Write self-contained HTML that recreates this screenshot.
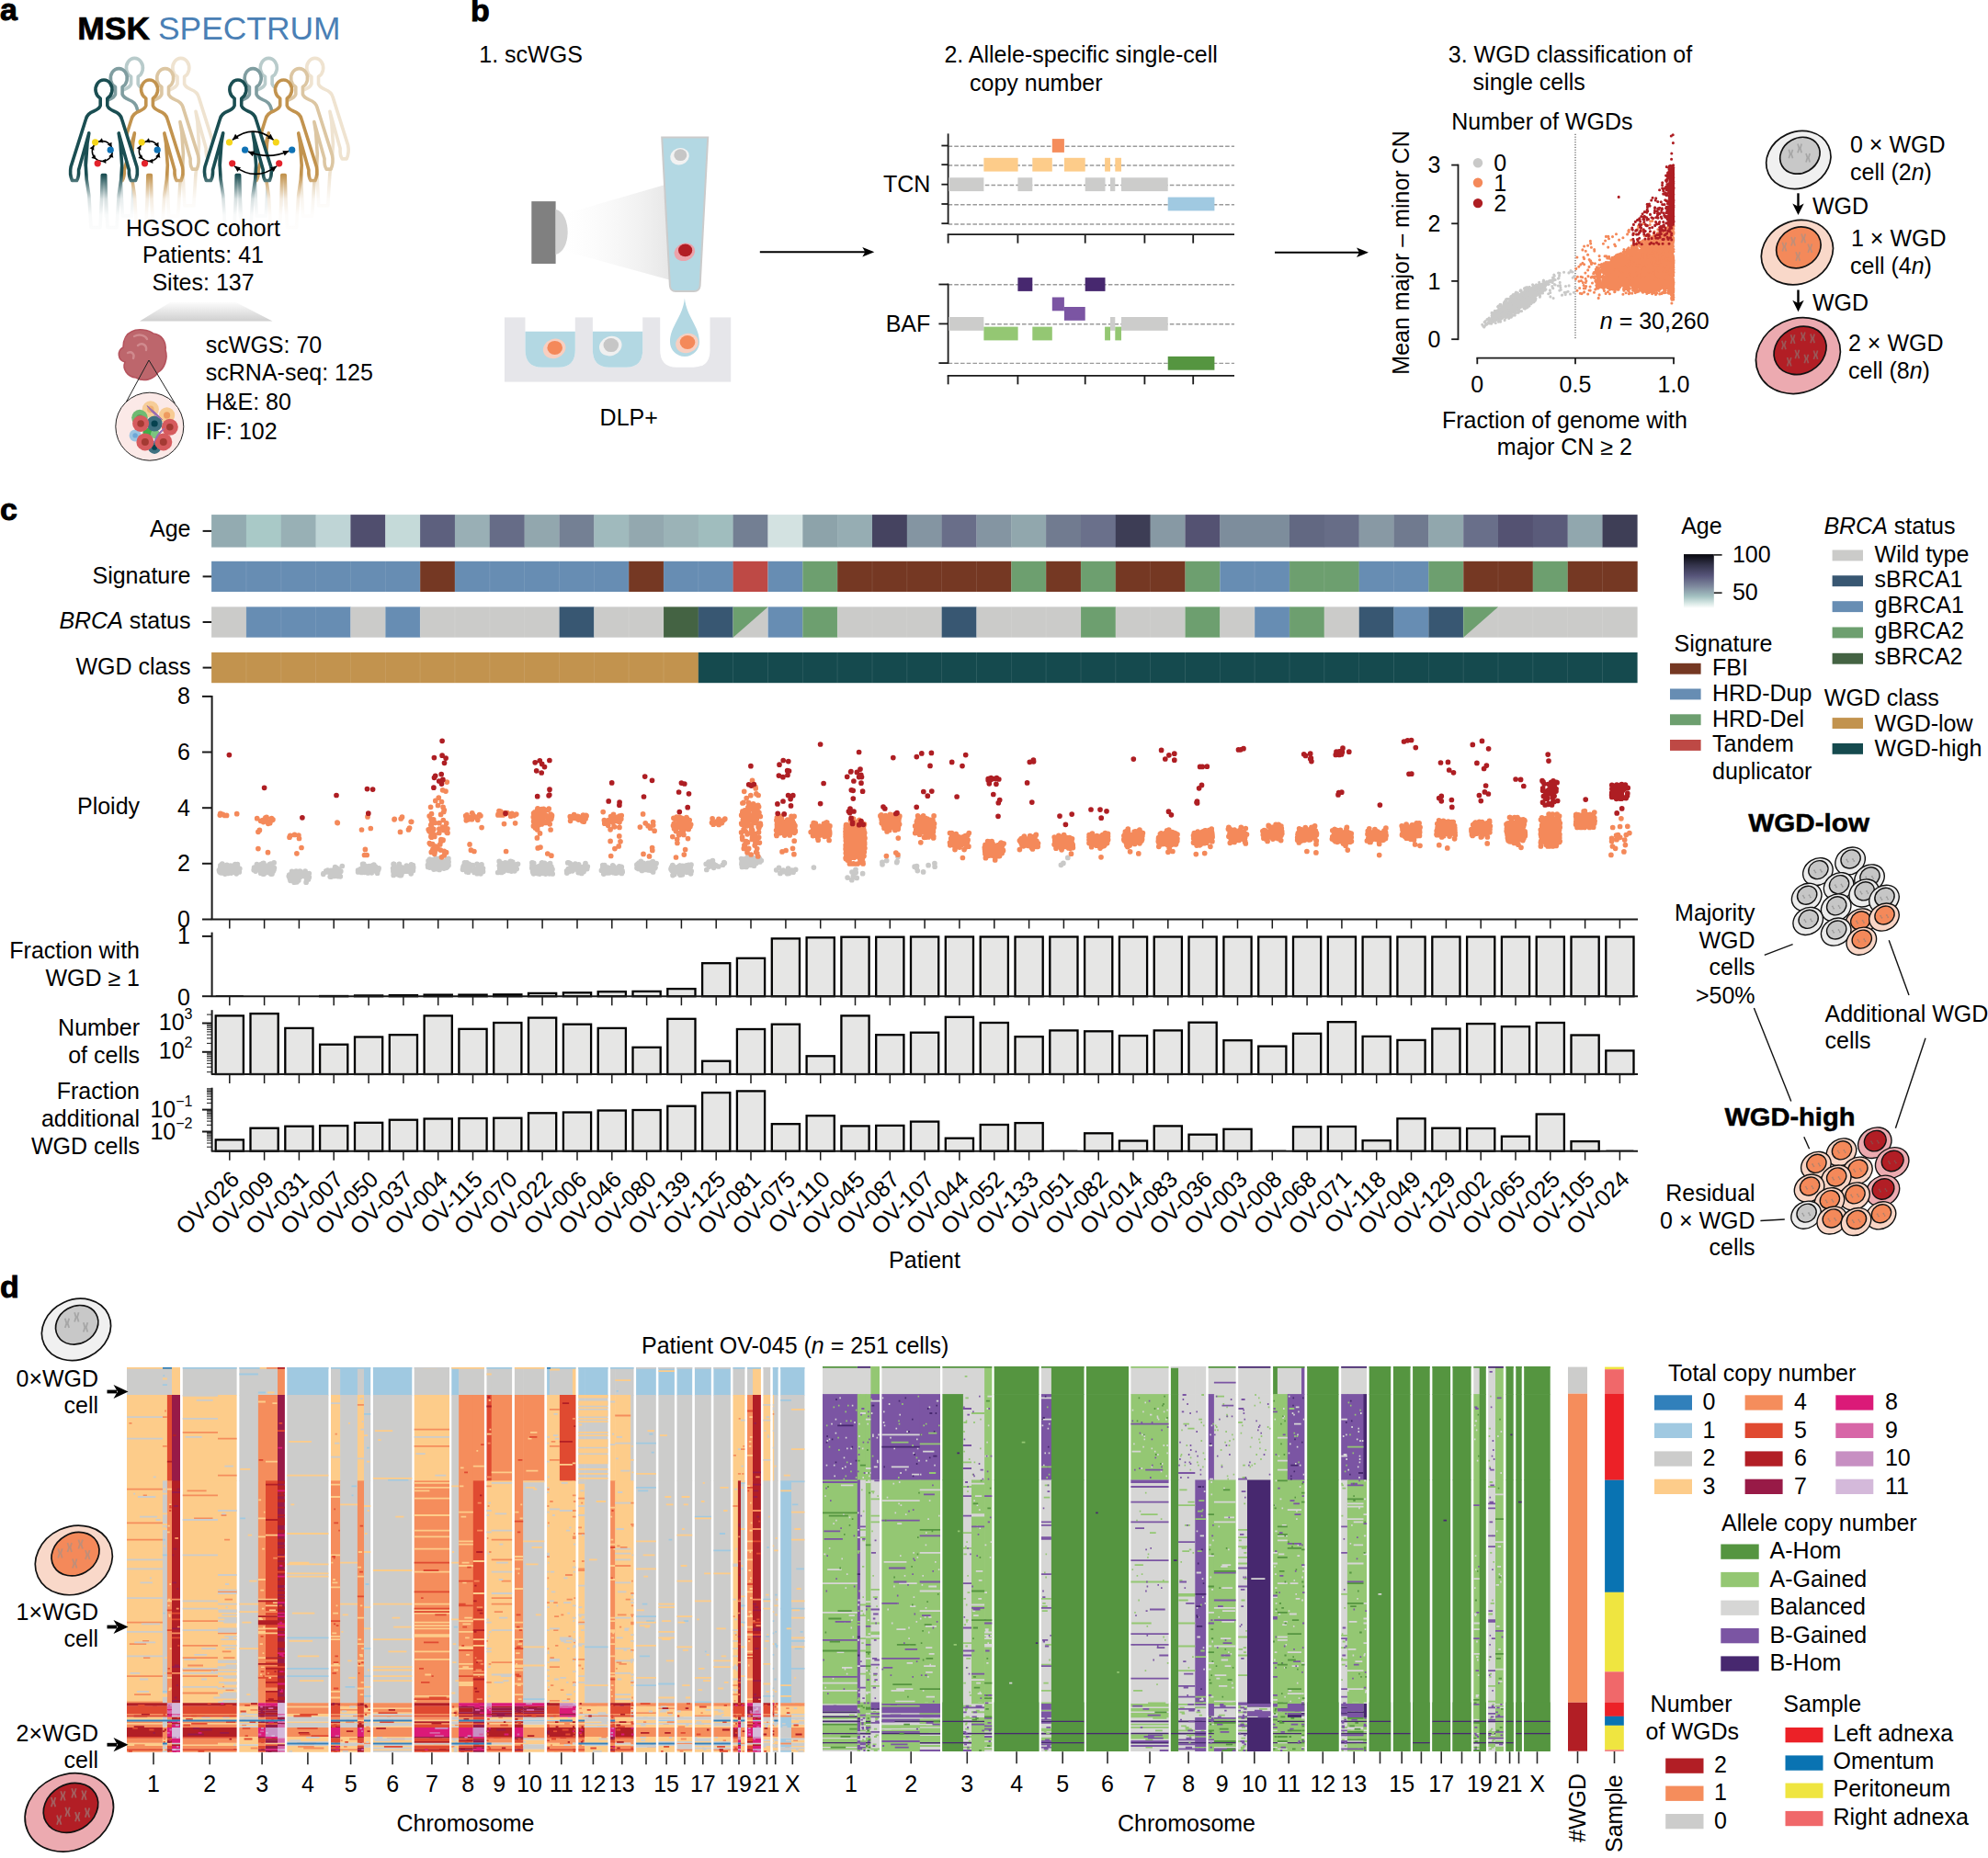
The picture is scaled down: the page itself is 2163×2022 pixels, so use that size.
<!DOCTYPE html>
<html><head><meta charset="utf-8"><title>Figure</title>
<style>html,body{margin:0;padding:0;background:#fff}svg{display:block}text{font-family:"Liberation Sans",sans-serif;fill:#000}</style>
</head><body>
<svg width="2163" height="2022" viewBox="0 0 2163 2022">
<g id="pa">
<text x="0" y="22" font-size="34" font-weight="bold" stroke="#000" stroke-width="0.9">a</text>
<text x="84.3" y="43" font-size="35" font-weight="bold" textLength="78.8" lengthAdjust="spacingAndGlyphs" stroke="#000" stroke-width="0.7">MSK</text>
<text x="172" y="43" font-size="35" style="fill:#4a80b5" textLength="198.6" lengthAdjust="spacingAndGlyphs">SPECTRUM</text>
<path d="M-3.8 17.5L-3.8 9.5A9 10.5 0 1 1 3.8 9.5L3.8 17.5Q5 21 11 23.5Q18 26 19.5 32L35.9 84Q37.5 92 34.5 99L29.5 99Q27 95 27.4 87.6L16.2 47.4L18 58.5L19.7 82.4L18.8 97.8L16.2 115L14 150L4 150L2.4 118L1.7 93L-1.7 93L-2.4 118L-4 150L-14 150L-16.2 115L-18.8 97.8L-19.7 82.4L-18 58.5L-16.2 47.4L-27.4 87.6Q-27 95 -29.5 99L-34.5 99Q-37.5 92 -35.9 84L-19.5 32Q-18 26 -11 23.5Q-5 21 -3.8 17.5Z" transform="translate(146.4,73.9) scale(1.0)" fill="#fff" stroke="#b8cbcb" stroke-width="3.6" stroke-linejoin="round"/>
<path d="M-3.8 17.5L-3.8 9.5A9 10.5 0 1 1 3.8 9.5L3.8 17.5Q5 21 11 23.5Q18 26 19.5 32L35.9 84Q37.5 92 34.5 99L29.5 99Q27 95 27.4 87.6L16.2 47.4L18 58.5L19.7 82.4L18.8 97.8L16.2 115L14 150L4 150L2.4 118L1.7 93L-1.7 93L-2.4 118L-4 150L-14 150L-16.2 115L-18.8 97.8L-19.7 82.4L-18 58.5L-16.2 47.4L-27.4 87.6Q-27 95 -29.5 99L-34.5 99Q-37.5 92 -35.9 84L-19.5 32Q-18 26 -11 23.5Q-5 21 -3.8 17.5Z" transform="translate(196.8,73.9) scale(1.0)" fill="#fff" stroke="#efe3d0" stroke-width="3.6" stroke-linejoin="round"/>
<path d="M-3.8 17.5L-3.8 9.5A9 10.5 0 1 1 3.8 9.5L3.8 17.5Q5 21 11 23.5Q18 26 19.5 32L35.9 84Q37.5 92 34.5 99L29.5 99Q27 95 27.4 87.6L16.2 47.4L18 58.5L19.7 82.4L18.8 97.8L16.2 115L14 150L4 150L2.4 118L1.7 93L-1.7 93L-2.4 118L-4 150L-14 150L-16.2 115L-18.8 97.8L-19.7 82.4L-18 58.5L-16.2 47.4L-27.4 87.6Q-27 95 -29.5 99L-34.5 99Q-37.5 92 -35.9 84L-19.5 32Q-18 26 -11 23.5Q-5 21 -3.8 17.5Z" transform="translate(129.3,85.1) scale(1.0)" fill="#fff" stroke="#7f9da0" stroke-width="3.6" stroke-linejoin="round"/>
<path d="M-3.8 17.5L-3.8 9.5A9 10.5 0 1 1 3.8 9.5L3.8 17.5Q5 21 11 23.5Q18 26 19.5 32L35.9 84Q37.5 92 34.5 99L29.5 99Q27 95 27.4 87.6L16.2 47.4L18 58.5L19.7 82.4L18.8 97.8L16.2 115L14 150L4 150L2.4 118L1.7 93L-1.7 93L-2.4 118L-4 150L-14 150L-16.2 115L-18.8 97.8L-19.7 82.4L-18 58.5L-16.2 47.4L-27.4 87.6Q-27 95 -29.5 99L-34.5 99Q-37.5 92 -35.9 84L-19.5 32Q-18 26 -11 23.5Q-5 21 -3.8 17.5Z" transform="translate(179.7,85.1) scale(1.0)" fill="#fff" stroke="#dcc6a2" stroke-width="3.6" stroke-linejoin="round"/>
<path d="M-3.8 17.5L-3.8 9.5A9 10.5 0 1 1 3.8 9.5L3.8 17.5Q5 21 11 23.5Q18 26 19.5 32L35.9 84Q37.5 92 34.5 99L29.5 99Q27 95 27.4 87.6L16.2 47.4L18 58.5L19.7 82.4L18.8 97.8L16.2 115L14 150L4 150L2.4 118L1.7 93L-1.7 93L-2.4 118L-4 150L-14 150L-16.2 115L-18.8 97.8L-19.7 82.4L-18 58.5L-16.2 47.4L-27.4 87.6Q-27 95 -29.5 99L-34.5 99Q-37.5 92 -35.9 84L-19.5 32Q-18 26 -11 23.5Q-5 21 -3.8 17.5Z" transform="translate(162.6,97.5) scale(1.0)" fill="#fff" stroke="#c2934e" stroke-width="3.6" stroke-linejoin="round"/>
<path d="M-3.8 17.5L-3.8 9.5A9 10.5 0 1 1 3.8 9.5L3.8 17.5Q5 21 11 23.5Q18 26 19.5 32L35.9 84Q37.5 92 34.5 99L29.5 99Q27 95 27.4 87.6L16.2 47.4L18 58.5L19.7 82.4L18.8 97.8L16.2 115L14 150L4 150L2.4 118L1.7 93L-1.7 93L-2.4 118L-4 150L-14 150L-16.2 115L-18.8 97.8L-19.7 82.4L-18 58.5L-16.2 47.4L-27.4 87.6Q-27 95 -29.5 99L-34.5 99Q-37.5 92 -35.9 84L-19.5 32Q-18 26 -11 23.5Q-5 21 -3.8 17.5Z" transform="translate(113,97.5) scale(1.0)" fill="#fff" stroke="#1a4e52" stroke-width="3.6" stroke-linejoin="round"/>
<path d="M-3.8 17.5L-3.8 9.5A9 10.5 0 1 1 3.8 9.5L3.8 17.5Q5 21 11 23.5Q18 26 19.5 32L35.9 84Q37.5 92 34.5 99L29.5 99Q27 95 27.4 87.6L16.2 47.4L18 58.5L19.7 82.4L18.8 97.8L16.2 115L14 150L4 150L2.4 118L1.7 93L-1.7 93L-2.4 118L-4 150L-14 150L-16.2 115L-18.8 97.8L-19.7 82.4L-18 58.5L-16.2 47.4L-27.4 87.6Q-27 95 -29.5 99L-34.5 99Q-37.5 92 -35.9 84L-19.5 32Q-18 26 -11 23.5Q-5 21 -3.8 17.5Z" transform="translate(292.3,73.9) scale(1.0)" fill="#fff" stroke="#b8cbcb" stroke-width="3.6" stroke-linejoin="round"/>
<path d="M-3.8 17.5L-3.8 9.5A9 10.5 0 1 1 3.8 9.5L3.8 17.5Q5 21 11 23.5Q18 26 19.5 32L35.9 84Q37.5 92 34.5 99L29.5 99Q27 95 27.4 87.6L16.2 47.4L18 58.5L19.7 82.4L18.8 97.8L16.2 115L14 150L4 150L2.4 118L1.7 93L-1.7 93L-2.4 118L-4 150L-14 150L-16.2 115L-18.8 97.8L-19.7 82.4L-18 58.5L-16.2 47.4L-27.4 87.6Q-27 95 -29.5 99L-34.5 99Q-37.5 92 -35.9 84L-19.5 32Q-18 26 -11 23.5Q-5 21 -3.8 17.5Z" transform="translate(342.7,73.9) scale(1.0)" fill="#fff" stroke="#efe3d0" stroke-width="3.6" stroke-linejoin="round"/>
<path d="M-3.8 17.5L-3.8 9.5A9 10.5 0 1 1 3.8 9.5L3.8 17.5Q5 21 11 23.5Q18 26 19.5 32L35.9 84Q37.5 92 34.5 99L29.5 99Q27 95 27.4 87.6L16.2 47.4L18 58.5L19.7 82.4L18.8 97.8L16.2 115L14 150L4 150L2.4 118L1.7 93L-1.7 93L-2.4 118L-4 150L-14 150L-16.2 115L-18.8 97.8L-19.7 82.4L-18 58.5L-16.2 47.4L-27.4 87.6Q-27 95 -29.5 99L-34.5 99Q-37.5 92 -35.9 84L-19.5 32Q-18 26 -11 23.5Q-5 21 -3.8 17.5Z" transform="translate(275.2,85.1) scale(1.0)" fill="#fff" stroke="#7f9da0" stroke-width="3.6" stroke-linejoin="round"/>
<path d="M-3.8 17.5L-3.8 9.5A9 10.5 0 1 1 3.8 9.5L3.8 17.5Q5 21 11 23.5Q18 26 19.5 32L35.9 84Q37.5 92 34.5 99L29.5 99Q27 95 27.4 87.6L16.2 47.4L18 58.5L19.7 82.4L18.8 97.8L16.2 115L14 150L4 150L2.4 118L1.7 93L-1.7 93L-2.4 118L-4 150L-14 150L-16.2 115L-18.8 97.8L-19.7 82.4L-18 58.5L-16.2 47.4L-27.4 87.6Q-27 95 -29.5 99L-34.5 99Q-37.5 92 -35.9 84L-19.5 32Q-18 26 -11 23.5Q-5 21 -3.8 17.5Z" transform="translate(325.6,85.1) scale(1.0)" fill="#fff" stroke="#dcc6a2" stroke-width="3.6" stroke-linejoin="round"/>
<path d="M-3.8 17.5L-3.8 9.5A9 10.5 0 1 1 3.8 9.5L3.8 17.5Q5 21 11 23.5Q18 26 19.5 32L35.9 84Q37.5 92 34.5 99L29.5 99Q27 95 27.4 87.6L16.2 47.4L18 58.5L19.7 82.4L18.8 97.8L16.2 115L14 150L4 150L2.4 118L1.7 93L-1.7 93L-2.4 118L-4 150L-14 150L-16.2 115L-18.8 97.8L-19.7 82.4L-18 58.5L-16.2 47.4L-27.4 87.6Q-27 95 -29.5 99L-34.5 99Q-37.5 92 -35.9 84L-19.5 32Q-18 26 -11 23.5Q-5 21 -3.8 17.5Z" transform="translate(308.5,97.5) scale(1.0)" fill="#fff" stroke="#c2934e" stroke-width="3.6" stroke-linejoin="round"/>
<path d="M-3.8 17.5L-3.8 9.5A9 10.5 0 1 1 3.8 9.5L3.8 17.5Q5 21 11 23.5Q18 26 19.5 32L35.9 84Q37.5 92 34.5 99L29.5 99Q27 95 27.4 87.6L16.2 47.4L18 58.5L19.7 82.4L18.8 97.8L16.2 115L14 150L4 150L2.4 118L1.7 93L-1.7 93L-2.4 118L-4 150L-14 150L-16.2 115L-18.8 97.8L-19.7 82.4L-18 58.5L-16.2 47.4L-27.4 87.6Q-27 95 -29.5 99L-34.5 99Q-37.5 92 -35.9 84L-19.5 32Q-18 26 -11 23.5Q-5 21 -3.8 17.5Z" transform="translate(258.9,97.5) scale(1.0)" fill="#fff" stroke="#1a4e52" stroke-width="3.6" stroke-linejoin="round"/>
<defs><linearGradient id="fade" x1="0" y1="0" x2="0" y2="1"><stop offset="0" stop-color="#fff" stop-opacity="0"/><stop offset="0.33" stop-color="#fff" stop-opacity="0.82"/><stop offset="0.55" stop-color="#fff" stop-opacity="0.97"/><stop offset="1" stop-color="#fff"/></linearGradient><linearGradient id="tri" x1="0" y1="0" x2="0" y2="1"><stop offset="0" stop-color="#d0d0d0" stop-opacity="0.05"/><stop offset="1" stop-color="#cfcfcf"/></linearGradient></defs>
<rect x="60" y="190" width="340" height="80" fill="url(#fade)"/>
<circle cx="111.3" cy="164.5" r="11" fill="none" stroke="#000" stroke-width="1.5"/>
<path d="M-2.2 -2.7L2.6 0L-2.2 2.7Z" fill="#000" transform="translate(101,160.6) rotate(299)"/>
<path d="M-2.2 -2.7L2.6 0L-2.2 2.7Z" fill="#000" transform="translate(109.6,153.6) rotate(163)"/>
<path d="M-2.2 -2.7L2.6 0L-2.2 2.7Z" fill="#000" transform="translate(120.2,158) rotate(61.6)"/>
<path d="M-2.2 -2.7L2.6 0L-2.2 2.7Z" fill="#000" transform="translate(121.4,168.9) rotate(-74.4)"/>
<path d="M-2.2 -2.7L2.6 0L-2.2 2.7Z" fill="#000" transform="translate(113.1,175.4) rotate(178.6)"/>
<path d="M-2.2 -2.7L2.6 0L-2.2 2.7Z" fill="#000" transform="translate(102.8,171.5) rotate(42.6)"/>
<circle cx="103.6" cy="154.8" r="3.6" fill="#f5d51a"/>
<circle cx="120.2" cy="163.2" r="3.6" fill="#0f72b5"/>
<circle cx="106.2" cy="177.8" r="3.6" fill="#e3222b"/>
<circle cx="162.3" cy="164.5" r="11" fill="none" stroke="#000" stroke-width="1.5"/>
<path d="M-2.2 -2.7L2.6 0L-2.2 2.7Z" fill="#000" transform="translate(152,160.6) rotate(299)"/>
<path d="M-2.2 -2.7L2.6 0L-2.2 2.7Z" fill="#000" transform="translate(160.6,153.6) rotate(163)"/>
<path d="M-2.2 -2.7L2.6 0L-2.2 2.7Z" fill="#000" transform="translate(171.2,158) rotate(61.6)"/>
<path d="M-2.2 -2.7L2.6 0L-2.2 2.7Z" fill="#000" transform="translate(172.4,168.9) rotate(-74.4)"/>
<path d="M-2.2 -2.7L2.6 0L-2.2 2.7Z" fill="#000" transform="translate(164.1,175.4) rotate(178.6)"/>
<path d="M-2.2 -2.7L2.6 0L-2.2 2.7Z" fill="#000" transform="translate(153.8,171.5) rotate(42.6)"/>
<circle cx="154.1" cy="154.8" r="3.6" fill="#f5d51a"/>
<circle cx="171.2" cy="163.2" r="3.6" fill="#0f72b5"/>
<circle cx="157.5" cy="177.8" r="3.6" fill="#e3222b"/>
<path d="M252.9 152.3Q275.3 134.1 297.7 152.3" fill="none" stroke="#000" stroke-width="1.6"/>
<path d="M0 0L-6.5 -3L-6.5 3Z" fill="#000" transform="translate(252.9,152.3) rotate(140.9)"/>
<path d="M0 0L-6.5 -3L-6.5 3Z" fill="#000" transform="translate(297.7,152.3) rotate(39.1)"/>
<path d="M270 164.9Q292.2 174.1 314.5 164.2" fill="none" stroke="#000" stroke-width="1.6"/>
<path d="M0 0L-6.5 -3L-6.5 3Z" fill="#000" transform="translate(270,164.9) rotate(-157.6)"/>
<path d="M0 0L-6.5 -3L-6.5 3Z" fill="#000" transform="translate(314.5,164.2) rotate(-23.9)"/>
<path d="M255 180.8Q278.1 198 301.1 180.8" fill="none" stroke="#000" stroke-width="1.6"/>
<path d="M0 0L-6.5 -3L-6.5 3Z" fill="#000" transform="translate(255,180.8) rotate(-143.3)"/>
<path d="M0 0L-6.5 -3L-6.5 3Z" fill="#000" transform="translate(301.1,180.8) rotate(-36.7)"/>
<circle cx="249.5" cy="154.8" r="3.6" fill="#f5d51a"/>
<circle cx="266.6" cy="163.2" r="3.6" fill="#0f72b5"/>
<circle cx="252.7" cy="177.8" r="3.6" fill="#e3222b"/>
<circle cx="300.3" cy="154.8" r="3.6" fill="#f5d51a"/>
<circle cx="317.7" cy="163.2" r="3.6" fill="#0f72b5"/>
<circle cx="303.7" cy="177.8" r="3.6" fill="#e3222b"/>
<text x="221" y="256.7" font-size="25" text-anchor="middle">HGSOC cohort</text>
<text x="221" y="286.3" font-size="25" text-anchor="middle">Patients: 41</text>
<text x="221" y="316" font-size="25" text-anchor="middle">Sites: 137</text>
<polygon points="186,328.5 255.8,328.5 296.5,349.4 152,349.4" fill="url(#tri)"/>
<path d="M143 361C150 357 162 359 167 363C176 364 181 372 180 381C183 390 179 401 172 405C168 413 156 416 148 411C138 410 133 401 136 394C128 392 127 382 134 378C134 369 138 363 143 361Z" fill="#bd666c" stroke="#b5535d" stroke-width="1.6"/>
<path d="M146 366C152 363 158 365 160 369M150 376C155 372 160 376 159 381M139 384C143 382 147 385 145 390" stroke="#d08a8e" stroke-width="2.4" fill="none" stroke-linecap="round"/>
<line x1="162" y1="392" x2="137.3" y2="437.5" stroke="#222" stroke-width="1"/>
<line x1="162" y1="392" x2="190.3" y2="439" stroke="#222" stroke-width="1"/>
<circle cx="162.8" cy="464.2" r="37" fill="#fbe9e7" stroke="#222" stroke-width="1"/>
<circle cx="163.8" cy="445.4" r="9.1" fill="#f6cd98"/><circle cx="163.8" cy="445.4" r="3.8" fill="#f0b073"/>
<circle cx="181.6" cy="451.9" r="8.6" fill="#f7cb93"/><circle cx="181.6" cy="451.9" r="3.6" fill="#ee9b5f"/>
<circle cx="152" cy="454.6" r="8.8" fill="#6fba72"/><circle cx="152" cy="454.6" r="3.7" fill="#56a35b"/>
<circle cx="147.1" cy="473.9" r="6.5" fill="#9bc4e2"/><circle cx="147.1" cy="473.9" r="2.7" fill="#6ea6d6"/>
<circle cx="160.6" cy="470.7" r="5.2" fill="#3fae49"/><circle cx="160.6" cy="470.7" r="2.2" fill="#3fae49"/>
<circle cx="169" cy="472.5" r="5" fill="#7cc47f"/><circle cx="169" cy="472.5" r="2.1" fill="#7cc47f"/>
<circle cx="168.1" cy="486.9" r="7" fill="#3f7080"/><circle cx="168.1" cy="486.9" r="2.9" fill="#06424f"/>
<circle cx="168.1" cy="461" r="8.6" fill="#3f7080"/><circle cx="168.1" cy="461" r="3.6" fill="#06424f"/>
<circle cx="153.1" cy="461" r="9" fill="#d65b5e"/><circle cx="153.1" cy="461" r="3.8" fill="#a43a33"/>
<circle cx="184.8" cy="464.8" r="9" fill="#d65b5e"/><circle cx="184.8" cy="464.8" r="3.8" fill="#a43a33"/>
<circle cx="157.9" cy="480.9" r="9.5" fill="#d65b5e"/><circle cx="157.9" cy="480.9" r="4" fill="#a43a33"/>
<circle cx="177.8" cy="480.9" r="9.5" fill="#d65b5e"/><circle cx="177.8" cy="480.9" r="4" fill="#a43a33"/>
<path d="M160 441.6Q170 449 176.7 456.7Q167 452 160 441.6ZM178.9 466.4Q172 473 167.6 481.5Q171 470 178.9 466.4Z" fill="#9a6db0" stroke="#9a6db0" stroke-width="1"/>
<text x="223.8" y="384.4" font-size="25">scWGS: 70</text>
<text x="223.8" y="414.2" font-size="25">scRNA-seq: 125</text>
<text x="223.8" y="445.6" font-size="25">H&amp;E: 80</text>
<text x="223.8" y="477.6" font-size="25">IF: 102</text>
</g>
<g id="pb">
<text x="512" y="23" font-size="34" font-weight="bold" stroke="#000" stroke-width="0.9">b</text>
<text x="521.3" y="68" font-size="25">1. scWGS</text>
<text x="1027.4" y="68" font-size="25">2. Allele-specific single-cell</text>
<text x="1055" y="98.7" font-size="25">copy number</text>
<text x="1575.8" y="68.3" font-size="25">3. WGD classification of</text>
<text x="1602.6" y="98" font-size="25">single cells</text>
<text x="684.2" y="462.7" font-size="25" text-anchor="middle">DLP+</text>
<line x1="826.8" y1="274.3" x2="945.3" y2="274.3" stroke="#000" stroke-width="2"/>
<path d="M951.3 274.3l-13 -5.2l3 5.2l-3 5.2z" fill="#000"/>
<line x1="1387" y1="274.8" x2="1483" y2="274.8" stroke="#000" stroke-width="2"/>
<path d="M1489 274.8l-13 -5.2l3 5.2l-3 5.2z" fill="#000"/>
<defs><linearGradient id="cone" x1="0" x2="1"><stop offset="0" stop-color="#fff" stop-opacity="0.2"/><stop offset="1" stop-color="#e6e6e6"/></linearGradient></defs>
<polygon points="610,234 722,201.5 730,305 610,272" fill="url(#cone)"/>
<rect x="578.3" y="219.1" width="26.3" height="67.9" fill="#808080"/>
<path d="M604.6 227.7 C622 232 622 273 604.6 277Z" fill="#d2d2d2"/>
<path d="M720.2 149.5L770.2 149.5L761.6 311Q761 317 755 317L735 317Q729.5 317 728.9 311Z" fill="#b3d8e3" stroke="#cbcbcb" stroke-width="2"/>
<ellipse cx="739.5" cy="170.2" rx="10.5" ry="9" fill="#f2f2f2" transform="rotate(-20 739.5 170.2)"/><ellipse cx="740.3" cy="168.7" rx="7" ry="6.4" fill="#c6c6c6"/>
<ellipse cx="744.9" cy="274.3" rx="11.5" ry="9.5" fill="#eba3ab" transform="rotate(-20 744.9 274.3)"/><ellipse cx="745.6" cy="272.4" rx="7.6" ry="6.8" fill="#b21e25"/>
<rect x="548.9" y="345.4" width="246.3" height="70.2" fill="#e6e6ea"/>
<path d="M571.5 345L625.8 345L625.8 381Q625.8 399.7 607.8 399.7L589.5 399.7Q571.5 399.7 571.5 381Z" fill="#fff"/>
<path d="M571.5 360.8L625.8 360.8L625.8 381Q625.8 399.7 607.8 399.7L589.5 399.7Q571.5 399.7 571.5 381Z" fill="#b3d8e3"/>
<path d="M644.9 345L699.2 345L699.2 381Q699.2 399.7 681.2 399.7L662.9 399.7Q644.9 399.7 644.9 381Z" fill="#fff"/>
<path d="M644.9 360.8L699.2 360.8L699.2 381Q699.2 399.7 681.2 399.7L662.9 399.7Q644.9 399.7 644.9 381Z" fill="#b3d8e3"/>
<path d="M718.2 345L772.5 345L772.5 381Q772.5 399.7 754.5 399.7L736.2 399.7Q718.2 399.7 718.2 381Z" fill="#fff"/>
<path d="M744.9 324.5C747 345 761 355 761 372A16 16 0 0 1 729 372C729 355 743 345 744.9 324.5Z" fill="#b3d8e3"/>
<ellipse cx="603.2" cy="379.4" rx="12.5" ry="10.5" fill="#f8cfc0" transform="rotate(-20 603.2 379.4)"/><ellipse cx="603.7" cy="378.4" rx="8.3" ry="7.5" fill="#f4895a"/>
<ellipse cx="664.3" cy="376.6" rx="12.5" ry="10.5" fill="#f0f0f0" transform="rotate(-20 664.3 376.6)"/><ellipse cx="664.8" cy="375.6" rx="8.3" ry="7.5" fill="#c6c6c6"/>
<ellipse cx="747.5" cy="373.5" rx="12.5" ry="10.5" fill="#f8cfc0" transform="rotate(-20 747.5 373.5)"/><ellipse cx="748" cy="372.5" rx="8.3" ry="7.5" fill="#f4895a"/>
<text x="1012.3" y="208.7" font-size="25" text-anchor="end">TCN</text>
<text x="1012.3" y="360.9" font-size="25" text-anchor="end">BAF</text>
<line x1="1031.6" y1="159.3" x2="1343" y2="159.3" stroke="#9a9a9a" stroke-width="1.4" stroke-dasharray="4.6 2.1"/>
<line x1="1024.4" y1="158.5" x2="1031.6" y2="158.5" stroke="#1a1a1a" stroke-width="1.8"/>
<line x1="1031.6" y1="180" x2="1343" y2="180" stroke="#9a9a9a" stroke-width="1.4" stroke-dasharray="4.6 2.1"/>
<line x1="1024.4" y1="179.2" x2="1031.6" y2="179.2" stroke="#1a1a1a" stroke-width="1.8"/>
<line x1="1031.6" y1="201.5" x2="1343" y2="201.5" stroke="#9a9a9a" stroke-width="1.4" stroke-dasharray="4.6 2.1"/>
<line x1="1024.4" y1="200.7" x2="1031.6" y2="200.7" stroke="#1a1a1a" stroke-width="1.8"/>
<line x1="1031.6" y1="222.8" x2="1343" y2="222.8" stroke="#9a9a9a" stroke-width="1.4" stroke-dasharray="4.6 2.1"/>
<line x1="1024.4" y1="222" x2="1031.6" y2="222" stroke="#1a1a1a" stroke-width="1.8"/>
<line x1="1031.6" y1="244" x2="1343" y2="244" stroke="#9a9a9a" stroke-width="1.4" stroke-dasharray="4.6 2.1"/>
<line x1="1024.4" y1="243.2" x2="1031.6" y2="243.2" stroke="#1a1a1a" stroke-width="1.8"/>
<line x1="1031.6" y1="145.4" x2="1031.6" y2="244" stroke="#1a1a1a" stroke-width="1.8"/>
<line x1="1031.6" y1="309.8" x2="1343" y2="309.8" stroke="#9a9a9a" stroke-width="1.4" stroke-dasharray="4.6 2.1"/>
<line x1="1021.4" y1="309.5" x2="1031.6" y2="309.5" stroke="#1a1a1a" stroke-width="1.8"/>
<line x1="1031.6" y1="352.7" x2="1343" y2="352.7" stroke="#9a9a9a" stroke-width="1.4" stroke-dasharray="4.6 2.1"/>
<line x1="1021.4" y1="352.4" x2="1031.6" y2="352.4" stroke="#1a1a1a" stroke-width="1.8"/>
<line x1="1031.6" y1="395.4" x2="1343" y2="395.4" stroke="#9a9a9a" stroke-width="1.4" stroke-dasharray="4.6 2.1"/>
<line x1="1021.4" y1="395.1" x2="1031.6" y2="395.1" stroke="#1a1a1a" stroke-width="1.8"/>
<line x1="1031.6" y1="308.6" x2="1031.6" y2="396" stroke="#1a1a1a" stroke-width="1.8"/>
<line x1="1030.7" y1="255.2" x2="1343" y2="255.2" stroke="#1a1a1a" stroke-width="1.8"/>
<line x1="1031.6" y1="255.2" x2="1031.6" y2="264.7" stroke="#1a1a1a" stroke-width="1.8"/>
<line x1="1107.4" y1="255.2" x2="1107.4" y2="264.7" stroke="#1a1a1a" stroke-width="1.8"/>
<line x1="1180.7" y1="255.2" x2="1180.7" y2="264.7" stroke="#1a1a1a" stroke-width="1.8"/>
<line x1="1245.4" y1="255.2" x2="1245.4" y2="264.7" stroke="#1a1a1a" stroke-width="1.8"/>
<line x1="1298.2" y1="255.2" x2="1298.2" y2="264.7" stroke="#1a1a1a" stroke-width="1.8"/>
<line x1="1030.7" y1="408.8" x2="1343" y2="408.8" stroke="#1a1a1a" stroke-width="1.8"/>
<line x1="1031.6" y1="408.8" x2="1031.6" y2="418.3" stroke="#1a1a1a" stroke-width="1.8"/>
<line x1="1107.4" y1="408.8" x2="1107.4" y2="418.3" stroke="#1a1a1a" stroke-width="1.8"/>
<line x1="1180.7" y1="408.8" x2="1180.7" y2="418.3" stroke="#1a1a1a" stroke-width="1.8"/>
<line x1="1245.4" y1="408.8" x2="1245.4" y2="418.3" stroke="#1a1a1a" stroke-width="1.8"/>
<line x1="1298.2" y1="408.8" x2="1298.2" y2="418.3" stroke="#1a1a1a" stroke-width="1.8"/>
<rect x="1144.8" y="151.1" width="13.1" height="14.8" fill="#f58d5c"/>
<rect x="1070.4" y="171.8" width="37.2" height="14.8" fill="#fdcc8a"/>
<rect x="1123.3" y="171.8" width="21.5" height="14.8" fill="#fdcc8a"/>
<rect x="1157.9" y="171.8" width="22.8" height="14.8" fill="#fdcc8a"/>
<rect x="1202.1" y="171.8" width="5.9" height="14.8" fill="#fdcc8a"/>
<rect x="1213.3" y="171.8" width="6.7" height="14.8" fill="#fdcc8a"/>
<rect x="1032" y="193.3" width="38.4" height="14.8" fill="#cccccb"/>
<rect x="1107.4" y="193.3" width="15.9" height="14.8" fill="#cccccb"/>
<rect x="1180.7" y="193.3" width="21.8" height="14.8" fill="#cccccb"/>
<rect x="1208" y="193.3" width="5.3" height="14.8" fill="#cccccb"/>
<rect x="1220" y="193.3" width="50.7" height="14.8" fill="#cccccb"/>
<rect x="1270.7" y="214.6" width="50.7" height="14.8" fill="#a0c9e1"/>
<rect x="1107.4" y="302.1" width="15.9" height="14.8" fill="#47286f"/>
<rect x="1180.7" y="302.1" width="21.8" height="14.8" fill="#47286f"/>
<rect x="1144.8" y="323.5" width="13.1" height="14.8" fill="#7b55a3"/>
<rect x="1157.9" y="334" width="22.8" height="14.8" fill="#7b55a3"/>
<rect x="1032" y="345" width="38.4" height="14.8" fill="#cccccb"/>
<rect x="1208" y="345" width="5.3" height="14.8" fill="#cccccb"/>
<rect x="1220" y="345" width="50.7" height="14.8" fill="#cccccb"/>
<rect x="1070.4" y="355.6" width="37.2" height="14.8" fill="#94c773"/>
<rect x="1123.3" y="355.6" width="21.5" height="14.8" fill="#94c773"/>
<rect x="1202.1" y="355.6" width="5.9" height="14.8" fill="#94c773"/>
<rect x="1213.3" y="355.6" width="6.7" height="14.8" fill="#94c773"/>
<rect x="1270.7" y="387.9" width="50.7" height="14.8" fill="#559540"/>
<text x="1579.2" y="141.2" font-size="25">Number of WGDs</text>
<line x1="1586.5" y1="178.7" x2="1586.5" y2="370.1" stroke="#1a1a1a" stroke-width="1.8"/>
<line x1="1579.2" y1="179.6" x2="1586.5" y2="179.6" stroke="#1a1a1a" stroke-width="1.8"/>
<text x="1567.5" y="188.3" font-size="25" text-anchor="end">3</text>
<line x1="1579.2" y1="243.3" x2="1586.5" y2="243.3" stroke="#1a1a1a" stroke-width="1.8"/>
<text x="1567.5" y="252" font-size="25" text-anchor="end">2</text>
<line x1="1579.2" y1="305.9" x2="1586.5" y2="305.9" stroke="#1a1a1a" stroke-width="1.8"/>
<text x="1567.5" y="314.6" font-size="25" text-anchor="end">1</text>
<line x1="1579.2" y1="369.2" x2="1586.5" y2="369.2" stroke="#1a1a1a" stroke-width="1.8"/>
<text x="1567.5" y="377.9" font-size="25" text-anchor="end">0</text>
<line x1="1606.4" y1="389.6" x2="1821.9" y2="389.6" stroke="#1a1a1a" stroke-width="1.8"/>
<line x1="1607.3" y1="389.6" x2="1607.3" y2="396.2" stroke="#1a1a1a" stroke-width="1.8"/>
<text x="1607.3" y="426.5" font-size="25" text-anchor="middle">0</text>
<line x1="1714" y1="389.6" x2="1714" y2="396.2" stroke="#1a1a1a" stroke-width="1.8"/>
<text x="1714" y="426.5" font-size="25" text-anchor="middle">0.5</text>
<line x1="1821" y1="389.6" x2="1821" y2="396.2" stroke="#1a1a1a" stroke-width="1.8"/>
<text x="1821" y="426.5" font-size="25" text-anchor="middle">1.0</text>
<text transform="translate(1532.5,275) rotate(-90)" text-anchor="middle" font-size="25">Mean major – minor CN</text>
<text x="1702.4" y="465.6" font-size="25" text-anchor="middle">Fraction of genome with</text>
<text x="1702.4" y="495.4" font-size="25" text-anchor="middle">major CN ≥ 2</text>
<line x1="1714" y1="145.8" x2="1714" y2="369.2" stroke="#333" stroke-width="1" stroke-dasharray="1.2 1.6"/>
<ellipse cx="1652" cy="329" rx="38" ry="7.5" fill="#c9c9c8" transform="rotate(-33.7 1652 329)"/>
<polygon points="1748.3,309.1 1778.3,311.3 1821,314.3 1821,251.1 1778.3,276 1748.3,293.4" fill="#f4895a"/>
<rect x="1815.7" y="182.8" width="6.3" height="60" fill="#ae1e23"/>
<path d="M1630.6 348.4h0M1632.5 349.8h0M1643.7 322.7h0M1613.5 354.5h0M1682 314.9h0M1637.6 329.4h0M1637.6 339.6h0M1655.8 328.3h0M1663.7 316.2h0M1658 335.5h0M1656.6 333.4h0M1636.3 331.1h0M1638.6 325.8h0M1649.2 340h0M1661.1 335h0M1669.5 325.8h0M1639.9 338h0M1690.8 303.9h0M1667.4 323h0M1691.4 304.8h0M1663.9 317.9h0M1637.8 330.5h0M1654.2 322.6h0M1659 326.9h0M1681.4 307.4h0M1650.4 325.3h0M1659.6 319.5h0M1630.9 342.7h0M1655.6 338.6h0M1640 325.3h0M1646.3 320.6h0M1614.1 355.5h0M1629.6 333.7h0M1667.6 309.7h0M1670.4 310.9h0M1691 304.1h0M1690.1 302.9h0M1630.2 340.8h0M1616.1 349.6h0M1649.5 336.9h0M1658.7 313.7h0M1614.8 355.9h0M1668.6 320.4h0M1666.6 329.3h0M1627.9 345.9h0M1690.1 302.8h0M1642 325.2h0M1659.7 315.7h0M1624.1 342.2h0M1612.7 353.3h0M1676.1 311.4h0M1646.9 325.8h0M1620.5 349.5h0M1630.3 342h0M1689.5 302h0M1667.3 318.7h0M1660.3 329.2h0M1648 342.5h0M1624.7 340.5h0M1625.6 345.6h0M1673.3 311.1h0M1683.1 307.7h0M1691.4 304.8h0M1651.3 328.3h0M1619.4 350.5h0M1652 323.7h0M1641.3 333.2h0M1664 333h0M1679.4 310.7h0M1643.1 331h0M1668.5 324.3h0M1664.6 329.5h0M1631.5 347.6h0M1680.4 313h0M1633.2 338.7h0M1624.1 350.3h0M1650.6 336.6h0M1676.4 316.2h0M1640.4 340.2h0M1690.6 303.6h0M1675.4 309.3h0M1655.8 330.8h0M1616.4 353.8h0M1663.9 328.3h0M1637.6 343.6h0M1678.3 317.2h0M1632.3 348.8h0M1684.3 309.6h0M1690.5 303.4h0M1644.8 334.5h0M1675.3 322.2h0M1685 306.8h0M1642.9 340.4h0M1620.1 346.1h0M1658.9 328.5h0M1625.4 345.5h0M1628.3 347.1h0M1629.3 347.8h0M1663.1 320.2h0M1655.8 330.2h0M1659.4 327.3h0M1679.4 305h0M1633.2 331.6h0M1650.3 320.9h0M1643.2 327.2h0M1658.6 313.8h0M1633.8 343.4h0M1657.3 327.7h0M1649.5 318.1h0M1690.2 303.1h0M1643.9 324.8h0M1675.3 319.9h0M1649.5 333.5h0M1651.2 319.4h0M1635.2 341.9h0M1652.1 340.3h0M1664.2 328.4h0M1634.3 343.7h0M1645.5 335.7h0M1660.9 324.6h0M1690.7 303.7h0M1636.4 336h0M1648.1 321.7h0M1652.2 330.5h0M1645.1 336.7h0M1649.1 340.5h0M1634 335h0M1664.9 315.8h0M1675.6 322.4h0M1653.4 338.4h0M1644.2 345.2h0M1643.1 334.8h0M1641.7 346.5h0M1660.8 322.9h0M1642.5 326h0M1675.3 315.6h0M1639.1 343.7h0M1661.6 330.7h0M1675 309.9h0M1659.1 335.2h0M1652.3 323h0M1633.7 333.6h0M1669.8 319.4h0M1650.5 329.3h0M1637.6 343.8h0M1627.1 338.5h0M1653.5 328.8h0M1633.4 337.9h0M1644.4 333.2h0M1674.6 311.5h0M1645.8 321.5h0M1623.4 344.4h0M1614.3 355.8h0M1664.8 321.5h0M1686.5 305.4h0M1656.1 328.2h0M1644.4 333.6h0M1627.3 351.5h0M1640.5 344.4h0M1662 315.4h0M1636.4 329.2h0M1689.3 306.3h0M1642.3 330.3h0M1634.4 346.2h0M1661.2 322.3h0M1646.6 333.8h0M1630.7 336.1h0M1653.3 330.3h0M1651.7 322.4h0M1648.6 339.1h0M1654.4 315.8h0M1624.7 350.2h0M1690.8 304h0M1637.4 327.9h0M1661.4 326.3h0M1645 344.2h0M1647.1 327.1h0M1646 342.9h0M1667.4 316.9h0M1671.5 309.8h0M1643.2 325.1h0M1646.4 329.7h0M1659.1 326.1h0M1657.8 331.2h0M1659 322.6h0M1642.4 330.8h0M1637.2 347.7h0M1636.9 336.2h0M1679.1 306.3h0M1664.1 324h0M1613.7 354.8h0M1651.8 332.2h0M1647 326.1h0M1679.3 314.8h0M1638.4 331.8h0M1649.4 327.5h0M1653.4 333.4h0M1641 339.9h0M1674.7 307.4h0M1663.5 313.1h0M1643.7 343.3h0M1643.5 334.2h0M1631.3 332.6h0M1685.3 309.2h0M1667.8 329.1h0M1657.9 329.6h0M1659.2 336.1h0M1663.7 325.2h0M1658.2 328h0M1640.4 333.3h0M1655 329.8h0M1668.6 314.8h0M1647.5 340h0M1660.8 326.7h0M1663.2 330.2h0M1631.9 342.7h0M1632.1 346.7h0M1636.5 337h0M1652.9 321h0M1649.7 319h0M1672.2 320.9h0M1632.1 331.2h0M1613.8 355h0M1659.1 322.5h0M1639.1 329.3h0M1650 321.7h0M1641.9 344.3h0M1662.5 314.2h0M1647.6 323.4h0M1666.1 315h0M1648.7 319.4h0M1678.5 318.9h0M1620.6 351.9h0M1687.5 306.8h0M1612.8 353.5h0M1662.5 326.1h0M1646.9 338h0M1679.1 306.5h0M1650.2 323.4h0M1651.4 318.8h0M1613.3 354.2h0M1682.6 306.5h0M1638.2 343.2h0M1657.8 330.6h0M1661.7 326.7h0M1669.4 327.5h0M1644 345.2h0M1630.2 333.1h0M1684 306.7h0M1660.3 313.1h0M1613.6 354.7h0M1632.4 339h0M1663 331.5h0M1656.2 326h0M1655.2 320.5h0M1644.2 322.9h0M1643.5 328.6h0M1655.2 324.6h0M1644.4 322.4h0M1663.5 333h0M1661.2 320.5h0M1673.9 314.9h0M1663.1 313h0M1661.3 323.8h0M1678.8 317.3h0M1636.1 333.1h0M1676.8 312.2h0M1655.6 328.4h0M1633.9 345.5h0M1675.5 321.5h0M1647.9 339.7h0M1670.1 311.6h0M1660.7 313.8h0M1666.5 325.7h0M1655.2 317.8h0M1632 333.3h0M1651.4 327.6h0M1661.3 324.7h0M1654.5 332.4h0M1654.1 316.6h0M1655.7 323.4h0M1663.7 312.5h0M1639.2 343.1h0M1661 324.4h0M1677.4 316.6h0M1634.9 342h0M1617.9 353h0M1670 327.4h0M1645 327.9h0M1622.7 352.2h0M1639.3 326.9h0M1655.4 318.6h0M1647.1 326.9h0M1679.6 305.2h0M1648.7 319.3h0M1623.1 341.1h0M1668.7 326.1h0M1670.5 326.8h0M1640.1 335.3h0M1641 333h0M1651.4 331.5h0M1658.6 332.8h0M1651 330.4h0M1639.4 329.5h0M1651.5 340.2h0M1633.4 347h0M1669.3 326.9h0M1663.5 320.4h0M1634.5 345.9h0M1665.6 330.5h0M1613.8 354.9h0M1636.9 329.7h0M1655.2 316h0M1637.1 348.5h0M1677.7 311.6h0M1661.8 331.9h0M1638.6 332.7h0M1657.4 318.2h0M1636.9 344.3h0M1641.8 329.4h0M1648.3 343.1h0M1667.8 326.3h0M1667.4 316.6h0M1626.4 339.6h0M1658.5 313.9h0M1628.7 338.1h0M1680.9 316h0M1667.8 312.4h0M1659.3 328.7h0M1638.5 345.7h0M1625.2 344.9h0M1623.1 340.3h0M1623.1 343.5h0M1648.7 328.4h0M1647.9 327h0M1654.9 324.1h0M1620.4 348.9h0M1662.2 334.2h0M1672.1 319.5h0M1613.9 355.1h0M1616.4 351.7h0M1644.8 336.1h0M1639.1 332.5h0M1626.3 338.4h0M1668.9 319.5h0M1664.7 326.7h0M1653.1 339h0M1633 336.9h0M1653.3 334.5h0M1646.3 336.9h0M1690.8 303.9h0M1644.2 342.1h0M1646.6 325.2h0M1624.5 347.6h0M1668.9 328.8h0M1643.5 335.8h0M1649.5 327.9h0M1649.2 322.7h0M1630.5 350.2h0M1617 353.2h0M1646.8 337.1h0M1658.9 325.7h0M1652.2 338.5h0M1630.3 337.7h0M1648 334.7h0M1671 325.1h0M1668.9 323.7h0M1674.6 309.3h0M1678.6 316.9h0M1666.1 328.6h0M1648.3 329.6h0M1631.5 343.2h0M1663.8 316.2h0M1643.5 337.2h0M1659.7 313.1h0M1644.8 324.1h0M1624.3 342.3h0M1638.1 330.9h0M1629.4 347.3h0M1638 343.2h0M1676.4 319h0M1665.8 330.8h0M1637.1 342.1h0M1689.1 307.4h0M1660 332.2h0M1682.7 308.2h0M1658.9 316.3h0M1655.2 316.9h0M1664.2 312.4h0M1676.9 317h0M1652.3 336.4h0M1615.7 354.5h0M1690.7 303.7h0M1632.6 350.1h0M1654.6 316.6h0M1654.3 320.2h0M1638.1 342.2h0M1670.3 322.1h0M1670.1 317.8h0M1660.9 320.1h0M1670.9 313.9h0M1672 319.4h0M1614.5 356h0M1648.5 320.6h0M1651.6 324.1h0M1618 347.6h0M1635.6 344.8h0M1659.3 334.6h0M1639.7 337.2h0M1665.4 324.7h0M1656.1 321.3h0M1625.2 344.3h0M1661.4 312.6h0M1631.4 341.2h0M1649.3 320h0M1680.4 307.1h0M1675.4 323.2h0M1665.5 321h0M1615.1 350.5h0M1682 307.3h0M1708.5 320h0M1707.1 310.9h0M1684.7 319.8h0M1697.9 312.8h0M1699.7 321.1h0M1690.8 299h0M1697.5 310.6h0M1686.8 318.5h0M1712.8 300.8h0M1699.4 321.2h0M1696 302.8h0M1697.2 307.4h0M1711.2 302.3h0M1703.3 320.6h0M1684.9 306h0M1696.6 300.1h0M1708.9 295.7h0M1695.6 297.1h0M1706.9 296.9h0M1688.7 304.7h0M1696.9 297.4h0M1714 312.9h0M1696.8 316.1h0M1698.3 315.3h0M1704.2 318h0M1689.3 313.1h0M1686.4 315.9h0M1711.1 296h0M1690.1 324.5h0M1709 294.5h0M1702.2 318.2h0M1691.3 300.3h0M1712.3 318.3h0M1689.8 313.7h0M1692.2 304.5h0M1695.4 303.1h0M1688.8 311.6h0M1713.4 300.2h0M1686.9 322.9h0M1703.5 311.5h0M1695.3 311h0M1701.6 296.3h0M1691.4 309.6h0M1692.1 310h0M1706.1 317.2h0" stroke="#c9c9c8" stroke-width="3.1" stroke-linecap="round" fill="none"/>
<path d="M1820.4 264.2h0M1750.5 311.6h0M1769.2 293.6h0M1813.2 264h0M1780.3 306.5h0M1802.2 315.4h0M1782.7 297.1h0M1753.8 309.9h0M1787.4 261.8h0M1794.7 263.3h0M1740 294.7h0M1752.1 308.1h0M1816.6 268.6h0M1784.9 263h0M1807.5 267.5h0M1797.6 306.6h0M1768.4 281h0M1811.3 263.7h0M1762.7 307.6h0M1742.7 295.1h0M1748.1 292.5h0M1779 286.8h0M1819.9 258.1h0M1801 260h0M1776.6 316.1h0M1774.7 296h0M1736.5 293.3h0M1810.5 300.6h0M1793.6 271.7h0M1797.4 265h0M1817.1 290.3h0M1768.4 295.3h0M1784.1 295.9h0M1762.8 307.4h0M1740.7 298.3h0M1771.9 280.4h0M1744.8 301.8h0M1796.1 307.7h0M1753.5 292.8h0M1754 298h0M1763.8 279.7h0M1813.8 260.3h0M1766.6 281.8h0M1742.2 309.2h0M1775.3 275.9h0M1801.3 274.5h0M1790.2 296.3h0M1811.2 298h0M1819.8 316.3h0M1801.1 291.4h0M1817.5 306.6h0M1802.9 257.7h0M1756.8 312.7h0M1752.6 291h0M1750.5 305.8h0M1813.1 312.8h0M1781.6 307.3h0M1778.2 291.9h0M1780.3 284.9h0M1808.6 285.4h0M1787.4 272h0M1817.1 306.2h0M1760.9 311.5h0M1820.4 282.4h0M1751 307.6h0M1786.6 267.6h0M1819 248.9h0M1812 303h0M1746.5 294.2h0M1758 310.2h0M1764.2 283.8h0M1820.4 250.6h0M1743 292.5h0M1809.1 301.7h0M1799.4 300.4h0M1819.9 305.4h0M1761.2 305h0M1816.2 262.7h0M1818.4 320.7h0M1809.5 258.4h0M1770.5 275.3h0M1803.1 314h0M1740.5 295.5h0M1746.1 287.1h0M1793 310.3h0M1737.7 296.4h0M1811.3 264.4h0M1805.3 274.8h0M1800 252h0M1766.6 314h0M1797.8 313.1h0M1758.5 295.4h0M1759.6 278.1h0M1742.5 312.6h0M1794.9 287h0M1749.9 306.5h0M1783.1 288.7h0M1777.8 274.2h0M1770.1 312.9h0M1749.4 313.5h0M1821 307.6h0M1779.6 282.1h0M1747.9 305.9h0M1786.5 314.6h0M1760.2 313.4h0M1816.2 314.5h0M1762.8 276.7h0M1756.1 306.9h0M1796.8 293.8h0M1817.7 314.5h0M1817.6 303.6h0M1782.2 307.3h0M1750.1 296h0M1791 309.4h0M1813.3 282h0M1788.2 299.1h0M1778.7 314.8h0M1748.7 288h0M1798.7 312.3h0M1810.7 314.1h0M1754.2 304.7h0M1806.6 310.3h0M1811.6 311h0M1794.9 266.2h0M1771.4 295.6h0M1817.9 252.4h0M1806.4 278h0M1796.4 282.1h0M1761.2 283.5h0M1744.6 308.1h0M1780.7 307.7h0M1777.9 266.8h0M1773 318.6h0M1760.3 285.6h0M1812.4 262.3h0M1802.3 310.3h0M1764.7 282.3h0M1786.1 266.7h0M1782.7 317.2h0M1744.9 286.7h0M1744.8 288.8h0M1739.6 305.1h0M1803.8 260.9h0M1796.4 315.3h0M1818.9 305.4h0M1766.1 289.1h0M1806.6 314.5h0M1802.9 309.5h0M1817.7 263.7h0M1803.6 255.1h0M1750.4 307.5h0M1808.1 297.7h0M1813.9 306.1h0M1807.1 250.9h0M1741 304.8h0M1776.5 311.1h0M1770.2 287.6h0M1794.8 269.9h0M1742.5 289.3h0M1777 313.2h0M1781 304.3h0M1806.6 305.5h0M1798.4 264.5h0M1758 297.9h0M1760.2 315.3h0M1789.2 256.8h0M1784.9 278.1h0M1792.5 262.7h0M1769.9 274.3h0M1797.4 310.9h0M1816.9 253.2h0M1816.6 312.9h0M1780.9 294h0M1813.7 301.2h0M1757.3 282.9h0M1738.9 294.4h0M1820.5 306.5h0M1772.4 274.1h0M1768.9 284.7h0M1794.1 307.4h0M1757.9 279.1h0M1781.7 308.4h0M1810.5 311.9h0M1796.4 313.1h0M1815 256.3h0M1769.5 303.6h0M1787.5 317h0M1761.6 312.1h0M1778.9 315.4h0M1756.2 312.4h0M1799.7 267.9h0M1779.4 298.8h0M1810.3 314.2h0M1744.3 310.1h0M1756.7 317.8h0M1794.4 304.9h0M1763.3 283.8h0M1756.6 279.6h0M1799.5 265.7h0M1792.7 305.9h0M1776.2 268.3h0M1804.2 305.4h0M1811.6 307.8h0M1780.8 282.7h0M1762.8 280.5h0M1820.5 320.2h0M1752.7 284.7h0M1769.7 309.6h0M1800.1 266h0M1818.4 290.2h0M1764.9 306.7h0M1782.3 309.3h0M1818 315.3h0M1809.8 308.2h0M1783.9 273.1h0M1797.5 305.9h0M1804.2 313.2h0M1763.2 306.1h0M1759.1 303.2h0M1800.2 308.4h0M1772.7 300.6h0M1801.6 258.9h0M1781.9 276h0M1802.7 299.9h0M1778.5 311.3h0M1795.4 302.7h0M1759.2 306.5h0M1781 268.1h0M1809.6 313.3h0M1771.5 291.3h0M1808.8 255.1h0M1819.8 280.7h0M1801.9 271.5h0M1802.2 293.1h0M1774.9 310.3h0M1758.9 287.6h0M1788.9 266.7h0M1762.8 298h0M1800.5 266.1h0M1738.9 293.3h0M1820.6 309.4h0M1819.5 300.8h0M1804.9 254.2h0M1754.1 280.2h0M1769.5 277.9h0M1762.6 279.1h0M1802.8 310.4h0M1758.6 308.9h0M1744.1 304.8h0M1799.2 258.3h0M1771.8 301.4h0M1783.7 291.7h0M1800.8 316.2h0M1806.2 306.8h0M1814.1 257h0M1761.3 308.6h0M1747.4 298h0M1819 247.4h0M1760.4 308.4h0M1786.5 270.5h0M1738.1 295.3h0M1782.5 311.5h0M1814.4 273.7h0M1784.3 306.4h0M1747.6 294.7h0M1785.9 289.4h0M1802.4 269.8h0M1776.2 303.2h0M1807.8 265.1h0M1757.5 294.1h0M1795.9 310.2h0M1808.8 284h0M1808.3 312.6h0M1819.7 266.8h0M1766 310.5h0M1779.2 318.6h0M1775.6 288.5h0M1766.7 293.3h0M1792.7 286.3h0M1785.4 308.7h0M1746.8 287.8h0M1804.6 254.7h0M1758 313.9h0M1770.4 298.1h0M1748.9 307.8h0M1806.7 263.5h0M1781.6 308.3h0M1765.4 307.5h0M1738.3 310.5h0M1810.8 313.1h0M1745.3 297.8h0M1779.6 273.8h0M1809.7 260.4h0M1793.6 264.1h0M1793.1 317.4h0M1767.8 307.9h0M1753.2 284.8h0M1780.2 268.5h0M1799.1 282.5h0M1790.3 285.6h0M1804.4 275.7h0M1794.4 313.4h0M1774.7 310.7h0M1798.7 313.1h0M1776.2 281.9h0M1751 310.5h0M1783.6 313h0M1763.3 290.8h0M1740.5 312.1h0M1776.1 273.9h0M1802.5 257.1h0M1754.4 312.4h0M1737.7 306.3h0M1737.3 311.5h0M1757.5 302.1h0M1789.7 287.1h0M1786.3 274.5h0M1738.5 312.3h0M1777.4 307.7h0M1745 306.8h0M1818.5 311.4h0M1772.4 279.1h0M1766.6 310.8h0M1805.7 280.6h0M1742.1 295.6h0M1754.4 309.7h0M1767.6 278.2h0M1740.5 307.4h0M1778.2 278.7h0M1793.6 306.4h0M1815.6 301.7h0M1765.2 279.6h0M1779.7 311.6h0M1753.3 303.7h0M1752.3 288.2h0M1794.2 302.2h0M1770.9 314.4h0M1815.3 305h0M1747.4 308.2h0M1756.8 297.4h0M1754.6 314.1h0M1746.3 290.1h0M1805.5 262h0M1778.5 270.6h0M1797.5 263.4h0M1781.7 266h0M1811.1 255.4h0M1739.3 308.7h0M1776.5 312.3h0M1803.9 278.5h0M1752.4 301.2h0M1807.8 259.5h0M1761.1 285.4h0M1792.5 303.3h0M1760.6 298.8h0M1777.4 271.6h0M1812.4 302.2h0M1767.3 307.8h0M1739.8 288.3h0M1778.2 278.7h0M1762.8 287.6h0M1765.6 292.2h0M1807.1 292.1h0M1758.4 308.9h0M1743.7 295.2h0M1777.4 272h0M1783.4 294.5h0M1771.5 307.9h0M1796.7 298.6h0M1799.5 256.4h0M1815.1 316.5h0M1746.8 309.4h0M1808.7 270.7h0M1805.2 316.5h0M1808.5 301.3h0M1817.9 272.6h0M1771.9 311.2h0M1801.8 278.9h0M1789.7 276.8h0M1750.7 309.5h0M1808.9 276.8h0M1794.2 259h0M1809.4 308.9h0M1809.6 307.4h0M1745.1 313.7h0M1761.9 296.3h0M1777.3 305h0M1794.9 307.3h0M1820.2 251h0M1807.9 250.6h0M1820.1 265.8h0M1814.1 309.8h0M1815.4 313.5h0M1745.9 311.9h0M1738 301.8h0M1747.4 290.3h0M1754.3 293.9h0M1808.4 287.7h0M1775.6 301.8h0M1780.9 275.4h0M1786.3 264.4h0M1751.9 304.9h0M1816.5 318.4h0M1765.4 306.4h0M1771.4 281.3h0M1760.8 309.5h0M1796.9 305.3h0M1808 318.8h0M1797.6 276.1h0M1790.7 308.6h0M1746.1 297.2h0M1812.6 275.2h0M1820.1 307h0M1774.2 277h0M1820.2 250.2h0M1808.3 313.1h0M1816.2 248.1h0M1792.9 283.5h0M1757.7 289.3h0M1744.5 308.7h0M1785.9 271.4h0M1805.7 314.7h0M1790.1 274.9h0M1752.5 299.7h0M1798.6 266.7h0M1797.3 292.3h0M1785.6 313.8h0M1754.1 310.7h0M1745.5 308.7h0M1815.8 311h0M1760.4 283.3h0M1794.1 282.2h0M1775.9 281.2h0M1796.9 307.6h0M1804.4 291h0M1777.9 299.9h0M1811.2 259.2h0M1802.3 295.7h0M1807.7 259.5h0M1809.8 305.3h0M1807.6 255.9h0M1739.5 311.7h0M1773.4 291.4h0M1784.1 265.9h0M1736.1 295.3h0M1773.8 308.9h0M1780.3 279.1h0M1808.7 258.8h0M1786.3 271h0M1770 313.1h0M1748.1 299.7h0M1766.1 298.9h0M1760.9 281.9h0M1818.6 258.8h0M1769.8 305.3h0M1781.1 306.6h0M1786.9 284.2h0M1792 290.1h0M1820.6 243.4h0M1799.3 262.7h0M1777.7 277.5h0M1785.1 265.9h0M1744 307.8h0M1808.5 304.8h0M1808.9 293.1h0M1814.3 313.6h0M1818.9 315.8h0M1801.5 271.1h0M1773.7 303.3h0M1739.8 312.9h0M1803.4 313.1h0M1748.8 286.6h0M1793.3 258.2h0M1813.5 255.5h0M1782.7 307.7h0M1767.7 283.2h0M1767.1 282h0M1776.6 281.1h0M1802.6 280.2h0M1766.9 271.6h0M1796.1 313h0M1815.8 309.6h0M1783.9 283.5h0M1746 292.5h0M1772.8 280.8h0M1807.4 284h0M1787.8 315.1h0M1770.7 313.6h0M1795.5 261.5h0M1820.9 254.4h0M1789.8 283.7h0M1780.4 311.3h0M1763.4 290.3h0M1814.2 299.5h0M1783.5 289h0M1796.3 288.6h0M1785.9 313.6h0M1794.1 259.7h0M1743.5 307.8h0M1739.4 292.5h0M1747.2 304.1h0M1773.2 284.5h0M1812.1 315.7h0M1793.9 290.7h0M1816.6 258.8h0M1798.1 300.1h0M1768.6 286.5h0M1812 266.2h0M1769.7 295.6h0M1812.2 307.2h0M1764.7 283.4h0M1820.8 314.9h0M1776.8 297.9h0M1804.2 258.5h0M1816.8 300.9h0M1756 309.5h0M1746.5 289.2h0M1807.5 272.3h0M1786.1 282.5h0M1741.6 291h0M1786 308.2h0M1810.2 277.1h0M1740.9 299.7h0M1798.5 269.2h0M1790.7 264.9h0M1805.3 309.1h0M1802.2 311.2h0M1760.1 296.8h0M1819.2 244.6h0M1759.3 309.1h0M1774.5 310.5h0M1798.2 312.5h0M1814.1 312.2h0M1772.4 319.8h0M1774.8 274.3h0M1799.1 318.1h0M1814.5 302.4h0M1746.1 293h0M1809.6 251.1h0M1791.7 293.9h0M1744.8 308.5h0M1755.2 288.4h0M1742 309.6h0M1786 286.7h0M1767.9 283.5h0M1820.7 290.7h0M1780.1 313.5h0M1737 304.6h0M1758.1 297.6h0M1811.8 256.7h0M1743.7 311.3h0M1802.7 319h0M1815.7 263.6h0M1764.5 283h0M1754.9 305.1h0M1788 306.8h0M1764.9 288h0M1757.4 284.4h0M1798.2 299.3h0M1803.5 262.6h0M1742.1 294.5h0M1805.1 305.6h0M1771.6 270.2h0M1806.5 265.3h0M1775.3 269.6h0M1791 271.9h0M1772.9 304.5h0M1804.1 267.6h0M1810.1 308.9h0M1766 280.6h0M1751.5 294.6h0M1817.2 311.3h0M1776.6 272h0M1762.6 277.3h0M1753.4 287h0M1776.3 299.4h0M1806.1 273.7h0M1753.7 306.7h0M1807.8 256.5h0M1751 293h0M1813.7 247.7h0M1815.1 317h0M1777.6 303.6h0M1754.9 285.5h0M1767.6 302.5h0M1808.1 263.6h0M1763.9 310.4h0M1761.3 288.3h0M1744.8 296.6h0M1810.2 254.4h0M1741.7 296.3h0M1810 273.5h0M1810 250.6h0M1777.4 274.5h0M1795.4 259.6h0M1810.6 308.9h0M1808.3 262.2h0M1760.2 281h0M1774.4 271.8h0M1798 314.2h0M1772 316.4h0M1802.6 313h0M1752.2 305.6h0M1799.4 257.6h0M1807.4 306.5h0M1807.2 272.6h0M1784.1 264.6h0M1807.7 304.7h0M1769.5 282.2h0M1792.3 290.9h0M1819.3 256.1h0M1815.2 249.9h0M1796.3 308h0M1754.2 307.7h0M1764.5 281.9h0M1818.2 313.5h0M1779.9 280.2h0M1803.1 309.9h0M1785.8 287.8h0M1748.9 288h0M1750.8 299.2h0M1814.6 302.2h0M1787 263.5h0M1794.1 316.4h0M1755.7 301.6h0M1807.4 306.1h0M1793.5 309.7h0M1801.9 298.1h0M1765.2 310.4h0M1736.8 297.7h0M1783.2 303.4h0M1755.7 291.5h0M1772.8 308h0M1805.8 305.9h0M1820.6 298.2h0M1745.4 288.4h0M1810.6 318.6h0M1791.3 298.3h0M1770 313h0M1787 298.7h0M1756.7 301.5h0M1794.7 304h0M1777.7 282.9h0M1799.8 254.4h0M1804.7 312.2h0M1780.5 272.8h0M1739.8 311.5h0M1820.6 282.6h0M1754.1 308.9h0M1779.2 267.7h0M1795.3 288h0M1808 319.6h0M1776.2 297.8h0M1818.2 249.7h0M1812.7 289.5h0M1765.6 277.7h0M1807.2 292.2h0M1819.2 251.8h0M1753.4 313.7h0M1756.4 287h0M1817.1 279.3h0M1758.3 286.3h0M1749.9 302.5h0M1767.7 300.9h0M1767.1 280.1h0M1757.4 296.2h0M1815.6 276.3h0M1815.8 314.9h0M1787.2 270.3h0M1776 296.3h0M1783.2 299.8h0M1814.3 299.1h0M1784.3 272.7h0M1817 257.8h0M1754.6 311.9h0M1789.6 314.7h0M1758.8 303.9h0M1778.7 302.1h0M1760.7 309h0M1784.2 284.4h0M1803.9 249.7h0M1763.9 309.7h0M1751 298.3h0M1775.2 298h0M1769.5 305.2h0M1814.9 251.5h0M1805.8 272.2h0M1801.4 309.8h0M1775.2 294.6h0M1802.5 305.5h0M1757.1 315h0M1766 310.8h0M1766.1 278.9h0M1741.6 294.6h0M1744.2 296.4h0M1811.2 284.3h0M1763.1 310.1h0M1817.9 304h0M1750.6 288.1h0M1779.5 293.3h0M1777.4 308.5h0M1791.5 305.7h0M1775.5 296.8h0M1773.3 308.6h0M1744.5 290.1h0M1783.7 286h0M1813.5 298.4h0M1740.9 301.9h0M1772.2 293.6h0M1778.4 308.6h0M1800.3 303h0M1811 286.8h0M1745 309.3h0M1762.8 309.7h0M1809.4 256.6h0M1810.8 268.4h0M1801.3 266.1h0M1749.1 306.6h0M1813.4 303.9h0M1775.3 291.7h0M1777.8 311h0M1773.1 295.3h0M1788 271.9h0M1770.4 299.2h0M1773.2 275.7h0M1782.7 278.9h0M1755 282.4h0M1818.1 293.8h0M1774.7 293.1h0M1763.5 285.4h0M1789.8 260.9h0M1758.3 279.3h0M1791.5 283.9h0M1812 282h0M1765.9 320.3h0M1745.7 301.3h0M1749.5 304.8h0M1754.7 310.1h0M1788.4 305.4h0M1751.9 313h0M1801.1 311.1h0M1742.6 309.9h0M1764 278h0M1810.9 287.9h0M1781.4 264h0M1804 297.9h0M1775.7 319.3h0M1797.2 264.6h0M1772.1 269.7h0M1756.7 286.1h0M1742.8 290.6h0M1815.2 248.4h0M1785.4 315.5h0M1768 314.6h0M1802.3 258.7h0M1798.3 312.1h0M1802.2 303.5h0M1815.2 248.3h0M1790 311h0M1819.7 315h0M1759.1 295.9h0M1818.2 257h0M1806.4 305.6h0M1816.5 267.1h0M1810.7 298.5h0M1810.1 267.2h0M1774.5 277.2h0M1805.8 265.5h0M1736.4 307.1h0M1751.5 313.9h0M1810.8 261.4h0M1803.8 266.2h0M1818.4 316.3h0M1753.5 282.7h0M1817.7 264.4h0M1778 291.9h0M1784 273.8h0M1787.1 267.5h0M1818.5 276.3h0M1786 274.2h0M1767.3 311.5h0M1820.2 307.8h0M1744.3 306.7h0M1769.1 318.8h0M1809.8 309.8h0M1819.3 260.2h0M1809.8 306.6h0M1745.8 290.2h0M1751.9 291.6h0M1750.5 309.7h0M1806.6 291.4h0M1752 291.7h0M1818.4 306.1h0M1770.7 279.6h0M1771.2 310.2h0M1769.3 309.7h0M1770.1 276h0M1791.7 272.9h0M1810.7 316.1h0M1756.6 280.9h0M1742.3 295.6h0M1814.8 275.8h0M1752.1 309.4h0M1765.8 301.3h0M1805 294.1h0M1776.2 272.2h0M1820.2 283.4h0M1820.5 244h0M1761.9 305.8h0M1808.8 270.1h0M1754.4 288.4h0M1810.4 254.8h0M1751.9 286.3h0M1794.2 259.8h0M1801.5 308.7h0M1812.6 307.6h0M1777.2 271.2h0M1758.1 282.1h0M1816.3 307.7h0M1766 282.2h0M1764.6 277.3h0M1759.6 298.7h0M1786.8 295.8h0M1777.8 277h0M1820.3 248.1h0M1769.5 278.5h0M1758.8 297.4h0M1802.8 258.7h0M1811.3 277.9h0M1804.2 306.2h0M1797 310.8h0M1807.2 302h0M1787.7 315.2h0M1776.4 296.6h0M1785.4 264.8h0M1759.1 313.5h0M1783 310.1h0M1779.4 307.3h0M1768.7 285.1h0M1755.4 287h0M1790.5 273h0M1781.4 310.6h0M1817.5 257.9h0M1757 308.1h0M1774 293.5h0M1815.3 251.2h0M1803.8 267.5h0M1781.5 303.8h0M1813.6 248.9h0M1791.1 317.8h0M1806.6 306.6h0M1780.5 273.3h0M1779.1 287.6h0M1749.8 298.9h0M1761 285.9h0M1764.4 282.7h0M1757.5 311.3h0M1769.8 310.6h0M1800.4 264.6h0M1808.7 289.4h0M1745.5 310.4h0M1748.5 293.5h0M1764.1 278.9h0M1809.7 275.9h0M1791.7 315.5h0M1759 277.8h0M1775 295.5h0M1755 309.5h0M1747.2 294.2h0M1776.7 315.9h0M1790.7 273.8h0M1764.6 294.2h0M1800.3 308.2h0M1757.1 299.5h0M1746.2 295.8h0M1785.4 310.9h0M1805 313.7h0M1807.6 308.4h0M1780.1 317.6h0M1758.2 288.9h0M1784.6 311.6h0M1753.2 283h0M1777 311.6h0M1779.7 301.6h0M1778.3 290.7h0M1782.7 308.4h0M1767.8 309.6h0M1803.7 286.2h0M1766.8 277.2h0M1755.3 285.2h0M1817.9 318.5h0M1801.5 308.6h0M1758.3 293.9h0M1815.9 319.2h0M1818.4 268.8h0M1799.1 269.7h0M1744.3 288.2h0M1768.3 312.5h0M1758.8 285.5h0M1779.9 269.5h0M1758.8 308.5h0M1769.7 314h0M1778.8 275.5h0M1753.8 310.7h0M1762.6 293.1h0M1820.4 313.4h0M1815.7 245.8h0M1819 297.9h0M1774.2 291.8h0M1780.9 307.6h0M1759.6 310h0M1765.2 309.4h0M1776.2 313.4h0M1777.1 281.1h0M1798.8 293.8h0M1781 315.1h0M1809.8 256.7h0M1794.2 269h0M1762.2 309h0M1737.8 298.5h0M1759.8 306h0M1808.8 284.6h0M1769.4 286.3h0M1760.5 307.7h0M1819.3 262.7h0M1815.4 255.5h0M1762.4 303.4h0M1794.8 260.7h0M1784.2 316h0M1741.7 308.5h0M1803.2 313.3h0M1787.7 272.7h0M1761.7 284.6h0M1758.8 296.2h0M1756.8 308.3h0M1809.3 312.4h0M1757 308.5h0M1761.4 293.2h0M1788.3 285.4h0M1751.2 286h0M1812 308.5h0M1813.8 279.3h0M1806.2 300h0M1779.5 266.6h0M1751.2 313h0M1807.3 254.7h0M1760.7 279.5h0M1814.6 252.3h0M1818.1 288h0M1782.5 274.7h0M1792.8 265h0M1817.2 250.5h0M1750.9 285.9h0M1810.3 258.2h0M1771.9 273.9h0M1754.8 311.8h0M1796.9 259.8h0M1770.2 284.6h0M1788.9 266.5h0M1777.5 277.3h0M1786.7 317.3h0M1820.2 259.5h0M1796.6 306.2h0M1805.6 258.2h0M1817.3 277.7h0M1806.4 279.1h0M1748.9 310.5h0M1810.5 273.3h0M1797.6 319.8h0M1768.9 278.8h0M1795.9 289.9h0M1801.5 320.4h0M1809.5 306.6h0M1787.5 318.2h0M1811.6 310h0M1765.2 278.2h0M1795.1 265.4h0M1791.1 268.1h0M1791.1 272.7h0M1804.2 308.5h0M1794.6 259.1h0M1789 311.2h0M1778.3 309.6h0M1812.9 273h0M1766.7 303.9h0M1766.5 315.1h0M1808.9 311.7h0M1787.2 309.9h0M1806.9 254h0M1805.4 258.6h0M1757.3 283.8h0M1789.5 263h0M1751.8 314.9h0M1806.2 269.2h0M1800.3 284.7h0M1793 305.4h0M1747.1 305.8h0M1768.3 297h0M1758.2 313h0M1749.1 287.4h0M1739.6 303.4h0M1783.2 285.3h0M1780.9 308.9h0M1771.4 302.9h0M1810.8 306.3h0M1803.1 264.5h0M1764.4 310.7h0M1761.9 309.4h0M1790.4 314.4h0M1798 281.2h0M1804.2 266.5h0M1764.8 278.5h0M1790.1 277.2h0M1807.8 306.4h0M1744.9 290.8h0M1736.4 293.2h0M1803.1 314.8h0M1779 317h0M1759.6 313.4h0M1749.5 312.8h0M1812.9 256.9h0M1773.3 314.2h0M1760.6 282.5h0M1776.5 306.8h0M1780.5 265.4h0M1787.4 272.9h0M1755.4 303.9h0M1813.6 252.9h0M1801.6 264.6h0M1742.5 310.7h0M1816.8 270.4h0M1785.4 271.6h0M1811.1 308.3h0M1770.7 299.7h0M1804.7 262.9h0M1761.3 312.3h0M1802.7 255.7h0M1807.5 294.8h0M1820.7 307h0M1795.6 315.8h0M1744.7 296.6h0M1755.8 287.1h0M1761.2 315.1h0M1742.4 301.3h0M1805.1 309.1h0M1798.6 316.3h0M1756.6 313.1h0M1818.2 302.2h0M1762.4 307h0M1761.9 296.4h0M1799.6 307.2h0M1794.2 284.4h0M1807.5 307.3h0M1816 300.3h0M1754.9 314.9h0M1750.3 305.1h0M1779.6 269.4h0M1741.4 295.1h0M1790.4 292.7h0M1792.1 255.2h0M1780.5 304.2h0M1744.4 313.4h0M1785.5 263.8h0M1804.7 262.6h0M1792.3 263.2h0M1774.4 308.8h0M1812.1 286.1h0M1787.9 273h0M1795.6 275h0M1765.3 307.3h0M1805.6 267.3h0M1739.9 296.9h0M1783.2 305h0M1782.1 271.6h0M1806.1 259.4h0M1769.4 307.8h0M1793.9 266.7h0M1771.9 310.1h0M1800.2 290.5h0M1761.4 280.6h0M1737.6 309.6h0M1788.3 295.4h0M1783.8 304.3h0M1800 263.2h0M1769.4 311.9h0M1810.7 284.3h0M1739.2 301.5h0M1796.3 308.1h0M1806.6 292.1h0M1760.3 307.6h0M1816.2 300.6h0M1781.6 307.1h0M1804.5 285.5h0M1748.5 286.4h0M1756.5 297.6h0M1799 261h0M1810.4 264h0M1815.8 316.5h0M1744.1 312.6h0M1765 304.1h0M1807.7 284.8h0M1762.4 296.5h0M1809.3 318.4h0M1792.2 309.9h0M1767.7 307.2h0M1791.3 308.6h0M1776.3 295.7h0M1793.5 312.8h0M1788.1 301.8h0M1743.6 302.3h0M1747.1 285.6h0M1774.1 302.6h0M1820.8 261h0M1787.8 314.1h0M1820.5 245.7h0M1806.9 299.6h0M1759.6 284.8h0M1786.8 311.4h0M1815.7 296.8h0M1752.5 290.6h0M1762.3 287.4h0M1816.3 287.1h0M1753.7 306.3h0M1815.6 245.4h0M1801.9 306.3h0M1816.9 302.5h0M1746 309.9h0M1787.7 293.8h0M1760 287.5h0M1776.5 271.8h0M1810.7 317.2h0M1782.3 284.6h0M1816.8 294.4h0M1792.7 308.6h0M1791.7 271.5h0M1791.2 309.3h0M1738.3 308.2h0M1782.8 310.5h0M1784.6 275.7h0M1764.7 279.5h0M1799.4 261.6h0M1789.7 271.8h0M1773.6 278.7h0M1768.7 278.8h0M1800.8 262.6h0M1751.6 307.4h0M1788 268.3h0M1809.6 309.6h0M1783.4 311.4h0M1787.4 269h0M1762.7 300.8h0M1781.7 315.7h0M1754.7 295.4h0M1805.3 309.5h0M1816.5 286.1h0M1817.5 302.9h0M1807.1 297h0M1790.1 281.9h0M1741.6 310.8h0M1776.8 293.7h0M1787.5 274.1h0M1767.7 306.4h0M1787.7 284h0M1748.4 297.1h0M1781.3 305.8h0M1810.6 313.8h0M1761.2 309.2h0M1764 282.4h0M1794.9 295.3h0M1755.9 300h0M1747.8 303.5h0M1802.4 260.9h0M1818.6 266.8h0M1792.1 310.8h0M1761.1 303.4h0M1796.2 268h0M1751 295.5h0M1811.2 297.2h0M1818.4 310h0M1799.5 271.8h0M1806.8 288.2h0M1795.9 268.8h0M1820.6 310.9h0M1780.9 317.7h0M1783 310.1h0M1804.8 299.5h0M1799.4 260.7h0M1789.1 272.7h0M1788.6 266.4h0M1793.8 270.7h0M1794.2 295h0M1771.9 271.6h0M1812.2 302.9h0M1778.5 299.2h0M1800.1 257.5h0M1744 305.9h0M1794 268.7h0M1796.6 308.3h0M1764.5 289.1h0M1820 295.9h0M1791.4 313.1h0M1805.5 259.6h0M1815.9 264.5h0M1781.6 306h0M1759 299.6h0M1790.7 269.5h0M1800.6 282.2h0M1793.9 311.9h0M1778.4 289.9h0M1809.4 260.8h0M1817 260.7h0M1815.5 285.4h0M1805.4 260.1h0M1798.2 305.8h0M1778.4 275.2h0M1783.8 310h0M1799.1 260.8h0M1766.4 285.4h0M1755.2 299h0M1817.1 261.4h0M1750.9 309.4h0M1786.7 281.9h0M1789.3 295.9h0M1817.9 315.2h0M1803.4 253.6h0M1795.4 278.3h0M1801.3 267.8h0M1769 287.4h0M1795.3 274.8h0M1795.9 259.9h0M1795.4 287.5h0M1769.8 308.8h0M1766.2 274.3h0M1771.4 292.3h0M1793.3 277h0M1801.3 312.5h0M1799.8 314.2h0M1794.4 299.1h0M1808.1 251.4h0M1796.9 308.9h0M1787.5 282.9h0M1800.9 262h0M1764.6 279h0M1812 273.2h0M1783.3 307.6h0M1794 314h0M1760.9 313.1h0M1793.6 275.1h0M1772.4 309.7h0M1820.8 293h0M1796.6 313.4h0M1757.1 303.6h0M1747.8 285.5h0M1747.7 278.9h0M1798.3 303.1h0M1803.2 259.5h0M1795 304.7h0M1741.1 306h0M1793.7 270.8h0M1815 305.1h0M1800.3 263.7h0M1763.1 276h0M1808.7 254.9h0M1742.6 310.9h0M1797.5 266.2h0M1759.4 309.1h0M1786.3 272.7h0M1766 311.1h0M1751.9 299.3h0M1799.9 285.7h0M1793 314.1h0M1820.2 303.4h0M1803.7 267.2h0M1805.4 264.8h0M1803.5 262.8h0M1738.5 314h0M1816.9 302.7h0M1792.2 306.2h0M1787.9 312.9h0M1802.3 314.7h0M1760.5 281.5h0M1788.6 269.1h0M1785.7 306.7h0M1763.9 298.9h0M1819.4 281.7h0M1784.1 295.6h0M1757 317.6h0M1798.8 287.2h0M1791.1 307.1h0M1779.7 298h0M1800.9 271.4h0M1797.1 298.3h0M1790.3 302.5h0M1789.1 310.8h0M1769.4 273.6h0M1752.6 306.6h0M1796.7 268.8h0M1793.3 284.4h0M1757.7 284.4h0M1800.2 311.4h0M1816.1 253.4h0M1803.3 309.7h0M1808 289.9h0M1742.8 310.2h0M1768.5 274.5h0M1809.9 257.1h0M1799.1 303.1h0M1786.2 302.7h0M1802.8 271.5h0M1801 311h0M1768.5 305.5h0M1797.8 311.2h0M1746.4 302h0M1799.5 309.5h0M1790.3 280.2h0M1752.6 304.9h0M1800.7 316.1h0M1788.3 273.9h0M1736.6 294.2h0M1784.1 308.2h0M1807.3 287.5h0M1768.6 281.8h0M1758.5 277.8h0M1746.6 288.5h0M1791 269.8h0M1814.6 309.1h0M1803.5 257.6h0M1788.9 271.6h0M1793.5 262.9h0M1777.5 270.2h0M1788.7 303.3h0M1753.5 287.7h0M1761.5 276.8h0M1742.3 291.4h0M1784.4 314.3h0M1764.7 302.5h0M1743.7 291.9h0M1771.9 309.6h0M1739.5 297.3h0M1805.6 309h0M1772.4 284h0M1818.7 307.8h0M1762.2 302.6h0M1808.8 268.3h0M1816.7 277.6h0M1796.6 313.1h0M1742.5 311.6h0M1782.3 313h0M1761.4 291.2h0M1807.6 302.6h0M1740.8 306.2h0M1809.2 250.7h0M1789.3 314.6h0M1813.2 255.2h0M1810.9 246.5h0M1794.7 273.7h0M1813.9 259.7h0M1797.2 307.8h0M1784.9 311.3h0M1820.8 309.1h0M1801.6 308.2h0M1817.1 305.6h0M1791.4 295.4h0M1787.6 305.2h0M1814.8 268.2h0M1816.2 286.6h0M1820.9 293.6h0M1806.6 259h0M1753.3 302.8h0M1780.6 286.2h0M1817.7 295.5h0M1752.4 302.3h0M1764 303.4h0M1789.2 308.6h0M1815.4 287.8h0M1810.9 313.1h0M1762.2 281.2h0M1773.1 277.4h0M1789.5 270.1h0M1783.8 285.4h0M1766.5 295h0M1761.5 288.8h0M1815.6 300h0M1781.1 269.7h0M1808.3 304.7h0M1746.7 290.2h0M1738.7 292.1h0M1787.1 270.3h0M1770.5 296.4h0M1756.5 304.1h0M1818.7 259.5h0M1772.9 275h0M1782 289.2h0M1777.7 316.2h0M1798.3 268.5h0M1763.9 276.8h0M1807.1 261.5h0M1747.4 295.2h0M1761.4 280.3h0M1750.4 297.6h0M1804.8 263.3h0M1787.8 287.9h0M1811.2 312.2h0M1753.7 284.1h0M1766.1 303.3h0M1778.1 308.7h0M1778.7 310.1h0M1749.3 291.2h0M1816.8 306h0M1805 298.4h0M1766 286.6h0M1816.3 289.9h0M1791.7 315.8h0M1774.4 277h0M1770.2 314.7h0M1764.7 292.5h0M1761.2 314.5h0M1746.4 294.2h0M1800 318.6h0M1781.3 311.8h0M1792.7 291.9h0M1775.6 272.6h0M1757.3 309h0M1812.4 257.2h0M1809.2 252.9h0M1810.2 309.9h0M1789.2 313.3h0M1793.4 285.7h0M1748.3 290h0M1746.4 288.4h0M1814.9 271.7h0M1800.8 265.6h0M1791.2 315.6h0M1788.1 308.5h0M1760.4 314h0M1781.2 292.9h0M1784.8 292.9h0M1747.4 304.8h0M1776.9 277.8h0M1815.6 306.8h0M1745.6 290h0M1814.8 253.8h0M1784.8 289.1h0M1779.2 272.3h0M1802.2 299h0M1749.4 297.7h0M1794.2 318.5h0M1760.6 277.2h0M1775.2 281.9h0M1758.5 304.4h0M1779.2 304.5h0M1806.6 300h0M1769.3 299.5h0M1792.5 309.9h0M1820.2 314.2h0M1785.7 274.5h0M1811.1 267.5h0M1759.4 312.4h0M1766.9 316.2h0M1744.8 289h0M1763.6 275.7h0M1749.8 293h0M1807.9 249.9h0M1771.3 315.9h0M1736.1 295.5h0M1805.3 301.2h0M1761.3 285h0M1748.5 302h0M1813.2 262.5h0M1754.3 314.4h0M1778.4 304.1h0M1766.3 307.5h0M1751.2 311.3h0M1779.5 302.6h0M1784.6 268.5h0M1757.7 305.1h0M1783.2 279.3h0M1764.8 310.1h0M1785.2 304.7h0M1760 284.7h0M1748.2 288.5h0M1777.8 313.3h0M1820.1 306.1h0M1793.5 299.4h0M1789.3 262.7h0M1771.4 308.9h0M1760.1 294.3h0M1779.1 291h0M1809.8 312.4h0M1789.5 266.5h0M1817 270.6h0M1792.5 310h0M1817.4 252.7h0M1747.4 286.5h0M1815.1 277.5h0M1759.2 310.5h0M1813.1 261.6h0M1759.2 279.1h0M1819.2 315.7h0M1819.6 291.4h0M1776.1 292.4h0M1756.7 290.3h0M1795 307.5h0M1809.5 312.2h0M1750.1 310.4h0M1780.4 284.6h0M1768.3 279.7h0M1814.8 318.7h0M1747.6 293.9h0M1791.9 297.2h0M1812.8 270.7h0M1767 298.5h0M1777.7 305.4h0M1790.1 283.8h0M1797.1 257.9h0M1741.5 312.1h0M1776.7 298.4h0M1758.6 300.2h0M1820.3 312.6h0M1810.6 315h0M1810.8 298.3h0M1775.6 267.6h0M1783.7 277.5h0M1788.8 292.1h0M1802.2 277.5h0M1805.8 319.9h0M1776.3 288.7h0M1752.9 296h0M1796.6 314.8h0M1793.4 289.3h0M1787.7 309.3h0M1806.8 312h0M1790.4 271.9h0M1792 300.8h0M1766.6 287.4h0M1792.8 261.3h0M1792 312.5h0M1762 284.8h0M1810.8 269.2h0M1735.8 305.7h0M1806.6 268.5h0M1763 280.3h0M1791.6 314.1h0M1809.1 257h0M1751 296.5h0M1799.6 254.2h0M1783.6 267.3h0M1768.4 307.4h0M1790.8 313.6h0M1803.6 283.1h0M1775.5 310.2h0M1800 258.7h0M1789.8 302.8h0M1790.2 307h0M1779.9 308.4h0M1782.3 309.3h0M1750.8 292.8h0M1810.2 259.4h0M1788.9 312.7h0M1781.4 304.1h0M1759.1 294.7h0M1743.2 301.5h0M1816 314.8h0M1800.4 313.7h0M1776.6 277.8h0M1739.1 299.1h0M1803.7 265.8h0M1796.1 282.5h0M1776 282.3h0M1803.3 258.2h0M1800.1 316h0M1738.6 306.8h0M1807.4 292.4h0M1818.5 254h0M1810.8 263.6h0M1753.5 292.5h0M1753.6 288h0M1813.4 265.3h0M1811 254.8h0M1754.7 283.4h0M1811 286h0M1736.9 300.9h0M1780.4 265h0M1820.7 306.1h0M1820.2 263.4h0M1806.9 303.1h0M1766 286.6h0M1770.7 290h0M1790.7 286.8h0M1774.1 295.3h0M1807.9 260.9h0M1813.4 260.8h0M1749 291.2h0M1791.8 319.5h0M1772.9 313.5h0M1796.7 302.6h0M1810 283.8h0M1743.2 311.6h0M1780.6 315.5h0M1796 261.7h0M1793.2 283h0M1811.5 317.5h0M1784.9 311.6h0M1744.9 287.4h0M1762.7 312.5h0M1758.9 282.7h0M1792.7 307.6h0M1791.4 271.6h0M1818.8 309.6h0M1779.5 309.2h0M1798.9 263.4h0M1799.7 308.2h0M1793.8 261h0M1771.8 308.1h0M1812.8 307.2h0M1791.5 263.3h0M1798.6 265.5h0M1795.6 292.9h0M1820.4 315.8h0M1778.1 312.3h0M1805.7 306.6h0M1767 309.9h0M1813.2 277.5h0M1795.2 271.8h0M1746.4 295.3h0M1811.6 266h0M1751.4 307h0M1750.8 308.7h0M1796.2 307h0M1788.6 298.1h0M1791.5 314.2h0M1767.5 277.4h0M1738.2 306.7h0M1806.6 307.1h0M1796.6 257.8h0M1788.8 297h0M1758.6 284h0M1817.6 261.7h0M1751.3 289.3h0M1762.1 291.2h0M1796.5 264.6h0M1765.7 305.2h0M1777.5 295h0M1780.5 301.8h0M1819.3 255.9h0M1816.2 286h0M1754.9 313.5h0M1809.3 265.4h0M1791.3 267.7h0M1789.9 283.8h0M1788.3 273.4h0M1755.2 307.9h0M1808.5 269.9h0M1783.1 300.7h0M1789.6 263.8h0M1759 280.5h0M1813.8 308.5h0M1794.1 268.2h0M1745.8 310.1h0M1819.3 309.3h0M1796.8 312.8h0M1749.2 309.2h0M1798 313.5h0M1788.6 303.7h0M1762.9 282.5h0M1778.3 307.2h0M1784.1 278.2h0M1816.8 267.7h0M1802.5 316.6h0M1791.3 317.9h0M1813.5 313.5h0M1745.9 305.2h0M1770.4 292.9h0M1761.5 285.4h0M1758.3 289h0M1810.5 260.1h0M1797.2 268.2h0M1752.4 309.6h0M1760.7 305.5h0M1737.9 310.2h0M1788.3 267h0M1819.6 316.9h0M1788.8 293h0M1814.9 289.4h0M1788.3 308h0M1753.3 290.4h0M1796.7 275.5h0M1775.5 298.6h0M1762.2 310h0M1790.4 270.9h0M1758.2 312.7h0M1751.8 309.2h0M1783.5 299h0M1780.3 313.3h0M1790.1 304.7h0M1790.7 270.6h0M1757.4 302.7h0M1753.2 289h0M1775.2 294.5h0M1763.6 298.8h0M1754.2 307.2h0M1784.6 308h0M1748.2 311.9h0M1747.2 298.8h0M1782.9 265.4h0M1761.7 303.5h0M1793.9 268.8h0M1790.2 310.5h0M1759.4 301.3h0M1764.7 283h0M1754.3 303.1h0M1789.7 265.9h0M1746.3 297.1h0M1763.2 276.2h0M1767.3 274h0M1803.5 256.7h0M1752.7 292.1h0M1803.2 312.1h0M1769.1 309.1h0M1779.2 313.8h0M1761.9 297.5h0M1814.3 256.8h0M1774 274.7h0M1761.6 279.2h0M1758.1 308.3h0M1810.6 255.1h0M1811.8 318.4h0M1808.3 269.1h0M1758.5 289.5h0M1774.5 276.5h0M1807.1 301.4h0M1784.9 306.1h0M1781.5 294.9h0M1798.3 305.4h0M1770.1 271.9h0M1812.7 311.8h0M1802.5 261.9h0M1796 280.3h0M1793.1 313h0M1741.7 310.4h0M1760.2 282h0M1755.5 291.6h0M1802.6 299.3h0M1793.5 277.8h0M1794.9 303.7h0M1788.1 310h0M1749.7 311.4h0M1762 277.9h0M1815.6 317.4h0M1787.1 295.4h0M1782.5 280h0M1814.8 261.3h0M1811.1 265.1h0M1820.8 249.2h0M1749.7 309.3h0M1784.9 311.6h0M1774.7 276.6h0M1774.9 290.1h0M1806.1 296.4h0M1744.3 301h0M1773.3 277.7h0M1789.4 311.3h0M1816.9 246.3h0M1746.8 290.9h0M1768.1 313.2h0M1774.2 310h0M1811 296.4h0M1760.5 289.4h0M1803.3 254.6h0M1780.8 273.5h0M1789.3 286.2h0M1778.6 268.7h0M1746.7 294.9h0M1809.3 249.9h0M1761.2 282.1h0M1752.5 288.7h0M1780 280.9h0M1748.3 292.3h0M1803.6 310h0M1788.6 262.3h0M1808.9 254.3h0M1745.7 303.1h0M1796.1 262.2h0M1811.1 253.4h0M1745.1 297.7h0M1789.4 317.2h0M1806.5 261.6h0M1797.7 264.4h0M1811.5 290.5h0M1748.5 309.5h0M1757.2 315.9h0M1773.3 277.3h0M1788.7 294.5h0M1810.8 296.2h0M1809.1 300.2h0M1774.3 272.3h0M1753.7 301.3h0M1759.6 314h0M1761.8 306.2h0M1814.6 263h0M1820.2 266.2h0M1802.1 256.2h0M1808.4 303.8h0M1777.5 309.6h0M1789.4 272.7h0M1790.2 275.9h0M1748 292.3h0M1788.3 272.2h0M1794.1 261.9h0M1759.4 286.5h0M1816.4 244h0M1811.6 294.4h0M1778.6 273.3h0M1790.5 310.8h0M1786.4 272.3h0M1764.4 307.8h0M1816.4 311.6h0M1765.9 285.2h0M1755.5 283.5h0M1745.7 294.2h0M1798.7 286.9h0M1764.5 301.8h0M1797.9 306.1h0M1762.9 280.8h0M1798 269.2h0M1760.8 280.7h0M1796.7 301.1h0M1788.4 270.4h0M1776.5 307.3h0M1791.9 300.2h0M1753 310.8h0M1802.1 276.7h0M1768.6 303h0M1816.9 252.6h0M1776.9 292.1h0M1759.2 280.9h0M1774.5 302.7h0M1760.1 277.1h0M1796.8 317.7h0M1779.4 280.9h0M1776.3 288.2h0M1769 304.4h0M1771.3 280.6h0M1780.1 305h0M1805.4 255.9h0M1811.8 265.2h0M1793.9 274.2h0M1760.1 281.7h0M1778.2 296.6h0M1821 246.1h0M1744.3 304.7h0M1813.4 258.6h0M1762.3 287.8h0M1779.7 304.3h0M1792.9 300.7h0M1820.8 296.6h0M1743.3 301.7h0M1774.1 306.1h0M1778.4 312.7h0M1740.3 301.7h0M1819.6 275.6h0M1756.2 308.9h0M1805.4 293.2h0M1801.9 307.2h0M1801.2 264.3h0M1770.8 276.4h0M1775.9 308.8h0M1737.6 312.9h0M1796.5 266.9h0M1736.8 310.6h0M1753.8 291.9h0M1805.2 297.5h0M1736.3 293.1h0M1747.3 290h0M1777.3 275.8h0M1796.9 309.1h0M1753.7 314.5h0M1774.7 306h0M1815.8 269.3h0M1821 245.9h0M1763.2 291.6h0M1781.3 308.7h0M1771.3 300.5h0M1737.8 308.3h0M1766.9 276.2h0M1813.3 286.4h0M1819.1 307h0M1770 310.4h0M1794.2 308.6h0M1780.4 314.2h0M1810.6 287.5h0M1796.6 301.3h0M1809 254.1h0M1780.8 309.4h0M1754.2 301.9h0M1744.6 292.9h0M1740.5 296.4h0M1788.1 273.1h0M1749.6 285.5h0M1762.8 298.5h0M1819.2 296.7h0M1819.7 278.3h0M1820.9 307.6h0M1819.8 269.7h0M1820.4 284.5h0M1820.6 280.2h0M1820.1 297.3h0M1819.4 310.4h0M1820 309.7h0M1819.8 320.4h0M1819.3 274.7h0M1820.7 325.9h0M1818.8 323.5h0M1819.2 251.7h0M1820.7 318h0M1819.9 302.8h0M1818.5 273.3h0M1819.8 295.8h0M1819.7 269.5h0M1819.3 245.8h0M1820.6 254.5h0M1820.7 281h0M1820.2 325.1h0M1819.2 305.7h0M1820.8 309.5h0M1818.9 321.3h0M1818.8 293.9h0M1819.5 299.7h0M1820.9 290.9h0M1819.7 263.6h0M1820.2 252h0M1819.4 301.7h0M1819.3 253.2h0M1819 326.2h0M1818.8 290.7h0M1820.1 260.9h0M1819.5 305.5h0M1820.9 252.6h0M1820.7 259.8h0M1819.1 297.3h0M1819 311.7h0M1820.9 273.8h0M1819.3 262.5h0M1820.2 279.4h0M1819.6 267.3h0M1820.4 260.3h0M1818.5 317.9h0M1819.5 321.7h0M1819.1 296.6h0M1820.1 315.4h0M1818.9 271.9h0M1820.4 260.4h0M1819.2 248.2h0M1819.1 281.4h0M1819.7 283.9h0M1819.1 258.1h0M1818.9 269h0M1819 252h0M1819.2 250.8h0M1820.4 320.8h0M1819.4 250.5h0M1819.7 266.5h0M1819.1 275.9h0M1818.6 269h0M1818.6 283.1h0M1819.2 245.8h0M1819 290.6h0M1820.2 317h0M1818.7 298.9h0M1819.6 295.1h0M1818.8 325h0M1819.7 314.7h0M1820 309.1h0M1818.8 257.5h0M1820.5 284.4h0M1819.5 265.6h0M1819.3 267.8h0M1819.7 256h0M1820.2 286.4h0M1820 270.1h0M1818.6 267.5h0M1819.5 277.9h0M1819.4 285.9h0M1819.1 313.4h0M1820.1 250.3h0M1820.1 286.1h0M1819.7 326.2h0M1820 266.1h0M1818.8 278.6h0M1820 282h0M1819.5 269h0M1818.8 258.7h0M1820.2 279h0M1818.4 259.8h0M1819.3 325.8h0M1821 286.1h0M1819.7 302.8h0M1820.3 313.6h0M1820.2 286.2h0M1819 287h0M1820 287.2h0M1819.4 309h0M1819.6 250.8h0M1820.1 313h0M1820.5 260.7h0M1819.5 243h0M1819.5 291.3h0M1819.9 313.5h0M1820 277.6h0M1820.2 267.6h0M1820.5 252h0M1819.9 243.9h0M1820.5 294h0M1820.5 268.2h0M1820.9 284.5h0M1821 307.6h0M1819.7 309.3h0M1819.9 256.3h0M1819 305.6h0M1820 311.2h0M1820.7 284.9h0M1819.4 298.9h0M1820.6 248.5h0M1820.6 279.3h0M1819.5 267.5h0M1819.9 273.6h0M1820.8 288.3h0M1819.1 296.6h0M1820 246.8h0M1820.4 294.6h0M1819.5 293.1h0M1821 283.2h0M1820.1 305.7h0M1819.6 295.1h0M1819.5 316.8h0M1819.8 260.9h0M1818.5 254.8h0M1820 316.8h0M1820.4 282.9h0M1819.1 326.1h0M1820.4 272h0M1819.3 278.2h0M1818.5 260.6h0M1819.6 310.4h0M1819.2 254.5h0M1820.7 305.7h0M1820.4 293.7h0M1818.7 248.9h0M1820 315.2h0M1820.7 252.6h0M1818.6 303.8h0M1820.1 311.5h0M1819.4 298.8h0M1819.4 287.4h0M1818.7 325.3h0M1819 308.5h0M1820.4 307.7h0M1820.6 261.2h0M1819.8 296.8h0M1820.7 289h0M1820.7 258.8h0M1820.1 278.6h0M1819 308.9h0M1819.3 294.1h0M1820.3 321.5h0M1819.1 245.8h0M1820.5 290.1h0M1820.1 251.3h0M1819.2 305.8h0M1819.3 252.6h0M1818.9 324.4h0M1820.5 243.8h0M1819 300.8h0M1821 296.4h0M1819.8 254.8h0M1818.5 246.7h0M1819 300.5h0M1820.8 295.7h0M1819.7 319.7h0M1818.7 289.1h0M1818.9 321.7h0M1820.8 314h0M1818.9 302h0M1820.7 315.1h0M1820.8 316.8h0M1820.4 286.7h0M1819 253.4h0M1819.5 284.8h0M1819.4 277.4h0M1820.3 284.9h0M1819.2 286.9h0M1818.8 260.9h0M1818.9 325h0M1820.3 294.8h0M1818.5 242.9h0M1819.4 251.5h0M1819.2 313h0M1818.5 300.1h0M1819.2 253.2h0M1818.8 258.2h0M1818.7 324.5h0M1819.7 279.2h0M1820.6 321.2h0M1819.7 278.5h0M1818.5 289.2h0M1820.3 252.1h0M1820.8 300.2h0M1820.8 282.8h0M1820.1 263.2h0M1820.3 277.8h0M1819.1 252.6h0M1819.2 300.7h0M1819.9 316.2h0M1818.8 294.5h0M1819.1 325h0M1819.7 267.8h0M1819.1 288.9h0M1819.6 300.9h0M1819.3 296.3h0M1820.1 318.6h0M1819.9 274.3h0M1819.2 270.5h0M1818.4 312.5h0M1819.6 279.6h0M1820.7 262.6h0M1818.7 257.9h0M1820.4 250.5h0M1819.9 296.7h0M1820.2 280.7h0M1820.9 271.3h0M1818.5 248.3h0M1819.5 299.8h0M1819.7 254.2h0M1819.2 248.9h0M1820 256.6h0M1819.5 293.5h0M1820.9 323.5h0M1819 292.1h0M1819.1 262.8h0M1819.5 304.8h0M1819.8 259.1h0M1820.9 253.6h0M1818.8 271.6h0M1820.4 254.1h0M1819.8 278.5h0M1818.6 255h0M1820.2 258.9h0M1819.1 287.3h0M1819.2 267.5h0M1818.9 297h0M1820.2 297.3h0M1820.3 314.9h0M1818.6 310.3h0M1819.3 280.4h0M1819.8 316.4h0M1820 265h0M1820.6 303.5h0M1820.5 312.8h0M1820.4 264h0M1820.4 261.4h0M1729.1 316h0M1747.7 312.2h0M1716 316.2h0M1719.8 287.9h0M1750.7 288.3h0M1723.1 310.5h0M1730.1 312h0M1751.1 281.3h0M1736.4 305.1h0M1751.5 315.3h0M1734.2 296.5h0M1723.6 287.7h0M1738.1 303.4h0M1731.5 287.4h0M1739.5 309.8h0M1723.6 281.6h0M1749.4 317.5h0M1724.9 297h0M1751.3 303.9h0M1739.9 307.2h0M1731.1 285.6h0M1749.8 307.5h0M1739.2 324.4h0M1747.1 319.4h0M1727.7 293.9h0M1720.4 305.5h0M1724.9 313.8h0M1748.3 297.5h0M1730.6 283.8h0M1740.1 278.6h0M1729 290.4h0M1750.7 291.7h0M1743.1 288.4h0M1721.9 286.4h0M1732.6 301.1h0M1737.6 291.7h0M1740.5 282.8h0M1735.1 300.9h0M1714.8 292.4h0M1745 303.3h0M1742.2 295.1h0M1748.8 293.5h0M1728 300.6h0M1732.5 308h0M1749 309.5h0M1714.4 303.6h0M1746.1 278.8h0M1718 306.1h0M1735.4 286.7h0M1751.1 289.8h0M1733.7 297.8h0M1730.2 284.1h0M1715.9 280h0M1723.6 317.9h0M1721 319.6h0M1751.4 319.7h0M1741 307.6h0M1720.1 301.3h0M1736.1 306.5h0M1725.3 307.5h0M1750.6 279.3h0M1717.8 290.3h0M1745.9 312.1h0M1719.3 319.2h0M1748.5 297.4h0M1731.2 301.9h0M1723.3 313.7h0M1722.3 307.6h0M1740.1 320.9h0M1734.5 318.3h0M1734.7 302.4h0M1748.6 295h0M1721.6 301.8h0M1725.9 305.7h0M1718.7 313.5h0M1742.5 287.5h0M1744.7 314.2h0M1735.8 314.9h0M1739.8 312.8h0M1744.2 300.3h0M1727.7 320h0M1737.9 293h0M1752.2 296h0M1716.4 301.3h0M1730.2 316.1h0M1745.5 316.4h0M1732.5 286.3h0M1748.8 280.9h0M1737.5 290.8h0M1725.7 311.5h0M1746.8 297.9h0M1729.2 282.5h0M1737 293.8h0M1738.9 291.6h0M1725.1 303.2h0M1778.1 254.4h0M1727.6 267.3h0M1797.8 240.4h0M1747.4 257.4h0M1744.4 265.2h0M1771.8 251.2h0M1730.7 265.1h0M1772.4 250.3h0M1761.6 261.1h0M1734.7 271.6h0M1731.4 269.2h0M1746.6 262h0M1754.5 257.6h0M1721.9 271.9h0M1758.5 254.7h0M1772.3 252.3h0M1788.2 243.4h0M1727.5 277.2h0M1783.8 252.3h0M1756.7 266.1h0M1774.7 261.3h0M1725.3 273.2h0M1723.6 268h0M1723 280h0M1795.2 244.6h0M1782.5 246.1h0M1734.8 273.1h0M1750.5 259.7h0M1793.8 254.2h0M1727.7 277.3h0M1749.9 257.4h0M1786.3 250.8h0M1782 248.7h0M1757.6 267.7h0M1749.7 269.1h0M1795.6 240.9h0M1790.7 245.2h0M1770.6 254.9h0M1765.9 258.7h0M1730.4 262.4h0M1818.9 330h0" stroke="#f4895a" stroke-width="3.1" stroke-linecap="round" fill="none"/>
<path d="M1818.8 240.7h0M1816.7 206.4h0M1820.3 190.9h0M1817.7 195.2h0M1816.3 218.5h0M1816.7 213h0M1817.8 245.3h0M1814.8 193.1h0M1816.5 232.4h0M1818.9 200.5h0M1813.5 203h0M1820.2 229.9h0M1820.6 216.4h0M1814.3 192.5h0M1812.6 191.1h0M1816.1 220.3h0M1817.3 217.3h0M1818.7 183.8h0M1818.4 222.4h0M1816.6 185.8h0M1818.6 232.8h0M1817.6 231.4h0M1820.8 220.1h0M1820.5 226.4h0M1820 209.9h0M1820 192.7h0M1816.8 184.1h0M1816.5 201.7h0M1814.6 188h0M1815 239.3h0M1815.3 226.5h0M1818 218.6h0M1815.1 244.2h0M1818.2 214.7h0M1816 184h0M1816.5 208.5h0M1820.1 243.7h0M1817.9 227.5h0M1819.8 225.1h0M1816.1 186h0M1817.9 218.3h0M1819 240h0M1812.6 226.8h0M1813.2 195.6h0M1819.4 206.9h0M1818.9 182h0M1818.4 241.6h0M1818 211.9h0M1819.3 196.6h0M1820.7 199.9h0M1810.7 234.4h0M1820.1 221.5h0M1817.8 237.3h0M1815.7 208.9h0M1819.2 188.1h0M1813.9 242.7h0M1817 238.1h0M1814.5 231.5h0M1820.8 199.3h0M1817.7 220.6h0M1816.9 224.4h0M1814 195.6h0M1818.7 194.7h0M1818.8 200.4h0M1819.7 232.1h0M1815.1 241.2h0M1814.7 190h0M1819.7 211.1h0M1817.6 180.3h0M1815.8 241h0M1815.1 244.3h0M1815.9 203.3h0M1816.1 243.1h0M1819 192.5h0M1820.1 229.2h0M1815.2 234.6h0M1820.8 197.6h0M1816.2 228.3h0M1811.8 209.7h0M1820.7 242.3h0M1820.8 211.5h0M1818.8 186.1h0M1819.6 216.3h0M1816.7 245.1h0M1819.7 216.8h0M1813.3 181.6h0M1819.4 189.3h0M1817.2 193.7h0M1820.7 189.3h0M1819.2 195.5h0M1817.6 196.4h0M1813 231.7h0M1820.4 190.9h0M1820.3 231.9h0M1817.7 243.9h0M1818.7 226h0M1817.6 236.8h0M1813.9 200.5h0M1817.6 235.4h0M1818.5 194h0M1817.1 234.4h0M1817.6 204.4h0M1817 197.1h0M1819.3 236.7h0M1816.8 243.4h0M1819.5 220.2h0M1816.4 180.7h0M1813.3 231.5h0M1820 238.9h0M1818.6 205.1h0M1817.6 231.3h0M1821 204.7h0M1819.7 205.6h0M1819.2 196.2h0M1818.6 228h0M1813.2 206.7h0M1820.9 217.9h0M1816.4 224.9h0M1818.6 216.6h0M1818.3 229.7h0M1820 237.3h0M1820.1 207.9h0M1818.9 225.8h0M1817.1 231.3h0M1820.2 223.6h0M1820.3 220.7h0M1818.7 231.4h0M1816.1 213.9h0M1815.4 220.1h0M1817.1 194h0M1816.3 192.8h0M1819.4 191.3h0M1818.9 196.6h0M1814.7 212h0M1817.2 239.1h0M1813.5 195.7h0M1816.7 240.6h0M1818.1 184h0M1816.6 240.3h0M1814.8 230.8h0M1818.8 198.5h0M1819.6 186.1h0M1820.1 236.6h0M1820.3 240.4h0M1814.9 210.2h0M1817.4 230.8h0M1817.4 216.3h0M1820.7 228.6h0M1821 240.9h0M1814.7 188.7h0M1813.3 218.7h0M1819.7 242.9h0M1818 238.1h0M1817.9 226.7h0M1819.9 210.4h0M1819.1 220.2h0M1820.8 182.4h0M1813 212.4h0M1813.1 225.2h0M1817.9 236h0M1818.7 218h0M1815.5 187.7h0M1817.5 228.5h0M1820.4 211.6h0M1817.4 206.1h0M1820.8 193.2h0M1820.2 235.9h0M1816.3 214h0M1819 244.8h0M1819.4 199.5h0M1820.7 206.7h0M1817.3 229.2h0M1820.5 205h0M1813.9 206.3h0M1815.6 231.3h0M1817.3 209.2h0M1819.2 241.7h0M1818.8 201.9h0M1818 226.4h0M1816.3 183.9h0M1816.8 203.8h0M1818.1 244.4h0M1818.5 230.2h0M1814.3 205.3h0M1817.8 208.4h0M1812.8 242.8h0M1808.6 227.5h0M1817.8 227h0M1818.8 208.2h0M1819.1 198h0M1815.6 227.4h0M1819.3 245.1h0M1820.8 235.4h0M1816.1 219.1h0M1813.4 212.5h0M1814.5 190.9h0M1812.6 196.3h0M1814.5 236.7h0M1817.6 206.6h0M1820.9 225.5h0M1817 222.6h0M1808.6 201.4h0M1816.9 215.9h0M1816 234.8h0M1818.9 222.2h0M1818.9 201.5h0M1819 237h0M1820.2 198.9h0M1818.3 228.7h0M1815.2 224.7h0M1815.4 234.8h0M1817.8 184.2h0M1818.1 195h0M1819.9 216.4h0M1818 197.4h0M1820.6 201h0M1818.7 232.4h0M1820.5 182h0M1815.4 188.2h0M1820.6 204.3h0M1816.2 216.5h0M1820.3 193.4h0M1815.3 203h0M1819.6 242.1h0M1820.2 180h0M1820.1 226.7h0M1816.8 224.6h0M1819.2 196.1h0M1819.3 231.6h0M1815.8 182.7h0M1816.4 209.3h0M1820.1 237.9h0M1820.3 216h0M1821 204.4h0M1815.8 200.4h0M1817.7 212.8h0M1813.6 218.5h0M1819.5 203h0M1818.8 181.3h0M1819.1 181.8h0M1820.6 179.8h0M1818.6 222.7h0M1815.4 245.2h0M1817.8 227.3h0M1816.5 202h0M1814.5 205h0M1820 209.1h0M1820.5 244.2h0M1818.3 186.3h0M1807.3 219.8h0M1817.4 229.8h0M1815.5 189.2h0M1820.9 223.8h0M1816.5 185h0M1820.6 184.4h0M1811.5 204.9h0M1819.6 185h0M1820.4 207.2h0M1813.7 229.9h0M1816.9 214.2h0M1777 254h0M1811.1 255.9h0M1781.5 239.6h0M1785.1 251.7h0M1812.2 205.1h0M1779.7 251.2h0M1809.7 211.1h0M1785.6 247.9h0M1785.8 235.6h0M1811 222.5h0M1776.8 255.5h0M1783.6 244.4h0M1805.6 206.7h0M1793.7 259.9h0M1809.8 207.7h0M1813.7 254.1h0M1801.2 218h0M1791.6 236.8h0M1784.7 241.2h0M1808.7 204.7h0M1783.7 259.3h0M1806.7 251.6h0M1777.4 244.4h0M1791.5 230.4h0M1798.6 237.5h0M1808.4 226.9h0M1775.8 249.4h0M1814.5 229.9h0M1818.7 260.9h0M1795.4 251.7h0M1806.9 246.5h0M1791.9 231.3h0M1811.8 217.8h0M1789.8 235.7h0M1815 194.2h0M1809.1 265.3h0M1809 260.5h0M1815.2 260.5h0M1792.2 228.1h0M1800.7 245.6h0M1808 237.5h0M1787.9 238.6h0M1790.2 251.6h0M1784.1 238.9h0M1793.5 238.6h0M1788.5 252.4h0M1791.9 245.7h0M1803.7 259.2h0M1788.8 254.9h0M1792 239.2h0M1801.7 236.8h0M1808.7 222.5h0M1802.6 243.7h0M1800.2 231.5h0M1816 265.2h0M1801.7 215.8h0M1793.3 224.2h0M1815.4 250.8h0M1785.8 244.6h0M1790 260h0M1788.9 241.5h0M1810.3 244.9h0M1807.7 231.1h0M1775.8 248h0M1788.3 249.9h0M1818.2 248h0M1801.1 256.8h0M1790.3 244.2h0M1797 236.8h0M1782 261.7h0M1793.9 256.8h0M1794.3 256.1h0M1792.4 245.5h0M1787.1 232.8h0M1812.6 196.6h0M1792.7 229.8h0M1793.2 223.3h0M1792.2 222.4h0M1817.1 199.6h0M1813.4 197.4h0M1792.6 224.6h0M1804.8 265.6h0M1777.6 262.3h0M1792.2 245.4h0M1808.7 198.7h0M1776.3 250.1h0M1797.7 247.5h0M1780.5 265.6h0M1811.9 211.6h0M1802.5 264.1h0M1799.4 265.3h0M1788.7 238.8h0M1804.2 231.5h0M1786.3 265.7h0M1816.3 199.5h0M1779.3 241.4h0M1782.5 254.9h0M1777.6 266.2h0M1813.3 226.9h0M1803.8 219.5h0M1776.9 260.3h0M1791.4 245.6h0M1812.5 210.2h0M1812.6 235.3h0M1781.5 260.6h0M1816.7 248.9h0M1817.3 193.1h0M1797.2 259.4h0M1805.8 250h0M1808 247.7h0M1806 255.5h0M1796.6 264.4h0M1783.4 264.2h0M1792.5 225.4h0M1816.5 200h0M1814.2 258.2h0M1782.1 239.2h0M1804.7 232.1h0M1784.9 250.7h0M1795.5 233.4h0M1788.5 235.7h0M1783.6 253.5h0M1794.4 222h0M1784.4 247.2h0M1800.7 245h0M1813.2 254.2h0M1783.8 237.9h0M1781 250.5h0M1812.7 203.2h0M1792.5 255.2h0M1814.9 251.4h0M1798.1 215.2h0M1788.3 237.6h0M1795.1 224.1h0M1789.3 230.6h0M1817.8 191.7h0M1789.1 235.5h0M1796.7 218h0M1791.2 256.5h0M1788.8 235.7h0M1801.6 241.5h0M1814.5 221.6h0M1814.8 207.2h0M1802.8 243.9h0M1794.8 248.3h0M1780.2 250.5h0M1809.5 206h0M1780.6 255.1h0M1795 265.5h0M1777.5 264.4h0M1804.6 226.9h0M1814.2 238.7h0M1805.1 255.4h0M1810.1 231.7h0M1816.2 232.2h0M1812 248.3h0M1815.4 259.5h0M1805.8 226.2h0M1806.1 258.3h0M1816.6 243.9h0M1811.4 235h0M1804 237.2h0M1818.7 248.3h0M1815.1 227h0M1814.9 243.2h0M1805.7 241.5h0M1801.7 259.1h0M1800.5 226.5h0M1818.6 255.8h0M1802.8 229.8h0M1803.5 234.6h0M1809.7 241.6h0M1812 250.4h0M1812 255.7h0M1807.3 236h0M1817.2 227.7h0M1817.2 247.8h0M1807.8 228.7h0M1799.6 253.4h0M1817 251.9h0M1804 259.3h0M1809.6 251.1h0M1806.6 248.5h0M1814.9 260.2h0M1805.7 247.5h0M1810.4 246.6h0M1803.4 232.6h0M1802.9 255.5h0M1805.3 242.4h0M1807.4 254.5h0M1803.7 227.1h0M1818.7 229.4h0M1805.1 243.6h0M1811.9 235.3h0M1808.4 250.1h0M1812.8 236.7h0M1802.9 236h0M1810 260.6h0M1805.9 252.2h0M1800.4 229.2h0M1818.8 254h0M1814.7 259.6h0M1817.5 258.5h0M1810.3 260.3h0M1805.6 232.8h0M1811.6 236.1h0M1804.5 228h0M1800.6 225.9h0M1815.4 231.7h0M1809.1 245.7h0M1818.6 173.3h0M1818.8 167h0M1820.4 155.6h0M1818.3 148h0M1820.2 146.7h0M1761.2 214.4h0" stroke="#ae1e23" stroke-width="3.1" stroke-linecap="round" fill="none"/>
<circle cx="1608" cy="177.3" r="5.2" fill="#c9c9c8"/>
<text x="1625.3" y="186" font-size="25">0</text>
<circle cx="1608" cy="198.8" r="5.2" fill="#f4895a"/>
<text x="1625.3" y="207.5" font-size="25">1</text>
<circle cx="1608" cy="221.1" r="5.2" fill="#ae1e23"/>
<text x="1625.3" y="229.8" font-size="25">2</text>
<text x="1740.8" y="357.7" font-size="25"><tspan font-style="italic">n</tspan> = 30,260</text>
<ellipse cx="1956.8" cy="174" rx="36" ry="30.5" fill="#f0f0f0" stroke="#111" stroke-width="1.7" transform="rotate(-25 1956.8 174)"/>
<ellipse cx="1958.4" cy="169.2" rx="22.5" ry="19" fill="#c8c8c8" stroke="#111" stroke-width="1.7" transform="rotate(-30 1958.4 169.2)"/>
<path d="M1946.3 162.7l1.5 4.8l-1.5 4.8M1950.5 162.7l-1.5 4.8l1.5 4.8M1956 156.6l1.5 4.8l-1.5 4.8M1960.2 156.6l-1.5 4.8l1.5 4.8M1965 166.9l1.5 4.8l-1.5 4.8M1969.2 166.9l-1.5 4.8l1.5 4.8" stroke="#a6a6a6" stroke-width="1.7" fill="none"/>
<ellipse cx="1955.4" cy="274.7" rx="40" ry="34" fill="#f9d8c9" stroke="#111" stroke-width="1.7" transform="rotate(-25 1955.4 274.7)"/>
<ellipse cx="1956.9" cy="269.4" rx="25" ry="21.5" fill="#f4895a" stroke="#111" stroke-width="1.7" transform="rotate(-30 1956.9 269.4)"/>
<path d="M1939.3 263.8l1.5 4.8l-1.5 4.8M1943.5 263.8l-1.5 4.8l1.5 4.8M1949 257.9l1.5 4.8l-1.5 4.8M1953.2 257.9l-1.5 4.8l1.5 4.8M1960.1 254.6l1.5 4.8l-1.5 4.8M1964.3 254.6l-1.5 4.8l1.5 4.8M1967.2 265.4l1.5 4.8l-1.5 4.8M1971.4 265.4l-1.5 4.8l1.5 4.8M1954.1 274.3l1.5 4.8l-1.5 4.8M1958.3 274.3l-1.5 4.8l1.5 4.8" stroke="#c08e78" stroke-width="1.7" fill="none"/>
<ellipse cx="1956.4" cy="387.1" rx="47" ry="40" fill="#ecaab0" stroke="#111" stroke-width="1.7" transform="rotate(-25 1956.4 387.1)"/>
<ellipse cx="1958.6" cy="381.3" rx="29.5" ry="25" fill="#b21e25" stroke="#111" stroke-width="1.7" transform="rotate(-30 1958.6 381.3)"/>
<path d="M1938.8 370.7l1.5 4.8l-1.5 4.8M1943 370.7l-1.5 4.8l1.5 4.8M1948.5 364.3l1.5 4.8l-1.5 4.8M1952.7 364.3l-1.5 4.8l1.5 4.8M1959.7 361.5l1.5 4.8l-1.5 4.8M1963.9 361.5l-1.5 4.8l1.5 4.8M1970 363.6l1.5 4.8l-1.5 4.8M1974.2 363.6l-1.5 4.8l1.5 4.8M1953.3 380.7l1.5 4.8l-1.5 4.8M1957.5 380.7l-1.5 4.8l1.5 4.8M1963.3 385.7l1.5 4.8l-1.5 4.8M1967.5 385.7l-1.5 4.8l1.5 4.8M1973.4 381.5l1.5 4.8l-1.5 4.8M1977.6 381.5l-1.5 4.8l1.5 4.8M1944.6 389l1.5 4.8l-1.5 4.8M1948.8 389l-1.5 4.8l1.5 4.8" stroke="#9a5656" stroke-width="1.7" fill="none"/>
<text x="2013" y="166.3" font-size="25">0 × WGD</text>
<text x="2013" y="196.3" font-size="25">cell (2<tspan font-style="italic">n</tspan>)</text>
<text x="2014" y="267.5" font-size="25">1 × WGD</text>
<text x="2013" y="298.2" font-size="25">cell (4<tspan font-style="italic">n</tspan>)</text>
<text x="2011" y="381.9" font-size="25">2 × WGD</text>
<text x="2011" y="412.2" font-size="25">cell (8<tspan font-style="italic">n</tspan>)</text>
<line x1="1956.5" y1="210.3" x2="1956.5" y2="229.1" stroke="#000" stroke-width="2.4"/>
<path d="M1956.5 234.1l-6.2 -12.5l6.2 3.2l6.2 -3.2z" fill="#000"/>
<text x="1971.9" y="232.6" font-size="25">WGD</text>
<line x1="1956.5" y1="315.5" x2="1956.5" y2="334.3" stroke="#000" stroke-width="2.4"/>
<path d="M1956.5 339.3l-6.2 -12.5l6.2 3.2l6.2 -3.2z" fill="#000"/>
<text x="1971.9" y="337.8" font-size="25">WGD</text>
</g>
<g id="pc">
<text x="0" y="566" font-size="34" font-weight="bold" stroke="#000" stroke-width="0.9">c</text>
<rect x="230.1" y="560.1" width="38.1" height="35.5" fill="#93abb1"/>
<rect x="267.9" y="560.1" width="38.1" height="35.5" fill="#a9c9c7"/>
<rect x="305.8" y="560.1" width="38.1" height="35.5" fill="#98b0b5"/>
<rect x="343.6" y="560.1" width="38.1" height="35.5" fill="#bfd5d6"/>
<rect x="381.4" y="560.1" width="38.1" height="35.5" fill="#504e6e"/>
<rect x="419.3" y="560.1" width="38.1" height="35.5" fill="#c5dad9"/>
<rect x="457.1" y="560.1" width="38.1" height="35.5" fill="#5d607e"/>
<rect x="494.9" y="560.1" width="38.1" height="35.5" fill="#99afb5"/>
<rect x="532.8" y="560.1" width="38.1" height="35.5" fill="#666c87"/>
<rect x="570.6" y="560.1" width="38.1" height="35.5" fill="#92a7ae"/>
<rect x="608.5" y="560.1" width="38.1" height="35.5" fill="#748094"/>
<rect x="646.3" y="560.1" width="38.1" height="35.5" fill="#a0babd"/>
<rect x="684.1" y="560.1" width="38.1" height="35.5" fill="#93a8af"/>
<rect x="722" y="560.1" width="38.1" height="35.5" fill="#9bb3b7"/>
<rect x="759.8" y="560.1" width="38.1" height="35.5" fill="#a0bdbe"/>
<rect x="797.6" y="560.1" width="38.1" height="35.5" fill="#737f93"/>
<rect x="835.5" y="560.1" width="38.1" height="35.5" fill="#d3e2e1"/>
<rect x="873.3" y="560.1" width="38.1" height="35.5" fill="#8da3aa"/>
<rect x="911.1" y="560.1" width="38.1" height="35.5" fill="#96adb3"/>
<rect x="949" y="560.1" width="38.1" height="35.5" fill="#454360"/>
<rect x="986.8" y="560.1" width="38.1" height="35.5" fill="#8495a2"/>
<rect x="1024.6" y="560.1" width="38.1" height="35.5" fill="#696e89"/>
<rect x="1062.5" y="560.1" width="38.1" height="35.5" fill="#8495a2"/>
<rect x="1100.3" y="560.1" width="38.1" height="35.5" fill="#91a7ad"/>
<rect x="1138.1" y="560.1" width="38.1" height="35.5" fill="#717b90"/>
<rect x="1176" y="560.1" width="38.1" height="35.5" fill="#6a708b"/>
<rect x="1213.8" y="560.1" width="38.1" height="35.5" fill="#3d3d55"/>
<rect x="1251.6" y="560.1" width="38.1" height="35.5" fill="#8799a4"/>
<rect x="1289.5" y="560.1" width="38.1" height="35.5" fill="#545272"/>
<rect x="1327.3" y="560.1" width="76" height="35.5" fill="#7d8d9c"/>
<rect x="1403" y="560.1" width="38.1" height="35.5" fill="#626882"/>
<rect x="1440.8" y="560.1" width="38.1" height="35.5" fill="#676d87"/>
<rect x="1478.7" y="560.1" width="38.1" height="35.5" fill="#8899a4"/>
<rect x="1516.5" y="560.1" width="38.1" height="35.5" fill="#707a8f"/>
<rect x="1554.3" y="560.1" width="38.1" height="35.5" fill="#91a7ad"/>
<rect x="1592.2" y="560.1" width="38.1" height="35.5" fill="#696f8a"/>
<rect x="1630" y="560.1" width="38.1" height="35.5" fill="#545272"/>
<rect x="1667.8" y="560.1" width="38.1" height="35.5" fill="#5a5b7a"/>
<rect x="1705.7" y="560.1" width="38.1" height="35.5" fill="#91a7ae"/>
<rect x="1743.5" y="560.1" width="38.1" height="35.5" fill="#3e3e56"/>
<line x1="220.6" y1="577.9" x2="230.1" y2="577.9" stroke="#1a1a1a" stroke-width="2"/>
<text x="207.5" y="583.9" font-size="25" text-anchor="end">Age</text>
<rect x="230.1" y="610.8" width="227.3" height="33.2" fill="#678db3"/>
<rect x="457.1" y="610.8" width="38.1" height="33.2" fill="#753823"/>
<rect x="494.9" y="610.8" width="189.5" height="33.2" fill="#678db3"/>
<rect x="684.1" y="610.8" width="38.1" height="33.2" fill="#753823"/>
<rect x="722" y="610.8" width="76" height="33.2" fill="#678db3"/>
<rect x="797.6" y="610.8" width="38.1" height="33.2" fill="#be4945"/>
<rect x="835.5" y="610.8" width="38.1" height="33.2" fill="#678db3"/>
<rect x="873.3" y="610.8" width="38.1" height="33.2" fill="#6d9f6f"/>
<rect x="911.1" y="610.8" width="189.5" height="33.2" fill="#753823"/>
<rect x="1100.3" y="610.8" width="38.1" height="33.2" fill="#6d9f6f"/>
<rect x="1138.1" y="610.8" width="38.1" height="33.2" fill="#753823"/>
<rect x="1176" y="610.8" width="38.1" height="33.2" fill="#6d9f6f"/>
<rect x="1213.8" y="610.8" width="76" height="33.2" fill="#753823"/>
<rect x="1289.5" y="610.8" width="38.1" height="33.2" fill="#6d9f6f"/>
<rect x="1327.3" y="610.8" width="76" height="33.2" fill="#678db3"/>
<rect x="1403" y="610.8" width="76" height="33.2" fill="#6d9f6f"/>
<rect x="1478.7" y="610.8" width="76" height="33.2" fill="#678db3"/>
<rect x="1554.3" y="610.8" width="38.1" height="33.2" fill="#6d9f6f"/>
<rect x="1592.2" y="610.8" width="76" height="33.2" fill="#753823"/>
<rect x="1667.8" y="610.8" width="38.1" height="33.2" fill="#6d9f6f"/>
<rect x="1705.7" y="610.8" width="76" height="33.2" fill="#753823"/>
<line x1="220.6" y1="627.4" x2="230.1" y2="627.4" stroke="#1a1a1a" stroke-width="2"/>
<text x="207.5" y="635" font-size="25" text-anchor="end">Signature</text>
<rect x="230.1" y="660.4" width="38.1" height="33.3" fill="#cbcbc9"/>
<rect x="267.9" y="660.4" width="113.8" height="33.3" fill="#678db3"/>
<rect x="381.4" y="660.4" width="38.1" height="33.3" fill="#cbcbc9"/>
<rect x="419.3" y="660.4" width="38.1" height="33.3" fill="#678db3"/>
<rect x="457.1" y="660.4" width="151.6" height="33.3" fill="#cbcbc9"/>
<rect x="608.5" y="660.4" width="38.1" height="33.3" fill="#385772"/>
<rect x="646.3" y="660.4" width="76" height="33.3" fill="#cbcbc9"/>
<rect x="722" y="660.4" width="38.1" height="33.3" fill="#446343"/>
<rect x="759.8" y="660.4" width="38.1" height="33.3" fill="#385772"/>
<rect x="797.6" y="660.4" width="37.8" height="33.3" fill="#cbcbc9"/>
<polygon points="797.6,660.4 835.5,660.4 797.6,693.7" fill="#6d9f6f"/>
<rect x="835.5" y="660.4" width="38.1" height="33.3" fill="#678db3"/>
<rect x="873.3" y="660.4" width="38.1" height="33.3" fill="#6d9f6f"/>
<rect x="911.1" y="660.4" width="113.8" height="33.3" fill="#cbcbc9"/>
<rect x="1024.6" y="660.4" width="38.1" height="33.3" fill="#385772"/>
<rect x="1062.5" y="660.4" width="113.8" height="33.3" fill="#cbcbc9"/>
<rect x="1176" y="660.4" width="38.1" height="33.3" fill="#6d9f6f"/>
<rect x="1213.8" y="660.4" width="76" height="33.3" fill="#cbcbc9"/>
<rect x="1289.5" y="660.4" width="38.1" height="33.3" fill="#6d9f6f"/>
<rect x="1327.3" y="660.4" width="38.1" height="33.3" fill="#cbcbc9"/>
<rect x="1365.1" y="660.4" width="38.1" height="33.3" fill="#678db3"/>
<rect x="1403" y="660.4" width="38.1" height="33.3" fill="#6d9f6f"/>
<rect x="1440.8" y="660.4" width="38.1" height="33.3" fill="#cbcbc9"/>
<rect x="1478.7" y="660.4" width="38.1" height="33.3" fill="#385772"/>
<rect x="1516.5" y="660.4" width="38.1" height="33.3" fill="#678db3"/>
<rect x="1554.3" y="660.4" width="38.1" height="33.3" fill="#385772"/>
<rect x="1592.2" y="660.4" width="37.8" height="33.3" fill="#cbcbc9"/>
<polygon points="1592.2,660.4 1630,660.4 1592.2,693.7" fill="#6d9f6f"/>
<rect x="1630" y="660.4" width="151.6" height="33.3" fill="#cbcbc9"/>
<line x1="220.6" y1="677" x2="230.1" y2="677" stroke="#1a1a1a" stroke-width="2"/>
<text x="207.5" y="683.9" font-size="25" text-anchor="end"><tspan font-style="italic">BRCA</tspan> status</text>
<rect x="230.1" y="710" width="530" height="33.2" fill="#c2934e"/>
<rect x="759.8" y="710" width="1021.8" height="33.2" fill="#154a4e"/>
<line x1="220.6" y1="726.6" x2="230.1" y2="726.6" stroke="#1a1a1a" stroke-width="2"/>
<text x="207.5" y="734" font-size="25" text-anchor="end">WGD class</text>
<line x1="267.9" y1="610.8" x2="267.9" y2="644" stroke="#fff" stroke-width="0.5" opacity="0.2"/>
<line x1="267.9" y1="660.4" x2="267.9" y2="693.7" stroke="#fff" stroke-width="0.5" opacity="0.2"/>
<line x1="267.9" y1="710" x2="267.9" y2="743.2" stroke="#fff" stroke-width="0.5" opacity="0.2"/>
<line x1="305.8" y1="610.8" x2="305.8" y2="644" stroke="#fff" stroke-width="0.5" opacity="0.2"/>
<line x1="305.8" y1="660.4" x2="305.8" y2="693.7" stroke="#fff" stroke-width="0.5" opacity="0.2"/>
<line x1="305.8" y1="710" x2="305.8" y2="743.2" stroke="#fff" stroke-width="0.5" opacity="0.2"/>
<line x1="343.6" y1="610.8" x2="343.6" y2="644" stroke="#fff" stroke-width="0.5" opacity="0.2"/>
<line x1="343.6" y1="660.4" x2="343.6" y2="693.7" stroke="#fff" stroke-width="0.5" opacity="0.2"/>
<line x1="343.6" y1="710" x2="343.6" y2="743.2" stroke="#fff" stroke-width="0.5" opacity="0.2"/>
<line x1="381.4" y1="610.8" x2="381.4" y2="644" stroke="#fff" stroke-width="0.5" opacity="0.2"/>
<line x1="381.4" y1="660.4" x2="381.4" y2="693.7" stroke="#fff" stroke-width="0.5" opacity="0.2"/>
<line x1="381.4" y1="710" x2="381.4" y2="743.2" stroke="#fff" stroke-width="0.5" opacity="0.2"/>
<line x1="419.3" y1="610.8" x2="419.3" y2="644" stroke="#fff" stroke-width="0.5" opacity="0.2"/>
<line x1="419.3" y1="660.4" x2="419.3" y2="693.7" stroke="#fff" stroke-width="0.5" opacity="0.2"/>
<line x1="419.3" y1="710" x2="419.3" y2="743.2" stroke="#fff" stroke-width="0.5" opacity="0.2"/>
<line x1="457.1" y1="610.8" x2="457.1" y2="644" stroke="#fff" stroke-width="0.5" opacity="0.2"/>
<line x1="457.1" y1="660.4" x2="457.1" y2="693.7" stroke="#fff" stroke-width="0.5" opacity="0.2"/>
<line x1="457.1" y1="710" x2="457.1" y2="743.2" stroke="#fff" stroke-width="0.5" opacity="0.2"/>
<line x1="494.9" y1="610.8" x2="494.9" y2="644" stroke="#fff" stroke-width="0.5" opacity="0.2"/>
<line x1="494.9" y1="660.4" x2="494.9" y2="693.7" stroke="#fff" stroke-width="0.5" opacity="0.2"/>
<line x1="494.9" y1="710" x2="494.9" y2="743.2" stroke="#fff" stroke-width="0.5" opacity="0.2"/>
<line x1="532.8" y1="610.8" x2="532.8" y2="644" stroke="#fff" stroke-width="0.5" opacity="0.2"/>
<line x1="532.8" y1="660.4" x2="532.8" y2="693.7" stroke="#fff" stroke-width="0.5" opacity="0.2"/>
<line x1="532.8" y1="710" x2="532.8" y2="743.2" stroke="#fff" stroke-width="0.5" opacity="0.2"/>
<line x1="570.6" y1="610.8" x2="570.6" y2="644" stroke="#fff" stroke-width="0.5" opacity="0.2"/>
<line x1="570.6" y1="660.4" x2="570.6" y2="693.7" stroke="#fff" stroke-width="0.5" opacity="0.2"/>
<line x1="570.6" y1="710" x2="570.6" y2="743.2" stroke="#fff" stroke-width="0.5" opacity="0.2"/>
<line x1="608.5" y1="610.8" x2="608.5" y2="644" stroke="#fff" stroke-width="0.5" opacity="0.2"/>
<line x1="608.5" y1="660.4" x2="608.5" y2="693.7" stroke="#fff" stroke-width="0.5" opacity="0.2"/>
<line x1="608.5" y1="710" x2="608.5" y2="743.2" stroke="#fff" stroke-width="0.5" opacity="0.2"/>
<line x1="646.3" y1="610.8" x2="646.3" y2="644" stroke="#fff" stroke-width="0.5" opacity="0.2"/>
<line x1="646.3" y1="660.4" x2="646.3" y2="693.7" stroke="#fff" stroke-width="0.5" opacity="0.2"/>
<line x1="646.3" y1="710" x2="646.3" y2="743.2" stroke="#fff" stroke-width="0.5" opacity="0.2"/>
<line x1="684.1" y1="610.8" x2="684.1" y2="644" stroke="#fff" stroke-width="0.5" opacity="0.2"/>
<line x1="684.1" y1="660.4" x2="684.1" y2="693.7" stroke="#fff" stroke-width="0.5" opacity="0.2"/>
<line x1="684.1" y1="710" x2="684.1" y2="743.2" stroke="#fff" stroke-width="0.5" opacity="0.2"/>
<line x1="722" y1="610.8" x2="722" y2="644" stroke="#fff" stroke-width="0.5" opacity="0.2"/>
<line x1="722" y1="660.4" x2="722" y2="693.7" stroke="#fff" stroke-width="0.5" opacity="0.2"/>
<line x1="722" y1="710" x2="722" y2="743.2" stroke="#fff" stroke-width="0.5" opacity="0.2"/>
<line x1="759.8" y1="610.8" x2="759.8" y2="644" stroke="#fff" stroke-width="0.5" opacity="0.2"/>
<line x1="759.8" y1="660.4" x2="759.8" y2="693.7" stroke="#fff" stroke-width="0.5" opacity="0.2"/>
<line x1="759.8" y1="710" x2="759.8" y2="743.2" stroke="#fff" stroke-width="0.5" opacity="0.2"/>
<line x1="797.6" y1="610.8" x2="797.6" y2="644" stroke="#fff" stroke-width="0.5" opacity="0.2"/>
<line x1="797.6" y1="660.4" x2="797.6" y2="693.7" stroke="#fff" stroke-width="0.5" opacity="0.2"/>
<line x1="797.6" y1="710" x2="797.6" y2="743.2" stroke="#fff" stroke-width="0.5" opacity="0.2"/>
<line x1="835.5" y1="610.8" x2="835.5" y2="644" stroke="#fff" stroke-width="0.5" opacity="0.2"/>
<line x1="835.5" y1="660.4" x2="835.5" y2="693.7" stroke="#fff" stroke-width="0.5" opacity="0.2"/>
<line x1="835.5" y1="710" x2="835.5" y2="743.2" stroke="#fff" stroke-width="0.5" opacity="0.2"/>
<line x1="873.3" y1="610.8" x2="873.3" y2="644" stroke="#fff" stroke-width="0.5" opacity="0.2"/>
<line x1="873.3" y1="660.4" x2="873.3" y2="693.7" stroke="#fff" stroke-width="0.5" opacity="0.2"/>
<line x1="873.3" y1="710" x2="873.3" y2="743.2" stroke="#fff" stroke-width="0.5" opacity="0.2"/>
<line x1="911.1" y1="610.8" x2="911.1" y2="644" stroke="#fff" stroke-width="0.5" opacity="0.2"/>
<line x1="911.1" y1="660.4" x2="911.1" y2="693.7" stroke="#fff" stroke-width="0.5" opacity="0.2"/>
<line x1="911.1" y1="710" x2="911.1" y2="743.2" stroke="#fff" stroke-width="0.5" opacity="0.2"/>
<line x1="949" y1="610.8" x2="949" y2="644" stroke="#fff" stroke-width="0.5" opacity="0.2"/>
<line x1="949" y1="660.4" x2="949" y2="693.7" stroke="#fff" stroke-width="0.5" opacity="0.2"/>
<line x1="949" y1="710" x2="949" y2="743.2" stroke="#fff" stroke-width="0.5" opacity="0.2"/>
<line x1="986.8" y1="610.8" x2="986.8" y2="644" stroke="#fff" stroke-width="0.5" opacity="0.2"/>
<line x1="986.8" y1="660.4" x2="986.8" y2="693.7" stroke="#fff" stroke-width="0.5" opacity="0.2"/>
<line x1="986.8" y1="710" x2="986.8" y2="743.2" stroke="#fff" stroke-width="0.5" opacity="0.2"/>
<line x1="1024.6" y1="610.8" x2="1024.6" y2="644" stroke="#fff" stroke-width="0.5" opacity="0.2"/>
<line x1="1024.6" y1="660.4" x2="1024.6" y2="693.7" stroke="#fff" stroke-width="0.5" opacity="0.2"/>
<line x1="1024.6" y1="710" x2="1024.6" y2="743.2" stroke="#fff" stroke-width="0.5" opacity="0.2"/>
<line x1="1062.5" y1="610.8" x2="1062.5" y2="644" stroke="#fff" stroke-width="0.5" opacity="0.2"/>
<line x1="1062.5" y1="660.4" x2="1062.5" y2="693.7" stroke="#fff" stroke-width="0.5" opacity="0.2"/>
<line x1="1062.5" y1="710" x2="1062.5" y2="743.2" stroke="#fff" stroke-width="0.5" opacity="0.2"/>
<line x1="1100.3" y1="610.8" x2="1100.3" y2="644" stroke="#fff" stroke-width="0.5" opacity="0.2"/>
<line x1="1100.3" y1="660.4" x2="1100.3" y2="693.7" stroke="#fff" stroke-width="0.5" opacity="0.2"/>
<line x1="1100.3" y1="710" x2="1100.3" y2="743.2" stroke="#fff" stroke-width="0.5" opacity="0.2"/>
<line x1="1138.1" y1="610.8" x2="1138.1" y2="644" stroke="#fff" stroke-width="0.5" opacity="0.2"/>
<line x1="1138.1" y1="660.4" x2="1138.1" y2="693.7" stroke="#fff" stroke-width="0.5" opacity="0.2"/>
<line x1="1138.1" y1="710" x2="1138.1" y2="743.2" stroke="#fff" stroke-width="0.5" opacity="0.2"/>
<line x1="1176" y1="610.8" x2="1176" y2="644" stroke="#fff" stroke-width="0.5" opacity="0.2"/>
<line x1="1176" y1="660.4" x2="1176" y2="693.7" stroke="#fff" stroke-width="0.5" opacity="0.2"/>
<line x1="1176" y1="710" x2="1176" y2="743.2" stroke="#fff" stroke-width="0.5" opacity="0.2"/>
<line x1="1213.8" y1="610.8" x2="1213.8" y2="644" stroke="#fff" stroke-width="0.5" opacity="0.2"/>
<line x1="1213.8" y1="660.4" x2="1213.8" y2="693.7" stroke="#fff" stroke-width="0.5" opacity="0.2"/>
<line x1="1213.8" y1="710" x2="1213.8" y2="743.2" stroke="#fff" stroke-width="0.5" opacity="0.2"/>
<line x1="1251.6" y1="610.8" x2="1251.6" y2="644" stroke="#fff" stroke-width="0.5" opacity="0.2"/>
<line x1="1251.6" y1="660.4" x2="1251.6" y2="693.7" stroke="#fff" stroke-width="0.5" opacity="0.2"/>
<line x1="1251.6" y1="710" x2="1251.6" y2="743.2" stroke="#fff" stroke-width="0.5" opacity="0.2"/>
<line x1="1289.5" y1="610.8" x2="1289.5" y2="644" stroke="#fff" stroke-width="0.5" opacity="0.2"/>
<line x1="1289.5" y1="660.4" x2="1289.5" y2="693.7" stroke="#fff" stroke-width="0.5" opacity="0.2"/>
<line x1="1289.5" y1="710" x2="1289.5" y2="743.2" stroke="#fff" stroke-width="0.5" opacity="0.2"/>
<line x1="1327.3" y1="610.8" x2="1327.3" y2="644" stroke="#fff" stroke-width="0.5" opacity="0.2"/>
<line x1="1327.3" y1="660.4" x2="1327.3" y2="693.7" stroke="#fff" stroke-width="0.5" opacity="0.2"/>
<line x1="1327.3" y1="710" x2="1327.3" y2="743.2" stroke="#fff" stroke-width="0.5" opacity="0.2"/>
<line x1="1365.1" y1="610.8" x2="1365.1" y2="644" stroke="#fff" stroke-width="0.5" opacity="0.2"/>
<line x1="1365.1" y1="660.4" x2="1365.1" y2="693.7" stroke="#fff" stroke-width="0.5" opacity="0.2"/>
<line x1="1365.1" y1="710" x2="1365.1" y2="743.2" stroke="#fff" stroke-width="0.5" opacity="0.2"/>
<line x1="1403" y1="610.8" x2="1403" y2="644" stroke="#fff" stroke-width="0.5" opacity="0.2"/>
<line x1="1403" y1="660.4" x2="1403" y2="693.7" stroke="#fff" stroke-width="0.5" opacity="0.2"/>
<line x1="1403" y1="710" x2="1403" y2="743.2" stroke="#fff" stroke-width="0.5" opacity="0.2"/>
<line x1="1440.8" y1="610.8" x2="1440.8" y2="644" stroke="#fff" stroke-width="0.5" opacity="0.2"/>
<line x1="1440.8" y1="660.4" x2="1440.8" y2="693.7" stroke="#fff" stroke-width="0.5" opacity="0.2"/>
<line x1="1440.8" y1="710" x2="1440.8" y2="743.2" stroke="#fff" stroke-width="0.5" opacity="0.2"/>
<line x1="1478.7" y1="610.8" x2="1478.7" y2="644" stroke="#fff" stroke-width="0.5" opacity="0.2"/>
<line x1="1478.7" y1="660.4" x2="1478.7" y2="693.7" stroke="#fff" stroke-width="0.5" opacity="0.2"/>
<line x1="1478.7" y1="710" x2="1478.7" y2="743.2" stroke="#fff" stroke-width="0.5" opacity="0.2"/>
<line x1="1516.5" y1="610.8" x2="1516.5" y2="644" stroke="#fff" stroke-width="0.5" opacity="0.2"/>
<line x1="1516.5" y1="660.4" x2="1516.5" y2="693.7" stroke="#fff" stroke-width="0.5" opacity="0.2"/>
<line x1="1516.5" y1="710" x2="1516.5" y2="743.2" stroke="#fff" stroke-width="0.5" opacity="0.2"/>
<line x1="1554.3" y1="610.8" x2="1554.3" y2="644" stroke="#fff" stroke-width="0.5" opacity="0.2"/>
<line x1="1554.3" y1="660.4" x2="1554.3" y2="693.7" stroke="#fff" stroke-width="0.5" opacity="0.2"/>
<line x1="1554.3" y1="710" x2="1554.3" y2="743.2" stroke="#fff" stroke-width="0.5" opacity="0.2"/>
<line x1="1592.2" y1="610.8" x2="1592.2" y2="644" stroke="#fff" stroke-width="0.5" opacity="0.2"/>
<line x1="1592.2" y1="660.4" x2="1592.2" y2="693.7" stroke="#fff" stroke-width="0.5" opacity="0.2"/>
<line x1="1592.2" y1="710" x2="1592.2" y2="743.2" stroke="#fff" stroke-width="0.5" opacity="0.2"/>
<line x1="1630" y1="610.8" x2="1630" y2="644" stroke="#fff" stroke-width="0.5" opacity="0.2"/>
<line x1="1630" y1="660.4" x2="1630" y2="693.7" stroke="#fff" stroke-width="0.5" opacity="0.2"/>
<line x1="1630" y1="710" x2="1630" y2="743.2" stroke="#fff" stroke-width="0.5" opacity="0.2"/>
<line x1="1667.8" y1="610.8" x2="1667.8" y2="644" stroke="#fff" stroke-width="0.5" opacity="0.2"/>
<line x1="1667.8" y1="660.4" x2="1667.8" y2="693.7" stroke="#fff" stroke-width="0.5" opacity="0.2"/>
<line x1="1667.8" y1="710" x2="1667.8" y2="743.2" stroke="#fff" stroke-width="0.5" opacity="0.2"/>
<line x1="1705.7" y1="610.8" x2="1705.7" y2="644" stroke="#fff" stroke-width="0.5" opacity="0.2"/>
<line x1="1705.7" y1="660.4" x2="1705.7" y2="693.7" stroke="#fff" stroke-width="0.5" opacity="0.2"/>
<line x1="1705.7" y1="710" x2="1705.7" y2="743.2" stroke="#fff" stroke-width="0.5" opacity="0.2"/>
<line x1="1743.5" y1="610.8" x2="1743.5" y2="644" stroke="#fff" stroke-width="0.5" opacity="0.2"/>
<line x1="1743.5" y1="660.4" x2="1743.5" y2="693.7" stroke="#fff" stroke-width="0.5" opacity="0.2"/>
<line x1="1743.5" y1="710" x2="1743.5" y2="743.2" stroke="#fff" stroke-width="0.5" opacity="0.2"/>
<line x1="230.6" y1="757" x2="230.6" y2="1000.5" stroke="#1a1a1a" stroke-width="2"/>
<line x1="229.8" y1="1000.5" x2="1782" y2="1000.5" stroke="#1a1a1a" stroke-width="2"/>
<line x1="220" y1="1000.5" x2="230.1" y2="1000.5" stroke="#1a1a1a" stroke-width="2"/>
<text x="207" y="1009" font-size="25" text-anchor="end">0</text>
<line x1="220" y1="939.8" x2="230.1" y2="939.8" stroke="#1a1a1a" stroke-width="2"/>
<text x="207" y="948.3" font-size="25" text-anchor="end">2</text>
<line x1="220" y1="879.2" x2="230.1" y2="879.2" stroke="#1a1a1a" stroke-width="2"/>
<text x="207" y="887.7" font-size="25" text-anchor="end">4</text>
<line x1="220" y1="818.5" x2="230.1" y2="818.5" stroke="#1a1a1a" stroke-width="2"/>
<text x="207" y="827" font-size="25" text-anchor="end">6</text>
<line x1="220" y1="757.9" x2="230.1" y2="757.9" stroke="#1a1a1a" stroke-width="2"/>
<text x="207" y="766.4" font-size="25" text-anchor="end">8</text>
<text x="118" y="886" font-size="25" text-anchor="middle">Ploidy</text>
<line x1="249.8" y1="1000.5" x2="249.8" y2="1010.5" stroke="#1a1a1a" stroke-width="1.5"/>
<line x1="287.6" y1="1000.5" x2="287.6" y2="1010.5" stroke="#1a1a1a" stroke-width="1.5"/>
<line x1="325.4" y1="1000.5" x2="325.4" y2="1010.5" stroke="#1a1a1a" stroke-width="1.5"/>
<line x1="363.2" y1="1000.5" x2="363.2" y2="1010.5" stroke="#1a1a1a" stroke-width="1.5"/>
<line x1="401.1" y1="1000.5" x2="401.1" y2="1010.5" stroke="#1a1a1a" stroke-width="1.5"/>
<line x1="438.9" y1="1000.5" x2="438.9" y2="1010.5" stroke="#1a1a1a" stroke-width="1.5"/>
<line x1="476.7" y1="1000.5" x2="476.7" y2="1010.5" stroke="#1a1a1a" stroke-width="1.5"/>
<line x1="514.5" y1="1000.5" x2="514.5" y2="1010.5" stroke="#1a1a1a" stroke-width="1.5"/>
<line x1="552.3" y1="1000.5" x2="552.3" y2="1010.5" stroke="#1a1a1a" stroke-width="1.5"/>
<line x1="590.1" y1="1000.5" x2="590.1" y2="1010.5" stroke="#1a1a1a" stroke-width="1.5"/>
<line x1="628" y1="1000.5" x2="628" y2="1010.5" stroke="#1a1a1a" stroke-width="1.5"/>
<line x1="665.8" y1="1000.5" x2="665.8" y2="1010.5" stroke="#1a1a1a" stroke-width="1.5"/>
<line x1="703.6" y1="1000.5" x2="703.6" y2="1010.5" stroke="#1a1a1a" stroke-width="1.5"/>
<line x1="741.4" y1="1000.5" x2="741.4" y2="1010.5" stroke="#1a1a1a" stroke-width="1.5"/>
<line x1="779.2" y1="1000.5" x2="779.2" y2="1010.5" stroke="#1a1a1a" stroke-width="1.5"/>
<line x1="817" y1="1000.5" x2="817" y2="1010.5" stroke="#1a1a1a" stroke-width="1.5"/>
<line x1="854.9" y1="1000.5" x2="854.9" y2="1010.5" stroke="#1a1a1a" stroke-width="1.5"/>
<line x1="892.7" y1="1000.5" x2="892.7" y2="1010.5" stroke="#1a1a1a" stroke-width="1.5"/>
<line x1="930.5" y1="1000.5" x2="930.5" y2="1010.5" stroke="#1a1a1a" stroke-width="1.5"/>
<line x1="968.3" y1="1000.5" x2="968.3" y2="1010.5" stroke="#1a1a1a" stroke-width="1.5"/>
<line x1="1006.1" y1="1000.5" x2="1006.1" y2="1010.5" stroke="#1a1a1a" stroke-width="1.5"/>
<line x1="1043.9" y1="1000.5" x2="1043.9" y2="1010.5" stroke="#1a1a1a" stroke-width="1.5"/>
<line x1="1081.8" y1="1000.5" x2="1081.8" y2="1010.5" stroke="#1a1a1a" stroke-width="1.5"/>
<line x1="1119.6" y1="1000.5" x2="1119.6" y2="1010.5" stroke="#1a1a1a" stroke-width="1.5"/>
<line x1="1157.4" y1="1000.5" x2="1157.4" y2="1010.5" stroke="#1a1a1a" stroke-width="1.5"/>
<line x1="1195.2" y1="1000.5" x2="1195.2" y2="1010.5" stroke="#1a1a1a" stroke-width="1.5"/>
<line x1="1233" y1="1000.5" x2="1233" y2="1010.5" stroke="#1a1a1a" stroke-width="1.5"/>
<line x1="1270.8" y1="1000.5" x2="1270.8" y2="1010.5" stroke="#1a1a1a" stroke-width="1.5"/>
<line x1="1308.6" y1="1000.5" x2="1308.6" y2="1010.5" stroke="#1a1a1a" stroke-width="1.5"/>
<line x1="1346.5" y1="1000.5" x2="1346.5" y2="1010.5" stroke="#1a1a1a" stroke-width="1.5"/>
<line x1="1384.3" y1="1000.5" x2="1384.3" y2="1010.5" stroke="#1a1a1a" stroke-width="1.5"/>
<line x1="1422.1" y1="1000.5" x2="1422.1" y2="1010.5" stroke="#1a1a1a" stroke-width="1.5"/>
<line x1="1459.9" y1="1000.5" x2="1459.9" y2="1010.5" stroke="#1a1a1a" stroke-width="1.5"/>
<line x1="1497.7" y1="1000.5" x2="1497.7" y2="1010.5" stroke="#1a1a1a" stroke-width="1.5"/>
<line x1="1535.5" y1="1000.5" x2="1535.5" y2="1010.5" stroke="#1a1a1a" stroke-width="1.5"/>
<line x1="1573.4" y1="1000.5" x2="1573.4" y2="1010.5" stroke="#1a1a1a" stroke-width="1.5"/>
<line x1="1611.2" y1="1000.5" x2="1611.2" y2="1010.5" stroke="#1a1a1a" stroke-width="1.5"/>
<line x1="1649" y1="1000.5" x2="1649" y2="1010.5" stroke="#1a1a1a" stroke-width="1.5"/>
<line x1="1686.8" y1="1000.5" x2="1686.8" y2="1010.5" stroke="#1a1a1a" stroke-width="1.5"/>
<line x1="1724.6" y1="1000.5" x2="1724.6" y2="1010.5" stroke="#1a1a1a" stroke-width="1.5"/>
<line x1="1762.4" y1="1000.5" x2="1762.4" y2="1010.5" stroke="#1a1a1a" stroke-width="1.5"/>
<path d="M253.3 945.8h0M240 943.4h0M239.6 947.8h0M250 945.6h0M239.9 941.9h0M240.4 944.2h0M241.1 950h0M243.4 942.4h0M251.6 950.1h0M247.4 950.3h0M258 944.1h0M245 945.1h0M245.4 944.1h0M257.1 943.8h0M253 943.3h0M246.9 941.4h0M239.7 946h0M243 945.3h0M245.5 946.4h0M251.8 947.9h0M256.6 947.4h0M254.4 944.3h0M250.4 944.8h0M258.4 941h0M260.8 945.3h0M241 947.5h0M241.8 949.4h0M249.5 942.5h0M255.9 940.6h0M251.5 943.9h0M254.3 943.1h0M252 946.9h0M257.6 947.9h0M260 946.6h0M239.7 949.4h0M254.4 944.3h0M257.2 950.8h0M244.8 951.1h0M238.8 948.4h0M248.9 942h0M239.7 944.3h0M256 943.7h0M247.3 943.4h0M258.3 943.3h0M250.9 942.1h0M258.6 943.4h0M244.7 942.4h0M247.9 950.5h0M260.3 949h0M241.8 940.1h0M243.7 944h0M249.5 943h0M238.4 947h0M247.9 946.3h0M260.2 947.7h0M254.2 942.1h0M253.9 949.2h0M239.5 945.4h0M258.4 940.7h0M256.7 948.1h0M240.7 947.4h0M252.9 943.1h0M243.1 943.9h0M242 944.6h0M286.8 939.4h0M287.2 951.1h0M284 943.8h0M282.2 944.3h0M276.6 944.1h0M298 946.6h0M288.6 946.7h0M276.7 945.3h0M296 951.1h0M292.1 946.5h0M280 945.2h0M293.9 942.1h0M283.7 950.2h0M281.2 946.1h0M295.7 941.7h0M294.7 951.1h0M281.3 942.9h0M288 949.5h0M276.8 945.4h0M282.5 944.4h0M298.1 945.3h0M286.4 940.3h0M298.1 938.9h0M284.5 948.5h0M280.6 944.6h0M280.8 942.9h0M295.4 949.6h0M287.1 949.6h0M278.1 948.1h0M291.3 949.5h0M293.4 940.5h0M287.1 947.8h0M283.8 942.7h0M294.5 940.2h0M285.3 942h0M297.9 945.5h0M279 945.3h0M279.6 946.8h0M279.5 940.5h0M295.1 948.1h0M284.2 940.6h0M288.7 945.5h0M298.4 944.6h0M291.1 944.6h0M286.1 951.1h0M296.2 946.2h0M281.9 944h0M282.9 946.8h0M282.1 944.8h0M285.8 941h0M284.3 940.5h0M286.7 940.1h0M285.8 950.7h0M297.2 948.3h0M288.2 948.7h0M276.5 945h0M276.2 946.8h0M294.5 944.3h0M292.8 943.4h0M288.9 942h0M288.9 946.7h0M294.2 941.7h0M281.8 941.9h0M282.5 942.6h0M317.6 948.4h0M323.9 954.5h0M318.4 956.8h0M321.3 954.4h0M326.7 954.2h0M324.1 954.7h0M328.3 951.4h0M325.7 953.8h0M332.1 948h0M336.3 950.6h0M314.8 952.2h0M331.8 952.6h0M323.6 954.3h0M334.9 952.5h0M317.4 953.1h0M335.1 956.2h0M316 958.3h0M315.3 956.1h0M315.6 955.3h0M335.5 957h0M315.9 957.7h0M333.6 958.2h0M324.4 948.6h0M321.7 951.6h0M320.1 960.2h0M316.9 956.4h0M316.4 956.3h0M317.6 954.5h0M321.1 952.2h0M320.9 953.5h0M325.4 953.9h0M318 956.6h0M319.7 954.4h0M314.3 953.6h0M318.3 954.5h0M324.9 957.9h0M332.8 952.8h0M323.9 954.7h0M323 959.8h0M325.6 953.9h0M321.8 957.4h0M333.1 960.2h0M323.2 955.3h0M321.9 958.2h0M315.6 952.6h0M331 953.6h0M315.9 954.2h0M333.3 952.3h0M320.4 951h0M319.5 957.4h0M317.6 955h0M324.2 950.9h0M336.3 954.7h0M326.5 948h0M321.1 953.8h0M322.1 948h0M360.7 949.4h0M359.2 954.1h0M368.4 946.3h0M366.5 948.2h0M372.3 942.5h0M366.2 946.5h0M355 948.6h0M363.8 953.5h0M370.3 953.8h0M370.8 948.2h0M367.5 953.6h0M367.7 951.3h0M354.8 947.9h0M360 947.3h0M364.6 943.5h0M366.2 944.5h0M363 951.2h0M351.8 951.3h0M363.3 946.5h0M364.1 952.8h0M368.7 948.6h0M357.5 949h0M368.5 945.9h0M356.5 947h0M363.1 948.6h0M360.5 954.1h0M369.4 952.6h0M365.9 947.4h0M355.1 948.8h0M357.6 949h0M364.8 948.1h0M352 950.6h0M400.3 949.9h0M392.3 946.9h0M412.1 944.9h0M411.1 947.8h0M408.4 943.2h0M411.8 946.1h0M394.4 948.8h0M411.3 945.8h0M392.8 945.5h0M401.6 942.6h0M408.4 945h0M401.3 947h0M394.9 942.9h0M410.2 949.6h0M389.6 947.2h0M400.9 946.5h0M392.8 949h0M397.5 945.7h0M389.6 948.9h0M406.8 941.2h0M410.9 945.7h0M406 947.8h0M398.1 944.5h0M398.6 948h0M397.9 942.5h0M399.4 946.5h0M391.9 946.7h0M408.8 945.6h0M395.3 948.1h0M395.7 940.4h0M398.2 948.5h0M411.6 946.6h0M404.1 942.4h0M410.6 950.2h0M406.1 942.9h0M390.7 947.9h0M406.9 946.9h0M404.4 949.8h0M410.9 946.7h0M392.5 945.6h0M396.4 949.3h0M406.6 946h0M404.7 944.2h0M396.5 946.9h0M393.4 949.4h0M393.3 947.6h0M401 944.8h0M394.6 940.4h0M449.6 944.3h0M430.3 945.6h0M447.2 950.8h0M432.3 946.6h0M436.6 946.8h0M437.6 944.2h0M447.5 940.9h0M427.9 948.2h0M448 941.8h0M438.3 945.6h0M436.4 946.6h0M448.7 946.5h0M449.7 943.8h0M433.1 951.8h0M439.4 945.2h0M443.1 945.4h0M442.3 942h0M445 948.3h0M428.3 950.2h0M445.4 945.5h0M442.2 945.8h0M434.4 940.4h0M442 944.9h0M443.4 944.8h0M439.4 945.6h0M440.8 945.8h0M441.2 948.2h0M427.6 945.1h0M449.4 947.6h0M442.2 943.3h0M432.8 943.9h0M433.1 948.8h0M434.5 941.9h0M427.9 947.7h0M437 951.1h0M433.3 946.5h0M432.6 949.9h0M428.2 952.5h0M443.1 948.2h0M431.9 943.8h0M439 945.1h0M432.1 951.3h0M446.2 943.9h0M432.7 947h0M434.2 945.6h0M449.3 941.5h0M432.5 948.5h0M437 946.5h0M430.7 950.3h0M436.4 952.6h0M430.6 944.6h0M428.6 940.4h0M448 943.7h0M447.7 945.4h0M448.8 947.7h0M435 952.6h0M444.5 943.7h0M428.1 940.4h0M436 948h0M435 949.1h0M433.8 946.4h0M435.5 946.3h0M449.6 945h0M432.2 946.9h0M485.9 940.2h0M487.2 941.7h0M479.4 938.4h0M472.5 940.8h0M471.5 935.6h0M486.3 935.4h0M479.8 940.3h0M470.6 939.8h0M476.1 940.7h0M474.1 934.4h0M471 942.5h0M486.5 943.6h0M469.4 938.9h0M484.1 938.8h0M483 945.1h0M472.5 942.6h0M473.5 942.1h0M469.7 940.2h0M482.5 941.7h0M466 940.4h0M477.9 939.3h0M485.5 944.3h0M487.9 934.4h0M467.4 940.6h0M476.7 939.2h0M470.6 941.3h0M474.8 943.6h0M482.4 943.8h0M484.7 943.6h0M484.5 941.2h0M472 941.8h0M482.2 943.1h0M469.8 941.6h0M468.7 940.4h0M485.5 938.2h0M474.3 942.8h0M488 941.7h0M483.8 942.6h0M480.2 940.5h0M476.1 939h0M484 940.5h0M466.1 936.8h0M472 946.1h0M487.6 939h0M478.6 939.1h0M485.1 937.8h0M475.5 941.7h0M486.9 940.8h0M467.6 935.2h0M470.2 943.9h0M473.7 942.8h0M471.1 939.2h0M479 938.9h0M465.5 941.6h0M472.7 942.1h0M472.4 941.3h0M469.9 942.2h0M466.7 939.4h0M467.5 944.1h0M479.9 943.5h0M467.3 938.1h0M474.6 938h0M471.7 936.4h0M472.4 943.1h0M478.2 934.4h0M485.1 942.4h0M488.1 938h0M481.9 941.8h0M469.9 938.9h0M474.9 934.4h0M484.1 940.2h0M475.8 945.7h0M468.9 937h0M479.9 936.6h0M486.1 940.1h0M473.7 936.9h0M476.8 938.2h0M477.2 938.9h0M486.5 938.5h0M483.7 937.7h0M487.4 938.2h0M486.9 939.9h0M487.6 939h0M486.5 941.4h0M474.1 940.3h0M484.2 937h0M468.9 942.8h0M474.5 940h0M484.7 942.5h0M470.2 939.5h0M474.4 942.1h0M468 943.4h0M470.9 940.8h0M466.1 941.5h0M478.1 946.5h0M484.5 940.4h0M467.9 941.3h0M479.6 943.6h0M472.2 942.7h0M475 944h0M480.3 938.5h0M465.7 943.5h0M479.4 939.4h0M482.8 942.7h0M483.1 940.3h0M476.1 942.3h0M467.7 940h0M467.3 938.2h0M475.4 938.1h0M479.8 941.3h0M467.1 940.5h0M477 941h0M508.5 943h0M523.9 946.8h0M518.3 948.2h0M525.5 948.4h0M519.1 950.7h0M522.7 943.9h0M516.1 949.5h0M510.1 943.1h0M504.8 944h0M524 940.9h0M505.5 944.6h0M524.4 944.4h0M503.7 945.9h0M504 943.6h0M519 946.5h0M520 949h0M511.4 941.3h0M521.8 943.4h0M504.5 942.3h0M523 950.8h0M505.5 938.9h0M507.7 948.7h0M522.5 944.4h0M521.7 944.5h0M517.5 948.8h0M509.6 949.2h0M520.4 943.9h0M507.7 944.2h0M503.5 946.3h0M508.9 942.1h0M511.5 946h0M510.4 940.3h0M522.6 941.5h0M517.2 945.8h0M513.1 941.9h0M520.8 944.4h0M515.4 947.7h0M508 941.1h0M521.9 944.1h0M506.9 946h0M520.5 943h0M525.5 945h0M514.3 941.5h0M521.3 944.9h0M511 943.6h0M522.1 941.7h0M509.5 945.5h0M508 938.9h0M505.5 946.1h0M517.7 948.4h0M519 940.3h0M521.1 942.4h0M512.2 947h0M512.1 947h0M523.4 944h0M503.6 945.8h0M543.2 937.4h0M549.7 938.8h0M557.7 938.1h0M550.8 944h0M543.3 942h0M545.6 939.4h0M550 944.1h0M559 943h0M555.4 944.7h0M551.5 946.8h0M550.1 940.9h0M557.9 940.3h0M554 940.8h0M558.1 945.2h0M557.4 945.4h0M561.1 942.4h0M560.4 942.8h0M556.5 948.1h0M548 945.6h0M555.3 946.1h0M558.8 940.9h0M557.2 941.7h0M550.6 945.1h0M551.3 945.2h0M556.4 945.7h0M562.2 945.6h0M558.7 941.7h0M549.8 939.4h0M541.7 949.5h0M553.3 943h0M562.5 940.7h0M552.8 939h0M553.3 940.3h0M557.3 941.1h0M559.9 947.8h0M552.8 943.8h0M545.7 949.5h0M556.6 939.5h0M543.6 947.5h0M563.5 940.3h0M547.1 944.1h0M550 942.7h0M550.5 940.3h0M556.9 943.2h0M546 944.9h0M557.9 941.6h0M545.9 940h0M559.3 944.8h0M543.8 945.1h0M558.7 942.2h0M551.6 941.9h0M553.8 947.5h0M549 942.3h0M555.5 937.4h0M551.6 941.1h0M547.6 948.5h0M594 949.1h0M599.2 948.3h0M583.2 943.6h0M594.6 950.6h0M588.7 949.9h0M598.9 946h0M584 947.2h0M581.8 945.8h0M589.4 946h0M582 945h0M591.1 948.6h0M598.5 944.8h0M589.4 939.2h0M591.6 944.8h0M587.3 947.9h0M588.3 950h0M593.3 943.8h0M593.3 945.3h0M594.3 940.9h0M600.1 944.3h0M590.4 949.2h0M589.8 938.9h0M595.2 944.4h0M593 945.5h0M587.1 948.2h0M589.6 939.9h0M583.5 950.1h0M588.7 945.8h0M597.7 948.4h0M585.4 943.2h0M590.2 943.5h0M584.9 947.7h0M593.7 951.1h0M596.9 945.3h0M585.5 946.3h0M592.1 942.7h0M579.6 948.5h0M595.3 949h0M579.8 942.1h0M585.6 947.5h0M599.8 943h0M592.6 944.9h0M599.6 947.9h0M592.7 949.5h0M594.7 948.2h0M592.4 947.8h0M594 945.9h0M589.2 946.9h0M582.8 944.9h0M579.5 946.4h0M593.7 944h0M587.1 951.1h0M591.6 942.6h0M584.6 949.8h0M586 946h0M588.5 942h0M579.9 949.4h0M591.7 950.5h0M597.3 943.5h0M591.9 944.6h0M579 942.1h0M587.5 946.6h0M601.2 951h0M589.6 948.9h0M593.5 946.2h0M583.5 944.3h0M578.8 944.7h0M594.4 944.6h0M580.7 939.3h0M598.6 939.5h0M595.2 944.6h0M584.2 944.6h0M579.8 945.2h0M596.4 946.9h0M595.4 946.4h0M580.6 950.8h0M589.2 948.3h0M600.1 948.4h0M595.1 945.2h0M578.9 938.9h0M597.4 940.6h0M580.5 944.6h0M582.5 946.8h0M598.4 940.4h0M587.1 946.1h0M591.9 944.9h0M582 949.2h0M597 943.3h0M593.1 947.8h0M588.3 941.7h0M600.4 949h0M596.7 941.5h0M580 947.3h0M601 946h0M586.3 946.6h0M592.6 950.4h0M592.5 939.3h0M585.7 945.8h0M587.3 950.7h0M594.4 942.2h0M597.2 950.2h0M585.2 948.8h0M588.4 942.6h0M592.1 945h0M579.6 942.4h0M597.8 950.8h0M591.8 942.7h0M584.9 950.6h0M594.4 941.7h0M599.7 949.4h0M591.4 945.7h0M597 943.9h0M629.2 949.6h0M622.6 941.2h0M625.9 940.2h0M635.8 943.6h0M624.2 943h0M623.8 943.3h0M637.2 941.9h0M617.8 938.9h0M637 939.5h0M627.4 946h0M623 946.8h0M624.8 945.1h0M639.3 943h0M618.7 938.9h0M623.1 945.1h0M633.2 944.2h0M623.2 945.6h0M635 944.5h0M624.3 945.1h0M635.6 944.9h0M628.6 944.9h0M637.4 943.7h0M621.5 942h0M620.6 946.5h0M634.2 945.7h0M618.3 945.5h0M618.5 946.9h0M622.8 947.8h0M621.2 947.2h0M635.1 948.6h0M629.9 948.1h0M633.3 944.7h0M625.8 943.9h0M635.1 945.2h0M624.2 946h0M627.8 941.7h0M616.8 950.1h0M636.5 942.1h0M622.6 946.8h0M624.9 942.8h0M620.2 939.7h0M616.6 947.8h0M628.4 942h0M619.2 948.4h0M632.9 943.8h0M623.8 942.5h0M632.8 950.5h0M617.9 948.7h0M636.5 941.6h0M628.3 941.6h0M628.7 946h0M638.7 945.6h0M621.6 945.1h0M622.2 944.4h0M635.3 943.7h0M632.5 943.7h0M620.9 944.7h0M629.7 940.9h0M628.5 944.5h0M636.5 945.4h0M633 946.3h0M627.8 943.5h0M628 944.6h0M625.8 945.3h0M666.7 947.6h0M675.5 948.7h0M666.2 948.2h0M664.3 948.1h0M661.3 944.1h0M669.2 947.3h0M676.3 943.5h0M666.1 943.7h0M666.6 946.9h0M657.7 943.1h0M661 945.4h0M663.6 945.4h0M656.3 947.1h0M666.8 944.3h0M667.4 944.3h0M669.2 950h0M664.9 945.1h0M666.9 942h0M661.4 949.1h0M659.8 948.7h0M663.1 945.9h0M667.7 942.9h0M674.1 943.7h0M659.8 946.3h0M660.8 949.8h0M677 947.7h0M657.9 948h0M655.8 941.5h0M655.7 944.3h0M663.2 948.9h0M656.8 951.1h0M659.5 944.7h0M657.8 941.7h0M662 947.8h0M668.5 949.2h0M673.8 942.9h0M671.3 944.9h0M671.4 949.8h0M672.3 946.3h0M670.6 950h0M674.3 945.2h0M654.4 947.3h0M665.7 946.1h0M676.4 950.5h0M672.3 949.4h0M674.3 947.9h0M664.7 948.8h0M664.8 948.4h0M663.3 946.9h0M667 949h0M672.4 948.5h0M673.8 944.7h0M658.5 949.8h0M661.3 946.5h0M667.7 944.1h0M656.3 943.4h0M673.7 944.2h0M673.6 947.8h0M664.1 944.5h0M675.2 947h0M667.3 945.6h0M665.7 946.4h0M666.7 941.9h0M677.2 949h0M670 950.2h0M663.2 946.9h0M662.4 949.1h0M676.1 943.3h0M656.6 948.2h0M662.9 949.8h0M667.5 949.7h0M674.5 944.2h0M697.2 939.6h0M703.2 945.7h0M710.3 937.7h0M700.3 943.4h0M696.4 941.6h0M705 941h0M694.7 943.9h0M701.4 946.4h0M693.6 944.1h0M700.2 939.4h0M697.7 939.5h0M697.5 942.6h0M692.9 941.2h0M695.7 944.9h0M708.3 945.9h0M711.3 941.5h0M695 942.2h0M710.6 948.9h0M695.8 941.5h0M700.8 946.4h0M714.1 939.6h0M703.7 941.5h0M697.3 937.4h0M708.3 945h0M698.1 943h0M700.6 940.2h0M697.8 945.9h0M712.2 945.1h0M694.9 944.8h0M698.3 947.3h0M709.8 943.8h0M705.1 946.8h0M699.2 940.5h0M696.2 944.5h0M711.7 942.7h0M694.6 945.4h0M705 939.4h0M698.9 945.8h0M693.6 940.7h0M695 944.3h0M708.6 941.5h0M713 944.1h0M709.9 940.5h0M695.1 939h0M698.5 947.5h0M707.4 939h0M700.2 942.6h0M708.2 947.3h0M697.8 941.2h0M706.6 941.9h0M696.3 945.8h0M709 938.5h0M708.5 939h0M695.8 942.6h0M696.6 943.3h0M693 944.5h0M732 946.4h0M751.3 943.5h0M745.8 947.6h0M744.4 946.9h0M740.3 952.2h0M739.8 942.1h0M741.7 944.9h0M747.4 945.1h0M730.9 947.2h0M735.9 948.1h0M742.5 951.8h0M742.4 942.3h0M735.7 947.3h0M739.4 943.9h0M734.5 945.5h0M746.2 947.1h0M745.3 945h0M741.8 946.3h0M740.1 944.3h0M736.8 943.9h0M750.3 947.6h0M737.6 944.1h0M748.7 943.5h0M733.8 951.4h0M745.2 948h0M747.5 949.3h0M749 948.5h0M738.2 944.6h0M734.7 944.9h0M734.4 944.2h0M746 945.6h0M737.4 947.9h0M740.7 946h0M731.6 947.7h0M730.2 945.1h0M731.8 941.5h0M746.4 946.8h0M732.4 942.6h0M741.2 947h0M742.4 948.3h0M730.1 945.7h0M744.3 942.7h0M751.4 948.6h0M735.6 947.8h0M733.1 948.4h0M749.2 941.4h0M736.7 945.6h0M749.4 944.8h0M751.2 942.5h0M749 943.9h0M747 941.9h0M748.9 947.4h0M737.3 944.8h0M738.4 949.1h0M749 943.7h0M742.9 946.5h0M744.4 945.6h0M750.7 944.5h0M751.6 950.8h0M733.5 950.1h0M736.8 946.4h0M745.7 947.6h0M733.7 947.1h0M732 952.6h0M730.8 943.7h0M746.5 948.3h0M730 945.8h0M748 943.3h0M739.7 951.5h0M741.7 947.4h0M739.6 942.1h0M745.2 948.2h0M748.9 943.7h0M736.7 945h0M740.1 947.5h0M734.4 949.1h0M731.9 947.6h0M752.2 948h0M750.8 943.5h0M752 941.1h0M771.9 940.2h0M786.5 941.2h0M778.7 941.7h0M771.4 943.2h0M787.8 938.7h0M781.8 943h0M772.7 938h0M788.3 939.2h0M771.6 941.2h0M776 940.9h0M776.6 944.3h0M775.9 939.6h0M775.4 936.5h0M768.2 940.3h0M768.8 946.5h0M771.1 938.2h0M806.9 940.4h0M813.3 938.4h0M816.6 941.4h0M814 931.3h0M813.6 937.3h0M808.7 935.2h0M816 931.3h0M815.8 937.1h0M809.4 939.8h0M807.1 938.5h0M822.3 938.2h0M818.2 934.9h0M826.7 934.9h0M819 938.5h0M818.9 935.7h0M828.3 936.5h0M815.4 940.7h0M825.5 933.3h0M826.2 934.2h0M811.9 936h0M809.3 937.4h0M811.7 936.8h0M814.7 938h0M810.1 939.5h0M820.4 942.2h0M810.1 941.1h0M819.4 938.2h0M807.4 943.5h0M813.4 935.2h0M808.7 943.2h0M825.7 936h0M820.3 933.9h0M813.1 935.6h0M822.8 938.4h0M821.2 939.2h0M813.3 939.9h0M806.6 934.5h0M819.9 936.3h0M819.3 939.2h0M811.5 934.4h0M826.8 937.9h0M818.5 937.3h0M819.7 936.4h0M822.2 937.5h0M809.1 938.1h0M808.8 936.2h0M824.3 937.3h0M815.3 938.7h0M818.3 941.3h0M820.7 938.4h0M822.6 939.6h0M811.5 939h0M823.4 938.6h0M812.7 942.4h0M816 936.2h0M811.9 943.5h0M844.7 946.8h0M847.5 944.3h0M850.8 948.5h0M848.9 950.4h0M858 947.4h0M863.1 949.2h0M861.6 947.1h0M857.6 945h0M853.5 948.7h0M851.8 947.4h0M852.7 948.6h0M858.3 950.5h0M852.2 947h0M856.7 950.7h0M865.7 946.3h0M859.7 948.9h0M885.4 944.1h0M927 949.1h0M931.2 949.6h0M931 946.3h0M922.1 955.1h0M926.8 957.7h0M930.5 949.1h0M938.6 950.7h0M928.3 953.9h0M932.2 955.4h0M976.1 937.6h0M959.9 938.4h0M975.7 938.6h0M964.7 936.6h0M977 932.6h0M960 940.8h0M1017.1 943.2h0M997.5 942.5h0M995.1 943.2h0M997.2 944.6h0M998.3 947.6h0M1010.1 941.7h0M1016.9 939.7h0M1004.6 948.9h0M1154.4 941.3h0M1156.9 939.4h0M1161.8 933.4h0" stroke="#c9c9c8" stroke-width="5.7" stroke-linecap="round" fill="none"/>
<path d="M239.3 887.1h0M242.5 886.3h0M239.8 885.4h0M257.7 885.7h0M244.6 887.5h0M246.6 887.4h0M288.9 891h0M293.1 893.8h0M290 889.4h0M287.7 892.5h0M286.6 894.6h0M288.3 891.6h0M291.8 896.3h0M295.5 890.6h0M288.9 889.8h0M296.9 891.9h0M279.7 890.7h0M286.4 892.3h0M280.9 923.6h0M280.9 905.3h0M293.7 895.7h0M282.4 903.4h0M291.5 927.7h0M295.5 892.7h0M283.6 893.3h0M324.9 909h0M325.5 912.5h0M315 911.2h0M320.5 908.4h0M315.8 909.4h0M315.4 910.6h0M322.9 928.8h0M328 922.5h0M366.9 895.2h0M367.3 895.6h0M400 888.9h0M393.5 903h0M396.5 930.5h0M399.2 930.5h0M397.4 924.4h0M403.3 901.5h0M445.6 901.1h0M437.5 889.2h0M436.2 891h0M447.7 894.3h0M447.2 894.3h0M429 891.8h0M444.5 902.9h0M429.2 891.4h0M447.7 894.3h0M435.5 905.4h0M467.3 917.5h0M486.2 906.1h0M469.1 891.7h0M481.6 859.8h0M483.3 930.8h0M476.5 876.5h0M486.3 851.1h0M482.8 883.4h0M485.7 895.9h0M482.1 878.4h0M469.5 885.7h0M483.3 881.6h0M469.2 898.7h0M470.6 925.4h0M471.7 891.8h0M467 904.6h0M470 891.8h0M480.5 872.5h0M485 861.1h0M468.6 878.3h0M477.3 868.1h0M484.5 900.7h0M477.9 902.1h0M468.4 918.8h0M487 906.4h0M482.9 901.7h0M471.8 902.4h0M473.8 871.4h0M482.3 892.5h0M481.8 900.2h0M467.2 888h0M479.6 886.4h0M486.9 901.8h0M472.8 910.5h0M466.2 902.8h0M469.3 927.4h0M479.8 915.4h0M477.9 895.7h0M471.1 924.1h0M480.5 932.8h0M468.7 918.7h0M470.6 918.6h0M472.7 909h0M479.3 925.1h0M479.9 913.6h0M471.1 894h0M473.1 927.4h0M470.4 906.7h0M484.4 900.6h0M475.9 922.6h0M468.9 906.4h0M478.8 918.9h0M480.3 914.9h0M485.6 902.6h0M473.2 895.4h0M469.5 911.2h0M476 923.7h0M469.7 900.7h0M468.9 910.4h0M485.6 927.7h0M472.3 908h0M477.8 906.5h0M483.3 926.4h0M474.3 921h0M469.6 896h0M482.8 903.4h0M468.8 897.9h0M482.1 914h0M482 914.6h0M472.8 929.3h0M522.9 887.8h0M514.5 886.5h0M508.9 891.9h0M513.7 884.8h0M519.8 892.3h0M517.6 889.1h0M507.3 889.5h0M521.7 886.5h0M507.6 890.4h0M513.2 891.7h0M506.7 887.8h0M513.7 891.4h0M508 886.9h0M510.3 889.5h0M507.3 889.6h0M507.3 892.8h0M511 918.9h0M515.9 926.5h0M512.4 925.2h0M524.1 900.6h0M559.3 886.8h0M549.3 886.1h0M549.7 885h0M547.2 887h0M541.9 886.9h0M557 885.3h0M548.2 886.1h0M551.9 884.5h0M555.7 888.2h0M549.4 884.7h0M543 882.6h0M559.2 887.4h0M544.8 883.2h0M559.3 887.6h0M542.1 886.1h0M561.8 886.1h0M544 886.6h0M544.8 887h0M548.5 896.6h0M550.6 926.5h0M560.6 895.8h0M599.2 886h0M584.6 881.1h0M589.4 893.6h0M584 892.5h0M596.3 888.5h0M589.3 880.7h0M595.9 881.3h0M584.5 884h0M598.2 896.8h0M590.6 892.9h0M583.6 894.3h0M583.7 887.4h0M587.3 885.3h0M591.5 881.9h0M582.8 892.8h0M580.6 885.1h0M581.9 883.9h0M592.9 888.4h0M592.2 887.7h0M586.9 890.9h0M580.3 889.2h0M600.4 888.4h0M591.6 884.8h0M585.1 892.2h0M599.5 887.4h0M595.8 893h0M585 883.4h0M580.4 898.9h0M581.4 887.4h0M580.7 885.5h0M589.3 896.9h0M599.5 891.5h0M592.2 886.9h0M588 889.2h0M585 879.9h0M591.5 880.4h0M593.7 895.5h0M587.9 897.1h0M599.9 890.8h0M600.5 887.4h0M585 888.1h0M587 887h0M597.2 880.2h0M580.6 893.9h0M593.2 886.7h0M599.9 931.2h0M584.8 899.4h0M599.1 903h0M587.5 906.9h0M595.8 929h0M588 922.1h0M584.4 911.9h0M585.2 922.9h0M584.7 902.9h0M582.4 901.1h0M620.3 888.7h0M620.6 893.3h0M629.5 892.1h0M634.8 889.8h0M637.1 891.1h0M635.1 891.5h0M628.5 888.4h0M633.8 893.8h0M624.6 886.7h0M626.6 889.7h0M638.1 887.9h0M634.6 888.2h0M635.3 894.2h0M637.6 887.4h0M637.1 888.9h0M630.7 889.8h0M625.1 887.6h0M626.6 890.6h0M628.1 890h0M637.8 888.6h0M633.8 889.6h0M634.5 887h0M636 891h0M630.9 889.4h0M623 890.2h0M664.5 888.7h0M668.4 893.8h0M666.4 889.5h0M672.4 892.9h0M675.8 891.3h0M672.6 890h0M674.1 894.6h0M669.8 893h0M673.9 888.1h0M664.1 902.8h0M666 891.2h0M665.9 890.3h0M668.5 892h0M667.9 890.7h0M668.6 899.8h0M656.2 883.6h0M661.7 898.3h0M669.8 889.4h0M673 889.7h0M667.6 892.8h0M665.7 894h0M666.9 894.9h0M666.4 893.4h0M676.2 887.6h0M657.8 896.2h0M658.6 894.5h0M657.4 892.7h0M658.9 894.6h0M668.1 899.5h0M672.2 893.8h0M671.5 892.3h0M662.1 892.6h0M658.8 893.6h0M660.9 896.2h0M667.5 886.4h0M664.1 915.4h0M664.7 931.5h0M673.8 909.9h0M675 915.8h0M668.9 923.6h0M658.6 895.7h0M673.2 920.9h0M674 900.4h0M699.6 885.9h0M710.7 898h0M705.1 898.7h0M702.2 895.8h0M707.5 901.2h0M710.6 894.6h0M709.6 922.5h0M696.4 900.1h0M706.5 931.9h0M700 929.4h0M709.8 925.5h0M712.1 904.2h0M743.9 908.4h0M745.1 896.7h0M743.7 899.2h0M750.9 899.4h0M741 890.6h0M738.1 900.1h0M749.5 901.1h0M745.2 893.9h0M740.3 896.8h0M738.7 890.5h0M743.1 893.3h0M742.8 903.2h0M739.2 894h0M749.6 894.8h0M742.4 895.1h0M736.2 889.1h0M732.9 890.3h0M741.2 901.5h0M742.5 898.2h0M733.3 896.3h0M741.7 890.3h0M739.5 899.3h0M732.5 898.6h0M742.5 907.5h0M745.9 893.3h0M751.7 897.3h0M746.1 900.1h0M739.1 889.1h0M734.5 891.2h0M747.2 890.6h0M733.8 899.1h0M735.9 897.1h0M738.7 899.2h0M735.4 890.1h0M737.2 896.7h0M749.6 898.9h0M744 902.9h0M750.2 892.5h0M749.2 902.4h0M738.1 892.9h0M746.9 889.5h0M733.5 901.7h0M738.7 906.6h0M746.1 898.4h0M731.8 910.6h0M744.3 930.1h0M743.3 904.5h0M735.4 900.1h0M745.6 924.5h0M736.9 917.5h0M748.5 912.6h0M735.5 933h0M735.4 904.6h0M736.7 913.6h0M738.6 908.8h0M774.5 895.3h0M779.2 896h0M779.8 894.6h0M788.8 891.2h0M780.5 893.7h0M784.9 894.4h0M782 891.4h0M782.1 897.4h0M785.4 895.6h0M787.1 892.8h0M775.1 890.9h0M784.8 895.7h0M782.1 894.5h0M776.1 897.2h0M809.3 923.4h0M806.7 896.1h0M822.8 911h0M814.2 888.3h0M822.4 881.5h0M808.4 892h0M807.8 884.1h0M817.1 890h0M826.3 899.4h0M814.2 894.3h0M822 886.3h0M825.9 884.4h0M822.9 889.6h0M811.6 888.5h0M819.9 875.4h0M813.8 893.1h0M813.3 886.6h0M825.5 905.7h0M807.9 874h0M820.1 877.4h0M807.8 913.6h0M818.4 875.5h0M826.4 917.1h0M819.7 874.9h0M812 889.6h0M815.6 881.1h0M822.5 890.2h0M820 882.2h0M811.1 904.5h0M818.5 849.4h0M824.8 876.3h0M812.2 868.6h0M812.5 891.1h0M813.5 916.7h0M809.9 919.9h0M820.9 888.7h0M818.7 903.6h0M825.1 899.9h0M814.1 884.2h0M822.9 863.9h0M824.7 885.7h0M827.4 897.9h0M808.9 892.2h0M827 888.4h0M809.7 861.3h0M822 889.5h0M820.9 884.5h0M808.4 886.5h0M821.6 907.6h0M825.1 865.5h0M811.5 887.8h0M823.2 891.8h0M817.1 892.7h0M811.4 894.8h0M807 897.1h0M827.3 888.6h0M809.1 902.7h0M816.8 865.7h0M810.3 881.8h0M820.9 880.4h0M817.1 877.9h0M808.9 873.4h0M825.8 901h0M813.9 878.6h0M825.1 883.5h0M821.9 856.4h0M812.1 892.5h0M808 882.9h0M815.1 875.6h0M818.2 886.9h0M821 892.6h0M820.3 889.8h0M821 907.9h0M827.2 896h0M814.9 876.1h0M813.2 906.8h0M814.7 923.4h0M814.6 873.5h0M827.5 897.7h0M806.7 887.2h0M811.9 915.6h0M819.4 910.9h0M810.7 898.6h0M809 884.2h0M825.6 878.1h0M807.6 911.2h0M820.1 895.5h0M818.1 902.7h0M806.6 905.9h0M822.2 857.9h0M824.4 912.1h0M819.7 891.5h0M813.3 907h0M822.4 917.7h0M821.9 917.1h0M818.5 907.8h0M821.2 920.1h0M820.4 910.7h0M813.1 907.8h0M813.8 895.2h0M817.6 903.1h0M818.4 913.5h0M813 927.7h0M825.7 911.3h0M818.5 911.4h0M823.7 923.6h0M812.1 898.9h0M817.3 906.6h0M823.9 895.8h0M824.7 931.9h0M815.9 898.4h0M823.8 928.5h0M811.8 923.1h0M810.9 918.6h0M823.5 911.6h0M817.2 930h0M816.2 891.4h0M821.6 914.7h0M817.7 899.9h0M822.7 927.4h0M851.3 903.6h0M845.8 894.1h0M855.4 898.7h0M854.8 903.3h0M844.9 892.7h0M856.8 903.3h0M862 903.8h0M853.1 897.7h0M853.6 908.3h0M854.7 897.3h0M858.4 907.4h0M859.9 899.5h0M858.6 900h0M856 898.1h0M846.8 898h0M849 906.6h0M846.5 891.5h0M846.2 895h0M845.5 898.8h0M858.7 904.8h0M845.5 900.2h0M858.9 904h0M865.3 904.1h0M861.5 895.9h0M851.4 897.1h0M855.2 900.7h0M850.1 888.4h0M849.9 898.4h0M862.4 900.2h0M856 895.7h0M845.4 903.6h0M850.8 899.2h0M862.3 893.4h0M849.8 905h0M855.6 898.5h0M852.2 897.5h0M856.6 904h0M852 897.7h0M863.7 897.9h0M856 901.8h0M855.6 895.1h0M852.9 897.6h0M850.1 902.6h0M861.1 900.5h0M861.2 900.7h0M856.8 892h0M853.7 909.1h0M862.8 895.9h0M857.8 894.4h0M845.4 897.2h0M856.9 897.8h0M848.1 900.2h0M861.2 893.7h0M854.8 901.6h0M850.5 902h0M848.8 904.9h0M863.6 897.5h0M848.7 901.1h0M860.8 897.3h0M864.3 897.7h0M849.8 904.6h0M863.4 895.5h0M845.5 899.9h0M859 901.3h0M850.5 890.5h0M849.2 896.7h0M856.1 902.4h0M847.6 900.9h0M862 895.5h0M847.5 901h0M852.6 895h0M845 909.4h0M849 903.6h0M855.8 894.4h0M859.6 894.7h0M853.4 896.1h0M861.8 899.9h0M846.9 900.9h0M864.1 888.4h0M855.4 905.9h0M860.1 900h0M854.8 894.8h0M854.5 897.1h0M862.5 899.8h0M846.2 903.5h0M847.3 902.2h0M862.1 900.2h0M849.1 889.4h0M856.9 897.9h0M864.7 899.4h0M858.1 905h0M845.4 889.8h0M849.6 901.4h0M859.9 894.6h0M850.6 895.4h0M845.8 891.7h0M855.9 900.8h0M860.9 899.6h0M845.1 903.1h0M855.1 901.8h0M847.1 893.5h0M856.5 895.1h0M858.3 901.5h0M847.8 895.4h0M851.3 893.7h0M862 889.4h0M847.5 895.3h0M846.3 902.6h0M854.8 897.2h0M855.6 900.5h0M847.8 895.1h0M855.6 895.5h0M848.5 903.2h0M852.8 899.1h0M849.4 898.2h0M862.7 896.6h0M844.7 908.5h0M864.2 899h0M856.3 906.9h0M858.8 898.3h0M847.6 897.9h0M849.9 891.4h0M855.2 894.4h0M850.5 898h0M856.5 897.4h0M849.3 900.1h0M859.3 905.5h0M845.7 903.4h0M865 898.7h0M845.2 892.7h0M861.5 904h0M851.5 903.6h0M863.7 897h0M844.6 903.6h0M852.9 894.5h0M846.2 900.6h0M858.6 898.7h0M847.5 891.5h0M848.5 900.3h0M849 896.8h0M865.3 905h0M861 888.4h0M860.7 904.2h0M863.4 898.2h0M848.5 898.8h0M857.5 905.4h0M846.3 894.4h0M859.4 905.5h0M864.6 900.5h0M858.5 896.7h0M861.8 899h0M864 901.3h0M861.8 892.7h0M861.2 903.1h0M861.7 903h0M860.8 901.5h0M862.5 923.3h0M864.2 915.2h0M863.9 929.7h0M864.3 906.3h0M851.4 904.5h0M851 926.9h0M855.1 925.5h0M855.7 902.1h0M859.2 909h0M853.9 906.4h0M887.9 901.6h0M886.9 899.8h0M900.9 904.4h0M890.5 909.9h0M892.7 908.8h0M902.9 898.9h0M886.2 904.7h0M893.2 902.3h0M882.2 905.5h0M891.7 899.2h0M899.2 895h0M884.3 903.5h0M893.8 899.8h0M890.1 900.4h0M901.7 907h0M883.8 898.9h0M895.3 907.1h0M889.8 912.5h0M896.1 900h0M893.1 906h0M896.4 906.3h0M889.8 899.6h0M902.7 906h0M896.5 896.4h0M893.9 900.8h0M900.9 909.7h0M897.5 901.3h0M889 903.4h0M885 904.5h0M885.2 895.5h0M894.5 905.9h0M890.4 904.5h0M897.9 904h0M898.2 905.5h0M888.3 905.9h0M902.7 907.4h0M895.8 904.6h0M890.2 901.4h0M902.4 909h0M888 905h0M885.6 909.3h0M898.8 910h0M889.5 906.8h0M900.6 900.4h0M885.6 899.8h0M888.7 903.6h0M883.3 905.8h0M902.5 904.6h0M902.4 899.7h0M902 902.1h0M886.3 900.3h0M884.4 905.3h0M887.6 899.6h0M902.4 906.5h0M887.8 901h0M891.6 901h0M899.8 895.2h0M888.8 907.9h0M885.4 908.6h0M893.9 903.2h0M896.3 907.9h0M889.8 903.4h0M901.4 906.6h0M895.4 906.6h0M887.6 904h0M899.5 903.3h0M894.1 904.6h0M887.7 909.1h0M887.3 896h0M898 898.9h0M896.4 901.3h0M884.5 909.6h0M890.2 914.2h0M902.1 914.5h0M897.1 910.3h0M936.5 918.6h0M937.6 895.3h0M935.8 906.4h0M930.5 902.7h0M935.6 897.3h0M937.2 929.1h0M922.7 928.5h0M934.8 933.1h0M925.8 919.8h0M921.4 929.6h0M925.7 931.3h0M924.5 927.5h0M934.2 914.8h0M940.5 910.9h0M934.7 912.4h0M921.5 925.1h0M920.1 910.6h0M933.2 923.6h0M921.2 910.1h0M929.3 909.1h0M920.8 933.7h0M937.4 922.1h0M933.2 909.8h0M927.1 910.7h0M924.6 922.3h0M936.7 903.6h0M937 910.4h0M931.3 895.9h0M920.6 897.5h0M930.6 912.1h0M933.2 919h0M935.2 913.8h0M930.7 924.8h0M932.4 921h0M940.9 912.4h0M936.9 894.5h0M940.7 906.4h0M921.5 917.9h0M929.5 921.2h0M934.3 914.8h0M927.2 918.6h0M924 926.9h0M924.1 922.7h0M935.4 910.6h0M924.1 926.9h0M934.8 916.7h0M931.8 912.8h0M934.7 907.7h0M939.9 898.2h0M939.3 918.5h0M921.3 918.5h0M924.3 932.3h0M935.1 894.5h0M933.2 913.8h0M923.4 916.4h0M933.3 905.7h0M920.9 906.5h0M923.7 916.1h0M936.9 929.5h0M929.5 897.6h0M923.2 911.5h0M936.3 912.6h0M939.1 940h0M936.7 909.8h0M922.7 935.1h0M922.3 912.6h0M924.4 927.2h0M925.3 920.5h0M934.9 892.5h0M939.8 912.5h0M935.4 904.3h0M928.1 917h0M922.8 907.9h0M920.3 934.4h0M927.9 912.4h0M920.2 901.8h0M929.7 906.6h0M920.9 931.9h0M921.5 905.5h0M926.8 924h0M930.2 931.2h0M933.4 931.2h0M939 913.4h0M928 908h0M922.6 904.3h0M924.2 906.9h0M933.4 929.1h0M934.8 911.8h0M935.2 919.3h0M921.1 914.1h0M934.1 926.1h0M935 913.6h0M934.5 914.6h0M929.9 900.2h0M932.6 901h0M921.3 897.5h0M924.8 913.3h0M928.2 891.2h0M933.3 910.9h0M935.6 934.8h0M940.5 911h0M936.8 914.5h0M925 912.3h0M939.5 914.8h0M939.5 912.6h0M933.4 900h0M923.2 908.3h0M920.4 919.6h0M940.4 915.4h0M934.9 920.5h0M923.4 908.1h0M930.7 897.8h0M938.7 900.9h0M939.2 904.1h0M931.7 894.8h0M937.2 915.3h0M932.5 930.3h0M936.8 915.8h0M931.4 912.4h0M926.1 913.9h0M935.6 916.6h0M920.5 914.8h0M929.6 906.3h0M922.6 932.6h0M929 919.8h0M922.3 921.4h0M927.4 902.4h0M922 917.5h0M937.8 918.1h0M922.1 936.1h0M936 921.6h0M923.1 908.9h0M936.1 938.7h0M920.1 933.8h0M934.5 910.9h0M932.6 913.2h0M928.5 927.2h0M932.8 917.1h0M935.4 929.6h0M936.7 934.6h0M935 898.3h0M920.6 926.1h0M929 924.3h0M938.4 934.3h0M929.3 904.7h0M934.8 892.6h0M927.3 915.7h0M926.8 906.6h0M940.6 906.1h0M933.7 909.1h0M937.6 899.2h0M940.9 923h0M925.2 915.4h0M928.6 924.1h0M938.6 908h0M939.3 914.6h0M936.3 924.2h0M938.7 899.5h0M922.2 912h0M937.3 928.1h0M927.7 921.4h0M931.3 901.8h0M931.1 909.4h0M933.6 916.9h0M928.5 939.9h0M939.2 921.6h0M921.9 925.8h0M924.4 940h0M920.3 921h0M925.5 893.1h0M923.7 922.4h0M929.2 940h0M935.7 921.9h0M935.8 930.6h0M920.6 915.5h0M934.5 907.4h0M940.2 913.5h0M933.5 907.6h0M932.5 928.6h0M934.6 924h0M921.4 916.9h0M920.3 911.9h0M922.4 919.4h0M930.4 911.1h0M925.7 899.7h0M936.1 918.7h0M926.4 913.4h0M928.6 911.2h0M935.3 919.8h0M922 926.3h0M937.5 906.7h0M920.6 919.6h0M937.9 912h0M936.8 922.3h0M920.2 919.7h0M924 923.1h0M933.8 910.4h0M932.3 919.1h0M923 919.1h0M922 921.3h0M933.7 905.2h0M931.9 916.7h0M920.3 914.9h0M937.9 911.7h0M927.6 896.9h0M935.2 895.7h0M925.3 903.5h0M927.7 901.3h0M925.2 920.7h0M936.7 916.3h0M936 917.9h0M924.7 905.4h0M928.1 913h0M927.7 908.6h0M938.3 923.1h0M921 924.9h0M924.9 926h0M920.6 932.9h0M929.6 920.5h0M934.9 913.6h0M930.1 911.2h0M923.6 912.6h0M922.5 914.2h0M921.4 904.2h0M939.7 923.3h0M931.6 906.4h0M935.6 908.8h0M931.8 912.3h0M938 896.9h0M922.3 935.4h0M925 903.4h0M923.6 920.1h0M921.7 910.7h0M925.6 921.1h0M935.3 905.1h0M921.6 921h0M924.3 924.5h0M933.9 912.9h0M940.7 919h0M930.1 911.5h0M933.7 914.9h0M930.8 914.2h0M935.5 903.7h0M931.3 913.7h0M932.7 914.3h0M933.7 903.2h0M939.8 903.8h0M935.5 900.4h0M938.9 909.2h0M923.8 923.5h0M938.9 913.5h0M921.7 901.4h0M929.2 915h0M922.9 912.8h0M932.2 909.2h0M939.7 899.1h0M920.3 928.6h0M939.9 906.3h0M930.7 914.3h0M939.9 903.6h0M933 940h0M924.5 913.9h0M941 912h0M929.6 921.7h0M926.7 911.6h0M928.5 891.2h0M920.5 924.3h0M927.8 902.4h0M920 905.1h0M932.7 898.6h0M931.8 916.2h0M934.9 903.9h0M922.5 910.5h0M940.2 909.6h0M931 912.2h0M932.2 910.9h0M924.9 912.8h0M923.5 918h0M928.6 925.6h0M938.6 921.5h0M940.1 926.7h0M925.6 933.5h0M921.1 905.4h0M939.2 919.4h0M926.1 914h0M926.1 914.4h0M928.8 894.6h0M931.1 920h0M933.7 904.4h0M930.8 931.2h0M933.8 909.7h0M932.3 910.3h0M940.2 908.4h0M924 937.1h0M932 895.5h0M923.8 905.2h0M925 918.5h0M927.7 923.2h0M921.5 931.4h0M935.6 918h0M934.1 924.1h0M936.8 924h0M934.2 903.5h0M934.9 914.8h0M940.1 919.6h0M936.5 920.9h0M940.1 914.4h0M924.3 904.4h0M938.9 938.4h0M924.9 900.9h0M933.9 916.5h0M936.1 925.6h0M924.5 910.3h0M925.6 910.2h0M928.5 910h0M928.8 914.3h0M939.8 903.2h0M932.1 909h0M929.2 925.8h0M923.7 902.5h0M934.2 917.6h0M923.4 915.3h0M936.1 934.2h0M937.5 895.7h0M934.8 925h0M940.3 927.3h0M926.3 909.6h0M925.4 898.5h0M937.8 909.3h0M938.4 928.5h0M920.3 921.6h0M931.2 919.3h0M921.5 916.9h0M920.1 923.9h0M920.1 908h0M924.8 901.1h0M940.7 917.2h0M920.4 898.9h0M940.4 896.9h0M923.1 899.3h0M926.7 922.2h0M928.8 904.5h0M921.1 923.7h0M921.8 914.5h0M933.1 913.1h0M934.6 911.6h0M935.3 917.1h0M927.2 896.8h0M939.5 922.4h0M931.8 915.2h0M934.5 909.8h0M928.1 913.6h0M936.7 917.2h0M936.8 923.1h0M924 903.9h0M934.9 907.7h0M924.8 909.3h0M921.9 933.3h0M922.9 922.7h0M924 927.3h0M933.3 920h0M925 918.1h0M931.2 916.2h0M935.2 904.5h0M924.6 898.9h0M926.1 912.3h0M932.9 926h0M938.9 928.1h0M933.9 913h0M925.5 906.8h0M936.2 911.4h0M937.4 909.2h0M936.7 921.2h0M926.5 940h0M921.2 922.4h0M932.8 900h0M930.8 912.7h0M923.2 913.8h0M929.7 895.8h0M924.1 924.6h0M930.9 906.4h0M927.6 907h0M936.3 918.3h0M922.2 928.3h0M930.1 906.1h0M925.3 911.1h0M926.7 919.3h0M930 922.1h0M927.8 919.8h0M929.4 933.3h0M939.2 916.8h0M933.6 931.9h0M930.7 922.2h0M927.5 933.1h0M940.1 917.2h0M924.8 925.3h0M933.6 928.3h0M923.7 920.1h0M936.4 925.8h0M924 926.6h0M924.2 916.2h0M923.4 928.5h0M936.3 931.3h0M924.4 932.5h0M925.4 924.1h0M937.5 930.7h0M925.6 919.9h0M930.2 927.6h0M924.7 929.4h0M940 931.6h0M927.2 920.3h0M938.5 917.3h0M931 916.4h0M933.4 928.5h0M930.9 920.7h0M972 888.3h0M971.5 896.8h0M969.3 886.7h0M967.4 892h0M974.2 898h0M976.1 888.5h0M963 893.5h0M959.9 890.8h0M974.5 894.8h0M962.6 893.5h0M973.4 893h0M962 893.7h0M974.7 898.2h0M977.8 893.4h0M976.6 896.4h0M967.7 889.2h0M964.3 889.2h0M976.2 898.1h0M970.1 896h0M975.2 895.2h0M966.5 898.9h0M976.3 894.9h0M965.4 895.7h0M965.4 896.7h0M960.4 888.5h0M977 895.9h0M966.9 889.2h0M972.9 893.2h0M968.8 895.9h0M975 893.6h0M962.5 893.4h0M973.4 897.9h0M976.3 893.5h0M978.6 897h0M972.7 897.9h0M977.3 892.8h0M964.7 893.3h0M973.2 891.2h0M968.3 892.4h0M971.8 889.8h0M978.8 888.2h0M969.6 886.6h0M976.9 893.6h0M969.4 896.8h0M965.4 893.9h0M977.2 902.3h0M968.4 894.1h0M976.7 893.5h0M968.5 886.4h0M977.4 900.1h0M971.1 896.4h0M974.7 895.2h0M963.2 899.1h0M963.6 891.9h0M967.6 898.5h0M959.7 892.1h0M972.9 890.8h0M973.5 894.2h0M968.7 894.1h0M961.5 891.3h0M962 901.2h0M970.1 899.5h0M972.8 895.5h0M972.7 900.8h0M977.2 895.4h0M958.9 886.9h0M959.6 890.3h0M959.3 895.8h0M960.8 892.6h0M967.5 900h0M964.9 903.2h0M973.9 903.4h0M961.2 894.3h0M966.4 891.7h0M961.2 896.8h0M962.4 896.6h0M964.4 892.1h0M968.4 893h0M967 892.5h0M978.2 890.2h0M967.7 903.4h0M962 893.5h0M961.4 896.2h0M959.3 895.5h0M966.3 897.4h0M965.2 903.4h0M972.3 897.6h0M966 892.7h0M969.8 889.8h0M957.9 887.9h0M965.2 890.6h0M971 899.5h0M966.9 890.8h0M964.1 896.3h0M973.2 899.8h0M977.7 896.3h0M975.7 892h0M974.4 891.4h0M964.9 899.4h0M977.6 897.5h0M961.6 898.2h0M960.2 895.6h0M958.4 888.7h0M964.6 898.6h0M965.4 898.9h0M976.6 893.8h0M977.3 897.2h0M971.2 890.4h0M965.9 897.9h0M970.6 893.8h0M965.6 893.7h0M965.9 897.3h0M969.1 900h0M963.6 887.7h0M961.2 898h0M972.3 888h0M959.1 891.8h0M974.8 928h0M964.4 931.5h0M965.1 904.9h0M973.3 897.9h0M977.3 912.1h0M976.9 930.2h0M1003.8 888.8h0M1016.1 900.5h0M1016.5 896.4h0M999.4 901.3h0M998.8 903.7h0M996.9 905.7h0M1006.8 893.2h0M1004.9 901h0M1012.2 901.7h0M1014.1 905.7h0M1008.2 903.2h0M1015.4 903.3h0M1013.7 895.7h0M998.6 894.4h0M999.3 904h0M995.7 906.6h0M1012.5 894.8h0M995.7 898.9h0M1012.4 906.8h0M1007.6 907.4h0M1010.9 896.2h0M1015.7 912h0M1015.1 892.9h0M1003.5 904h0M1001.3 903.6h0M1012.2 892.4h0M1012.9 905.9h0M1002.3 892.1h0M1011.5 900.9h0M998.9 901h0M1013.6 892.9h0M1015 904.8h0M997.4 900.1h0M998.8 892.1h0M1011.6 904.3h0M1007.9 911.1h0M1004.6 905.7h0M1011.9 898.3h0M997.8 901.4h0M1013.9 900.9h0M1004.9 897.8h0M1011 901h0M1009.2 904.6h0M1010.8 895.2h0M1000.1 896.7h0M1003.4 902.9h0M1014.9 904h0M1004.6 887.9h0M1007.6 907.1h0M1005.2 897.1h0M1013.8 909h0M1005.5 911.3h0M998.1 892.6h0M1009.9 900.4h0M996.7 903.5h0M1011.2 893.6h0M998.4 900.9h0M1000.9 903.9h0M1012.7 904.4h0M997.4 894.3h0M1013.5 899.1h0M1005.4 899.3h0M1005.5 901.3h0M1002.8 902.1h0M1015.2 909.1h0M1012.7 899.2h0M998.1 897.7h0M1002.7 897.9h0M999.1 894.5h0M1012.1 894.8h0M1000.9 903h0M1014.7 897.1h0M1008.5 902.4h0M1008.9 891.2h0M1006.8 902.1h0M997.7 896.8h0M1014.8 905.1h0M1011.3 897.6h0M1000.5 908.2h0M1015.8 910.3h0M1015 898.1h0M1007.3 896h0M1004.1 893.4h0M1005.5 898.9h0M1006 897.8h0M1007.3 901h0M1011.6 895.2h0M1014.2 903.2h0M1003.3 902.1h0M998.6 887.9h0M1007.8 904.3h0M1007.1 895.1h0M1002.2 901.5h0M998.2 896.8h0M1001.6 899.7h0M1015.5 905.2h0M1010 905.5h0M1008.9 909.1h0M1007 890.3h0M1003.2 895.1h0M1008.3 906.6h0M1000.7 904.9h0M1016.1 887.9h0M1007.2 899.7h0M1001.8 916.8h0M1000.2 905.9h0M1010.2 910.9h0M1037.7 915.4h0M1035.6 912.4h0M1053 908.8h0M1044.3 916.5h0M1040.2 907.5h0M1048.1 911.6h0M1034.8 916.4h0M1035.8 910.2h0M1049.1 924.6h0M1041.1 915.9h0M1047.3 913.4h0M1054.3 906.5h0M1046.5 919.2h0M1048.7 916.9h0M1045 917.5h0M1038.8 920.9h0M1036.4 909h0M1045.8 914.4h0M1050.3 913.7h0M1045.5 913.1h0M1045.2 911.6h0M1033.8 919.8h0M1034.7 913h0M1049.3 918.1h0M1038.5 914.2h0M1035.4 914.3h0M1043.5 918.2h0M1049.5 918.3h0M1038.1 913.3h0M1042.9 919.2h0M1044 922.1h0M1037.2 910.8h0M1034.9 918.1h0M1035.3 912.5h0M1047.1 913.8h0M1044.2 918.6h0M1053.1 914h0M1039.8 915.5h0M1040.2 913.3h0M1042.4 910.4h0M1036.9 918.9h0M1051.2 913.6h0M1047 915h0M1034.7 912.5h0M1044.1 911h0M1049 916.5h0M1048.5 914h0M1047.5 918h0M1042.5 915.7h0M1052.4 916.5h0M1033.5 917h0M1037.6 914.9h0M1035.3 911.7h0M1040.5 920.4h0M1039 924.6h0M1041.9 916.9h0M1047.9 918h0M1034.9 917.7h0M1044.8 914.6h0M1035.5 906.7h0M1044 916.1h0M1047.5 918.2h0M1043.8 915.4h0M1053 914.4h0M1050.5 918.6h0M1043.6 917.7h0M1036.1 915.2h0M1045.6 918h0M1053.9 921.2h0M1050.3 909.6h0M1035.8 913.8h0M1045.7 916.1h0M1048.6 914.4h0M1041.1 919.1h0M1048.4 910.6h0M1042.6 917.4h0M1033.5 906.5h0M1051.6 910.2h0M1047.4 933.5h0M1051.6 921.6h0M1077.9 921.2h0M1089.4 918.9h0M1083.6 928.4h0M1091.2 919.1h0M1083.1 925.8h0M1081.4 923.1h0M1078.3 920.2h0M1083.6 928h0M1075.9 921.3h0M1081.8 925.5h0M1080 920.1h0M1082.4 926h0M1077 926.8h0M1087.7 923.9h0M1082.1 930.8h0M1082 924.6h0M1079.1 915.7h0M1086.1 925.7h0M1088.4 920.8h0M1075.7 931h0M1080.7 924h0M1078.8 926.8h0M1087.1 922h0M1076.2 925h0M1087.7 927.3h0M1084.6 928h0M1085.8 929.6h0M1078.8 924.9h0M1071.9 923.3h0M1085.3 920h0M1091.5 925.8h0M1078.3 923.7h0M1073.5 927.4h0M1081.5 922.9h0M1079 930.9h0M1086.2 925.2h0M1090.1 920.2h0M1080.5 920.1h0M1080.1 931.1h0M1075.1 928.9h0M1074.6 915.6h0M1089.2 926.4h0M1078.2 915.9h0M1080.2 919.7h0M1075.3 931.3h0M1073.8 924.1h0M1090.2 928.5h0M1083.8 928.4h0M1076.6 923.2h0M1079.2 920.8h0M1071.5 924.2h0M1078.2 929.3h0M1085.5 919.9h0M1071.7 926.5h0M1085.4 926.5h0M1075.5 927.2h0M1089.2 926.8h0M1083.6 922.3h0M1083.3 926.2h0M1078.1 925.1h0M1084.8 923.7h0M1073.8 928.5h0M1075.7 927.5h0M1078.9 926.2h0M1090.2 920.9h0M1076.3 916.1h0M1089.2 917h0M1079.2 924.5h0M1072 919.4h0M1076.9 922.6h0M1087.6 931.6h0M1072.4 933.7h0M1079.2 923.2h0M1087.6 923.9h0M1088.9 919.2h0M1088 928.4h0M1073.4 925.8h0M1080.5 925.1h0M1092.1 918.1h0M1075.7 921h0M1071.3 922.3h0M1079 923.2h0M1080.3 923.7h0M1086 927.9h0M1082.1 924.8h0M1082 922.3h0M1081.6 924.9h0M1075.7 930.1h0M1089.7 919h0M1084.2 926.9h0M1083.1 921.9h0M1091.3 925h0M1079 923.1h0M1082.4 920.3h0M1078.1 920.9h0M1078.4 928.3h0M1080 918h0M1079.7 921.1h0M1074.7 925.7h0M1080.6 927.7h0M1079.8 929.6h0M1080.9 923.9h0M1088.7 917.8h0M1071.9 929.2h0M1077.7 925.5h0M1086 931.6h0M1082.7 935.9h0M1111.3 912.6h0M1128.7 917.9h0M1129.5 917.8h0M1126.8 917.5h0M1112.8 920.2h0M1109.4 914.8h0M1127.8 921.3h0M1123.5 924h0M1120.3 914.4h0M1127.9 915.4h0M1116.2 919.1h0M1110.5 913.6h0M1110.6 916.5h0M1112.4 918.5h0M1115.2 918.5h0M1128.1 918.7h0M1127.3 908.4h0M1125.8 912.9h0M1115 917.4h0M1124.4 910.7h0M1113.8 920.3h0M1120.7 909.6h0M1121.9 912.2h0M1123.8 915.7h0M1118.8 918.8h0M1113.2 916.1h0M1129.2 921.3h0M1126.5 918.4h0M1114.3 910.7h0M1113.8 918.4h0M1113.6 920.8h0M1119.8 913.5h0M1119.6 918.2h0M1124.7 910.6h0M1127.5 916h0M1116.4 918.8h0M1124.4 915h0M1120.1 919.3h0M1112.3 920.5h0M1119.7 913.2h0M1125.6 919.3h0M1116.5 915.1h0M1126.1 911.1h0M1122.4 914.5h0M1119.2 915.3h0M1113.6 920.8h0M1118.3 913.5h0M1114.4 910h0M1126.5 917h0M1122.2 922.2h0M1111.7 918.8h0M1127.2 916.5h0M1125.6 920.3h0M1118.2 920.3h0M1123.2 923.6h0M1111.2 914.7h0M1117.7 917.8h0M1113.7 919.3h0M1127.3 917.2h0M1112.9 918.8h0M1121.2 915.6h0M1120.4 915.4h0M1118.3 912.9h0M1109.4 924.6h0M1128.6 917.3h0M1150.1 914.8h0M1149 923.2h0M1164.5 919.1h0M1152.1 916.2h0M1148.6 918h0M1157.2 917.1h0M1152.1 915.4h0M1154.7 918.5h0M1163.4 912.9h0M1151.6 917.4h0M1147.1 919h0M1161.5 918h0M1163.3 915.4h0M1147.7 914.4h0M1162.8 917.2h0M1155.1 924.8h0M1153.4 912.3h0M1157.6 908.5h0M1156.1 912.9h0M1164.3 923.3h0M1156.9 914.5h0M1165.6 915.3h0M1155.4 913.5h0M1156.6 919.8h0M1159 921.4h0M1165 916.9h0M1148.6 912.1h0M1167.4 922.6h0M1147.2 911.1h0M1164.6 921h0M1156.8 921.1h0M1161.9 914.8h0M1162.2 914.6h0M1160.7 915.5h0M1160.7 911.7h0M1153.7 912.9h0M1159.4 916.5h0M1161 918.2h0M1152.9 915.3h0M1158.3 916.2h0M1163.9 920.4h0M1148.3 912.3h0M1166.5 912.8h0M1154.6 910.8h0M1150.7 916.1h0M1155.6 920.8h0M1149.5 914.2h0M1167.2 920.4h0M1154.9 917.6h0M1167.2 919.7h0M1153.6 916h0M1155.1 921.6h0M1162.7 923h0M1147.8 917.4h0M1156.3 915.2h0M1156.1 915.2h0M1162.9 919h0M1157.8 917.5h0M1155.8 914.9h0M1151.9 909.3h0M1158.7 920.3h0M1156.2 918h0M1166.1 916.6h0M1161.8 918.8h0M1148.2 912.1h0M1153.2 915.4h0M1161.9 918h0M1149.5 913.3h0M1156.8 916.6h0M1151.6 914.8h0M1148.6 916.9h0M1157.8 914.9h0M1149.8 915.7h0M1152.2 915.3h0M1151.9 920.8h0M1162.5 916.4h0M1148.9 918.1h0M1159.4 913.3h0M1165 918.5h0M1161.4 915.9h0M1159.2 916.2h0M1157.3 917.7h0M1150.8 920.2h0M1159.2 920.1h0M1153.2 915.9h0M1148.7 918h0M1163.7 911.5h0M1149.3 919.9h0M1157.6 917h0M1154.7 923.4h0M1155.5 917.2h0M1165.5 929.2h0M1167 918.9h0M1201.7 908.4h0M1196.4 914.1h0M1188.4 907.2h0M1190.1 910.3h0M1194.4 916h0M1199.7 915.8h0M1186.9 909.3h0M1194.7 910.8h0M1185.6 917.6h0M1188.7 918.9h0M1193.6 910.3h0M1192.6 915h0M1198.4 916.2h0M1193.1 920.2h0M1188.6 918.4h0M1204.6 916.1h0M1205.5 907.4h0M1194.5 915.6h0M1200.3 912.5h0M1199.7 916.5h0M1203.2 907.1h0M1190.3 916.9h0M1191.3 913h0M1192.4 918.4h0M1202.4 911.8h0M1198.8 921.3h0M1196.6 913h0M1189.2 912h0M1188 915h0M1199.8 912.5h0M1191.6 912.8h0M1202.5 906.5h0M1193 915.1h0M1185 911.1h0M1185 917.6h0M1202.8 912.5h0M1204.9 914.1h0M1189.5 914h0M1186.8 914.1h0M1199.6 913.2h0M1189.9 918.1h0M1190.7 916.4h0M1205.5 910.3h0M1203.3 914.8h0M1185.1 908.6h0M1199.6 908.7h0M1196.2 911.8h0M1201.8 919.7h0M1190.3 911.3h0M1193.1 910h0M1196.7 911.8h0M1201.1 908.3h0M1204.1 917.8h0M1201.8 917.9h0M1204.2 917.3h0M1192.5 915.5h0M1199.5 911.2h0M1204.3 911.9h0M1204.4 917.6h0M1201 918.7h0M1200.7 918.2h0M1191.4 912.6h0M1201.7 909.8h0M1189.9 910.6h0M1187.4 917.4h0M1187.6 921.7h0M1204.6 917.6h0M1205.6 913.9h0M1198 920.7h0M1188.3 911.7h0M1186.3 911.7h0M1194.2 914.5h0M1193.4 909.6h0M1204.7 913.6h0M1201.1 920.6h0M1197 910.1h0M1195 913.8h0M1193 910.7h0M1191.5 916.9h0M1197.4 917.8h0M1191.7 911.4h0M1185 914.1h0M1193.6 913h0M1202.3 913.3h0M1202.3 917.4h0M1197 923.1h0M1192.8 914.6h0M1190.2 914.4h0M1196.1 915.1h0M1192.6 915.1h0M1186.8 918.1h0M1200.4 918.3h0M1198 932.8h0M1241.8 910.8h0M1227.7 907.2h0M1234.6 918.5h0M1238.5 913.4h0M1235.5 908.7h0M1242 913.5h0M1234.4 906.7h0M1243.4 906.7h0M1223.1 913.7h0M1237.8 915.9h0M1242.9 909.8h0M1235.8 914.2h0M1233.7 914.2h0M1222.8 913.7h0M1229.2 920.1h0M1239.1 910h0M1223.2 912h0M1227.5 915.3h0M1230.5 916.7h0M1233.6 910.1h0M1235.2 904.9h0M1242.6 913.4h0M1238.9 906.4h0M1233.4 908.2h0M1230.6 911.9h0M1226.2 915.1h0M1234.2 905.2h0M1222.9 909.6h0M1228.2 920.1h0M1225.9 920.1h0M1240.2 910.6h0M1242 915h0M1223.9 908h0M1225.3 912.1h0M1228.9 909h0M1225.1 912.6h0M1239.3 916h0M1239.7 913.2h0M1239.8 911.1h0M1239.5 909.1h0M1227.3 902h0M1239.9 903.1h0M1224.6 911h0M1235.8 910.3h0M1240 917.8h0M1240 907.5h0M1241.9 911.4h0M1236.9 913.4h0M1240.3 905.5h0M1227.8 913.9h0M1233.9 912.3h0M1241.2 905.9h0M1227.6 905.2h0M1225.1 912.9h0M1238.9 916.6h0M1224.6 910.7h0M1228.4 914.4h0M1239.6 910.4h0M1225.9 915.4h0M1241 908.2h0M1225.9 908.8h0M1224.4 905.1h0M1236.5 908.1h0M1236.5 908.5h0M1240.9 909.5h0M1223.2 914.7h0M1229.7 908.7h0M1237.5 910.7h0M1239 904.1h0M1225.2 917h0M1230.6 912.2h0M1238 911.9h0M1227 907.9h0M1240.7 912.5h0M1235.9 908.2h0M1241.9 914.9h0M1242.2 910.6h0M1240.6 915.9h0M1229.6 926.8h0M1226.9 921.6h0M1238.8 928.9h0M1270.4 910.7h0M1279.1 919h0M1268.2 906.7h0M1275.9 907.9h0M1279.7 908h0M1271.1 914.6h0M1266.4 915.8h0M1279.5 917.4h0M1279.4 910.8h0M1280.6 907.9h0M1263.2 914.9h0M1278.7 906.8h0M1269 915.6h0M1278.1 911.5h0M1277.5 912.6h0M1264.8 918.6h0M1276.1 906.5h0M1264.5 917.1h0M1277.1 911.6h0M1280.9 912.8h0M1265 914.5h0M1272.4 915.9h0M1279 909.2h0M1268 906.5h0M1262.6 914.7h0M1272.6 907.5h0M1269.7 910.2h0M1267.7 907.9h0M1269.1 913.1h0M1272.7 907.5h0M1271.7 903.1h0M1267 915.6h0M1270.7 911h0M1272.2 923h0M1264.7 908.3h0M1267.6 910h0M1276.8 911.7h0M1276.7 910h0M1269.6 914.7h0M1261.2 918h0M1261.7 913.9h0M1268.3 916h0M1279.6 918.6h0M1261.7 910.9h0M1272 916h0M1261.3 914.4h0M1270.6 915.2h0M1273.5 905.3h0M1266.2 911h0M1264.2 915.7h0M1264.1 911.4h0M1275.4 910.5h0M1267.6 917.1h0M1274.1 910.4h0M1268.6 918.3h0M1280.8 915.3h0M1274.4 913.7h0M1262.4 918.9h0M1267.4 913.9h0M1260.6 911.5h0M1269.7 903.9h0M1275.4 907.2h0M1266.7 918.4h0M1266.6 911.8h0M1275.5 905.5h0M1272.4 917.1h0M1277.5 906.3h0M1281 908.1h0M1260.5 912.9h0M1271.8 911.7h0M1268.5 913.3h0M1264.7 912.1h0M1276.8 916.5h0M1270.6 919.8h0M1261.1 914.9h0M1270.2 912.1h0M1260.3 915.7h0M1276.4 912.9h0M1273.7 905.8h0M1274.4 919.5h0M1264.7 910h0M1275.6 918.5h0M1264.5 913.9h0M1262.3 914.1h0M1267.7 908.7h0M1264 913.3h0M1275.7 918.5h0M1263.4 906.9h0M1262.4 907.5h0M1266 912.6h0M1278.9 907.1h0M1276.1 909.1h0M1274.9 913.9h0M1280.3 915.8h0M1280.4 913.9h0M1267.1 908.5h0M1264.5 912.2h0M1260.8 921.3h0M1277.9 908.4h0M1279.2 912.8h0M1266.1 911.8h0M1268 912h0M1262.8 910.3h0M1272.5 911.1h0M1270.9 927.3h0M1272.3 917.3h0M1275.9 926.5h0M1279.4 917h0M1305.5 908.3h0M1302.2 916.9h0M1311.3 911h0M1302.1 920.1h0M1313.1 905.9h0M1300.6 908h0M1301.3 910.2h0M1314.8 913.4h0M1300.2 911.5h0M1300.8 916.6h0M1302.7 916.5h0M1317.7 910.6h0M1305.2 915.5h0M1305.4 919h0M1318.4 905.1h0M1309.6 909h0M1317.9 912.7h0M1314.4 905.4h0M1313.9 905.9h0M1318.3 912.5h0M1300.3 912.1h0M1304.8 909.7h0M1312.5 917.2h0M1299.1 916.6h0M1317.8 907.5h0M1308.1 916.3h0M1315.2 906.3h0M1298.7 912.6h0M1308.4 906.3h0M1312.4 904.2h0M1307.1 907.3h0M1318.2 902h0M1299.9 912.6h0M1310.9 912.8h0M1298.5 917.1h0M1310.6 907.3h0M1315.3 913h0M1317.5 911.2h0M1303.8 910.1h0M1319 909h0M1313.7 910.5h0M1317 910.5h0M1312.1 908.9h0M1306.8 912.8h0M1318 912.1h0M1299.3 906.9h0M1319.1 910.9h0M1315.8 903.3h0M1313.5 905.1h0M1308.5 905.2h0M1308.5 909.4h0M1315 908.1h0M1300.9 907.3h0M1303.7 908.1h0M1303.2 913.9h0M1310.1 916.5h0M1316.8 909.6h0M1318.9 915.7h0M1302.7 911.4h0M1304.7 907.5h0M1300.8 910.7h0M1317.5 911.9h0M1308.3 910.5h0M1313.5 906.6h0M1314.1 915.2h0M1302.5 913.1h0M1309.8 905h0M1301.7 916.7h0M1305.4 914.9h0M1318.7 907.8h0M1300.6 917.4h0M1313.3 910.6h0M1313.8 909.2h0M1309 915.1h0M1310 916.5h0M1311.9 906h0M1310.5 913.7h0M1310.2 917.7h0M1300.9 910.8h0M1307.2 914.7h0M1309.9 909.2h0M1307.1 913.6h0M1305.9 908h0M1298.5 909.3h0M1313.3 911.3h0M1310.6 914.4h0M1305.9 908.4h0M1316.5 911h0M1317.9 910.3h0M1304.9 912h0M1299.4 906.7h0M1303.2 905.2h0M1303.5 915.7h0M1308 913.3h0M1306.3 917.7h0M1316.3 910.3h0M1316.2 904h0M1318.8 907h0M1313.2 907.5h0M1299.4 913.2h0M1313.5 910.5h0M1312.1 904.5h0M1308.1 908h0M1311.1 903.9h0M1300.2 916.8h0M1303.4 914.5h0M1317.7 913.2h0M1303 911.3h0M1305.3 913h0M1307.4 914.2h0M1315.2 912.6h0M1305.1 908.4h0M1318 905.3h0M1310.9 907.7h0M1300.5 912.1h0M1311.5 915.7h0M1305.3 908.1h0M1301.3 929.6h0M1310.7 928.6h0M1306.2 919.1h0M1316.9 921.3h0M1305.2 919.8h0M1344.9 908.2h0M1355.3 917.9h0M1347 909.6h0M1350.3 900.4h0M1338.8 911.8h0M1354.6 907.4h0M1345.6 913.4h0M1347 904.8h0M1343 908.9h0M1350.3 907.1h0M1350.9 909.8h0M1345.1 909.6h0M1340.4 906.7h0M1353.2 908.2h0M1341.2 912.8h0M1342.1 910.6h0M1352.6 910.2h0M1352.5 905.9h0M1349.7 912.1h0M1338.3 917.3h0M1341.4 907.2h0M1347.1 908.9h0M1345 907.2h0M1341 914.2h0M1343.1 903h0M1336.9 910.3h0M1353.8 906.5h0M1338.4 909.9h0M1354.6 911.6h0M1342.2 912.5h0M1352.9 907.4h0M1356.5 908h0M1341.9 913.2h0M1341.7 914.2h0M1336.9 900.4h0M1348.8 903.6h0M1345.1 911h0M1355.5 907.5h0M1349.2 909.5h0M1349.8 907.1h0M1354.3 912h0M1338.3 909.7h0M1346.8 908.2h0M1346 906.9h0M1354.7 915.5h0M1345.8 911.6h0M1336.4 902.3h0M1342.6 907.6h0M1352.4 906.2h0M1338.7 905.3h0M1350.4 911.6h0M1338.2 902.1h0M1344.5 912.2h0M1339.2 916h0M1338.8 911.4h0M1339.4 912.4h0M1344.1 911.2h0M1347.5 908.3h0M1352.8 913.3h0M1337.8 910.8h0M1354.1 913.9h0M1355.3 901.5h0M1352.5 909h0M1348 914.4h0M1338 907.3h0M1354.3 907.5h0M1347.3 911.3h0M1338.1 905.9h0M1352.7 911.4h0M1354.5 916.3h0M1352 910.4h0M1350.5 907.5h0M1339.2 912h0M1353.4 906.9h0M1343.1 916.5h0M1342.7 907.7h0M1354.5 916h0M1343.4 910.1h0M1390.6 907.7h0M1380.2 898.4h0M1394 904.2h0M1374.6 905.2h0M1385.4 904.7h0M1385.1 911h0M1375.7 910.7h0M1393.1 903.8h0M1387.9 904.8h0M1387.2 905.2h0M1393.3 904.4h0M1374.9 912.2h0M1390.1 903.6h0M1377 906.3h0M1377.1 913.1h0M1384.9 907.8h0M1382.1 901.2h0M1383.8 910.3h0M1390.2 908.2h0M1388.1 897.4h0M1384 908.6h0M1390.5 900.4h0M1388.2 911.8h0M1383.2 900.3h0M1384.9 913.1h0M1393.9 909.2h0M1388.8 898.1h0M1384.1 906.1h0M1380.9 905.2h0M1388.8 908.3h0M1394.7 904.8h0M1387.4 909.9h0M1375.4 904.5h0M1385.7 905.9h0M1383.2 907.8h0M1375.4 903.7h0M1385.5 900.2h0M1383.1 910.6h0M1381.1 908.4h0M1394.3 901.5h0M1391.1 900.4h0M1375.4 908.2h0M1376.4 903.9h0M1382.7 903.9h0M1393.9 899h0M1378.4 907.1h0M1379.5 906.3h0M1375 905.6h0M1387.9 909.8h0M1385.6 907.1h0M1389.2 909.2h0M1388.3 908.4h0M1383.5 907.5h0M1379.8 910.8h0M1386.7 902.2h0M1377.7 905.4h0M1391.7 901.3h0M1390.9 912.7h0M1379.5 908.9h0M1389.3 906.3h0M1373.9 904.6h0M1381.2 906.7h0M1376.1 909.6h0M1391.5 902.2h0M1380.7 911h0M1380.2 899.1h0M1386.2 901.9h0M1391.1 897.4h0M1389.2 901.9h0M1394.4 904.6h0M1381.6 904.8h0M1394.8 907.2h0M1379.1 915.5h0M1374.3 908.6h0M1385.6 903.6h0M1381.4 907.5h0M1393.7 914.6h0M1392.2 910.8h0M1412 908.3h0M1420.3 900.7h0M1419.3 905.2h0M1423.8 909h0M1425.3 907.5h0M1413.6 901.8h0M1426.2 906.7h0M1418.9 908.7h0M1432.5 907h0M1428.4 906.7h0M1432 914.8h0M1431.1 906.2h0M1422.5 911.1h0M1432.2 908.6h0M1429.3 908.7h0M1420.2 913.8h0M1415.8 915.1h0M1429.6 910.8h0M1423.7 903.2h0M1414.7 907.2h0M1415.5 904.3h0M1420.2 910h0M1411.7 911.5h0M1413.5 910.3h0M1417 908.5h0M1428.6 910h0M1415.3 902.7h0M1411.7 914.2h0M1419.3 907.9h0M1412 913.3h0M1423.9 910.6h0M1432.2 906.8h0M1426.2 907.6h0M1413.9 906.5h0M1432.3 907.3h0M1418.4 903.8h0M1415 909.8h0M1420 903.9h0M1428.3 909.1h0M1415.5 911.3h0M1421.1 903.5h0M1430.9 904.7h0M1425.7 902.8h0M1419.4 904h0M1427.5 904.2h0M1421.5 904.1h0M1424.4 913.9h0M1420.5 907h0M1423.1 906.3h0M1430.4 903.9h0M1418.5 903h0M1416.3 908.2h0M1416.8 912.4h0M1426.1 912.7h0M1431.3 904.1h0M1420.8 908h0M1415.9 912.6h0M1418.9 914.5h0M1418 906.6h0M1421.6 908.1h0M1431.1 908.2h0M1425.7 913.6h0M1412.4 906.5h0M1420.7 908h0M1424.9 903.2h0M1415.8 907.2h0M1431.8 905.5h0M1419.1 911.2h0M1417.1 911.6h0M1428 911.4h0M1418.3 905h0M1430.1 907.9h0M1417.9 909.1h0M1424.4 908h0M1428 907.3h0M1419.8 909.8h0M1420.8 912.1h0M1432.4 908.6h0M1427 900.3h0M1426.3 912.3h0M1429 907.3h0M1425.7 907.2h0M1417.2 910.3h0M1430.9 910.5h0M1418.7 908.8h0M1418.9 908.2h0M1430.6 898.9h0M1428.7 903.5h0M1413.9 903.9h0M1426.8 907.9h0M1428.2 905.5h0M1414.1 914.5h0M1429.3 906.3h0M1429 907.8h0M1429.6 910.9h0M1414.1 908.3h0M1432.2 908.1h0M1420.3 907.8h0M1423.8 907.1h0M1432.3 915h0M1431.8 906.6h0M1413.3 916.9h0M1418.4 908h0M1418.8 910.8h0M1431.9 927.9h0M1421.9 926.5h0M1432 918.7h0M1451 913.8h0M1451.5 906.7h0M1450.4 910.3h0M1464.5 907.6h0M1453.7 910.1h0M1464.6 914.9h0M1454.2 907h0M1461.3 914.4h0M1452.5 912h0M1467.6 907.6h0M1453 915.7h0M1455 916.3h0M1455.8 910.9h0M1460.8 909.6h0M1461.5 918.1h0M1462.8 908.5h0M1457.1 915.5h0M1449.4 913h0M1452.1 902.6h0M1451.8 910.4h0M1452.2 908.5h0M1449.8 903.8h0M1454.8 909.9h0M1457.4 909.5h0M1454.9 909.4h0M1454.5 909.2h0M1457 911.3h0M1456.2 905.9h0M1464.9 902.1h0M1459.8 908.6h0M1468.3 906.6h0M1459 909.5h0M1468.1 907.5h0M1452 902.5h0M1451.9 914.6h0M1456.1 909.5h0M1462.6 913.9h0M1462.4 913.5h0M1449.8 910.6h0M1467 908.5h0M1451 903.9h0M1465.6 915.9h0M1453.6 907.8h0M1467.5 906.3h0M1457.4 906.4h0M1469.1 916.3h0M1463.6 909.8h0M1454.3 904.4h0M1466.1 910.8h0M1453.3 908.3h0M1462.9 907.4h0M1462.8 907.1h0M1465.2 917.1h0M1453.8 910.7h0M1454.5 911.9h0M1452.5 910h0M1468 906.3h0M1463.2 907.8h0M1461.8 907.1h0M1460.5 908.1h0M1461.3 907.8h0M1462 909.2h0M1454.5 903.6h0M1461.8 906.2h0M1469.3 913h0M1457.7 910.2h0M1467 913.9h0M1470.2 907.2h0M1464.5 908.9h0M1462.8 914.4h0M1465.4 900.4h0M1454 912.2h0M1454.3 913.4h0M1465.8 911.3h0M1459.7 908.4h0M1458.4 903.4h0M1470.2 911.2h0M1470.4 915.6h0M1466.3 925.1h0M1464 920.2h0M1491.6 907.4h0M1495 909.4h0M1507.5 912.6h0M1496.5 907.2h0M1500.7 918.5h0M1499.7 914.1h0M1488 907.8h0M1507.3 912.6h0M1488.6 914.6h0M1502.9 910.6h0M1493.2 913.5h0M1506.5 905.5h0M1506 911.7h0M1491.9 907.2h0M1507.8 910.1h0M1489.7 905h0M1488.8 907.8h0M1495.9 902.7h0M1503.9 908.2h0M1489.7 915.6h0M1504.3 906.7h0M1497.1 911.9h0M1492.6 906h0M1490.4 912.3h0M1490.7 910.8h0M1505.6 909.5h0M1490.4 916.5h0M1497.3 913h0M1492.8 911.4h0M1506.6 909.1h0M1500 910.3h0M1505.3 914.1h0M1488.3 904.4h0M1505.5 911h0M1490.1 908h0M1498 907h0M1497.1 913.3h0M1490.2 911.7h0M1493.7 910.5h0M1504.7 914.3h0M1507.9 901.2h0M1488.7 912.8h0M1492.6 912.8h0M1502.8 906.7h0M1497.9 907.7h0M1507.5 910.7h0M1489.4 906.2h0M1496.8 912.3h0M1491.1 916.4h0M1493.1 910.3h0M1500.1 908.9h0M1489.2 909.6h0M1506.7 909.5h0M1491.9 913.6h0M1488.2 907.5h0M1489 911.5h0M1507.6 906h0M1494.7 907.7h0M1498.1 909.7h0M1498.6 910.5h0M1496.6 905.3h0M1494.1 906.5h0M1489.8 906.6h0M1489.5 914.8h0M1500.6 906.6h0M1507.6 908.5h0M1489.8 901.8h0M1503.9 911h0M1508.1 909.2h0M1499.8 914h0M1490 907.5h0M1500 907.6h0M1487.4 915h0M1487.4 915h0M1492.8 906.5h0M1505.4 910h0M1506.1 904.2h0M1499 905h0M1500.7 930.6h0M1500.6 917.7h0M1538.8 902.8h0M1526.7 903.1h0M1541.8 902.6h0M1536.5 903.1h0M1537.2 911.3h0M1530.1 897h0M1532.8 912.1h0M1534.2 908.1h0M1538.5 914h0M1528.8 910.4h0M1535 908h0M1540 906.7h0M1531.6 900.3h0M1537.6 904.4h0M1538.3 903.1h0M1531.1 909h0M1536.2 905.1h0M1529.7 900.3h0M1532.5 904.5h0M1530.4 909.6h0M1544.7 900.6h0M1530.3 912.2h0M1525.6 899.9h0M1543 902.6h0M1534.3 906.5h0M1539.4 908.2h0M1541.6 903h0M1539.3 901.8h0M1529.6 906.5h0M1530.4 905.9h0M1537.1 899.4h0M1544.5 903.9h0M1534.9 913.3h0M1535.9 907.9h0M1544.7 905.8h0M1535.3 900.6h0M1529.2 901.3h0M1538.1 904.9h0M1544.5 909.4h0M1541.1 905.2h0M1539.8 904.1h0M1537.6 904.4h0M1525.8 907.6h0M1534.5 908.8h0M1526 902.2h0M1527.7 909.6h0M1528.5 900.9h0M1539.9 907.7h0M1538.6 897.9h0M1542 908.6h0M1542.1 901.2h0M1532.2 902.7h0M1539.8 900.1h0M1525.2 898.8h0M1545.1 900.3h0M1538 903h0M1537.1 903.6h0M1528.9 906.3h0M1534.8 906.1h0M1526 903h0M1544 908.1h0M1541.2 909.7h0M1536.4 897.9h0M1544.7 901.3h0M1539.8 906.6h0M1528.7 904.9h0M1544 900.1h0M1535.4 905.5h0M1539.9 907.6h0M1534.7 899.8h0M1540.1 905.6h0M1529.8 900.9h0M1538.9 902.5h0M1526.4 901.2h0M1530.7 906.4h0M1541.3 895.9h0M1535.3 905.5h0M1543.3 903.4h0M1539.8 904.8h0M1538.1 906.2h0M1536 910.8h0M1528.9 904.3h0M1531.6 905.7h0M1542.9 906.9h0M1540 909.3h0M1535.4 906.9h0M1525.5 908.7h0M1532.4 901.6h0M1544.1 895.9h0M1538.8 901.8h0M1531 900.7h0M1541.9 898.5h0M1540.6 908.1h0M1530.7 909.3h0M1540.9 902.5h0M1542.7 909.2h0M1532.6 905.1h0M1526.7 900.9h0M1535.3 900.7h0M1536.5 909.2h0M1532.6 903.9h0M1539.5 906h0M1530.5 909.5h0M1529.7 906h0M1539.6 919h0M1544.4 907h0M1545 920.3h0M1582.8 901h0M1576.4 903.1h0M1575.6 905.1h0M1573.9 899.3h0M1569.7 896.3h0M1563 908.1h0M1576.6 900.9h0M1564.4 907.5h0M1570.5 894.4h0M1572.8 898.1h0M1576.2 899.4h0M1564.2 902.4h0M1566.2 907.9h0M1578.8 904.3h0M1579.5 894.7h0M1582.8 903.4h0M1580.2 903h0M1579.8 906.8h0M1566.6 906h0M1570 906.2h0M1579.3 905.5h0M1569 895h0M1564.2 900.6h0M1569.7 902h0M1570.4 893.4h0M1571 897.4h0M1576.1 898.9h0M1572.1 905.8h0M1568.7 911h0M1573.9 899.5h0M1565.9 904.1h0M1573.5 901.6h0M1564.1 900.7h0M1582.5 905.9h0M1563.8 896.6h0M1576.5 895.7h0M1571.7 900.1h0M1578.7 899.5h0M1571.3 905.7h0M1573.8 900.3h0M1566.9 903.8h0M1565.6 892.9h0M1578 905.4h0M1563.7 903h0M1582.3 903.6h0M1569.2 905.3h0M1574.1 905.1h0M1568.8 900.5h0M1577.7 903.9h0M1569 905.5h0M1577.9 906.8h0M1576.6 900.6h0M1565.2 903.4h0M1565.9 901.2h0M1576.8 900.9h0M1570 899.6h0M1568 899.5h0M1566.7 903.5h0M1575 898.3h0M1568.1 897.2h0M1571.9 899.7h0M1575.6 907.4h0M1564.8 904.3h0M1570.5 905.5h0M1576.3 898.3h0M1564.7 903.2h0M1570.7 900.7h0M1570.7 909.7h0M1567.3 904.9h0M1565.6 902.2h0M1582.9 903.7h0M1583.1 906.3h0M1580.5 895.3h0M1563.4 908.7h0M1581.2 894.5h0M1575.8 894.1h0M1571.8 905h0M1565.9 904.8h0M1565.4 904.9h0M1581.1 902.9h0M1569 909.1h0M1575 905.6h0M1567.2 903.2h0M1576.5 894.6h0M1564.5 905.2h0M1573.1 903.1h0M1567.1 909.1h0M1566.8 903h0M1567.7 904.4h0M1576.2 895.3h0M1577.7 900.3h0M1573.3 901.6h0M1582.6 898.5h0M1571.1 899h0M1573.5 905.8h0M1563.8 903.4h0M1570.1 898.1h0M1568.8 905.4h0M1580.5 898.4h0M1570.8 893.5h0M1567.1 905.9h0M1563.6 904.9h0M1574.7 902.1h0M1563.2 904.3h0M1565.8 919.7h0M1577.1 910.1h0M1583.2 909.1h0M1574.8 922.9h0M1582.6 912.8h0M1616.7 896.1h0M1613.3 906.5h0M1621 902.6h0M1620.6 893.3h0M1614.9 905.8h0M1618.3 895.7h0M1609 900.5h0M1617.4 906h0M1619 904.7h0M1601.3 906h0M1602.7 897.5h0M1618.4 901.6h0M1605.4 895h0M1603.5 897.6h0M1609.3 901.8h0M1613.2 907.9h0M1611.3 911h0M1612 905.1h0M1615.2 905.9h0M1603 901h0M1616.7 905.1h0M1612.1 910.4h0M1602.6 903h0M1612 900.5h0M1604.5 896.2h0M1616.4 907.3h0M1618.7 900.3h0M1604.6 906.1h0M1615.9 904.4h0M1610.1 897.9h0M1608.9 904.5h0M1609.5 894.4h0M1615.5 901.2h0M1608.3 897.5h0M1600.9 904.3h0M1620.9 905.8h0M1620.8 903.1h0M1605 897.1h0M1603.9 899.5h0M1618.6 900.9h0M1606.4 903.1h0M1611.4 902.1h0M1619.7 900.4h0M1610 898.9h0M1603 901.4h0M1611.6 896.6h0M1612.2 902.9h0M1607.2 903.3h0M1619.8 902.1h0M1613.4 907.4h0M1615.5 900.9h0M1617.7 899.6h0M1606.6 898.1h0M1610.5 900.4h0M1616.3 898.4h0M1616.7 905.6h0M1608.6 902.9h0M1610.6 896.5h0M1604.2 907.7h0M1618.3 903h0M1618.5 900.1h0M1621.4 899h0M1601.5 908.4h0M1620.7 894.7h0M1616.7 901.6h0M1604.1 900.9h0M1603.3 901.9h0M1608.2 902.4h0M1607.9 898.1h0M1616.2 899.7h0M1618.4 911h0M1604.3 901.5h0M1612.5 894.7h0M1611.7 906.1h0M1605.3 900.3h0M1604.8 898.9h0M1616.8 904.6h0M1612.7 904.2h0M1618.5 901.1h0M1611.3 903.4h0M1615.3 903.9h0M1609.2 904.1h0M1603.6 902.9h0M1607 907.1h0M1613.9 901.9h0M1612.1 902.6h0M1610.7 902.7h0M1610.7 905.4h0M1611.4 901.9h0M1606.1 903.5h0M1605 904.5h0M1605.5 903.6h0M1619.2 899h0M1616.1 904.2h0M1600.9 902.5h0M1620.3 897h0M1611.6 903.2h0M1611.1 903.3h0M1619.8 903.5h0M1613.8 904.8h0M1619.3 895.4h0M1607.1 898.7h0M1619.2 903.8h0M1602.2 909.5h0M1618.2 917.9h0M1617.6 908.6h0M1611.6 904h0M1643.8 905.8h0M1655.8 902.9h0M1655.2 892.8h0M1656.7 901.2h0M1646.3 904.1h0M1647.9 889.5h0M1652.8 896.2h0M1640.8 905.8h0M1640.7 898.7h0M1655.8 903.3h0M1652.7 903.4h0M1642.5 889.5h0M1649.6 904.7h0M1640.1 908.6h0M1650.7 898.1h0M1653 912.7h0M1645.3 905.1h0M1654 900.8h0M1643.5 906.5h0M1648.5 904.7h0M1647.9 901.6h0M1641.3 903.3h0M1654.2 901h0M1655.2 905.5h0M1659.3 906.5h0M1651.5 896.5h0M1643.9 916h0M1658.6 892.7h0M1645.1 905.8h0M1652.2 897.5h0M1642.3 896.6h0M1659.3 909.7h0M1656.3 904.7h0M1640.7 910.5h0M1654.8 912.1h0M1652.6 909.6h0M1644.1 897.1h0M1651.3 900.8h0M1649.8 908.8h0M1650.8 899.4h0M1644.3 899.6h0M1642.4 906.6h0M1657.8 894.5h0M1641.1 895.8h0M1656.6 911.8h0M1659 893.3h0M1639.9 898.3h0M1643.7 903.7h0M1643.8 904.5h0M1648.4 903.5h0M1641.1 904.9h0M1645.4 906.6h0M1640.7 900.8h0M1655.3 901.8h0M1655.4 902.1h0M1656.2 904.7h0M1655.7 906.4h0M1640.2 907.6h0M1643.1 889.5h0M1657.7 899.1h0M1640.5 903.4h0M1652.1 905.3h0M1652.6 898h0M1643.4 896.3h0M1656.8 907.6h0M1651.7 902.8h0M1639.8 906.5h0M1657.1 911.3h0M1650.9 902.1h0M1648.8 910.6h0M1644.3 903.2h0M1649.3 910.9h0M1649.4 903.3h0M1656.8 902.9h0M1649.2 904.2h0M1650.7 907.5h0M1649.2 909.4h0M1652.9 906.7h0M1655 898.1h0M1652.8 908.4h0M1645.1 900h0M1645.9 900.2h0M1659.4 908.5h0M1653.9 903.2h0M1657.9 909.9h0M1641.8 896.6h0M1646.4 914h0M1656.9 914.6h0M1641.5 901.7h0M1655.4 908.5h0M1648.2 908.3h0M1653.8 900.6h0M1654.6 892.8h0M1642.2 911.8h0M1642.7 903.9h0M1645.6 902.9h0M1641.3 900.4h0M1652.2 897.3h0M1652.9 907.3h0M1645.4 901h0M1654.3 892h0M1656.9 901.7h0M1653.1 904.7h0M1641.6 898.9h0M1650 894.8h0M1639.6 905.3h0M1659.1 904.8h0M1641.5 897.2h0M1658.9 905.5h0M1654.2 904.8h0M1642.3 899.6h0M1643.6 912.8h0M1640.2 896h0M1642.4 901.6h0M1655.1 897.2h0M1644.5 891.3h0M1641.4 899.9h0M1646.5 904.1h0M1655.1 902.5h0M1649.9 906h0M1639.4 901.8h0M1640.6 908.7h0M1654.5 904.7h0M1642.7 910.6h0M1656.4 904.2h0M1653.3 899.3h0M1639.3 898h0M1648.3 895.4h0M1653.6 903.9h0M1652.9 893.1h0M1651.9 902.9h0M1653.1 901.7h0M1657.3 891.9h0M1646.1 902.8h0M1657.9 912.2h0M1652.1 904.5h0M1648.8 913.8h0M1639.2 904.5h0M1645.5 909.4h0M1646.8 905.3h0M1654.2 902.5h0M1657.1 898.3h0M1641.1 914.7h0M1649.3 900.3h0M1646.6 903.8h0M1642 914h0M1652.2 895.4h0M1645.8 905.5h0M1647 897.5h0M1657.2 898.3h0M1650.5 908.7h0M1654.3 912.2h0M1650.7 889.9h0M1651 889.5h0M1653.3 902.5h0M1653.7 901h0M1648.7 905.8h0M1654.6 907.5h0M1640.4 911.9h0M1654.8 913.7h0M1649.7 895h0M1640 902.7h0M1656.7 911.3h0M1640.1 899.1h0M1640.9 914.2h0M1657.2 904.1h0M1642.9 898.3h0M1641.5 905.5h0M1653.3 902.2h0M1658.2 897.2h0M1647.5 917.4h0M1652.3 908.8h0M1639 897.1h0M1641.3 903.4h0M1644.8 902.4h0M1649.5 906.2h0M1640.8 904.9h0M1652.7 903.7h0M1648.5 905.6h0M1646.3 901.9h0M1642.3 901.5h0M1640.1 903.4h0M1650.9 904.3h0M1655 922.3h0M1650.7 917.1h0M1658.6 909.7h0M1651.9 919.2h0M1648.9 913.5h0M1647.8 912.7h0M1642.6 915.7h0M1680.5 912.2h0M1689.3 895.3h0M1680 898.5h0M1683.7 902.9h0M1694.7 903.6h0M1678.2 905h0M1689.2 886h0M1694 909.1h0M1694.3 895.7h0M1677 906.4h0M1692.6 901.3h0M1679.4 914.2h0M1689 895.5h0M1690.7 898.8h0M1696.7 899.2h0M1681.6 894.6h0M1690.4 895.3h0M1685.6 920.9h0M1678.9 910.9h0M1677.9 899.3h0M1695.2 904.3h0M1683.9 898.8h0M1695.2 896.5h0M1695.1 910.3h0M1681.4 905.4h0M1688.2 911.5h0M1677.2 908.8h0M1689.7 890.3h0M1687.7 907.6h0M1696.9 896.7h0M1696.4 896.3h0M1696.4 903.7h0M1680.5 913.1h0M1692.9 905h0M1695.7 916.2h0M1689.4 902.3h0M1679.1 906.7h0M1685.9 912.4h0M1696.9 899h0M1684.3 901.6h0M1677.6 898.1h0M1689.1 897.4h0M1689.7 902.7h0M1695.7 898.2h0M1688.5 891.5h0M1686.5 902.4h0M1683.7 904.4h0M1687.3 902.9h0M1683.5 915.9h0M1694.1 886h0M1686.6 898.4h0M1686.8 916h0M1681 901.3h0M1676.6 906.6h0M1696.4 911.8h0M1695.9 903h0M1678.5 910.8h0M1692.1 898.5h0M1694.7 908h0M1677.2 904h0M1697.2 900.4h0M1679.2 895.4h0M1683.4 904.8h0M1695.8 890.1h0M1682.8 897.9h0M1694.1 902.8h0M1694.9 894.4h0M1696.8 896.6h0M1686.5 902.6h0M1680.9 905.7h0M1691.7 899.4h0M1688.4 899.5h0M1677.7 899.2h0M1695.8 898.9h0M1696.5 903.2h0M1696.8 912h0M1680.3 901.9h0M1689.5 897.8h0M1692.6 911h0M1687.4 908.6h0M1696.2 907.9h0M1677.4 893.1h0M1692 907.6h0M1685.4 903.1h0M1696.5 897.5h0M1688.5 913h0M1693.2 920.4h0M1683.4 915.1h0M1677.6 889.8h0M1695.7 893.1h0M1696.2 893.2h0M1689.1 908h0M1681 903.7h0M1678 913.6h0M1678.9 903.8h0M1688 911.7h0M1694.7 904h0M1689.3 897.6h0M1685.5 903.6h0M1685.8 917.4h0M1692.7 909.9h0M1694.9 900.5h0M1680.8 907h0M1676.5 892h0M1683.2 908.6h0M1697.2 915.5h0M1692.3 904.7h0M1694 910h0M1685.4 892.8h0M1682.1 890.6h0M1687.4 910.1h0M1682.5 897h0M1691.4 893.5h0M1690.9 899.5h0M1676.7 915.4h0M1679 894.4h0M1687.3 893.9h0M1681.1 902.3h0M1677.1 904.1h0M1696.5 903.5h0M1690.1 901.3h0M1687 905.3h0M1689.8 917.6h0M1696.1 906.9h0M1678.8 910.5h0M1693.6 918.8h0M1692.9 910.7h0M1696.6 888h0M1687.3 903.2h0M1692.7 911h0M1688.2 894.6h0M1691.4 900.1h0M1691.8 909.1h0M1684.3 894.8h0M1684.1 910.3h0M1687.4 918.4h0M1682 917.9h0M1682.3 902h0M1679.6 912h0M1696.9 896.6h0M1685 915.7h0M1676.9 903.7h0M1678.2 910.9h0M1696.9 896.9h0M1676.9 910.6h0M1681.5 907.8h0M1680 909.2h0M1686.5 894.1h0M1690.8 904.7h0M1687.2 893.7h0M1678.1 903.4h0M1690.1 914h0M1696 916.2h0M1683.7 902.1h0M1690 900.2h0M1676.4 907.9h0M1685.9 899.7h0M1686.8 910.8h0M1690.8 907.3h0M1689.5 899.5h0M1695.9 897.8h0M1682.2 901.4h0M1684.1 906.1h0M1696.2 893.9h0M1681 899.5h0M1679.9 903.9h0M1690.5 909.3h0M1694.9 901.3h0M1678.7 901.9h0M1682.8 902.7h0M1683.9 898.1h0M1691.6 897.4h0M1685.1 886h0M1689.8 907.7h0M1694.9 896.4h0M1694.9 895.8h0M1695.2 900.5h0M1691 899.9h0M1689.3 903.2h0M1676.8 906.3h0M1683.1 904.6h0M1676.4 916.9h0M1689.3 906.3h0M1684 920.9h0M1696.7 910h0M1684 891.3h0M1685.3 898.8h0M1685.6 886h0M1696.9 908h0M1686.2 892.1h0M1685.2 898.7h0M1693.2 909.5h0M1691.1 890.9h0M1693.7 905.8h0M1687.5 887h0M1684.5 912.6h0M1683.8 894.2h0M1676.3 903h0M1695.9 897h0M1676.6 903.7h0M1690.4 911.9h0M1690.4 893.2h0M1693.8 906.8h0M1692.3 903.2h0M1693.2 913.1h0M1686.7 902.1h0M1691.8 912.1h0M1691.8 902.1h0M1684.2 910.1h0M1690.5 892.1h0M1696.1 915.1h0M1692.6 892.1h0M1685.4 908.6h0M1689 898.7h0M1695.8 894.1h0M1677.7 901.4h0M1697.3 895.8h0M1691.5 909.7h0M1685.2 905.9h0M1678.8 915.9h0M1691.5 893.9h0M1680.9 915.7h0M1684 912.6h0M1686.6 903.4h0M1689.5 920.9h0M1696.8 897.8h0M1692.5 899.5h0M1684.3 906h0M1691.8 911.4h0M1682.6 909h0M1692.7 906.6h0M1686.7 910h0M1682.2 919.3h0M1676.4 920.9h0M1694.9 913.5h0M1690.4 907h0M1694.8 916.5h0M1696.6 916.4h0M1691.9 907h0M1685.3 915.8h0M1685.4 917.4h0M1686.2 906.7h0M1679.9 903.7h0M1693 912.8h0M1720.1 889.6h0M1726.3 887.2h0M1724.3 891h0M1718.1 893.2h0M1718.8 894.9h0M1719 896h0M1732.9 892.5h0M1732.5 888h0M1723.7 890.3h0M1718.3 895.1h0M1716 900.4h0M1722.4 888.9h0M1720.5 888.8h0M1724.4 884.1h0M1724.9 885.6h0M1730.9 889.4h0M1719.6 892.5h0M1719.4 897.7h0M1733.8 892.3h0M1729.3 892h0M1715.7 895h0M1725.8 891.2h0M1716.2 891h0M1728.5 893.3h0M1722.8 898.2h0M1734.8 890h0M1725.4 888.9h0M1726.4 893.8h0M1728.9 898.2h0M1731.3 889.1h0M1725.5 891.4h0M1726.4 886.6h0M1723.5 884.1h0M1717.5 890.6h0M1729.7 888.2h0M1729.7 895.3h0M1715.3 897.6h0M1721.1 897.4h0M1718.7 888.4h0M1714.7 886.5h0M1725.5 889.7h0M1723.7 889.5h0M1725.2 891.9h0M1719.4 891.2h0M1717.3 890.2h0M1722.5 890.6h0M1717.6 889.1h0M1729.6 887.5h0M1715.6 888.8h0M1734.4 893.8h0M1730 886.4h0M1724.3 888.4h0M1729.3 889.6h0M1733.2 892.7h0M1723.3 885.2h0M1724.9 895.9h0M1719.5 889.1h0M1714.8 894.4h0M1733.6 890.7h0M1720.6 889.2h0M1728.6 897.7h0M1723.2 882.8h0M1720.2 888.3h0M1734 889h0M1719.8 900.4h0M1715.1 886.3h0M1730.7 890.1h0M1726.6 892.2h0M1723.1 892.9h0M1734.8 884h0M1733.7 900.2h0M1722 894.7h0M1727.9 893.6h0M1714.6 897.2h0M1718.2 893.8h0M1716.1 897.5h0M1716.4 886.8h0M1731.9 889.3h0M1729.5 900.4h0M1723.1 884.7h0M1726.9 889.6h0M1732.2 887.5h0M1714.6 888.6h0M1728.1 893.5h0M1731 893.5h0M1731.2 896.6h0M1716.8 896.5h0M1734 896.5h0M1717.7 892.2h0M1727.6 892.8h0M1720 894.5h0M1724.3 882.6h0M1720.5 900.4h0M1732.9 891.5h0M1734 892.2h0M1732.7 896.4h0M1715 891.3h0M1718.8 896.3h0M1727.6 892.5h0M1721.4 892.9h0M1731.8 896.9h0M1729.8 886.5h0M1734.8 895.9h0M1733.6 889.7h0M1733.1 892.6h0M1715.1 892.3h0M1718.2 887h0M1729.9 887.4h0M1733.2 892.2h0M1735.1 893.5h0M1730.9 897.5h0M1724.1 900.4h0M1728.7 887.1h0M1715.9 899.6h0M1721.8 895.6h0M1717.6 886.9h0M1724.1 893.4h0M1716.2 890.7h0M1733.8 891.7h0M1716.4 894h0M1718.3 895.2h0M1727.3 895.5h0M1718 896.5h0M1724.1 893h0M1719.2 888.5h0M1721.1 896h0M1724.2 890.4h0M1724.9 892.2h0M1716.4 891.6h0M1731.8 891.2h0M1753.6 912.4h0M1769.3 908.6h0M1758.6 909.1h0M1753.6 915.5h0M1767.7 914.1h0M1762.6 899.5h0M1763.9 890.8h0M1752.9 930.4h0M1754.7 900.5h0M1770.8 899.3h0M1772.9 906.6h0M1760.5 908.5h0M1754.4 921h0M1759 913.7h0M1768.4 919.6h0M1766.9 926.9h0M1762.7 911.3h0M1757.6 923.3h0" stroke="#f4895a" stroke-width="5.7" stroke-linecap="round" fill="none"/>
<path d="M249.4 821.6h0M287.6 857.3h0M328.9 889.8h0M366 865.5h0M405.6 859.1h0M399.5 858.6h0M400.8 885.2h0M471.9 857.2h0M473.7 844.3h0M480.2 842.6h0M480.5 853.1h0M477.7 850h0M481.9 848.4h0M472.5 846.3h0M485.1 825.1h0M483.5 830.3h0M472.4 824.6h0M481.1 806.3h0M481.1 822.2h0M550 885.2h0M584.7 866.7h0M597.8 865h0M598 859.2h0M597.1 865.8h0M589.2 841h0M597.9 827.5h0M592.5 834.6h0M587.3 827.8h0M589.7 831.4h0M583.7 838.8h0M582.2 829.8h0M662.2 871.9h0M674.1 873.2h0M673.9 876.2h0M665.7 851.9h0M700.5 867h0M701.7 845.1h0M709.5 849.3h0M739.3 883.5h0M748.2 878.7h0M744.8 853h0M749.5 863.8h0M738.6 862h0M741.4 852.1h0M820.3 853.5h0M817.4 855.1h0M814.7 853.8h0M816.9 833.7h0M860.1 869.6h0M862.8 865.7h0M853.2 885.9h0M857.6 865.5h0M852 872h0M860.9 866.6h0M845.9 874.9h0M846.2 885.3h0M860.5 876.9h0M856.7 838.7h0M851.9 845.7h0M852.2 827.5h0M857 843.5h0M847.4 844.1h0M858.5 839.1h0M857.8 828.6h0M848 832.2h0M892.6 874.6h0M896.1 852.5h0M892.6 810h0M934.7 897.7h0M925 880.1h0M923.4 883.1h0M927.6 895.1h0M926.1 890.4h0M939.3 897.3h0M936.9 893.6h0M924.6 884.6h0M927.6 896.4h0M929 883h0M937 852.2h0M921.7 845.3h0M932.4 840.4h0M938.6 861.2h0M936.8 843.3h0M926.3 859.8h0M928.2 860.3h0M928.3 869.1h0M925.6 840h0M928.9 850h0M937.5 845.6h0M925.9 839.6h0M936 837.1h0M934.6 845.6h0M934.6 818.5h0M976 884.7h0M962.8 880h0M974.8 885.5h0M961 878.1h0M971.8 824.6h0M1013.8 861.1h0M1009.3 866.2h0M997.2 878.3h0M1004.8 861.5h0M1002.8 819.9h0M997.3 823.6h0M1013.4 819.4h0M1012 833.4h0M1041.1 867h0M1047 833.6h0M1035.7 829.4h0M1050.7 821.6h0M1076.3 852.8h0M1084.4 846.5h0M1077.4 847.1h0M1075.2 847.5h0M1075.8 848.7h0M1078.4 848.2h0M1075.2 849.1h0M1083.9 853.3h0M1078.3 846.7h0M1082.6 847.4h0M1086.8 848h0M1076.8 849.5h0M1087.7 870.6h0M1086.3 873.7h0M1080.8 864.5h0M1086 888.3h0M1117.6 851.9h0M1124.4 827.2h0M1120.3 829.3h0M1124.6 828.8h0M1122.8 873.1h0M1166.2 886.1h0M1153 888.1h0M1159.4 897.3h0M1197 881.1h0M1204 882.8h0M1187 881h0M1198.2 890.2h0M1233.3 826.1h0M1271.9 821.8h0M1267.8 826h0M1277.8 820.2h0M1263.6 816.4h0M1277.8 827.2h0M1274.4 886.8h0M1271.5 883.2h0M1304.6 857.8h0M1302.5 872h0M1307.5 854.4h0M1302.6 873.9h0M1302 873.3h0M1305.6 834.4h0M1313.3 834.2h0M1308.2 834.4h0M1349.9 815.8h0M1353 814.7h0M1347.5 815.9h0M1425.7 825.8h0M1426.9 828.6h0M1420.5 822.4h0M1425.7 820.2h0M1418.7 820.8h0M1426.4 825h0M1467.8 818.2h0M1457.3 821.4h0M1459.4 817.5h0M1456.5 820.8h0M1459.6 821h0M1454 818.2h0M1457.2 817.8h0M1460.5 818.6h0M1453.3 821.4h0M1461 814.2h0M1456 864.9h0M1456.7 862.5h0M1459.8 862.2h0M1501.4 876.1h0M1535.8 842.2h0M1533 842.3h0M1535.6 805.5h0M1540.3 813.6h0M1531.5 805.8h0M1527.5 807h0M1579.8 878.4h0M1579.4 870.5h0M1568.3 871.8h0M1565.7 868.6h0M1568.3 866.4h0M1567.5 830h0M1575.5 829.4h0M1581.5 840.8h0M1576.7 838h0M1616.6 855h0M1619.4 864h0M1615.4 861.9h0M1609.4 865.6h0M1611.3 871.6h0M1606.9 830.4h0M1617.4 833.1h0M1614.6 836.5h0M1612.5 806.4h0M1602.3 810.4h0M1619.6 814.8h0M1657.8 855.5h0M1649.1 848h0M1654.6 848.4h0M1689.4 868h0M1691.6 852.3h0M1684.7 862.5h0M1681.7 869.3h0M1693.1 858.6h0M1685.9 858.7h0M1681.1 876h0M1684.2 860.4h0M1681.1 861.4h0M1683.7 869h0M1691.1 866.3h0M1691.2 855.7h0M1684.6 875.3h0M1693 861.1h0M1688.2 857.4h0M1687.7 851.4h0M1678 849.7h0M1688.9 865h0M1694.1 851.7h0M1688.5 875.9h0M1689 864.9h0M1688.1 853.5h0M1680.2 853.1h0M1683.4 869.3h0M1678.5 873.2h0M1682.6 861.7h0M1694.7 871.5h0M1683 866h0M1689.3 866.5h0M1689.9 872h0M1678.6 860.3h0M1690.8 872.5h0M1678.7 857.9h0M1679 850.9h0M1690.2 871.8h0M1685.2 874.6h0M1679.4 866.5h0M1693.6 851.3h0M1691.4 858.7h0M1688.3 862.2h0M1689.6 862.6h0M1685 853.3h0M1683.2 865.1h0M1690 849.8h0M1684 864.3h0M1685 828.1h0M1684.2 821.1h0M1725.2 870.1h0M1764.5 853.5h0M1753.9 858.6h0M1761.7 861.3h0M1768.6 868.5h0M1764.2 864.8h0M1767 858.2h0M1760.9 867.5h0M1767.2 858.4h0M1763.6 857.6h0M1770.5 866h0M1765.9 856.6h0M1758.2 855h0M1759.1 854.1h0M1763.9 853.9h0M1769.4 857h0M1760.1 862.4h0M1764 856.7h0M1760.9 855.1h0M1757.3 861.4h0M1756.1 867.2h0M1758.7 869.3h0M1763.7 859.7h0M1760.6 856.8h0M1763.3 858.7h0M1755 864.6h0M1753.8 867.4h0M1768.7 867.8h0M1764.2 863.8h0M1765.5 855.5h0M1768.4 854h0M1770.8 863.4h0M1771.2 857.4h0M1758.4 864.6h0M1762.9 856h0M1755.2 855.2h0M1765.5 860.2h0M1760.8 863.7h0M1760.7 858.1h0M1761.4 858.2h0M1769.2 868.6h0M1753.8 854.4h0M1756.9 856.5h0M1760.7 866.3h0M1753.7 862.9h0M1764.2 869.2h0M1753.6 865.3h0M1769.3 857.6h0M1758.1 863.4h0M1760.9 858.3h0M1758.6 864.2h0M1762.5 866.1h0M1761.2 857.6h0M1762.5 869.1h0M1759.7 860.6h0M1757.6 863.6h0M1763.5 864h0M1756.7 855.5h0M1754.6 855h0M1755.1 860.8h0M1763.3 863.3h0M1764.7 879.9h0M1759.2 884.9h0" stroke="#ae1e23" stroke-width="5.7" stroke-linecap="round" fill="none"/>
<line x1="234.8" y1="1083.7" x2="264.8" y2="1083.7" stroke="#1a1a1a" stroke-width="1.2"/>
<rect x="272.5" y="1084.3" width="30.2" height="-0.1" fill="#e6e6e5" stroke="#000" stroke-width="2.3"/>
<rect x="310.3" y="1084.3" width="30.2" height="-0.1" fill="#e6e6e5" stroke="#000" stroke-width="2.3"/>
<rect x="348.1" y="1084" width="30.2" height="0.2" fill="#e6e6e5" stroke="#000" stroke-width="2.3"/>
<rect x="386" y="1083.4" width="30.2" height="0.8" fill="#e6e6e5" stroke="#000" stroke-width="2.3"/>
<rect x="423.8" y="1083.1" width="30.2" height="1.1" fill="#e6e6e5" stroke="#000" stroke-width="2.3"/>
<rect x="461.6" y="1082.6" width="30.2" height="1.6" fill="#e6e6e5" stroke="#000" stroke-width="2.3"/>
<rect x="499.4" y="1082.6" width="30.2" height="1.6" fill="#e6e6e5" stroke="#000" stroke-width="2.3"/>
<rect x="537.2" y="1082.3" width="30.2" height="1.9" fill="#e6e6e5" stroke="#000" stroke-width="2.3"/>
<rect x="575" y="1080.9" width="30.2" height="3.3" fill="#e6e6e5" stroke="#000" stroke-width="2.3"/>
<rect x="612.9" y="1080.3" width="30.2" height="3.9" fill="#e6e6e5" stroke="#000" stroke-width="2.3"/>
<rect x="650.7" y="1079.2" width="30.2" height="5" fill="#e6e6e5" stroke="#000" stroke-width="2.3"/>
<rect x="688.5" y="1078.9" width="30.2" height="5.3" fill="#e6e6e5" stroke="#000" stroke-width="2.3"/>
<rect x="726.3" y="1076.1" width="30.2" height="8.1" fill="#e6e6e5" stroke="#000" stroke-width="2.3"/>
<rect x="764.1" y="1048.2" width="30.2" height="36" fill="#e6e6e5" stroke="#000" stroke-width="2.3"/>
<rect x="801.9" y="1042.8" width="30.2" height="41.4" fill="#e6e6e5" stroke="#000" stroke-width="2.3"/>
<rect x="839.8" y="1021.4" width="30.2" height="62.8" fill="#e6e6e5" stroke="#000" stroke-width="2.3"/>
<rect x="877.6" y="1020.3" width="30.2" height="63.9" fill="#e6e6e5" stroke="#000" stroke-width="2.3"/>
<rect x="915.4" y="1019.7" width="30.2" height="64.5" fill="#e6e6e5" stroke="#000" stroke-width="2.3"/>
<rect x="953.2" y="1019.7" width="30.2" height="64.5" fill="#e6e6e5" stroke="#000" stroke-width="2.3"/>
<rect x="991" y="1019.5" width="30.2" height="64.7" fill="#e6e6e5" stroke="#000" stroke-width="2.3"/>
<rect x="1028.8" y="1019.5" width="30.2" height="64.7" fill="#e6e6e5" stroke="#000" stroke-width="2.3"/>
<rect x="1066.7" y="1019.5" width="30.2" height="64.7" fill="#e6e6e5" stroke="#000" stroke-width="2.3"/>
<rect x="1104.5" y="1019.5" width="30.2" height="64.7" fill="#e6e6e5" stroke="#000" stroke-width="2.3"/>
<rect x="1142.3" y="1019.5" width="30.2" height="64.7" fill="#e6e6e5" stroke="#000" stroke-width="2.3"/>
<rect x="1180.1" y="1019.5" width="30.2" height="64.7" fill="#e6e6e5" stroke="#000" stroke-width="2.3"/>
<rect x="1217.9" y="1019.5" width="30.2" height="64.7" fill="#e6e6e5" stroke="#000" stroke-width="2.3"/>
<rect x="1255.7" y="1019.5" width="30.2" height="64.7" fill="#e6e6e5" stroke="#000" stroke-width="2.3"/>
<rect x="1293.5" y="1019.5" width="30.2" height="64.7" fill="#e6e6e5" stroke="#000" stroke-width="2.3"/>
<rect x="1331.4" y="1019.5" width="30.2" height="64.7" fill="#e6e6e5" stroke="#000" stroke-width="2.3"/>
<rect x="1369.2" y="1019.5" width="30.2" height="64.7" fill="#e6e6e5" stroke="#000" stroke-width="2.3"/>
<rect x="1407" y="1019.5" width="30.2" height="64.7" fill="#e6e6e5" stroke="#000" stroke-width="2.3"/>
<rect x="1444.8" y="1019.5" width="30.2" height="64.7" fill="#e6e6e5" stroke="#000" stroke-width="2.3"/>
<rect x="1482.6" y="1019.5" width="30.2" height="64.7" fill="#e6e6e5" stroke="#000" stroke-width="2.3"/>
<rect x="1520.4" y="1019.5" width="30.2" height="64.7" fill="#e6e6e5" stroke="#000" stroke-width="2.3"/>
<rect x="1558.3" y="1019.5" width="30.2" height="64.7" fill="#e6e6e5" stroke="#000" stroke-width="2.3"/>
<rect x="1596.1" y="1019.5" width="30.2" height="64.7" fill="#e6e6e5" stroke="#000" stroke-width="2.3"/>
<rect x="1633.9" y="1019.5" width="30.2" height="64.7" fill="#e6e6e5" stroke="#000" stroke-width="2.3"/>
<rect x="1671.7" y="1019.5" width="30.2" height="64.7" fill="#e6e6e5" stroke="#000" stroke-width="2.3"/>
<rect x="1709.5" y="1019.5" width="30.2" height="64.7" fill="#e6e6e5" stroke="#000" stroke-width="2.3"/>
<rect x="1747.3" y="1019.5" width="30.2" height="64.7" fill="#e6e6e5" stroke="#000" stroke-width="2.3"/>
<rect x="234.7" y="1105.4" width="30.2" height="63.6" fill="#e6e6e5" stroke="#000" stroke-width="2.3"/>
<rect x="272.5" y="1103.1" width="30.2" height="65.9" fill="#e6e6e5" stroke="#000" stroke-width="2.3"/>
<rect x="310.3" y="1118.9" width="30.2" height="50.1" fill="#e6e6e5" stroke="#000" stroke-width="2.3"/>
<rect x="348.1" y="1136.7" width="30.2" height="32.3" fill="#e6e6e5" stroke="#000" stroke-width="2.3"/>
<rect x="386" y="1128.5" width="30.2" height="40.5" fill="#e6e6e5" stroke="#000" stroke-width="2.3"/>
<rect x="423.8" y="1126.2" width="30.2" height="42.8" fill="#e6e6e5" stroke="#000" stroke-width="2.3"/>
<rect x="461.6" y="1105.4" width="30.2" height="63.6" fill="#e6e6e5" stroke="#000" stroke-width="2.3"/>
<rect x="499.4" y="1119.8" width="30.2" height="49.2" fill="#e6e6e5" stroke="#000" stroke-width="2.3"/>
<rect x="537.2" y="1113" width="30.2" height="56" fill="#e6e6e5" stroke="#000" stroke-width="2.3"/>
<rect x="575" y="1107.6" width="30.2" height="61.4" fill="#e6e6e5" stroke="#000" stroke-width="2.3"/>
<rect x="612.9" y="1114.7" width="30.2" height="54.3" fill="#e6e6e5" stroke="#000" stroke-width="2.3"/>
<rect x="650.7" y="1118.9" width="30.2" height="50.1" fill="#e6e6e5" stroke="#000" stroke-width="2.3"/>
<rect x="688.5" y="1139.8" width="30.2" height="29.2" fill="#e6e6e5" stroke="#000" stroke-width="2.3"/>
<rect x="726.3" y="1108.8" width="30.2" height="60.2" fill="#e6e6e5" stroke="#000" stroke-width="2.3"/>
<rect x="764.1" y="1154.7" width="30.2" height="14.3" fill="#e6e6e5" stroke="#000" stroke-width="2.3"/>
<rect x="801.9" y="1120" width="30.2" height="49" fill="#e6e6e5" stroke="#000" stroke-width="2.3"/>
<rect x="839.8" y="1114.7" width="30.2" height="54.3" fill="#e6e6e5" stroke="#000" stroke-width="2.3"/>
<rect x="877.6" y="1149.3" width="30.2" height="19.7" fill="#e6e6e5" stroke="#000" stroke-width="2.3"/>
<rect x="915.4" y="1105.4" width="30.2" height="63.6" fill="#e6e6e5" stroke="#000" stroke-width="2.3"/>
<rect x="953.2" y="1126.2" width="30.2" height="42.8" fill="#e6e6e5" stroke="#000" stroke-width="2.3"/>
<rect x="991" y="1123.7" width="30.2" height="45.3" fill="#e6e6e5" stroke="#000" stroke-width="2.3"/>
<rect x="1028.8" y="1106.8" width="30.2" height="62.2" fill="#e6e6e5" stroke="#000" stroke-width="2.3"/>
<rect x="1066.7" y="1113" width="30.2" height="56" fill="#e6e6e5" stroke="#000" stroke-width="2.3"/>
<rect x="1104.5" y="1128.2" width="30.2" height="40.8" fill="#e6e6e5" stroke="#000" stroke-width="2.3"/>
<rect x="1142.3" y="1121.4" width="30.2" height="47.6" fill="#e6e6e5" stroke="#000" stroke-width="2.3"/>
<rect x="1180.1" y="1122.3" width="30.2" height="46.7" fill="#e6e6e5" stroke="#000" stroke-width="2.3"/>
<rect x="1217.9" y="1127.1" width="30.2" height="41.9" fill="#e6e6e5" stroke="#000" stroke-width="2.3"/>
<rect x="1255.7" y="1121.4" width="30.2" height="47.6" fill="#e6e6e5" stroke="#000" stroke-width="2.3"/>
<rect x="1293.5" y="1112.7" width="30.2" height="56.3" fill="#e6e6e5" stroke="#000" stroke-width="2.3"/>
<rect x="1331.4" y="1132.2" width="30.2" height="36.8" fill="#e6e6e5" stroke="#000" stroke-width="2.3"/>
<rect x="1369.2" y="1138.6" width="30.2" height="30.4" fill="#e6e6e5" stroke="#000" stroke-width="2.3"/>
<rect x="1407" y="1124.8" width="30.2" height="44.2" fill="#e6e6e5" stroke="#000" stroke-width="2.3"/>
<rect x="1444.8" y="1112.2" width="30.2" height="56.8" fill="#e6e6e5" stroke="#000" stroke-width="2.3"/>
<rect x="1482.6" y="1127.9" width="30.2" height="41.1" fill="#e6e6e5" stroke="#000" stroke-width="2.3"/>
<rect x="1520.4" y="1131.9" width="30.2" height="37.1" fill="#e6e6e5" stroke="#000" stroke-width="2.3"/>
<rect x="1558.3" y="1119.5" width="30.2" height="49.5" fill="#e6e6e5" stroke="#000" stroke-width="2.3"/>
<rect x="1596.1" y="1114.1" width="30.2" height="54.9" fill="#e6e6e5" stroke="#000" stroke-width="2.3"/>
<rect x="1633.9" y="1117.2" width="30.2" height="51.8" fill="#e6e6e5" stroke="#000" stroke-width="2.3"/>
<rect x="1671.7" y="1113" width="30.2" height="56" fill="#e6e6e5" stroke="#000" stroke-width="2.3"/>
<rect x="1709.5" y="1126.5" width="30.2" height="42.5" fill="#e6e6e5" stroke="#000" stroke-width="2.3"/>
<rect x="1747.3" y="1143.4" width="30.2" height="25.6" fill="#e6e6e5" stroke="#000" stroke-width="2.3"/>
<rect x="234.7" y="1240.4" width="30.2" height="12.3" fill="#e6e6e5" stroke="#000" stroke-width="2.3"/>
<rect x="272.5" y="1227.7" width="30.2" height="25" fill="#e6e6e5" stroke="#000" stroke-width="2.3"/>
<rect x="310.3" y="1225.7" width="30.2" height="27" fill="#e6e6e5" stroke="#000" stroke-width="2.3"/>
<rect x="348.1" y="1225.1" width="30.2" height="27.6" fill="#e6e6e5" stroke="#000" stroke-width="2.3"/>
<rect x="386" y="1221.8" width="30.2" height="30.9" fill="#e6e6e5" stroke="#000" stroke-width="2.3"/>
<rect x="423.8" y="1218.7" width="30.2" height="34" fill="#e6e6e5" stroke="#000" stroke-width="2.3"/>
<rect x="461.6" y="1217.5" width="30.2" height="35.2" fill="#e6e6e5" stroke="#000" stroke-width="2.3"/>
<rect x="499.4" y="1217" width="30.2" height="35.7" fill="#e6e6e5" stroke="#000" stroke-width="2.3"/>
<rect x="537.2" y="1216.7" width="30.2" height="36" fill="#e6e6e5" stroke="#000" stroke-width="2.3"/>
<rect x="575" y="1211.3" width="30.2" height="41.4" fill="#e6e6e5" stroke="#000" stroke-width="2.3"/>
<rect x="612.9" y="1210.5" width="30.2" height="42.2" fill="#e6e6e5" stroke="#000" stroke-width="2.3"/>
<rect x="650.7" y="1208.5" width="30.2" height="44.2" fill="#e6e6e5" stroke="#000" stroke-width="2.3"/>
<rect x="688.5" y="1208" width="30.2" height="44.7" fill="#e6e6e5" stroke="#000" stroke-width="2.3"/>
<rect x="726.3" y="1203.7" width="30.2" height="49" fill="#e6e6e5" stroke="#000" stroke-width="2.3"/>
<rect x="764.1" y="1189.1" width="30.2" height="63.6" fill="#e6e6e5" stroke="#000" stroke-width="2.3"/>
<rect x="801.9" y="1187.4" width="30.2" height="65.3" fill="#e6e6e5" stroke="#000" stroke-width="2.3"/>
<rect x="839.8" y="1223.2" width="30.2" height="29.5" fill="#e6e6e5" stroke="#000" stroke-width="2.3"/>
<rect x="877.6" y="1214.2" width="30.2" height="38.5" fill="#e6e6e5" stroke="#000" stroke-width="2.3"/>
<rect x="915.4" y="1225.4" width="30.2" height="27.3" fill="#e6e6e5" stroke="#000" stroke-width="2.3"/>
<rect x="953.2" y="1224.9" width="30.2" height="27.8" fill="#e6e6e5" stroke="#000" stroke-width="2.3"/>
<rect x="991" y="1220.6" width="30.2" height="32.1" fill="#e6e6e5" stroke="#000" stroke-width="2.3"/>
<rect x="1028.8" y="1238.7" width="30.2" height="14" fill="#e6e6e5" stroke="#000" stroke-width="2.3"/>
<rect x="1066.7" y="1224" width="30.2" height="28.7" fill="#e6e6e5" stroke="#000" stroke-width="2.3"/>
<rect x="1104.5" y="1222.1" width="30.2" height="30.6" fill="#e6e6e5" stroke="#000" stroke-width="2.3"/>
<line x1="1142.4" y1="1252.2" x2="1172.4" y2="1252.2" stroke="#1a1a1a" stroke-width="1.2"/>
<rect x="1180.1" y="1233.3" width="30.2" height="19.4" fill="#e6e6e5" stroke="#000" stroke-width="2.3"/>
<rect x="1217.9" y="1241.5" width="30.2" height="11.2" fill="#e6e6e5" stroke="#000" stroke-width="2.3"/>
<rect x="1255.7" y="1225.4" width="30.2" height="27.3" fill="#e6e6e5" stroke="#000" stroke-width="2.3"/>
<rect x="1293.5" y="1234.7" width="30.2" height="18" fill="#e6e6e5" stroke="#000" stroke-width="2.3"/>
<rect x="1331.4" y="1228.8" width="30.2" height="23.9" fill="#e6e6e5" stroke="#000" stroke-width="2.3"/>
<line x1="1369.3" y1="1252.2" x2="1399.3" y2="1252.2" stroke="#1a1a1a" stroke-width="1.2"/>
<rect x="1407" y="1226.3" width="30.2" height="26.4" fill="#e6e6e5" stroke="#000" stroke-width="2.3"/>
<rect x="1444.8" y="1226" width="30.2" height="26.7" fill="#e6e6e5" stroke="#000" stroke-width="2.3"/>
<rect x="1482.6" y="1241.2" width="30.2" height="11.5" fill="#e6e6e5" stroke="#000" stroke-width="2.3"/>
<rect x="1520.4" y="1217.3" width="30.2" height="35.4" fill="#e6e6e5" stroke="#000" stroke-width="2.3"/>
<rect x="1558.3" y="1227.7" width="30.2" height="25" fill="#e6e6e5" stroke="#000" stroke-width="2.3"/>
<rect x="1596.1" y="1228" width="30.2" height="24.7" fill="#e6e6e5" stroke="#000" stroke-width="2.3"/>
<rect x="1633.9" y="1236.7" width="30.2" height="16" fill="#e6e6e5" stroke="#000" stroke-width="2.3"/>
<rect x="1671.7" y="1212.5" width="30.2" height="40.2" fill="#e6e6e5" stroke="#000" stroke-width="2.3"/>
<rect x="1709.5" y="1242.1" width="30.2" height="10.6" fill="#e6e6e5" stroke="#000" stroke-width="2.3"/>
<line x1="1747.4" y1="1252.2" x2="1777.4" y2="1252.2" stroke="#1a1a1a" stroke-width="1.2"/>
<line x1="229.8" y1="1084.2" x2="1782" y2="1084.2" stroke="#1a1a1a" stroke-width="2"/>
<line x1="230.6" y1="1014.6" x2="230.6" y2="1084.2" stroke="#1a1a1a" stroke-width="2"/>
<line x1="249.8" y1="1084.2" x2="249.8" y2="1094.2" stroke="#1a1a1a" stroke-width="1.5"/>
<line x1="287.6" y1="1084.2" x2="287.6" y2="1094.2" stroke="#1a1a1a" stroke-width="1.5"/>
<line x1="325.4" y1="1084.2" x2="325.4" y2="1094.2" stroke="#1a1a1a" stroke-width="1.5"/>
<line x1="363.2" y1="1084.2" x2="363.2" y2="1094.2" stroke="#1a1a1a" stroke-width="1.5"/>
<line x1="401.1" y1="1084.2" x2="401.1" y2="1094.2" stroke="#1a1a1a" stroke-width="1.5"/>
<line x1="438.9" y1="1084.2" x2="438.9" y2="1094.2" stroke="#1a1a1a" stroke-width="1.5"/>
<line x1="476.7" y1="1084.2" x2="476.7" y2="1094.2" stroke="#1a1a1a" stroke-width="1.5"/>
<line x1="514.5" y1="1084.2" x2="514.5" y2="1094.2" stroke="#1a1a1a" stroke-width="1.5"/>
<line x1="552.3" y1="1084.2" x2="552.3" y2="1094.2" stroke="#1a1a1a" stroke-width="1.5"/>
<line x1="590.1" y1="1084.2" x2="590.1" y2="1094.2" stroke="#1a1a1a" stroke-width="1.5"/>
<line x1="628" y1="1084.2" x2="628" y2="1094.2" stroke="#1a1a1a" stroke-width="1.5"/>
<line x1="665.8" y1="1084.2" x2="665.8" y2="1094.2" stroke="#1a1a1a" stroke-width="1.5"/>
<line x1="703.6" y1="1084.2" x2="703.6" y2="1094.2" stroke="#1a1a1a" stroke-width="1.5"/>
<line x1="741.4" y1="1084.2" x2="741.4" y2="1094.2" stroke="#1a1a1a" stroke-width="1.5"/>
<line x1="779.2" y1="1084.2" x2="779.2" y2="1094.2" stroke="#1a1a1a" stroke-width="1.5"/>
<line x1="817" y1="1084.2" x2="817" y2="1094.2" stroke="#1a1a1a" stroke-width="1.5"/>
<line x1="854.9" y1="1084.2" x2="854.9" y2="1094.2" stroke="#1a1a1a" stroke-width="1.5"/>
<line x1="892.7" y1="1084.2" x2="892.7" y2="1094.2" stroke="#1a1a1a" stroke-width="1.5"/>
<line x1="930.5" y1="1084.2" x2="930.5" y2="1094.2" stroke="#1a1a1a" stroke-width="1.5"/>
<line x1="968.3" y1="1084.2" x2="968.3" y2="1094.2" stroke="#1a1a1a" stroke-width="1.5"/>
<line x1="1006.1" y1="1084.2" x2="1006.1" y2="1094.2" stroke="#1a1a1a" stroke-width="1.5"/>
<line x1="1043.9" y1="1084.2" x2="1043.9" y2="1094.2" stroke="#1a1a1a" stroke-width="1.5"/>
<line x1="1081.8" y1="1084.2" x2="1081.8" y2="1094.2" stroke="#1a1a1a" stroke-width="1.5"/>
<line x1="1119.6" y1="1084.2" x2="1119.6" y2="1094.2" stroke="#1a1a1a" stroke-width="1.5"/>
<line x1="1157.4" y1="1084.2" x2="1157.4" y2="1094.2" stroke="#1a1a1a" stroke-width="1.5"/>
<line x1="1195.2" y1="1084.2" x2="1195.2" y2="1094.2" stroke="#1a1a1a" stroke-width="1.5"/>
<line x1="1233" y1="1084.2" x2="1233" y2="1094.2" stroke="#1a1a1a" stroke-width="1.5"/>
<line x1="1270.8" y1="1084.2" x2="1270.8" y2="1094.2" stroke="#1a1a1a" stroke-width="1.5"/>
<line x1="1308.6" y1="1084.2" x2="1308.6" y2="1094.2" stroke="#1a1a1a" stroke-width="1.5"/>
<line x1="1346.5" y1="1084.2" x2="1346.5" y2="1094.2" stroke="#1a1a1a" stroke-width="1.5"/>
<line x1="1384.3" y1="1084.2" x2="1384.3" y2="1094.2" stroke="#1a1a1a" stroke-width="1.5"/>
<line x1="1422.1" y1="1084.2" x2="1422.1" y2="1094.2" stroke="#1a1a1a" stroke-width="1.5"/>
<line x1="1459.9" y1="1084.2" x2="1459.9" y2="1094.2" stroke="#1a1a1a" stroke-width="1.5"/>
<line x1="1497.7" y1="1084.2" x2="1497.7" y2="1094.2" stroke="#1a1a1a" stroke-width="1.5"/>
<line x1="1535.5" y1="1084.2" x2="1535.5" y2="1094.2" stroke="#1a1a1a" stroke-width="1.5"/>
<line x1="1573.4" y1="1084.2" x2="1573.4" y2="1094.2" stroke="#1a1a1a" stroke-width="1.5"/>
<line x1="1611.2" y1="1084.2" x2="1611.2" y2="1094.2" stroke="#1a1a1a" stroke-width="1.5"/>
<line x1="1649" y1="1084.2" x2="1649" y2="1094.2" stroke="#1a1a1a" stroke-width="1.5"/>
<line x1="1686.8" y1="1084.2" x2="1686.8" y2="1094.2" stroke="#1a1a1a" stroke-width="1.5"/>
<line x1="1724.6" y1="1084.2" x2="1724.6" y2="1094.2" stroke="#1a1a1a" stroke-width="1.5"/>
<line x1="1762.4" y1="1084.2" x2="1762.4" y2="1094.2" stroke="#1a1a1a" stroke-width="1.5"/>
<line x1="229.8" y1="1169" x2="1782" y2="1169" stroke="#1a1a1a" stroke-width="2"/>
<line x1="230.6" y1="1099.2" x2="230.6" y2="1169" stroke="#1a1a1a" stroke-width="2"/>
<line x1="249.8" y1="1169" x2="249.8" y2="1179" stroke="#1a1a1a" stroke-width="1.5"/>
<line x1="287.6" y1="1169" x2="287.6" y2="1179" stroke="#1a1a1a" stroke-width="1.5"/>
<line x1="325.4" y1="1169" x2="325.4" y2="1179" stroke="#1a1a1a" stroke-width="1.5"/>
<line x1="363.2" y1="1169" x2="363.2" y2="1179" stroke="#1a1a1a" stroke-width="1.5"/>
<line x1="401.1" y1="1169" x2="401.1" y2="1179" stroke="#1a1a1a" stroke-width="1.5"/>
<line x1="438.9" y1="1169" x2="438.9" y2="1179" stroke="#1a1a1a" stroke-width="1.5"/>
<line x1="476.7" y1="1169" x2="476.7" y2="1179" stroke="#1a1a1a" stroke-width="1.5"/>
<line x1="514.5" y1="1169" x2="514.5" y2="1179" stroke="#1a1a1a" stroke-width="1.5"/>
<line x1="552.3" y1="1169" x2="552.3" y2="1179" stroke="#1a1a1a" stroke-width="1.5"/>
<line x1="590.1" y1="1169" x2="590.1" y2="1179" stroke="#1a1a1a" stroke-width="1.5"/>
<line x1="628" y1="1169" x2="628" y2="1179" stroke="#1a1a1a" stroke-width="1.5"/>
<line x1="665.8" y1="1169" x2="665.8" y2="1179" stroke="#1a1a1a" stroke-width="1.5"/>
<line x1="703.6" y1="1169" x2="703.6" y2="1179" stroke="#1a1a1a" stroke-width="1.5"/>
<line x1="741.4" y1="1169" x2="741.4" y2="1179" stroke="#1a1a1a" stroke-width="1.5"/>
<line x1="779.2" y1="1169" x2="779.2" y2="1179" stroke="#1a1a1a" stroke-width="1.5"/>
<line x1="817" y1="1169" x2="817" y2="1179" stroke="#1a1a1a" stroke-width="1.5"/>
<line x1="854.9" y1="1169" x2="854.9" y2="1179" stroke="#1a1a1a" stroke-width="1.5"/>
<line x1="892.7" y1="1169" x2="892.7" y2="1179" stroke="#1a1a1a" stroke-width="1.5"/>
<line x1="930.5" y1="1169" x2="930.5" y2="1179" stroke="#1a1a1a" stroke-width="1.5"/>
<line x1="968.3" y1="1169" x2="968.3" y2="1179" stroke="#1a1a1a" stroke-width="1.5"/>
<line x1="1006.1" y1="1169" x2="1006.1" y2="1179" stroke="#1a1a1a" stroke-width="1.5"/>
<line x1="1043.9" y1="1169" x2="1043.9" y2="1179" stroke="#1a1a1a" stroke-width="1.5"/>
<line x1="1081.8" y1="1169" x2="1081.8" y2="1179" stroke="#1a1a1a" stroke-width="1.5"/>
<line x1="1119.6" y1="1169" x2="1119.6" y2="1179" stroke="#1a1a1a" stroke-width="1.5"/>
<line x1="1157.4" y1="1169" x2="1157.4" y2="1179" stroke="#1a1a1a" stroke-width="1.5"/>
<line x1="1195.2" y1="1169" x2="1195.2" y2="1179" stroke="#1a1a1a" stroke-width="1.5"/>
<line x1="1233" y1="1169" x2="1233" y2="1179" stroke="#1a1a1a" stroke-width="1.5"/>
<line x1="1270.8" y1="1169" x2="1270.8" y2="1179" stroke="#1a1a1a" stroke-width="1.5"/>
<line x1="1308.6" y1="1169" x2="1308.6" y2="1179" stroke="#1a1a1a" stroke-width="1.5"/>
<line x1="1346.5" y1="1169" x2="1346.5" y2="1179" stroke="#1a1a1a" stroke-width="1.5"/>
<line x1="1384.3" y1="1169" x2="1384.3" y2="1179" stroke="#1a1a1a" stroke-width="1.5"/>
<line x1="1422.1" y1="1169" x2="1422.1" y2="1179" stroke="#1a1a1a" stroke-width="1.5"/>
<line x1="1459.9" y1="1169" x2="1459.9" y2="1179" stroke="#1a1a1a" stroke-width="1.5"/>
<line x1="1497.7" y1="1169" x2="1497.7" y2="1179" stroke="#1a1a1a" stroke-width="1.5"/>
<line x1="1535.5" y1="1169" x2="1535.5" y2="1179" stroke="#1a1a1a" stroke-width="1.5"/>
<line x1="1573.4" y1="1169" x2="1573.4" y2="1179" stroke="#1a1a1a" stroke-width="1.5"/>
<line x1="1611.2" y1="1169" x2="1611.2" y2="1179" stroke="#1a1a1a" stroke-width="1.5"/>
<line x1="1649" y1="1169" x2="1649" y2="1179" stroke="#1a1a1a" stroke-width="1.5"/>
<line x1="1686.8" y1="1169" x2="1686.8" y2="1179" stroke="#1a1a1a" stroke-width="1.5"/>
<line x1="1724.6" y1="1169" x2="1724.6" y2="1179" stroke="#1a1a1a" stroke-width="1.5"/>
<line x1="1762.4" y1="1169" x2="1762.4" y2="1179" stroke="#1a1a1a" stroke-width="1.5"/>
<line x1="229.8" y1="1252.7" x2="1782" y2="1252.7" stroke="#1a1a1a" stroke-width="2"/>
<line x1="230.6" y1="1183.7" x2="230.6" y2="1252.7" stroke="#1a1a1a" stroke-width="2"/>
<line x1="249.8" y1="1252.7" x2="249.8" y2="1262.7" stroke="#1a1a1a" stroke-width="1.5"/>
<line x1="287.6" y1="1252.7" x2="287.6" y2="1262.7" stroke="#1a1a1a" stroke-width="1.5"/>
<line x1="325.4" y1="1252.7" x2="325.4" y2="1262.7" stroke="#1a1a1a" stroke-width="1.5"/>
<line x1="363.2" y1="1252.7" x2="363.2" y2="1262.7" stroke="#1a1a1a" stroke-width="1.5"/>
<line x1="401.1" y1="1252.7" x2="401.1" y2="1262.7" stroke="#1a1a1a" stroke-width="1.5"/>
<line x1="438.9" y1="1252.7" x2="438.9" y2="1262.7" stroke="#1a1a1a" stroke-width="1.5"/>
<line x1="476.7" y1="1252.7" x2="476.7" y2="1262.7" stroke="#1a1a1a" stroke-width="1.5"/>
<line x1="514.5" y1="1252.7" x2="514.5" y2="1262.7" stroke="#1a1a1a" stroke-width="1.5"/>
<line x1="552.3" y1="1252.7" x2="552.3" y2="1262.7" stroke="#1a1a1a" stroke-width="1.5"/>
<line x1="590.1" y1="1252.7" x2="590.1" y2="1262.7" stroke="#1a1a1a" stroke-width="1.5"/>
<line x1="628" y1="1252.7" x2="628" y2="1262.7" stroke="#1a1a1a" stroke-width="1.5"/>
<line x1="665.8" y1="1252.7" x2="665.8" y2="1262.7" stroke="#1a1a1a" stroke-width="1.5"/>
<line x1="703.6" y1="1252.7" x2="703.6" y2="1262.7" stroke="#1a1a1a" stroke-width="1.5"/>
<line x1="741.4" y1="1252.7" x2="741.4" y2="1262.7" stroke="#1a1a1a" stroke-width="1.5"/>
<line x1="779.2" y1="1252.7" x2="779.2" y2="1262.7" stroke="#1a1a1a" stroke-width="1.5"/>
<line x1="817" y1="1252.7" x2="817" y2="1262.7" stroke="#1a1a1a" stroke-width="1.5"/>
<line x1="854.9" y1="1252.7" x2="854.9" y2="1262.7" stroke="#1a1a1a" stroke-width="1.5"/>
<line x1="892.7" y1="1252.7" x2="892.7" y2="1262.7" stroke="#1a1a1a" stroke-width="1.5"/>
<line x1="930.5" y1="1252.7" x2="930.5" y2="1262.7" stroke="#1a1a1a" stroke-width="1.5"/>
<line x1="968.3" y1="1252.7" x2="968.3" y2="1262.7" stroke="#1a1a1a" stroke-width="1.5"/>
<line x1="1006.1" y1="1252.7" x2="1006.1" y2="1262.7" stroke="#1a1a1a" stroke-width="1.5"/>
<line x1="1043.9" y1="1252.7" x2="1043.9" y2="1262.7" stroke="#1a1a1a" stroke-width="1.5"/>
<line x1="1081.8" y1="1252.7" x2="1081.8" y2="1262.7" stroke="#1a1a1a" stroke-width="1.5"/>
<line x1="1119.6" y1="1252.7" x2="1119.6" y2="1262.7" stroke="#1a1a1a" stroke-width="1.5"/>
<line x1="1157.4" y1="1252.7" x2="1157.4" y2="1262.7" stroke="#1a1a1a" stroke-width="1.5"/>
<line x1="1195.2" y1="1252.7" x2="1195.2" y2="1262.7" stroke="#1a1a1a" stroke-width="1.5"/>
<line x1="1233" y1="1252.7" x2="1233" y2="1262.7" stroke="#1a1a1a" stroke-width="1.5"/>
<line x1="1270.8" y1="1252.7" x2="1270.8" y2="1262.7" stroke="#1a1a1a" stroke-width="1.5"/>
<line x1="1308.6" y1="1252.7" x2="1308.6" y2="1262.7" stroke="#1a1a1a" stroke-width="1.5"/>
<line x1="1346.5" y1="1252.7" x2="1346.5" y2="1262.7" stroke="#1a1a1a" stroke-width="1.5"/>
<line x1="1384.3" y1="1252.7" x2="1384.3" y2="1262.7" stroke="#1a1a1a" stroke-width="1.5"/>
<line x1="1422.1" y1="1252.7" x2="1422.1" y2="1262.7" stroke="#1a1a1a" stroke-width="1.5"/>
<line x1="1459.9" y1="1252.7" x2="1459.9" y2="1262.7" stroke="#1a1a1a" stroke-width="1.5"/>
<line x1="1497.7" y1="1252.7" x2="1497.7" y2="1262.7" stroke="#1a1a1a" stroke-width="1.5"/>
<line x1="1535.5" y1="1252.7" x2="1535.5" y2="1262.7" stroke="#1a1a1a" stroke-width="1.5"/>
<line x1="1573.4" y1="1252.7" x2="1573.4" y2="1262.7" stroke="#1a1a1a" stroke-width="1.5"/>
<line x1="1611.2" y1="1252.7" x2="1611.2" y2="1262.7" stroke="#1a1a1a" stroke-width="1.5"/>
<line x1="1649" y1="1252.7" x2="1649" y2="1262.7" stroke="#1a1a1a" stroke-width="1.5"/>
<line x1="1686.8" y1="1252.7" x2="1686.8" y2="1262.7" stroke="#1a1a1a" stroke-width="1.5"/>
<line x1="1724.6" y1="1252.7" x2="1724.6" y2="1262.7" stroke="#1a1a1a" stroke-width="1.5"/>
<line x1="1762.4" y1="1252.7" x2="1762.4" y2="1262.7" stroke="#1a1a1a" stroke-width="1.5"/>
<line x1="220" y1="1018.9" x2="230.1" y2="1018.9" stroke="#1a1a1a" stroke-width="2"/>
<text x="207" y="1026.8" font-size="25" text-anchor="end">1</text>
<line x1="220" y1="1084.2" x2="230.1" y2="1084.2" stroke="#1a1a1a" stroke-width="2"/>
<text x="207" y="1093.7" font-size="25" text-anchor="end">0</text>
<line x1="220" y1="1113.5" x2="230.1" y2="1113.5" stroke="#1a1a1a" stroke-width="2"/>
<text x="209.5" y="1120.9" font-size="25" text-anchor="end">10<tspan font-size="16" dy="-12">3</tspan></text>
<line x1="220" y1="1144.8" x2="230.1" y2="1144.8" stroke="#1a1a1a" stroke-width="2"/>
<text x="209.5" y="1152.2" font-size="25" text-anchor="end">10<tspan font-size="16" dy="-12">2</tspan></text>
<line x1="225" y1="1166.7" x2="230.1" y2="1166.7" stroke="#1a1a1a" stroke-width="1"/>
<line x1="225" y1="1161.2" x2="230.1" y2="1161.2" stroke="#1a1a1a" stroke-width="1"/>
<line x1="225" y1="1157.3" x2="230.1" y2="1157.3" stroke="#1a1a1a" stroke-width="1"/>
<line x1="225" y1="1154.2" x2="230.1" y2="1154.2" stroke="#1a1a1a" stroke-width="1"/>
<line x1="225" y1="1151.7" x2="230.1" y2="1151.7" stroke="#1a1a1a" stroke-width="1"/>
<line x1="225" y1="1149.6" x2="230.1" y2="1149.6" stroke="#1a1a1a" stroke-width="1"/>
<line x1="225" y1="1147.8" x2="230.1" y2="1147.8" stroke="#1a1a1a" stroke-width="1"/>
<line x1="225" y1="1146.2" x2="230.1" y2="1146.2" stroke="#1a1a1a" stroke-width="1"/>
<line x1="225" y1="1135.4" x2="230.1" y2="1135.4" stroke="#1a1a1a" stroke-width="1"/>
<line x1="225" y1="1129.9" x2="230.1" y2="1129.9" stroke="#1a1a1a" stroke-width="1"/>
<line x1="225" y1="1126" x2="230.1" y2="1126" stroke="#1a1a1a" stroke-width="1"/>
<line x1="225" y1="1122.9" x2="230.1" y2="1122.9" stroke="#1a1a1a" stroke-width="1"/>
<line x1="225" y1="1120.4" x2="230.1" y2="1120.4" stroke="#1a1a1a" stroke-width="1"/>
<line x1="225" y1="1118.3" x2="230.1" y2="1118.3" stroke="#1a1a1a" stroke-width="1"/>
<line x1="225" y1="1116.5" x2="230.1" y2="1116.5" stroke="#1a1a1a" stroke-width="1"/>
<line x1="225" y1="1114.9" x2="230.1" y2="1114.9" stroke="#1a1a1a" stroke-width="1"/>
<line x1="225" y1="1104.1" x2="230.1" y2="1104.1" stroke="#1a1a1a" stroke-width="1"/>
<line x1="220" y1="1207.6" x2="230.1" y2="1207.6" stroke="#1a1a1a" stroke-width="2"/>
<text x="209.5" y="1215.6" font-size="25" text-anchor="end">10<tspan font-size="16" dy="-12">−1</tspan></text>
<line x1="220" y1="1231.5" x2="230.1" y2="1231.5" stroke="#1a1a1a" stroke-width="2"/>
<text x="209.5" y="1239.5" font-size="25" text-anchor="end">10<tspan font-size="16" dy="-12">−2</tspan></text>
<line x1="225" y1="1248.2" x2="230.1" y2="1248.2" stroke="#1a1a1a" stroke-width="1"/>
<line x1="225" y1="1244" x2="230.1" y2="1244" stroke="#1a1a1a" stroke-width="1"/>
<line x1="225" y1="1241" x2="230.1" y2="1241" stroke="#1a1a1a" stroke-width="1"/>
<line x1="225" y1="1238.7" x2="230.1" y2="1238.7" stroke="#1a1a1a" stroke-width="1"/>
<line x1="225" y1="1236.8" x2="230.1" y2="1236.8" stroke="#1a1a1a" stroke-width="1"/>
<line x1="225" y1="1235.2" x2="230.1" y2="1235.2" stroke="#1a1a1a" stroke-width="1"/>
<line x1="225" y1="1233.8" x2="230.1" y2="1233.8" stroke="#1a1a1a" stroke-width="1"/>
<line x1="225" y1="1232.6" x2="230.1" y2="1232.6" stroke="#1a1a1a" stroke-width="1"/>
<line x1="225" y1="1224.3" x2="230.1" y2="1224.3" stroke="#1a1a1a" stroke-width="1"/>
<line x1="225" y1="1220.1" x2="230.1" y2="1220.1" stroke="#1a1a1a" stroke-width="1"/>
<line x1="225" y1="1217.1" x2="230.1" y2="1217.1" stroke="#1a1a1a" stroke-width="1"/>
<line x1="225" y1="1214.8" x2="230.1" y2="1214.8" stroke="#1a1a1a" stroke-width="1"/>
<line x1="225" y1="1212.9" x2="230.1" y2="1212.9" stroke="#1a1a1a" stroke-width="1"/>
<line x1="225" y1="1211.3" x2="230.1" y2="1211.3" stroke="#1a1a1a" stroke-width="1"/>
<line x1="225" y1="1209.9" x2="230.1" y2="1209.9" stroke="#1a1a1a" stroke-width="1"/>
<line x1="225" y1="1208.7" x2="230.1" y2="1208.7" stroke="#1a1a1a" stroke-width="1"/>
<line x1="225" y1="1200.4" x2="230.1" y2="1200.4" stroke="#1a1a1a" stroke-width="1"/>
<line x1="225" y1="1196.2" x2="230.1" y2="1196.2" stroke="#1a1a1a" stroke-width="1"/>
<line x1="225" y1="1193.2" x2="230.1" y2="1193.2" stroke="#1a1a1a" stroke-width="1"/>
<line x1="225" y1="1190.9" x2="230.1" y2="1190.9" stroke="#1a1a1a" stroke-width="1"/>
<line x1="225" y1="1189" x2="230.1" y2="1189" stroke="#1a1a1a" stroke-width="1"/>
<line x1="225" y1="1187.4" x2="230.1" y2="1187.4" stroke="#1a1a1a" stroke-width="1"/>
<line x1="225" y1="1186" x2="230.1" y2="1186" stroke="#1a1a1a" stroke-width="1"/>
<line x1="225" y1="1184.8" x2="230.1" y2="1184.8" stroke="#1a1a1a" stroke-width="1"/>
<text x="152" y="1042.8" font-size="25" text-anchor="end">Fraction with</text>
<text x="152" y="1072.7" font-size="25" text-anchor="end">WGD ≥ 1</text>
<text x="152" y="1126.8" font-size="25" text-anchor="end">Number</text>
<text x="152" y="1156.8" font-size="25" text-anchor="end">of cells</text>
<text x="152" y="1196.2" font-size="25" text-anchor="end">Fraction</text>
<text x="152" y="1226.2" font-size="25" text-anchor="end">additional</text>
<text x="152" y="1256.2" font-size="25" text-anchor="end">WGD cells</text>
<text transform="translate(261.8,1285) rotate(-45)" text-anchor="end" font-size="25">OV-026</text>
<text transform="translate(299.6,1285) rotate(-45)" text-anchor="end" font-size="25">OV-009</text>
<text transform="translate(337.4,1285) rotate(-45)" text-anchor="end" font-size="25">OV-031</text>
<text transform="translate(375.2,1285) rotate(-45)" text-anchor="end" font-size="25">OV-007</text>
<text transform="translate(413.1,1285) rotate(-45)" text-anchor="end" font-size="25">OV-050</text>
<text transform="translate(450.9,1285) rotate(-45)" text-anchor="end" font-size="25">OV-037</text>
<text transform="translate(488.7,1285) rotate(-45)" text-anchor="end" font-size="25">OV-004</text>
<text transform="translate(526.5,1285) rotate(-45)" text-anchor="end" font-size="25">OV-115</text>
<text transform="translate(564.3,1285) rotate(-45)" text-anchor="end" font-size="25">OV-070</text>
<text transform="translate(602.1,1285) rotate(-45)" text-anchor="end" font-size="25">OV-022</text>
<text transform="translate(640,1285) rotate(-45)" text-anchor="end" font-size="25">OV-006</text>
<text transform="translate(677.8,1285) rotate(-45)" text-anchor="end" font-size="25">OV-046</text>
<text transform="translate(715.6,1285) rotate(-45)" text-anchor="end" font-size="25">OV-080</text>
<text transform="translate(753.4,1285) rotate(-45)" text-anchor="end" font-size="25">OV-139</text>
<text transform="translate(791.2,1285) rotate(-45)" text-anchor="end" font-size="25">OV-125</text>
<text transform="translate(829,1285) rotate(-45)" text-anchor="end" font-size="25">OV-081</text>
<text transform="translate(866.9,1285) rotate(-45)" text-anchor="end" font-size="25">OV-075</text>
<text transform="translate(904.7,1285) rotate(-45)" text-anchor="end" font-size="25">OV-110</text>
<text transform="translate(942.5,1285) rotate(-45)" text-anchor="end" font-size="25">OV-045</text>
<text transform="translate(980.3,1285) rotate(-45)" text-anchor="end" font-size="25">OV-087</text>
<text transform="translate(1018.1,1285) rotate(-45)" text-anchor="end" font-size="25">OV-107</text>
<text transform="translate(1055.9,1285) rotate(-45)" text-anchor="end" font-size="25">OV-044</text>
<text transform="translate(1093.8,1285) rotate(-45)" text-anchor="end" font-size="25">OV-052</text>
<text transform="translate(1131.6,1285) rotate(-45)" text-anchor="end" font-size="25">OV-133</text>
<text transform="translate(1169.4,1285) rotate(-45)" text-anchor="end" font-size="25">OV-051</text>
<text transform="translate(1207.2,1285) rotate(-45)" text-anchor="end" font-size="25">OV-082</text>
<text transform="translate(1245,1285) rotate(-45)" text-anchor="end" font-size="25">OV-014</text>
<text transform="translate(1282.8,1285) rotate(-45)" text-anchor="end" font-size="25">OV-083</text>
<text transform="translate(1320.6,1285) rotate(-45)" text-anchor="end" font-size="25">OV-036</text>
<text transform="translate(1358.5,1285) rotate(-45)" text-anchor="end" font-size="25">OV-003</text>
<text transform="translate(1396.3,1285) rotate(-45)" text-anchor="end" font-size="25">OV-008</text>
<text transform="translate(1434.1,1285) rotate(-45)" text-anchor="end" font-size="25">OV-068</text>
<text transform="translate(1471.9,1285) rotate(-45)" text-anchor="end" font-size="25">OV-071</text>
<text transform="translate(1509.7,1285) rotate(-45)" text-anchor="end" font-size="25">OV-118</text>
<text transform="translate(1547.5,1285) rotate(-45)" text-anchor="end" font-size="25">OV-049</text>
<text transform="translate(1585.4,1285) rotate(-45)" text-anchor="end" font-size="25">OV-129</text>
<text transform="translate(1623.2,1285) rotate(-45)" text-anchor="end" font-size="25">OV-002</text>
<text transform="translate(1661,1285) rotate(-45)" text-anchor="end" font-size="25">OV-065</text>
<text transform="translate(1698.8,1285) rotate(-45)" text-anchor="end" font-size="25">OV-025</text>
<text transform="translate(1736.6,1285) rotate(-45)" text-anchor="end" font-size="25">OV-105</text>
<text transform="translate(1774.4,1285) rotate(-45)" text-anchor="end" font-size="25">OV-024</text>
<text x="1006" y="1380" font-size="25" text-anchor="middle">Patient</text>
</g>
<g id="pd">
<text x="0" y="1412" font-size="34" font-weight="bold" stroke="#000" stroke-width="0.9">d</text>
<rect x="138" y="1488" width="39.5" height="30.6" fill="#cccccb"/>
<rect x="176.9" y="1488" width="5.6" height="30.6" fill="#cccccb"/>
<rect x="181.9" y="1488" width="5.7" height="30.6" fill="#cccccb"/>
<rect x="187" y="1488" width="9" height="30.6" fill="#fdcc8a"/>
<rect x="138" y="1518" width="39.5" height="94" fill="#fdcc8a"/>
<rect x="176.9" y="1518" width="5.6" height="94" fill="#fdcc8a"/>
<rect x="181.9" y="1518" width="5.7" height="94" fill="#e04a31"/>
<rect x="187" y="1518" width="9" height="94" fill="#981a47"/>
<rect x="138" y="1611.4" width="39.5" height="242.2" fill="#fdcc8a"/>
<rect x="176.9" y="1611.4" width="5.6" height="242.2" fill="#cccccb"/>
<rect x="181.9" y="1611.4" width="5.7" height="242.2" fill="#f58d5c"/>
<rect x="187" y="1611.4" width="9" height="242.2" fill="#b21e25"/>
<rect x="198.8" y="1488" width="38.8" height="30.6" fill="#cccccb"/>
<rect x="237" y="1488" width="20.6" height="30.6" fill="#cccccb"/>
<rect x="198.8" y="1518" width="38.8" height="94" fill="#fdcc8a"/>
<rect x="237" y="1518" width="20.6" height="94" fill="#fdcc8a"/>
<rect x="198.8" y="1611.4" width="38.8" height="242.2" fill="#fdcc8a"/>
<rect x="237" y="1611.4" width="20.6" height="242.2" fill="#fdcc8a"/>
<rect x="260.4" y="1488" width="21.1" height="30.6" fill="#cccccb"/>
<rect x="280.9" y="1488" width="8.6" height="30.6" fill="#cccccb"/>
<rect x="289" y="1488" width="13.6" height="30.6" fill="#cccccb"/>
<rect x="302" y="1488" width="7.9" height="30.6" fill="#f58d5c"/>
<rect x="260.4" y="1518" width="21.1" height="94" fill="#cccccb"/>
<rect x="280.9" y="1518" width="8.6" height="94" fill="#f58d5c"/>
<rect x="289" y="1518" width="13.6" height="94" fill="#f58d5c"/>
<rect x="302" y="1518" width="7.9" height="94" fill="#981a47"/>
<rect x="260.4" y="1611.4" width="21.1" height="242.2" fill="#cccccb"/>
<rect x="280.9" y="1611.4" width="8.6" height="242.2" fill="#f58d5c"/>
<rect x="289" y="1611.4" width="13.6" height="242.2" fill="#e04a31"/>
<rect x="302" y="1611.4" width="7.9" height="242.2" fill="#981a47"/>
<rect x="312.3" y="1488" width="45.1" height="30.6" fill="#a0c9e1"/>
<rect x="312.3" y="1518" width="45.1" height="94" fill="#cccccb"/>
<rect x="312.3" y="1611.4" width="45.1" height="242.2" fill="#cccccb"/>
<rect x="360" y="1488" width="10.7" height="30.6" fill="#cccccb"/>
<rect x="370.1" y="1488" width="19.5" height="30.6" fill="#a0c9e1"/>
<rect x="388.9" y="1488" width="7.6" height="30.6" fill="#cccccb"/>
<rect x="396" y="1488" width="7.2" height="30.6" fill="#a0c9e1"/>
<rect x="360" y="1518" width="10.7" height="94" fill="#fdcc8a"/>
<rect x="370.1" y="1518" width="19.5" height="94" fill="#cccccb"/>
<rect x="388.9" y="1518" width="7.6" height="94" fill="#fdcc8a"/>
<rect x="396" y="1518" width="7.2" height="94" fill="#cccccb"/>
<rect x="360" y="1611.4" width="10.7" height="242.2" fill="#f58d5c"/>
<rect x="370.1" y="1611.4" width="19.5" height="242.2" fill="#cccccb"/>
<rect x="388.9" y="1611.4" width="7.6" height="242.2" fill="#f58d5c"/>
<rect x="396" y="1611.4" width="7.2" height="242.2" fill="#cccccb"/>
<rect x="405.9" y="1488" width="42.4" height="30.6" fill="#a0c9e1"/>
<rect x="405.9" y="1518" width="42.4" height="94" fill="#cccccb"/>
<rect x="405.9" y="1611.4" width="42.4" height="242.2" fill="#cccccb"/>
<rect x="450.7" y="1488" width="38.3" height="30.6" fill="#cccccb"/>
<rect x="450.7" y="1518" width="38.3" height="94" fill="#fdcc8a"/>
<rect x="450.7" y="1611.4" width="38.3" height="242.2" fill="#f58d5c"/>
<rect x="491.3" y="1488" width="8.4" height="30.6" fill="#a0c9e1"/>
<rect x="499.1" y="1488" width="16.3" height="30.6" fill="#cccccb"/>
<rect x="514.8" y="1488" width="12.1" height="30.6" fill="#cccccb"/>
<rect x="491.3" y="1518" width="8.4" height="94" fill="#cccccb"/>
<rect x="499.1" y="1518" width="16.3" height="94" fill="#f58d5c"/>
<rect x="514.8" y="1518" width="12.1" height="94" fill="#f58d5c"/>
<rect x="491.3" y="1611.4" width="8.4" height="242.2" fill="#cccccb"/>
<rect x="499.1" y="1611.4" width="16.3" height="242.2" fill="#f58d5c"/>
<rect x="514.8" y="1611.4" width="12.1" height="242.2" fill="#e04a31"/>
<rect x="529.5" y="1488" width="5.8" height="30.6" fill="#cccccb"/>
<rect x="534.7" y="1488" width="22.4" height="30.6" fill="#cccccb"/>
<rect x="529.5" y="1518" width="5.8" height="94" fill="#e04a31"/>
<rect x="534.7" y="1518" width="22.4" height="94" fill="#f58d5c"/>
<rect x="529.5" y="1611.4" width="5.8" height="242.2" fill="#fdcc8a"/>
<rect x="534.7" y="1611.4" width="22.4" height="242.2" fill="#fdcc8a"/>
<rect x="559.9" y="1488" width="9.9" height="30.6" fill="#cccccb"/>
<rect x="569.2" y="1488" width="23.1" height="30.6" fill="#cccccb"/>
<rect x="559.9" y="1518" width="9.9" height="94" fill="#f58d5c"/>
<rect x="569.2" y="1518" width="23.1" height="94" fill="#f58d5c"/>
<rect x="559.9" y="1611.4" width="9.9" height="242.2" fill="#f58d5c"/>
<rect x="569.2" y="1611.4" width="23.1" height="242.2" fill="#cccccb"/>
<rect x="595.1" y="1488" width="3.4" height="30.6" fill="#a0c9e1"/>
<rect x="597.9" y="1488" width="11.6" height="30.6" fill="#cccccb"/>
<rect x="608.9" y="1488" width="14.6" height="30.6" fill="#cccccb"/>
<rect x="622.9" y="1488" width="3.6" height="30.6" fill="#fdcc8a"/>
<rect x="595.1" y="1518" width="3.4" height="94" fill="#fdcc8a"/>
<rect x="597.9" y="1518" width="11.6" height="94" fill="#fdcc8a"/>
<rect x="608.9" y="1518" width="14.6" height="94" fill="#e04a31"/>
<rect x="622.9" y="1518" width="3.6" height="94" fill="#e04a31"/>
<rect x="595.1" y="1611.4" width="3.4" height="242.2" fill="#fdcc8a"/>
<rect x="597.9" y="1611.4" width="11.6" height="242.2" fill="#fdcc8a"/>
<rect x="608.9" y="1611.4" width="14.6" height="242.2" fill="#fdcc8a"/>
<rect x="622.9" y="1611.4" width="3.6" height="242.2" fill="#fdcc8a"/>
<rect x="629.3" y="1488" width="7.4" height="30.6" fill="#a0c9e1"/>
<rect x="636.1" y="1488" width="25.4" height="30.6" fill="#a0c9e1"/>
<rect x="629.3" y="1518" width="7.4" height="94" fill="#cccccb"/>
<rect x="636.1" y="1518" width="25.4" height="94" fill="#cccccb"/>
<rect x="629.3" y="1611.4" width="7.4" height="242.2" fill="#fdcc8a"/>
<rect x="636.1" y="1611.4" width="25.4" height="242.2" fill="#cccccb"/>
<rect x="664.1" y="1488" width="5.7" height="30.6" fill="#cccccb"/>
<rect x="669.2" y="1488" width="17.6" height="30.6" fill="#cccccb"/>
<rect x="686.2" y="1488" width="3.3" height="30.6" fill="#cccccb"/>
<rect x="664.1" y="1518" width="5.7" height="94" fill="#fdcc8a"/>
<rect x="669.2" y="1518" width="17.6" height="94" fill="#fdcc8a"/>
<rect x="686.2" y="1518" width="3.3" height="94" fill="#cccccb"/>
<rect x="664.1" y="1611.4" width="5.7" height="242.2" fill="#f58d5c"/>
<rect x="669.2" y="1611.4" width="17.6" height="242.2" fill="#fdcc8a"/>
<rect x="686.2" y="1611.4" width="3.3" height="242.2" fill="#fdcc8a"/>
<rect x="692.1" y="1488" width="21.7" height="30.6" fill="#a0c9e1"/>
<rect x="692.1" y="1518" width="21.7" height="94" fill="#cccccb"/>
<rect x="692.1" y="1611.4" width="21.7" height="242.2" fill="#cccccb"/>
<rect x="716.4" y="1488" width="17.5" height="30.6" fill="#a0c9e1"/>
<rect x="716.4" y="1518" width="17.5" height="94" fill="#cccccb"/>
<rect x="716.4" y="1611.4" width="17.5" height="242.2" fill="#cccccb"/>
<rect x="736.5" y="1488" width="16.7" height="30.6" fill="#a0c9e1"/>
<rect x="736.5" y="1518" width="16.7" height="94" fill="#cccccb"/>
<rect x="736.5" y="1611.4" width="16.7" height="242.2" fill="#cccccb"/>
<rect x="755.9" y="1488" width="17.9" height="30.6" fill="#a0c9e1"/>
<rect x="755.9" y="1518" width="17.9" height="94" fill="#cccccb"/>
<rect x="755.9" y="1611.4" width="17.9" height="242.2" fill="#cccccb"/>
<rect x="776.4" y="1488" width="18.5" height="30.6" fill="#a0c9e1"/>
<rect x="776.4" y="1518" width="18.5" height="94" fill="#cccccb"/>
<rect x="776.4" y="1611.4" width="18.5" height="242.2" fill="#cccccb"/>
<rect x="797.5" y="1488" width="6" height="30.6" fill="#cccccb"/>
<rect x="802.9" y="1488" width="3.7" height="30.6" fill="#cccccb"/>
<rect x="806" y="1488" width="4.4" height="30.6" fill="#cccccb"/>
<rect x="797.5" y="1518" width="6" height="94" fill="#fdcc8a"/>
<rect x="802.9" y="1518" width="3.7" height="94" fill="#fdcc8a"/>
<rect x="806" y="1518" width="4.4" height="94" fill="#fdcc8a"/>
<rect x="797.5" y="1611.4" width="6" height="242.2" fill="#fdcc8a"/>
<rect x="802.9" y="1611.4" width="3.7" height="242.2" fill="#b21e25"/>
<rect x="806" y="1611.4" width="4.4" height="242.2" fill="#cccccb"/>
<rect x="813" y="1488" width="6.6" height="30.6" fill="#cccccb"/>
<rect x="819" y="1488" width="8.9" height="30.6" fill="#fdcc8a"/>
<rect x="813" y="1518" width="6.6" height="94" fill="#f58d5c"/>
<rect x="819" y="1518" width="8.9" height="94" fill="#b21e25"/>
<rect x="813" y="1611.4" width="6.6" height="242.2" fill="#f58d5c"/>
<rect x="819" y="1611.4" width="8.9" height="242.2" fill="#b21e25"/>
<rect x="830.5" y="1488" width="7.7" height="30.6" fill="#cccccb"/>
<rect x="830.5" y="1518" width="7.7" height="94" fill="#fdcc8a"/>
<rect x="830.5" y="1611.4" width="7.7" height="242.2" fill="#cccccb"/>
<rect x="840.8" y="1488" width="2.1" height="30.6" fill="#a0c9e1"/>
<rect x="842.2" y="1488" width="4.4" height="30.6" fill="#a0c9e1"/>
<rect x="840.8" y="1518" width="2.1" height="94" fill="#fdcc8a"/>
<rect x="842.2" y="1518" width="4.4" height="94" fill="#cccccb"/>
<rect x="840.8" y="1611.4" width="2.1" height="242.2" fill="#cccccb"/>
<rect x="842.2" y="1611.4" width="4.4" height="242.2" fill="#cccccb"/>
<rect x="849.2" y="1488" width="12.4" height="30.6" fill="#a0c9e1"/>
<rect x="861" y="1488" width="14.4" height="30.6" fill="#a0c9e1"/>
<rect x="849.2" y="1518" width="12.4" height="94" fill="#cccccb"/>
<rect x="861" y="1518" width="14.4" height="94" fill="#cccccb"/>
<rect x="849.2" y="1611.4" width="12.4" height="242.2" fill="#a0c9e1"/>
<rect x="861" y="1611.4" width="14.4" height="242.2" fill="#cccccb"/>
<path d="M177.5 1497.2h1.6M176.9 1507.2h5M177 1675.7h2.9M176.9 1692.3h5M177.5 1755.7h1.8M176.9 1840.8h5M260.4 1495.5h20.5M280.9 1515.5h8M261.2 1652.3h5.8M348.7 1513.9h3.9M312.3 1782.4h45.1M312.3 1815.8h45.1M312.3 1824.1h45.1M396 1538.9h7.2M399 1575.6h3M382.5 1617.3h5.5M382.6 1627.3h1.9M397.6 1724h3.8M396 1794.1h7.2M396 1824.1h7.2M375.6 1835.8h10.6M396 1845.8h7.2M422.1 1610.6h22.3M493.8 1770.7h4.1M569.2 1849.1h23.1M636.1 1792.4h25.4M670.7 1513.9h2M706.4 1560.6h4M692.1 1570.6h21.7M708.7 1580.6h3.1M692.1 1618.9h21.7M694.2 1622.3h11M698.8 1745.7h5.5M692.1 1759.1h21.7M703.2 1764.1h8.8M695.8 1802.4h11.1M692.1 1834.1h21.7M727.6 1675.7h3.7M716.4 1832.5h17.5M743.8 1764.1h5.2M755.9 1650.6h17.9M766.9 1797.4h1.8M755.9 1852.5h17.9M782.9 1669h6.2M776.4 1687.3h18.5M806 1613.9h4.4M806.3 1707.4h2.1M806 1747.4h4.4M806 1765.7h4.4M834.4 1684h2.3M830.5 1740.7h7.7M833.3 1780.8h3.7M830.5 1845.8h7.7M843.2 1735.7h2.5M840.8 1764.1h1.5M843.4 1775.8h1.6M840.8 1777.4h1.5M842.6 1789.1h2.4M843.7 1790.8h2.6M844.2 1792.4h1.9M840.8 1800.8h1.5M840.8 1815.8h1.5M842.4 1827.5h2.4M840.8 1837.5h1.5M840.8 1845.8h1.5M849.2 1523.9h11.8M861 1612.3h14.4M861.9 1637.3h6.4M866.3 1707.4h8.6M849.2 1750.7h11.8M861 1750.7h14.4M870.6 1775.8h3.1M861 1785.8h14.4M864.7 1794.1h7.9M861 1815.8h14.4M198.8 1488.8h58.8M260.4 1488.8h22.3M312.3 1488.8h45.1M360 1488.8h43.2M405.9 1488.8h42.4M529.5 1488.8h27.6M595.1 1488.8h31.4M629.3 1488.8h32.2M664.1 1488.8h25.4M797.5 1488.8h12.9M813 1488.8h14.9M840.8 1488.8h5.8M849.2 1488.8h26.2M262 1865.8h5.1M429.7 1865.8h3.2M844.2 1865.8h2.4M178.4 1869.2h2.8M266.1 1869.2h9.2M699.8 1869.2h4.8M849.2 1869.2h11.8M412.4 1870.8h15.6M849.2 1870.8h11.8M865.3 1870.8h3.3M559.9 1872.5h9.3M569.2 1872.5h23.1M595.1 1872.5h2.8M597.9 1872.5h11M716.4 1872.5h17.5M819 1872.5h8.9M840.8 1872.5h1.5M849.2 1872.5h11.8M849.2 1874.2h11.8M853.6 1874.2h2.4M178 1875.8h2.8M265.3 1875.8h6M380.3 1875.8h5M493.7 1875.8h2.6M758.5 1875.8h7.8M840.8 1875.8h1.5M849.2 1875.8h11.8M398.5 1877.5h2.5M407.9 1877.5h17.1M849.2 1877.5h11.8M649.6 1879.2h9.8M849.2 1879.2h11.8M851.1 1880.8h3.9M850.1 1885.8h5.9M852.9 1889.2h3.9M491.9 1892.5h3.9M849.2 1892.5h11.8M843 1894.2h2.1M849.2 1894.2h11.8M744.8 1895.9h7.2M784.9 1895.9h7.6M849.2 1895.9h11.8M856.2 1895.9h3.5M494.4 1899.2h3.9M707.3 1899.2h3.7M840.8 1899.2h1.5M849.2 1899.2h11.8M397.8 1900.9h3.1M581.6 1900.9h6.1M849.2 1900.9h11.8M178.8 1902.5h2.1M429.8 1902.5h17.9M587.7 1902.5h3.8M849.2 1905.9h11.8" stroke="#a0c9e1" stroke-width="1.8" fill="none"/>
<path d="M176.9 1500.5h5M178 1620.6h2.3M181.9 1620.6h5.1M176.9 1625.6h5M184.2 1637.3h2.2M176.9 1647.3h5M176.9 1659h5M182.5 1660.7h2.3M177.5 1662.3h2.6M176.9 1664h5M182 1667.3h2.7M178.3 1682.3h1.7M184.4 1724h1.7M182.6 1740.7h2.8M181.9 1742.4h5.1M182.6 1747.4h2.1M183.3 1757.4h2.3M183.7 1759.1h1.8M184.7 1794.1h2M178.8 1804.1h2.6M178.7 1820.8h1.7M181.9 1825.8h5.1M183.8 1837.5h3M183.4 1839.1h2.2M176.9 1844.1h5M176.9 1845.8h5M291 1515.5h7.6M280.9 1525.5h8M296.4 1527.2h5M289 1590.6h13M261.2 1598.9h11.2M281.3 1632.3h2.8M286.9 1645.6h1.6M280.9 1652.3h8M269.7 1670.7h4.4M289 1670.7h13M280.9 1672.3h8M285.2 1685.7h2.6M280.9 1719h8M271.2 1720.7h8.2M283.3 1730.7h3.9M296.9 1744.1h4.9M260.4 1745.7h20.5M289 1747.4h13M284.9 1750.7h2.6M292.9 1752.4h7.1M260.4 1754.1h20.5M289 1759.1h13M281.1 1760.7h3.6M281.7 1762.4h4.3M263.4 1765.7h10M286.3 1770.7h1.7M280.9 1775.8h8M282.7 1789.1h3.2M260.4 1794.1h20.5M285.6 1799.1h1.7M280.9 1804.1h8M284 1814.1h3.7M283 1822.5h2M292.4 1825.8h2.7M268.4 1844.1h4M280.9 1740.7h21M280.9 1772.4h21M280.9 1777.4h21M280.9 1804.1h21M314.2 1568.9h24.7M312.3 1605.6h45.1M316.4 1637.3h3.8M312.3 1669h45.1M314.5 1700.7h21.9M312.3 1702.4h45.1M312.3 1712.4h45.1M312.3 1715.7h45.1M317.9 1755.7h24.4M314.7 1785.8h25.4M323.8 1802.4h23.4M325.8 1829.1h26.3M379 1548.9h1.9M396.1 1562.2h4M399 1590.6h3.4M360 1615.6h10.1M360 1629h10.1M370.1 1637.3h18.9M396 1639h7.2M399.7 1644h2M396.8 1669h2.7M389.9 1689h4.1M396 1689h7.2M360 1692.3h10.1M360.3 1700.7h2M370.1 1700.7h18.9M389.2 1705.7h3.8M388.9 1715.7h7M362.2 1719h2.6M361.5 1722.4h5.9M360 1727.4h10.1M370.1 1745.7h18.9M365.6 1747.4h1.8M391.9 1747.4h2.4M396 1749.1h7.2M362.2 1755.7h5.8M372.7 1757.4h6.1M388.9 1760.7h7M396 1772.4h7.2M371.4 1775.8h2M361.3 1777.4h4.9M360 1780.8h10.1M360 1784.1h10.1M389.5 1784.1h3.6M388.9 1789.1h7M393.2 1794.1h2.7M390.8 1800.8h3.9M391.6 1802.4h3.4M378.3 1807.4h4.2M388.9 1807.4h7M363.1 1810.8h5.3M360 1812.5h10.1M388.9 1812.5h7M363.1 1817.5h4.9M399.9 1817.5h2M379.2 1825.8h7.9M392.6 1830.8h3.2M396 1835.8h7.2M388.9 1837.5h7M360 1840.8h10.1M391.8 1844.1h3.5M360 1847.5h10.1M407.9 1557.2h19.3M411.3 1567.2h3.2M405.9 1608.9h42.4M430.3 1650.6h9.1M405.9 1709h42.4M405.9 1745.7h42.4M426.7 1760.7h8.5M428.1 1770.7h19.2M405.9 1784.1h42.4M422.4 1797.4h20M405.9 1814.1h42.4M405.9 1817.5h42.4M405.9 1824.1h42.4M405.9 1829.1h42.4M460.3 1488.8h15.4M450.7 1613.9h38.3M474.2 1618.9h7.9M450.7 1622.3h16.7M450.7 1630.6h38.3M450.7 1745.7h38.3M450.7 1769.1h38.3M450.7 1805.8h38.3M462.3 1822.5h6.6M450.7 1845.8h38.3M451 1850.8h2.2M450.7 1618.9h38.3M450.7 1649h38.3M450.7 1665.7h38.3M450.7 1672.3h38.3M450.7 1685.7h38.3M450.7 1710.7h38.3M450.7 1752.4h38.3M450.7 1755.7h38.3M450.7 1765.7h38.3M450.7 1772.4h38.3M450.7 1779.1h38.3M450.7 1780.8h38.3M450.7 1797.4h38.3M518.4 1578.9h1.8M514.8 1595.6h12.1M500.9 1597.3h3.7M491.3 1617.3h7.8M500.1 1617.3h4.3M499.1 1645.6h15.7M501.5 1650.6h5.7M499.1 1677.3h15.7M499.1 1680.7h15.7M492 1689h2M514.8 1699h12.1M491.3 1700.7h7.8M502.6 1700.7h7.9M499.1 1704h15.7M503.3 1722.4h4.3M514.8 1734h12.1M505.3 1760.7h8.5M491.3 1762.4h7.8M514.8 1762.4h12.1M499.1 1764.1h15.7M503.4 1767.4h8.9M499.1 1775.8h15.7M506.1 1782.4h4.6M514.8 1784.1h12.1M492.8 1789.1h3.3M514.8 1790.8h12.1M499.1 1792.4h15.7M499.1 1794.1h15.7M507.1 1800.8h3.7M492.3 1809.1h4.2M499.1 1810.8h15.7M503.4 1814.1h6.5M499.1 1815.8h15.7M514.8 1822.5h12.1M495.3 1829.1h3.7M499.1 1830.8h15.7M499.1 1832.5h15.7M499.1 1834.1h15.7M491.4 1842.5h3.9M529.5 1495.5h5.2M531.7 1523.9h2.1M532.5 1555.6h1.8M529.5 1560.6h5.2M534.7 1602.3h22.4M577 1558.9h7.4M574.5 1565.6h4M572.4 1600.6h13M569.2 1612.3h23.1M571.8 1618.9h10.2M580.5 1620.6h3.6M566.3 1637.3h1.9M560.2 1645.6h4.3M565.6 1652.3h3.2M569.2 1677.3h23.1M578.6 1684h11.3M559.9 1694h9.3M559.9 1697.3h9.3M572.2 1702.4h13.3M560.4 1707.4h5.5M563.5 1712.4h1.7M559.9 1729h9.3M582.9 1757.4h5.9M559.9 1765.7h9.3M559.9 1772.4h9.3M559.9 1784.1h9.3M563.5 1789.1h4.6M569.2 1792.4h23.1M561 1799.1h4.6M559.9 1805.8h9.3M561.1 1810.8h1.9M559.9 1812.5h9.3M569.2 1812.5h23.1M559.9 1814.1h9.3M559.9 1817.5h9.3M563.4 1827.5h3.6M559.9 1832.5h9.3M563 1834.1h3.8M559.9 1844.1h9.3M563.8 1849.1h3.8M597.9 1490.5h11M622.9 1592.3h3.6M608.9 1593.9h14M629.8 1550.6h3.4M631.5 1592.3h2.8M648.7 1634h10.4M641 1697.3h8.6M636.1 1834.1h25.4M629.3 1518.9h32.2M629.3 1520.5h32.2M629.3 1525.5h32.2M629.3 1527.2h32.2M629.3 1528.9h32.2M629.3 1532.2h32.2M629.3 1535.5h32.2M629.3 1537.2h32.2M629.3 1538.9h32.2M629.3 1540.5h32.2M629.3 1543.9h32.2M629.3 1547.2h32.2M629.3 1558.9h32.2M629.3 1562.2h32.2M629.3 1567.2h32.2M629.3 1568.9h32.2M629.3 1570.6h32.2M629.3 1572.2h32.2M629.3 1573.9h32.2M629.3 1577.2h32.2M629.3 1578.9h32.2M629.3 1580.6h32.2M629.3 1583.9h32.2M629.3 1585.6h32.2M629.3 1587.3h32.2M629.3 1588.9h32.2M629.3 1590.6h32.2M629.3 1592.3h32.2M629.3 1598.9h32.2M629.3 1603.9h32.2M629.3 1608.9h32.2M669.2 1502.2h17M687.1 1573.9h1.6M686.2 1588.9h3.3M687.3 1602.3h2.1M664.1 1640.6h5.1M664.3 1650.6h1.8M664.5 1675.7h2.8M664.1 1680.7h5.1M667.4 1685.7h1.7M664.1 1704h5.1M664.1 1719h5.1M664.1 1760.7h5.1M664.1 1764.1h5.1M664.1 1774.1h5.1M664.1 1775.8h5.1M666.4 1777.4h1.9M665.1 1782.4h3M664.1 1789.1h5.1M664.1 1802.4h5.1M664.1 1820.8h5.1M664.1 1824.1h5.1M664.8 1834.1h2.8M664.5 1839.1h1.7M664.9 1845.8h2M704.5 1557.2h7.4M692.1 1603.9h21.7M692.1 1677.3h21.7M699.7 1692.3h12.7M692.1 1707.4h21.7M700.3 1715.7h4.8M692.8 1752.4h8.1M692.1 1765.7h21.7M695.8 1769.1h11.7M701.5 1770.7h5.3M692.1 1790.8h21.7M692.1 1825.8h21.7M716.4 1492.2h17.5M717.8 1562.2h8.2M723.4 1629h6.8M724.8 1637.3h7.7M716.4 1745.7h17.5M716.4 1749.1h17.5M720.1 1764.1h10.1M716.4 1775.8h17.5M716.4 1782.4h17.5M720 1784.1h9.7M724.8 1807.4h8.2M716.4 1847.5h17.5M741.6 1629h8.9M743.7 1637.3h5.1M742.1 1664h2.7M736.5 1670.7h16.7M740.7 1704h6.7M736.5 1720.7h16.7M736.5 1759.1h16.7M737.5 1765.7h7.9M736.5 1792.4h16.7M742.8 1795.8h6M742.2 1834.1h8.4M745.9 1847.5h5.3M764.7 1613.9h2.1M762.9 1634h3.6M755.9 1652.3h17.9M766.1 1712.4h7M755.9 1742.4h17.9M758.3 1762.4h2.4M768.6 1800.8h3.1M759.9 1815.8h6.6M755.9 1825.8h17.9M765 1829.1h7.9M759.5 1839.1h4.6M783.4 1618.9h9.2M787.2 1644h4.3M776.4 1712.4h18.5M779.5 1772.4h10.3M784.7 1802.4h5.5M776.4 1807.4h18.5M776.4 1814.1h18.5M787.9 1830.8h4.6M781.1 1837.5h6M806 1612.3h4.4M807 1618.9h1.6M806 1664h4.4M806.5 1704h1.7M806 1737.4h4.4M806.7 1750.7h2.1M806.4 1767.4h2.2M807.4 1769.1h1.7M806 1792.4h4.4M806 1824.1h4.4M815.3 1542.2h3.5M815.8 1563.9h2.8M814.9 1568.9h2.5M814.9 1573.9h2.4M813 1583.9h6M813.1 1617.3h3.1M816 1635.6h1.6M816.7 1657.3h1.8M815.5 1665.7h3.1M813 1677.3h6M813 1687.3h6M815.5 1689h1.7M813 1697.3h6M814.4 1709h2.6M816 1717.4h1.9M814.6 1720.7h2.3M815.6 1729h3.2M813 1732.4h6M816 1739.1h2.8M814.5 1754.1h3.1M816.1 1757.4h2.2M813 1759.1h6M813 1770.7h6M813 1779.1h6M813.9 1785.8h2.3M813 1797.4h6M813 1802.4h6M813.9 1812.5h1.6M813 1827.5h6M813 1849.1h6M836.1 1650.6h1.6M833.1 1735.7h3.6M830.5 1742.4h7.7M830.5 1750.7h7.7M834.5 1779.1h1.7M832.3 1785.8h4.4M831.5 1794.1h2.3M830.5 1810.8h7.7M830.5 1832.5h7.7M833.4 1840.8h3.8M842.6 1595.6h2.1M843.7 1674h2M840.8 1682.3h1.5M842.2 1687.3h4.4M844.2 1740.7h2.2M842.2 1747.4h4.4M840.8 1754.1h1.5M843.4 1757.4h2.3M840.8 1789.1h1.5M840.8 1839.1h1.5M842.7 1840.8h2.6M840.8 1850.8h1.5M840.8 1852.5h1.5M861 1533.9h14.4M861 1577.2h14.4M852.8 1605.6h7M849.2 1622.3h11.8M861 1645.6h14.4M864.4 1664h6.7M861 1675.7h14.4M866.6 1729h4.9M861 1742.4h14.4M861.7 1752.4h8.5M861 1760.7h14.4M855.7 1772.4h5.1M861 1782.4h14.4M861 1792.4h14.4M864.3 1825.8h1.8M849.2 1834.1h11.8M849.2 1845.8h11.8M138 1488.8h58M282.7 1488.8h7.4M491.3 1488.8h35.6M559.9 1488.8h32.4M315.5 1854.2h3.7M716.8 1854.2h8.1M865 1854.2h6.1M374.3 1855.8h7.7M417.9 1855.8h20.6M494.9 1855.8h2.5M643.1 1855.8h6.1M703.4 1855.8h9.6M716.7 1855.8h6M869.6 1855.8h2.3M260.4 1857.5h20.5M312.3 1857.5h45.1M370.1 1857.5h18.9M629.3 1857.5h6.8M636.1 1857.5h25.4M686.2 1857.5h3.3M692.1 1857.5h21.7M716.4 1857.5h17.5M755.9 1857.5h17.9M776.4 1857.5h18.5M842.2 1857.5h4.4M849.2 1857.5h11.8M861 1857.5h14.4M260.4 1859.2h20.5M370.1 1859.2h18.9M396 1859.2h7.2M405.9 1859.2h42.4M491.3 1859.2h7.8M629.3 1859.2h6.8M636.1 1859.2h25.4M686.2 1859.2h3.3M692.1 1859.2h21.7M755.9 1859.2h17.9M776.4 1859.2h18.5M849.2 1859.2h11.8M861 1859.2h14.4M260.4 1860.8h20.5M329.8 1860.8h18.9M371.2 1860.8h6.9M396 1860.8h7.2M491.3 1860.8h7.8M629.3 1860.8h6.8M636.1 1860.8h25.4M686.2 1860.8h3.3M692.1 1860.8h21.7M716.4 1860.8h17.5M755.9 1860.8h17.9M776.4 1860.8h18.5M849.2 1860.8h11.8M861 1860.8h14.4M260.4 1862.5h20.5M370.1 1862.5h18.9M396 1862.5h7.2M491.3 1862.5h7.8M629.3 1862.5h6.8M636.1 1862.5h25.4M686.2 1862.5h3.3M692.1 1862.5h21.7M716.4 1862.5h17.5M736.5 1862.5h16.7M755.9 1862.5h17.9M776.4 1862.5h18.5M842.2 1862.5h4.4M849.2 1862.5h11.8M861 1862.5h14.4M260.4 1864.2h20.5M315.6 1864.2h18.4M370.1 1864.2h18.9M397.3 1864.2h3.2M405.9 1864.2h42.4M629.3 1864.2h6.8M636.1 1864.2h25.4M686.2 1864.2h3.3M716.4 1864.2h17.5M736.5 1864.2h16.7M755.9 1864.2h17.9M776.4 1864.2h18.5M842.2 1864.2h4.4M849.2 1864.2h11.8M861 1864.2h14.4M210.3 1865.8h12.9M312.3 1865.8h45.1M390.1 1865.8h2.7M396 1865.8h7.2M491.3 1865.8h7.8M595.7 1865.8h2M686.2 1865.8h3.3M692.1 1865.8h21.7M716.4 1865.8h17.5M736.5 1865.8h16.7M755.9 1865.8h17.9M776.4 1865.8h18.5M849.2 1865.8h11.8M260.4 1867.5h20.5M312.3 1867.5h45.1M370.1 1867.5h18.9M396 1867.5h7.2M491.3 1867.5h7.8M629.3 1867.5h6.8M692.1 1867.5h21.7M716.4 1867.5h17.5M736.5 1867.5h16.7M760.1 1867.5h5.4M776.4 1867.5h18.5M843.1 1867.5h2.5M861 1867.5h14.4M138 1869.2h38.9M183.8 1869.2h2.1M198.8 1869.2h38.2M237 1869.2h20.6M285.7 1869.2h2.3M381.4 1869.2h6.3M390.1 1869.2h3.1M529.5 1869.2h5.2M534.7 1869.2h22.4M580 1869.2h10.8M595.1 1869.2h2.8M597.9 1869.2h11M608.9 1869.2h14M622.9 1869.2h3.6M629.3 1869.2h6.8M669.2 1869.2h17M686.2 1869.2h3.3M737.7 1869.2h5.9M797.5 1869.2h5.4M138 1870.8h38.9M184.3 1870.8h2.1M198.8 1870.8h38.2M237 1870.8h20.6M262.9 1870.8h4.3M365.7 1870.8h4.2M376.6 1870.8h3.4M529.5 1870.8h5.2M534.7 1870.8h22.4M595.1 1870.8h2.8M597.9 1870.8h11M608.9 1870.8h14M622.9 1870.8h3.6M629.3 1870.8h6.8M669.2 1870.8h17M686.2 1870.8h3.3M797.5 1870.8h5.4M840.8 1870.8h1.5M842.4 1870.8h2.6M388.9 1872.5h7M450.7 1872.5h38.3M491.3 1872.5h7.8M622.9 1872.5h3.6M669.2 1872.5h17M686.2 1872.5h3.3M692.1 1872.5h21.7M736.5 1872.5h16.7M755.9 1872.5h17.9M813 1872.5h6M861 1872.5h14.4M260.4 1874.2h20.5M312.3 1874.2h45.1M370.1 1874.2h18.9M396 1874.2h7.2M405.9 1874.2h42.4M531.6 1874.2h2.9M595.2 1874.2h2.6M632.7 1874.2h2.8M636.1 1874.2h25.4M692.1 1874.2h21.7M716.4 1874.2h17.5M736.5 1874.2h16.7M755.9 1874.2h17.9M776.4 1874.2h18.5M806 1874.2h4.4M830.5 1874.2h7.7M840.8 1874.2h1.5M861 1874.2h14.4M138 1875.8h38.9M182.7 1875.8h2.1M198.8 1875.8h38.2M237 1875.8h20.6M529.5 1875.8h5.2M534.7 1875.8h22.4M595.1 1875.8h2.8M597.9 1875.8h11M608.9 1875.8h14M622.9 1875.8h3.6M629.3 1875.8h6.8M669.2 1875.8h17M686.2 1875.8h3.3M797.5 1875.8h5.4M814.3 1875.8h2.7M843.6 1875.8h2.9M260.4 1877.5h20.5M319.4 1877.5h8.6M491.3 1877.5h7.8M569.2 1877.5h23.1M622.9 1877.5h2.5M636.1 1877.5h25.4M692.1 1877.5h21.7M716.4 1877.5h17.5M736.5 1877.5h16.7M755.9 1877.5h17.9M799.8 1877.5h2.8M830.5 1877.5h7.7M840.8 1877.5h1.5M842.2 1877.5h4.4M861 1877.5h14.4M176.9 1879.2h5M396 1879.2h7.2M405.9 1879.2h42.4M549.2 1879.2h6.6M569.2 1879.2h23.1M692.1 1879.2h21.7M716.4 1879.2h17.5M736.5 1879.2h16.7M755.9 1879.2h17.9M776.4 1879.2h18.5M830.5 1879.2h7.7M840.8 1879.2h1.5M842.2 1879.2h4.4M861 1879.2h14.4M380.6 1880.8h7.9M400 1880.8h2M577.1 1880.8h3.3M782 1880.8h7M840.8 1880.8h1.5M842.6 1880.8h3M862.8 1880.8h4.1M260.8 1882.5h8.3M382.1 1882.5h2.3M397.7 1882.5h3.4M493.4 1882.5h2.8M646.7 1882.5h12.5M693.2 1882.5h8.7M745.1 1882.5h6.7M866.6 1882.5h6.2M407.7 1884.2h7.9M758.9 1884.2h5.4M783.6 1884.2h8.8M177.6 1885.8h2.8M430.6 1885.8h12.5M575.3 1885.8h6M761 1885.8h5.5M807.5 1885.8h2.3M831.6 1885.8h3.3M843.5 1885.8h2.6M178.3 1887.5h3M655.8 1887.5h4M701.1 1887.5h2.8M849.9 1887.5h4.6M178.3 1889.2h2.4M638.8 1889.2h9.1M840.8 1889.2h1.5M842.6 1889.2h2.8M868.1 1889.2h6.6M260.4 1890.9h20.5M312.3 1890.9h45.1M370.1 1890.9h18.9M396 1890.9h7.2M405.9 1890.9h42.4M575.2 1890.9h5M636.1 1890.9h25.4M692.1 1890.9h21.7M716.4 1890.9h17.5M736.5 1890.9h16.7M755.9 1890.9h17.9M776.4 1890.9h18.5M806 1890.9h4.4M830.5 1890.9h7.7M840.8 1890.9h1.5M842.2 1890.9h4.4M139.1 1892.5h10M176.9 1892.5h5M260.4 1892.5h20.5M312.3 1892.5h45.1M370.1 1892.5h18.9M396 1892.5h7.2M595.3 1892.5h2.6M631.8 1892.5h2.4M636.1 1892.5h25.4M686.2 1892.5h2.5M692.1 1892.5h21.7M716.4 1892.5h17.5M736.5 1892.5h16.7M776.4 1892.5h18.5M798.3 1892.5h2.4M806 1892.5h4.4M830.5 1892.5h7.7M842.2 1892.5h4.4M176.9 1894.2h5M251.2 1894.2h4M260.4 1894.2h20.5M312.3 1894.2h45.1M370.1 1894.2h18.9M396 1894.2h7.2M405.9 1894.2h42.4M491.3 1894.2h7.8M569.2 1894.2h23.1M636.1 1894.2h25.4M686.4 1894.2h2.9M692.1 1894.2h21.7M716.4 1894.2h17.5M736.5 1894.2h16.7M757.9 1894.2h7.3M776.4 1894.2h18.5M806 1894.2h4.4M840.8 1894.2h1.5M861 1894.2h14.4M176.9 1895.9h5M260.4 1895.9h20.5M370.1 1895.9h18.9M396 1895.9h7.2M405.9 1895.9h42.4M491.3 1895.9h7.8M569.2 1895.9h23.1M636.1 1895.9h25.4M692.1 1895.9h21.7M724 1895.9h6.8M755.9 1895.9h17.9M797.7 1895.9h2.9M806 1895.9h4.4M830.5 1895.9h7.7M842.2 1895.9h4.4M861 1895.9h14.4M138 1897.5h38.9M181.9 1897.5h5.1M237 1897.5h20.6M260.4 1897.5h20.5M289 1897.5h13M302 1897.5h7.9M559.9 1897.5h9.3M569.2 1897.5h23.1M595.1 1897.5h2.8M597.9 1897.5h11M840.8 1897.5h1.5M842.2 1897.5h4.4M138 1899.2h38.9M177.3 1899.2h2.6M198.8 1899.2h38.2M237 1899.2h20.6M281.2 1899.2h3.1M471.4 1899.2h13.9M529.5 1899.2h5.2M534.7 1899.2h22.4M571.3 1899.2h3.6M595.1 1899.2h2.8M597.9 1899.2h11M608.9 1899.2h14M622.9 1899.2h3.6M629.3 1899.2h6.8M666.1 1899.2h2.5M669.2 1899.2h17M686.2 1899.2h3.3M726.6 1899.2h2.7M797.5 1899.2h5.4M806.3 1899.2h2.2M176.9 1900.9h5M240.5 1900.9h4.8M260.4 1900.9h20.5M312.3 1900.9h45.1M370.1 1900.9h18.9M405.9 1900.9h42.4M491.3 1900.9h7.8M549.4 1900.9h5M623.6 1900.9h2.4M636.1 1900.9h25.4M677 1900.9h5.4M716.4 1900.9h17.5M755.9 1900.9h17.9M776.4 1900.9h18.5M806 1900.9h4.4M830.5 1900.9h7.7M840.8 1900.9h1.5M861 1900.9h14.4M162.1 1902.5h7.8M260.4 1902.5h20.5M312.3 1902.5h45.1M370.1 1902.5h18.9M396 1902.5h7.2M491.3 1902.5h7.8M636.1 1902.5h25.4M692.1 1902.5h21.7M716.4 1902.5h17.5M764.1 1902.5h2.3M806 1902.5h4.4M830.5 1902.5h7.7M840.8 1902.5h1.5M842.2 1902.5h4.4M176.9 1904.2h5M260.4 1904.2h20.5M312.3 1904.2h45.1M396 1904.2h7.2M405.9 1904.2h42.4M491.3 1904.2h7.8M569.2 1904.2h23.1M636.1 1904.2h25.4M692.1 1904.2h21.7M716.4 1904.2h17.5M755.9 1904.2h17.9M806 1904.2h4.4M830.5 1904.2h7.7M840.8 1904.2h1.5M842.2 1904.2h4.4M861 1904.2h14.4M260.4 1905.9h20.5M312.3 1905.9h45.1M370.1 1905.9h18.9M396 1905.9h7.2M491.3 1905.9h7.8M569.2 1905.9h23.1M595.2 1905.9h2.6M602.6 1905.9h4.1M636.1 1905.9h25.4M672.5 1905.9h6.5M687.1 1905.9h2.1M692.1 1905.9h21.7M716.4 1905.9h17.5M736.5 1905.9h16.7M755.9 1905.9h17.9M776.4 1905.9h18.5M806 1905.9h4.4M830.5 1905.9h7.7M844.4 1905.9h2.1M861 1905.9h14.4" stroke="#fdcc8a" stroke-width="1.8" fill="none"/>
<path d="M179.1 1535.5h1.9M176.9 1542.2h5M140.4 1548.9h3.1M176.9 1573.9h5M138 1620.6h38.9M155.7 1627.3h4.2M138 1657.3h38.9M190.3 1674h3.8M138 1675.7h38.9M187 1740.7h9M191.8 1750.7h2.9M138 1765.7h38.9M192.9 1770.7h2.8M187 1777.4h9M155.1 1785.8h7M140.8 1789.1h18.4M156 1804.1h7.3M187 1820.8h9M138 1824.1h38.9M146.1 1844.1h17.9M138 1852.5h38.9M198.8 1558.9h38.2M237 1565.6h20.6M237 1605.6h20.6M203.5 1622.3h21.1M198.8 1627.3h38.2M240.6 1649h5.8M211.1 1652.3h20.4M244.1 1675.7h6M237 1732.4h20.6M244.5 1740.7h8.6M198.8 1764.1h38.2M237 1777.4h20.6M198.8 1790.8h38.2M241.8 1797.4h9.6M198.8 1804.1h38.2M243.2 1804.1h12.3M204.2 1812.5h16.8M198.8 1817.5h38.2M198.8 1824.1h38.2M242.2 1835.8h1.9M245.5 1839.1h9M198.8 1842.5h38.2M297.2 1695.7h4.7M289 1807.4h13M290.7 1820.8h2.4M289 1839.1h13M280.9 1754.1h21M280.9 1812.5h21M280.9 1824.1h21M280.9 1837.5h21M280.9 1839.1h21M388.9 1528.9h7M364.6 1560.6h2.2M450.7 1555.6h38.3M450.7 1573.9h38.3M519.7 1635.6h4M519.1 1665.7h6.2M515.8 1720.7h5.8M518.7 1749.1h6.5M516.7 1804.1h1.7M518.5 1807.4h6.3M522.7 1810.8h3.5M517.6 1817.5h6.4M514.8 1819.1h12.1M520.1 1824.1h1.9M518.7 1849.1h6.2M530.7 1570.6h2.9M529.5 1607.3h5.2M529.5 1617.3h5.2M530.6 1639h1.9M529.9 1674h1.5M534.7 1675.7h22.4M532.1 1689h2.4M534.7 1697.3h22.4M545.7 1720.7h10.1M534.7 1739.1h22.4M534.7 1745.7h22.4M537.8 1754.1h9.2M529.5 1785.8h1.5M534.7 1809.1h22.4M531.7 1810.8h2.6M529.5 1830.8h5.2M597.9 1533.9h11M622.9 1543.9h3.6M599.7 1568.9h4.6M597.9 1573.9h11M597.9 1588.9h11M595.4 1620.6h2.3M622.9 1627.3h3.6M598.2 1634h3.5M623.9 1634h2.4M595.4 1639h1.9M622.9 1644h3.6M622.9 1650.6h3.6M595.9 1657.3h1.9M624 1669h1.7M622.9 1672.3h3.6M622.9 1674h3.6M595.1 1694h2.8M623.5 1699h2M615 1714h7.8M595.5 1717.4h1.7M624.4 1739.1h1.7M616.6 1740.7h6.2M595.1 1744.1h2.8M602.2 1744.1h4.5M610.3 1757.4h3M603.1 1759.1h5M602.2 1774.1h5.2M618.5 1780.8h2.7M624.3 1787.4h1.7M604.1 1790.8h3.3M595.7 1794.1h1.6M598.4 1804.1h4.5M622.9 1805.8h3.6M597.9 1814.1h11M622.9 1830.8h3.6M599 1834.1h3.3M596 1839.1h1.7M609.8 1839.1h3.6M616.8 1849.1h3.6M597.9 1850.8h11M629.3 1630.6h6.8M632.2 1635.6h2M629.3 1662.3h3.7M629.3 1669h6.8M632.9 1699h2.8M629.3 1707.4h6.8M629.3 1709h6.8M629.3 1765.7h6.8M629.3 1805.8h6.8M629.4 1812.5h2.8M632.9 1815.8h1.8M669.2 1540.5h17M686.2 1635.6h3.3M686.2 1659h3.3M687.2 1660.7h2.2M671.3 1682.3h3.2M674.8 1684h7.7M669.2 1704h17M687.1 1720.7h1.7M686.2 1734h3.3M680.7 1740.7h5.1M686.8 1747.4h2.3M671.9 1757.4h9.6M686.2 1757.4h3.3M687.1 1759.1h1.6M686.2 1765.7h3.3M686.2 1767.4h3.3M673.9 1770.7h2.3M686.2 1795.8h3.3M670.6 1809.1h5.7M673.4 1810.8h8.4M670.1 1815.8h1.6M686.2 1830.8h3.3M687.2 1847.5h1.6M686.9 1852.5h2.1M803.7 1543.9h2M808.3 1573.9h1.8M806 1577.2h4.4M797.9 1583.9h3.1M802.9 1603.9h3.1M807.2 1603.9h2.2M797.5 1639h5.4M803.3 1672.3h1.9M802.9 1742.4h3.1M802.9 1755.7h2.3M797.8 1759.1h1.8M800 1779.1h1.6M802.9 1809.1h3.1M797.5 1834.1h5.4M797.5 1844.1h5.4M803.2 1844.1h2M798.7 1850.8h1.7M822.2 1607.3h4.5M819 1644h8.9M819 1664h8.9M819 1740.7h8.9M819.3 1764.1h2.2M822.5 1769.1h5.2M825.1 1849.1h2.5M840.8 1538.9h1.5M290.1 1488.8h11.9M260.4 1854.2h20.5M312.3 1854.2h45.1M370.1 1854.2h18.9M396 1854.2h7.2M405.9 1854.2h42.4M491.3 1854.2h7.8M629.3 1854.2h6.8M636.1 1854.2h25.4M686.2 1854.2h3.3M692.1 1854.2h21.7M716.4 1854.2h17.5M736.5 1854.2h16.7M755.9 1854.2h17.9M776.4 1854.2h18.5M842.2 1854.2h4.4M849.2 1854.2h11.8M861 1854.2h14.4M260.4 1855.8h20.5M312.3 1855.8h45.1M370.1 1855.8h18.9M396 1855.8h7.2M405.9 1855.8h42.4M491.3 1855.8h7.8M629.3 1855.8h6.8M636.1 1855.8h25.4M686.2 1855.8h3.3M692.1 1855.8h21.7M716.4 1855.8h17.5M736.5 1855.8h16.7M755.9 1855.8h17.9M776.4 1855.8h18.5M842.2 1855.8h4.4M849.2 1855.8h11.8M861 1855.8h14.4M178.1 1857.5h2.6M239 1857.5h8.2M363.8 1857.5h4.4M396 1857.5h7.2M405.9 1857.5h42.4M491.3 1857.5h7.8M604.9 1857.5h3.6M736.5 1857.5h16.7M807.2 1857.5h2.3M177.1 1859.2h2.3M312.3 1859.2h45.1M361 1859.2h3.7M630.2 1859.2h2.7M716.4 1859.2h17.5M736.5 1859.2h16.7M799.1 1859.2h2.9M842.2 1859.2h4.4M855.2 1859.2h3.5M245.2 1860.8h4.1M272.4 1860.8h7.9M312.3 1860.8h45.1M370.1 1860.8h18.9M391.3 1860.8h2.8M405.9 1860.8h42.4M455.1 1860.8h15.6M595.1 1860.8h2.8M680 1860.8h2M736.5 1860.8h16.7M803 1860.8h2.5M842.2 1860.8h4.4M140.4 1862.5h6.9M312.3 1862.5h45.1M405.9 1862.5h42.4M460.7 1862.5h16.7M494.5 1862.5h3.4M681.1 1862.5h4.2M840.8 1862.5h1.5M144.3 1864.2h6.9M246.5 1864.2h3.6M312.3 1864.2h45.1M363.6 1864.2h2.8M396 1864.2h7.2M491.3 1864.2h7.8M630.7 1864.2h3.3M692.1 1864.2h21.7M726.1 1864.2h5.9M762.5 1864.2h2.2M799.1 1864.2h2.4M843.1 1864.2h2.6M138 1865.8h38.9M176.9 1865.8h5M198.8 1865.8h38.2M237 1865.8h20.6M360 1865.8h10.1M388.9 1865.8h7M450.7 1865.8h38.3M495.1 1865.8h3.7M595.1 1865.8h2.8M597.9 1865.8h11M651 1865.8h9.3M664.1 1865.8h5.1M669.2 1865.8h17M797.5 1865.8h5.4M802.9 1865.8h3.1M806 1865.8h4.4M830.5 1865.8h7.7M840.8 1865.8h1.5M208.3 1867.5h5.4M249.5 1867.5h7.2M384.1 1867.5h4.6M405.9 1867.5h42.4M494.7 1867.5h2.4M601.9 1867.5h2.9M636.1 1867.5h25.4M686.2 1867.5h3.3M755.9 1867.5h17.9M842.2 1867.5h4.4M849.2 1867.5h11.8M181.9 1869.2h5.1M280.9 1869.2h8M360 1869.2h10.1M388.9 1869.2h7M421 1869.2h3.9M450.7 1869.2h38.3M499.1 1869.2h15.7M542.4 1869.2h4.5M559.9 1869.2h9.3M664.1 1869.2h5.1M800 1869.2h2.2M813 1869.2h6M181.9 1870.8h5.1M280.9 1870.8h8M360 1870.8h10.1M388.9 1870.8h7M450.7 1870.8h38.3M499.1 1870.8h15.7M559.9 1870.8h9.3M664.1 1870.8h5.1M813 1870.8h6M138 1874.2h38.9M198.8 1874.2h38.2M237 1874.2h20.6M376.2 1874.2h9.2M529.5 1874.2h5.2M534.7 1874.2h22.4M595.1 1874.2h2.8M597.9 1874.2h11M608.9 1874.2h14M622.9 1874.2h3.6M629.3 1874.2h6.8M669.2 1874.2h17M686.2 1874.2h3.3M700 1874.2h3.2M725.8 1874.2h7.7M797.5 1874.2h5.4M834 1874.2h2.1M181.9 1875.8h5.1M280.9 1875.8h8M360 1875.8h10.1M388.9 1875.8h7M398.1 1875.8h3M450.7 1875.8h38.3M499.1 1875.8h15.7M519 1875.8h4.6M559.9 1875.8h9.3M614.1 1875.8h5.8M664.1 1875.8h5.1M721.5 1875.8h6.2M813 1875.8h6M138 1877.5h38.9M198.8 1877.5h38.2M237 1877.5h20.6M263.2 1877.5h4.9M281 1877.5h2.2M495.1 1877.5h3.4M529.5 1877.5h5.2M534.7 1877.5h22.4M595.1 1877.5h2.8M597.9 1877.5h11M608.9 1877.5h14M622.9 1877.5h3.6M629.3 1877.5h6.8M669.2 1877.5h17M686.2 1877.5h3.3M797.5 1877.5h5.4M840.8 1877.5h1.5M138 1879.2h38.9M198.8 1879.2h38.2M237 1879.2h20.6M398.3 1879.2h3.4M463.5 1879.2h12.5M529.5 1879.2h5.2M534.7 1879.2h22.4M595.1 1879.2h2.8M597.9 1879.2h11M608.9 1879.2h14M622.9 1879.2h3.6M629.3 1879.2h6.8M666.5 1879.2h2.6M669.2 1879.2h17M686.2 1879.2h3.3M737.7 1879.2h7.5M797.5 1879.2h5.4M176.9 1880.8h5M260.4 1880.8h20.5M312.3 1880.8h45.1M370.1 1880.8h18.9M396 1880.8h7.2M405.9 1880.8h42.4M491.3 1880.8h7.8M569.2 1880.8h23.1M636.1 1880.8h25.4M692.1 1880.8h21.7M716.4 1880.8h17.5M736.5 1880.8h16.7M755.9 1880.8h17.9M776.4 1880.8h18.5M806 1880.8h4.4M830.5 1880.8h7.7M840.8 1880.8h1.5M842.2 1880.8h4.4M861 1880.8h14.4M176.9 1882.5h5M260.4 1882.5h20.5M312.3 1882.5h45.1M370.1 1882.5h18.9M396 1882.5h7.2M405.9 1882.5h42.4M491.3 1882.5h7.8M569.2 1882.5h23.1M636.1 1882.5h25.4M692.1 1882.5h21.7M716.4 1882.5h17.5M736.5 1882.5h16.7M755.9 1882.5h17.9M776.4 1882.5h18.5M806 1882.5h4.4M830.5 1882.5h7.7M840.8 1882.5h1.5M842.2 1882.5h4.4M861 1882.5h14.4M176.9 1884.2h5M260.4 1884.2h20.5M312.3 1884.2h45.1M370.1 1884.2h18.9M396 1884.2h7.2M405.9 1884.2h42.4M491.3 1884.2h7.8M569.2 1884.2h23.1M636.1 1884.2h25.4M692.1 1884.2h21.7M716.4 1884.2h17.5M736.5 1884.2h16.7M755.9 1884.2h17.9M776.4 1884.2h18.5M806 1884.2h4.4M830.5 1884.2h7.7M840.8 1884.2h1.5M842.2 1884.2h4.4M861 1884.2h14.4M176.9 1885.8h5M260.4 1885.8h20.5M312.3 1885.8h45.1M370.1 1885.8h18.9M396 1885.8h7.2M405.9 1885.8h42.4M491.3 1885.8h7.8M569.2 1885.8h23.1M636.1 1885.8h25.4M692.1 1885.8h21.7M716.4 1885.8h17.5M736.5 1885.8h16.7M755.9 1885.8h17.9M776.4 1885.8h18.5M806 1885.8h4.4M830.5 1885.8h7.7M840.8 1885.8h1.5M842.2 1885.8h4.4M861 1885.8h14.4M176.9 1887.5h5M260.4 1887.5h20.5M312.3 1887.5h45.1M370.1 1887.5h18.9M396 1887.5h7.2M405.9 1887.5h42.4M491.3 1887.5h7.8M569.2 1887.5h23.1M636.1 1887.5h25.4M692.1 1887.5h21.7M716.4 1887.5h17.5M736.5 1887.5h16.7M755.9 1887.5h17.9M776.4 1887.5h18.5M806 1887.5h4.4M830.5 1887.5h7.7M840.8 1887.5h1.5M842.2 1887.5h4.4M861 1887.5h14.4M176.9 1889.2h5M260.4 1889.2h20.5M312.3 1889.2h45.1M370.1 1889.2h18.9M396 1889.2h7.2M405.9 1889.2h42.4M491.3 1889.2h7.8M569.2 1889.2h23.1M636.1 1889.2h25.4M692.1 1889.2h21.7M716.4 1889.2h17.5M736.5 1889.2h16.7M755.9 1889.2h17.9M776.4 1889.2h18.5M806 1889.2h4.4M830.5 1889.2h7.7M840.8 1889.2h1.5M842.2 1889.2h4.4M861 1889.2h14.4M176.9 1890.9h5M491.3 1890.9h7.8M530.9 1890.9h2.2M537.1 1890.9h7.7M569.2 1890.9h23.1M654.4 1890.9h5.5M670.8 1890.9h4.2M799.7 1890.9h3M861 1890.9h14.4M138 1892.5h38.9M177.8 1892.5h2.6M198.8 1892.5h38.2M237 1892.5h20.6M284.4 1892.5h2.4M365 1892.5h2.4M380.1 1892.5h8.8M420.9 1892.5h19.5M529.5 1892.5h5.2M534.7 1892.5h22.4M595.1 1892.5h2.8M597.9 1892.5h11M608.9 1892.5h14M622.9 1892.5h3.6M629.3 1892.5h6.8M669.2 1892.5h17M686.2 1892.5h3.3M740.8 1892.5h6M797.5 1892.5h5.4M815.2 1892.5h2.4M138 1894.2h38.9M198.8 1894.2h38.2M237 1894.2h20.6M370.6 1894.2h2.1M529.5 1894.2h5.2M534.7 1894.2h22.4M595.1 1894.2h2.8M597.9 1894.2h11M608.9 1894.2h14M622.9 1894.2h3.6M629.3 1894.2h6.8M669.2 1894.2h17M686.2 1894.2h3.3M786.7 1894.2h3.3M797.5 1894.2h5.4M863.2 1894.2h4.9M138 1895.9h38.9M198.8 1895.9h38.2M237 1895.9h20.6M323.2 1895.9h20.9M363.9 1895.9h4.3M529.5 1895.9h5.2M534.7 1895.9h22.4M595.1 1895.9h2.8M597.9 1895.9h11M608.9 1895.9h14M622.9 1895.9h3.6M629.3 1895.9h6.8M666.9 1895.9h2.2M669.2 1895.9h17M686.2 1895.9h3.3M797.5 1895.9h5.4M198.8 1897.5h38.2M280.9 1897.5h8M396 1897.5h7.2M608.9 1897.5h14M664.1 1897.5h5.1M686.2 1897.5h3.3M736.5 1897.5h16.7M806 1897.5h4.4M849.2 1897.5h11.8M146.2 1899.2h11.4M181.9 1899.2h5.1M280.9 1899.2h8M330.7 1899.2h11.1M360 1899.2h10.1M388.9 1899.2h7M450.7 1899.2h38.3M499.1 1899.2h15.7M559.9 1899.2h9.3M598.9 1899.2h2.2M630.3 1899.2h2.5M664.1 1899.2h5.1M813 1899.2h6M843.3 1899.2h2.7M138 1900.9h38.9M198.8 1900.9h38.2M237 1900.9h20.6M324.1 1900.9h17.6M374.1 1900.9h3.6M491.4 1900.9h3M529.5 1900.9h5.2M534.7 1900.9h22.4M561.6 1900.9h4M595.1 1900.9h2.8M597.9 1900.9h11M608.9 1900.9h14M622.9 1900.9h3.6M629.3 1900.9h6.8M669.2 1900.9h17M686.2 1900.9h3.3M704.1 1900.9h9.3M740.1 1900.9h5.4M797.5 1900.9h5.4M815.4 1900.9h2.9M843.4 1900.9h2.3M138 1902.5h38.9M182.3 1902.5h2.6M198.8 1902.5h38.2M237 1902.5h20.6M272.7 1902.5h7.8M330.2 1902.5h22.2M529.5 1902.5h5.2M534.7 1902.5h22.4M595.1 1902.5h2.8M597.9 1902.5h11M608.9 1902.5h14M622.9 1902.5h3.6M629.3 1902.5h6.8M669.2 1902.5h17M686.2 1902.5h3.3M797.5 1902.5h5.4M854.3 1902.5h5.1M179.6 1904.2h2.2M370.1 1904.2h18.9M736.5 1904.2h16.7M776.4 1904.2h18.5M138 1905.9h38.9M198.8 1905.9h38.2M237 1905.9h20.6M459.2 1905.9h4.3M529.5 1905.9h5.2M534.7 1905.9h22.4M595.1 1905.9h2.8M597.9 1905.9h11M608.9 1905.9h14M622.9 1905.9h3.6M629.3 1905.9h6.8M666.5 1905.9h2.6M669.2 1905.9h17M686.2 1905.9h3.3M739.7 1905.9h3.7M797.5 1905.9h5.4M807.6 1905.9h2.3M813.4 1905.9h2.7" stroke="#f58d5c" stroke-width="1.8" fill="none"/>
<path d="M138 1542.2h38.9M138 1565.6h38.9M166.8 1607.3h2.9M145.2 1625.6h2M149.9 1629h19.5M152 1650.6h19M169.6 1654h5M138 1697.3h38.9M138 1707.4h38.9M162.9 1717.4h2M152.5 1722.4h13.4M138 1739.1h38.9M153.8 1767.4h20.2M138 1775.8h38.9M146.2 1787.4h23M138 1802.4h38.9M141.5 1820.8h10.7M152 1827.5h9.2M148.9 1840.8h13.2M198.8 1518.9h38.2M213.7 1523.9h17.9M198.8 1543.9h38.2M201.6 1563.9h18.1M244.3 1595.6h9.6M237 1644h20.6M241.2 1647.3h4.4M198.8 1654h38.2M198.8 1692.3h38.2M237 1714h20.6M245 1724h4.2M237 1730.7h20.6M237 1734h20.6M198.8 1742.4h38.2M237 1745.7h20.6M245.6 1749.1h2.2M198.8 1750.7h38.2M237 1772.4h20.6M198.8 1774.1h38.2M237 1775.8h20.6M248.8 1782.4h5M219.3 1794.1h15.7M245.1 1794.1h11.1M211.4 1800.8h13.8M200.1 1805.8h13.3M237 1807.4h20.6M237 1809.1h20.6M198.8 1815.8h38.2M229.7 1819.1h2.7M198.8 1820.8h38.2M237 1824.1h20.6M219.1 1827.5h5.9M198.8 1835.8h38.2M237.3 1752.4h20.3M237.6 1754.1h20M241.4 1757.4h16.2M237.2 1760.7h20.4M244.3 1762.4h13.3M237.3 1764.1h20.3M243.2 1765.7h14.4M244.3 1772.4h13.3M236.5 1774.1h21.1M244.3 1780.8h13.3M240.4 1784.1h17.2M241 1790.8h16.6M237.9 1807.4h19.7M245.7 1812.5h11.9M236.6 1814.1h21M236.9 1815.8h20.7M233.6 1819.1h24M243.1 1825.8h14.5M238 1830.8h19.6M243.8 1832.5h13.8M236.3 1837.5h21.3M242.7 1842.5h14.9M238.6 1844.1h19M239.5 1845.8h18.1M232.4 1847.5h25.2M242.6 1850.8h15M237.2 1852.5h20.4M391.9 1522.2h3.1M360 1527.2h10.1M393.7 1547.2h1.7M392.4 1555.6h3.5M364 1570.6h5.4M360 1585.6h10.1M388.9 1587.3h7M450.7 1563.9h38.3M452.4 1582.2h10.3M473.4 1605.6h11.9M534.7 1613.9h22.4M531.4 1635.6h2.6M529.5 1644h5.2M538.6 1647.3h12.6M529.7 1649h2.5M534.7 1665.7h22.4M529.5 1667.3h5.2M543.4 1680.7h3.9M530.7 1690.7h1.8M540.1 1700.7h12.8M534.7 1710.7h22.4M542.7 1719h4.6M534.7 1734h22.4M543.1 1760.7h9.2M529.6 1762.4h2.6M529.5 1765.7h5.2M534.7 1774.1h22.4M532 1775.8h2.5M531.5 1779.1h1.5M530.5 1782.4h1.6M529.5 1794.1h5.2M529.5 1797.4h5.2M531.1 1814.1h2.7M534.7 1822.5h22.4M545 1824.1h11.2M547.6 1829.1h5.9M537.5 1830.8h10.1M531.2 1845.8h2.3M602.5 1538.9h4.3M601.9 1562.2h5.5M595.4 1563.9h2.5M603.7 1565.6h4.6M595.4 1570.6h1.9M595.1 1590.6h2.8M595.8 1607.3h1.7M610.7 1613.9h7.1M595.4 1618.9h1.9M595.1 1624h2.4M597.9 1642.3h11M608.9 1644h14M595.1 1645.6h2.8M601.1 1649h2.7M595.6 1660.7h2.1M619.4 1662.3h2.1M615.9 1665.7h4.3M624 1680.7h2.1M595.1 1690.7h2.8M595.3 1692.3h2.3M596 1700.7h1.7M622.9 1705.7h3.6M595.3 1710.7h2.3M598.8 1710.7h4.4M623.8 1710.7h1.9M613.2 1717.4h4.3M595.2 1729h1.7M599.9 1732.4h4.4M598.1 1742.4h4.8M613.1 1744.1h8.1M605.6 1747.4h1.6M622.9 1747.4h3.6M595.4 1749.1h2.3M617.3 1755.7h2.8M622.9 1760.7h3.6M623.3 1764.1h1.9M597.9 1772.4h11M595.1 1774.1h2.8M623.8 1775.8h1.7M608.9 1782.4h14M608.9 1784.1h14M623.6 1784.1h2.5M610.2 1785.8h5.8M622.9 1785.8h3.6M613.5 1787.4h8.4M623.9 1790.8h2.3M622.9 1792.4h3.6M617 1794.1h2.8M595.9 1797.4h1.6M595.6 1799.1h2M624.5 1804.1h1.8M597.9 1805.8h11M597.9 1807.4h11M623.1 1807.4h1.7M595.5 1809.1h2.4M595.1 1817.5h2.8M622.9 1819.1h3.6M595.5 1824.1h2.3M609.4 1825.8h6.5M603.1 1827.5h4.7M595.1 1829.1h2.8M616.2 1830.8h2.3M623.8 1832.5h2M622.9 1834.1h3.6M596.2 1835.8h1.7M624.2 1840.8h1.8M616.2 1844.1h6M596.2 1850.8h1.5M611.3 1850.8h7.8M624.1 1850.8h1.9M595.1 1852.5h1.8M629.3 1612.3h6.8M629.3 1613.9h6.8M631.3 1622.3h4M629.3 1639h6.8M629.3 1649h6.8M632.9 1670.7h2.3M629.3 1725.7h6.8M629.6 1749.1h3.8M629.3 1757.4h6.8M630.4 1759.1h2.1M633.5 1762.4h2.3M629.3 1767.4h6.8M632 1774.1h3.7M630 1782.4h1.5M629.3 1789.1h6.8M629.5 1790.8h3.9M629.3 1824.1h6.8M629.3 1830.8h6.8M664.1 1525.5h5.1M665.9 1560.6h2.3M670.7 1563.9h6.3M669.2 1570.6h17M664.1 1572.2h5.1M669.9 1587.3h2.9M675.3 1600.6h10.1M672 1624h5.3M669.2 1635.6h17M670.4 1664h8.5M669.2 1685.7h17M669.2 1690.7h17M687.5 1692.3h1.7M669.2 1697.3h17M669.2 1722.4h17M672 1732.4h9.4M686.8 1735.7h2.1M686.2 1740.7h3.3M686.2 1744.1h3.3M669.2 1760.7h17M679.4 1772.4h5.1M679.4 1774.1h4.3M686.2 1779.1h3.3M670.6 1782.4h7.1M686.2 1785.8h3.3M669.2 1794.1h17M678.5 1795.8h3.4M686.3 1797.4h1.6M686.2 1805.8h3.3M669.2 1807.4h17M686.2 1807.4h3.3M686.4 1809.1h1.7M669.2 1820.8h17M686.2 1822.5h3.3M687 1825.8h2M671.7 1827.5h4.6M686.2 1829.1h3.3M686.2 1834.1h3.3M669.2 1844.1h17M669.2 1849.1h17M686.2 1850.8h3.3M806 1545.6h4.4M802.9 1577.2h3.1M806.4 1595.6h2.5M799 1620.6h3.2M800.2 1685.7h1.7M797.5 1702.4h5.4M797.5 1704h5.4M797.7 1740.7h3M798.9 1762.4h3.1M797.5 1774.1h5.4M798.3 1777.4h2.9M797.5 1785.8h5.4M797.5 1794.1h5.4M797.5 1802.4h5.4M798.9 1812.5h2.1M797.5 1814.1h5.4M797.5 1815.8h5.4M800.8 1817.5h1.6M797.5 1827.5h5.4M797.5 1839.1h5.4M799.5 1840.8h1.5M830.5 1528.9h7.7M833.5 1542.2h3.8M830.5 1545.6h7.7M831.4 1557.2h2.1M834.9 1562.2h1.7M834.7 1563.9h2.6M830.5 1588.9h7.7M840.8 1528.9h1.5M840.8 1532.2h1.5M840.8 1533.9h1.5M840.8 1557.2h1.5M840.8 1575.6h1.5M450.7 1488.8h38.3M692.1 1488.8h21.7M716.4 1488.8h17.5M736.5 1488.8h16.7M755.9 1488.8h17.9M776.4 1488.8h18.5M830.5 1488.8h7.7M380.2 1857.5h7.2M718.6 1857.5h6.7M863.7 1859.2h3.5M719.8 1860.8h8.3M767.5 1860.8h5.7M777.1 1860.8h7.7M371.8 1862.5h5.5M686.8 1862.5h2.5M705.9 1862.5h4.1M718 1862.5h7.2M737 1862.5h3.7M781.3 1862.5h6.1M262.5 1864.2h5.9M650.4 1864.2h8.7M260.4 1865.8h20.5M370.1 1865.8h18.9M405.9 1865.8h42.4M629.3 1865.8h6.8M636.1 1865.8h25.4M686.5 1865.8h2.5M727.1 1865.8h4.4M784.7 1865.8h3M842.2 1865.8h4.4M855.4 1865.8h4.6M861 1865.8h14.4M400.6 1867.5h2.5M777.6 1867.5h8M176.9 1869.2h5M219.5 1869.2h9M242.3 1869.2h7.3M260.4 1869.2h20.5M312.3 1869.2h45.1M370.1 1869.2h18.9M396 1869.2h7.2M405.9 1869.2h42.4M491.3 1869.2h7.8M532.3 1869.2h2.3M569.2 1869.2h23.1M598.5 1869.2h3.9M617.9 1869.2h3.9M633.2 1869.2h2.7M636.1 1869.2h25.4M686.3 1869.2h2.7M692.1 1869.2h21.7M716.4 1869.2h17.5M736.5 1869.2h16.7M755.9 1869.2h17.9M776.4 1869.2h18.5M806 1869.2h4.4M830.5 1869.2h7.7M840.8 1869.2h1.5M842.2 1869.2h4.4M861 1869.2h14.4M176.9 1870.8h5M260.4 1870.8h20.5M312.3 1870.8h45.1M370.1 1870.8h18.9M396 1870.8h7.2M405.9 1870.8h42.4M491.3 1870.8h7.8M569.2 1870.8h23.1M636.1 1870.8h25.4M692.1 1870.8h21.7M716.4 1870.8h17.5M736.5 1870.8h16.7M755.9 1870.8h17.9M776.4 1870.8h18.5M806 1870.8h4.4M830.5 1870.8h7.7M840.8 1870.8h1.5M842.2 1870.8h4.4M861 1870.8h14.4M312.3 1872.5h45.1M529.5 1872.5h5.2M534.7 1872.5h22.4M636.1 1872.5h25.4M802.9 1872.5h3.1M830.5 1872.5h7.7M176.9 1874.2h5M399.6 1874.2h2.2M491.3 1874.2h7.8M569.2 1874.2h23.1M654.4 1874.2h6.1M757.4 1874.2h5.9M806.5 1874.2h2.2M842.2 1874.2h4.4M869.5 1874.2h5.4M176.9 1875.8h5M260.4 1875.8h20.5M312.3 1875.8h45.1M370.1 1875.8h18.9M396 1875.8h7.2M405.9 1875.8h42.4M491.3 1875.8h7.8M569.2 1875.8h23.1M636.1 1875.8h25.4M692.1 1875.8h21.7M716.4 1875.8h17.5M736.5 1875.8h16.7M755.9 1875.8h17.9M776.4 1875.8h18.5M806 1875.8h4.4M830.5 1875.8h7.7M840.8 1875.8h1.5M842.2 1875.8h4.4M851 1875.8h3.7M861 1875.8h14.4M176.9 1877.5h5M312.3 1877.5h45.1M370.1 1877.5h18.9M396 1877.5h7.2M405.9 1877.5h42.4M697.2 1877.5h5.3M746 1877.5h3.4M776.4 1877.5h18.5M806 1877.5h4.4M832.6 1877.5h3.3M842.3 1877.5h2.8M177.5 1879.2h2.7M260.4 1879.2h20.5M312.3 1879.2h45.1M370.1 1879.2h18.9M491.3 1879.2h7.8M636.1 1879.2h25.4M806 1879.2h4.4M832.5 1879.2h2.5M851.3 1879.2h5.1M849.2 1880.8h11.8M849.2 1882.5h11.8M849.2 1884.2h11.8M849.2 1885.8h11.8M849.2 1887.5h11.8M849.2 1889.2h11.8M333.1 1890.9h14.4M410 1890.9h6.2M696.6 1890.9h6.4M727.9 1890.9h3.2M756.3 1890.9h2.1M777.5 1890.9h3.6M849.2 1890.9h11.8M405.9 1892.5h42.4M491.3 1892.5h7.8M569.2 1892.5h23.1M651.6 1892.5h9.5M755.9 1892.5h17.9M840.8 1892.5h1.5M842.5 1892.5h2.9M861 1892.5h14.4M315.2 1894.2h11.9M407.9 1894.2h17.9M493 1894.2h2.5M697.2 1894.2h4.9M755.9 1894.2h17.9M830.5 1894.2h7.7M842.2 1894.2h4.4M855 1894.2h5.8M312.3 1895.9h45.1M398.4 1895.9h2.7M495.3 1895.9h2.2M569.2 1895.9h3M716.4 1895.9h17.5M736.5 1895.9h16.7M776.4 1895.9h18.5M840.8 1895.9h1.5M187 1897.5h9M370.1 1897.5h18.9M388.9 1897.5h7M450.7 1897.5h38.3M534.7 1897.5h22.4M622.9 1897.5h3.6M669.2 1897.5h17M797.5 1897.5h5.4M813 1897.5h6M819 1897.5h8.9M830.5 1897.5h7.7M861 1897.5h14.4M176.9 1899.2h5M254.2 1899.2h2.1M260.4 1899.2h20.5M312.3 1899.2h45.1M370.1 1899.2h18.9M396 1899.2h7.2M405.9 1899.2h42.4M491.3 1899.2h7.8M569.2 1899.2h23.1M613.7 1899.2h6.9M636.1 1899.2h25.4M686.3 1899.2h2.8M692.1 1899.2h21.7M716.4 1899.2h17.5M736.5 1899.2h16.7M755.9 1899.2h17.9M776.4 1899.2h18.5M806 1899.2h4.4M830.5 1899.2h7.7M840.8 1899.2h1.5M842.2 1899.2h4.4M861 1899.2h14.4M177.7 1900.9h2.2M396 1900.9h7.2M569.2 1900.9h23.1M692.1 1900.9h21.7M736.5 1900.9h16.7M830.8 1900.9h2.7M840.8 1900.9h1.5M842.2 1900.9h4.4M176.9 1902.5h5M405.9 1902.5h42.4M492.9 1902.5h3.5M569.2 1902.5h23.1M736.5 1902.5h16.7M755.9 1902.5h17.9M776.4 1902.5h18.5M849.2 1902.5h11.8M861 1902.5h14.4M494.4 1904.2h3.2M765.3 1904.2h3.1M849.2 1904.2h11.8M866 1904.2h2.6M176.9 1905.9h5M314.4 1905.9h3.7M372.7 1905.9h6.2M405.9 1905.9h42.4M493.6 1905.9h3.9M644.8 1905.9h9.9M840.8 1905.9h1.5M842.2 1905.9h4.4M868.3 1905.9h6.1" stroke="#cccccb" stroke-width="1.8" fill="none"/>
<path d="M188.3 1562.2h3.4M181.9 1590.6h5.1M289 1615.6h13M302 1624h7.9M306 1625.6h1.9M302 1640.6h7.9M302 1652.3h7.9M289 1654h13M304.9 1719h4.6M289 1765.7h13M302.9 1795.8h1.5M289 1804.1h13M303.1 1810.8h2.4M289 1815.8h13M298.5 1819.1h2M302 1822.5h7.9M289 1830.8h13M289 1840.8h13M304.8 1842.5h3.5M292 1849.1h5.8M289 1850.8h13M302 1612.3h7.9M302 1613.9h7.9M302 1617.3h7.9M302 1618.9h7.9M302 1620.6h7.9M302 1622.3h7.9M302 1624h7.9M302 1627.3h7.9M302 1632.3h7.9M302 1634h7.9M302 1649h7.9M302 1654h7.9M302 1655.6h7.9M302 1657.3h7.9M302 1659h7.9M302 1665.7h7.9M302 1667.3h7.9M302 1675.7h7.9M302 1677.3h7.9M302 1682.3h7.9M302 1685.7h7.9M302 1687.3h7.9M302 1689h7.9M302 1690.7h7.9M302 1694h7.9M302 1695.7h7.9M302 1697.3h7.9M302 1700.7h7.9M302 1702.4h7.9M302 1704h7.9M302 1709h7.9M302 1710.7h7.9M302 1712.4h7.9M302 1715.7h7.9M302 1717.4h7.9M302 1720.7h7.9M302 1722.4h7.9M302 1724h7.9M302 1729h7.9M302 1732.4h7.9M302 1734h7.9M302 1737.4h7.9M302 1740.7h7.9M302 1742.4h7.9M280.9 1742.4h21M302 1744.1h7.9M302 1749.1h7.9M302 1750.7h7.9M302 1754.1h7.9M280.9 1759.1h21M302 1760.7h7.9M302 1764.1h7.9M280.9 1764.1h21M302 1765.7h7.9M280.9 1765.7h21M302 1767.4h7.9M280.9 1767.4h21M302 1769.1h7.9M302 1772.4h7.9M302 1774.1h7.9M302 1777.4h7.9M302 1780.8h7.9M302 1787.4h7.9M302 1789.1h7.9M302 1790.8h7.9M302 1792.4h7.9M302 1797.4h7.9M302 1799.1h7.9M302 1800.8h7.9M302 1804.1h7.9M302 1810.8h7.9M280.9 1810.8h21M302 1812.5h7.9M302 1815.8h7.9M302 1817.5h7.9M302 1820.8h7.9M302 1822.5h7.9M302 1827.5h7.9M302 1829.1h7.9M302 1830.8h7.9M302 1834.1h7.9M302 1835.8h7.9M302 1837.5h7.9M302 1847.5h7.9M302 1849.1h7.9M522 1627.3h2.3M518.2 1689h7.1M516.3 1725.7h2.2M515.1 1742.4h3.6M519.3 1752.4h5.9M521.8 1755.7h3.7M514.8 1774.1h12.1M515.5 1775.8h3M518.2 1809.1h1.6M514.8 1827.5h12.1M516.1 1837.5h3M516.8 1840.8h4.5M530.4 1520.5h2.8M529.5 1530.5h5.2M611.9 1527.2h7.2M624.4 1552.2h1.7M608.9 1568.9h14M302 1488.8h7.9M138 1854.2h38.9M176.9 1854.2h5M198.8 1854.2h38.2M237 1854.2h20.6M273 1854.2h6.9M360 1854.2h10.1M388.9 1854.2h7M450.7 1854.2h38.3M595.1 1854.2h2.8M597.9 1854.2h11M630.7 1854.2h2.1M664.1 1854.2h5.1M669.2 1854.2h17M797.5 1854.2h5.4M802.9 1854.2h3.1M806 1854.2h4.4M830.5 1854.2h7.7M840.8 1854.2h1.5M138 1855.8h38.9M176.9 1855.8h5M198.8 1855.8h38.2M237 1855.8h20.6M360 1855.8h10.1M388.9 1855.8h7M396.5 1855.8h2.6M450.7 1855.8h38.3M595.1 1855.8h2.8M597.9 1855.8h11M664.1 1855.8h5.1M669.2 1855.8h17M797.5 1855.8h5.4M802.9 1855.8h3.1M806 1855.8h4.4M830.5 1855.8h7.7M840.8 1855.8h1.5M397.1 1857.5h3.1M534.7 1857.5h22.4M569.2 1857.5h23.1M666.9 1857.5h2.3M803 1857.5h2.9M390.9 1859.2h3.1M499.1 1859.2h15.7M575 1859.2h9.3M595.1 1859.2h2.8M720.6 1859.2h6.6M745.7 1859.2h3.5M289 1860.8h13M422.7 1860.8h7.3M499.1 1860.8h15.7M559.9 1860.8h9.3M280.9 1862.5h8M366.6 1862.5h2.3M499.1 1862.5h15.7M534.7 1862.5h22.4M563.4 1862.5h3.6M569.2 1862.5h23.1M806.9 1862.5h2.9M284.5 1864.2h3.8M289 1864.2h13M466 1864.2h4.2M493.7 1864.2h3M559.9 1864.2h9.3M606.4 1864.2h2.2M153.9 1865.8h9M280.9 1865.8h8M289 1865.8h13M514.8 1865.8h12.1M529.5 1865.8h5.2M534.7 1865.8h22.4M573.6 1865.8h7.5M675 1865.8h5.1M813.4 1865.8h3M840.8 1865.8h1.5M283.3 1867.5h3.6M499.1 1867.5h15.7M569.2 1867.5h23.1M640.3 1867.5h3.5M665.2 1867.5h2M798.2 1867.5h2.8M803 1867.5h2.9M187 1869.2h9M305.3 1869.2h3.3M802.9 1869.2h3.1M819 1869.2h8.9M187 1870.8h9M304 1870.8h3.1M504.5 1870.8h5.7M560.3 1870.8h3.2M802.9 1870.8h3.1M819 1870.8h8.9M181.9 1874.2h5.1M280.9 1874.2h8M360 1874.2h10.1M450.7 1874.2h38.3M547.9 1874.2h2.4M559.9 1874.2h9.3M604 1874.2h3.5M622.9 1874.2h2.9M673.7 1874.2h7.7M187 1875.8h9M390.4 1875.8h3.1M469.5 1875.8h10.8M802.9 1875.8h3.1M819 1875.8h8.9M292 1877.5h3.5M362.8 1877.5h3.6M388.9 1877.5h7M559.9 1877.5h9.3M666.5 1877.5h2.2M670.4 1877.5h4.7M813 1877.5h6M145.7 1879.2h11.2M182.8 1879.2h2.2M360 1879.2h10.1M388.9 1879.2h7M504.1 1879.2h7.8M559.9 1879.2h9.3M604.6 1879.2h2.9M623 1879.2h2.1M632.6 1879.2h2.1M138 1880.8h38.9M198.8 1880.8h38.2M237 1880.8h20.6M409.3 1880.8h10.6M529.5 1880.8h5.2M534.7 1880.8h22.4M595.1 1880.8h2.8M597.9 1880.8h11M608.9 1880.8h14M622.9 1880.8h3.6M629.3 1880.8h6.8M669.2 1880.8h17M686.2 1880.8h3.3M797.5 1880.8h5.4M831.6 1880.8h3.6M138 1882.5h38.9M178.8 1882.5h2.2M198.8 1882.5h38.2M237 1882.5h20.6M529.5 1882.5h5.2M534.7 1882.5h22.4M595.1 1882.5h2.8M597.9 1882.5h11M608.9 1882.5h14M622.9 1882.5h3.6M629.3 1882.5h6.8M669.2 1882.5h17M686.2 1882.5h3.3M769 1882.5h2.6M785.9 1882.5h8.1M797.5 1882.5h5.4M138 1884.2h38.9M177.1 1884.2h2.3M198.8 1884.2h38.2M237 1884.2h20.6M376.9 1884.2h7.4M399.5 1884.2h3.1M529.5 1884.2h5.2M534.7 1884.2h22.4M595.1 1884.2h2.8M597.9 1884.2h11M608.9 1884.2h14M622.9 1884.2h3.6M629.3 1884.2h6.8M669.2 1884.2h17M686.2 1884.2h3.3M797.5 1884.2h5.4M807.6 1884.2h2.6M840.8 1884.2h1.5M138 1885.8h38.9M198.8 1885.8h38.2M237 1885.8h20.6M324.7 1885.8h11.7M529.5 1885.8h5.2M534.7 1885.8h22.4M595.1 1885.8h2.8M597.9 1885.8h11M608.9 1885.8h14M622.9 1885.8h3.6M629.3 1885.8h6.8M669.2 1885.8h17M686.2 1885.8h3.3M697 1885.8h9.4M723.2 1885.8h6.5M797.5 1885.8h5.4M138 1887.5h38.9M198.8 1887.5h38.2M237 1887.5h20.6M529.5 1887.5h5.2M534.7 1887.5h22.4M595.1 1887.5h2.8M597.9 1887.5h11M608.9 1887.5h14M622.9 1887.5h3.6M629.3 1887.5h6.8M669.2 1887.5h17M686.2 1887.5h3.3M797.5 1887.5h5.4M830.7 1887.5h3.4M840.8 1887.5h1.5M865.5 1887.5h7.1M138 1889.2h38.9M198.8 1889.2h38.2M237 1889.2h20.6M529.5 1889.2h5.2M534.7 1889.2h22.4M573.8 1889.2h7.5M595.1 1889.2h2.8M597.9 1889.2h11M608.9 1889.2h14M622.9 1889.2h3.6M629.3 1889.2h6.8M669.2 1889.2h17M686.2 1889.2h3.3M797.5 1889.2h5.4M182.9 1890.9h2.2M281 1890.9h3.1M388.9 1890.9h7M609.4 1890.9h6.8M686.6 1890.9h2.3M813 1890.9h6M249.5 1892.5h2.6M289 1892.5h13M467.2 1892.5h14M507.6 1892.5h6.9M514.8 1892.5h12.1M559.9 1892.5h9.3M664.1 1892.5h5.1M181.9 1894.2h5.1M499.1 1894.2h15.7M562 1894.2h3.6M665.6 1894.2h2M181.9 1895.9h5.1M450.7 1895.9h38.3M617.7 1895.9h2.3M631.9 1895.9h2.5M671.1 1895.9h7.6M813 1895.9h6M187 1899.2h9M802.9 1899.2h3.1M819 1899.2h8.9M360 1900.9h10.1M463.6 1900.9h17.8M514.8 1900.9h12.1M664.1 1900.9h5.1M388.9 1902.5h7M478 1902.5h7.5M499.1 1902.5h15.7M545.9 1902.5h4.3M595.5 1902.5h2.4M671.3 1902.5h3.4M450.7 1904.2h38.3M501.1 1904.2h4.9M562.9 1904.2h3.4M623.2 1904.2h2.9M664.5 1904.2h2.3M782.5 1904.2h4.4M800.4 1904.2h2.3M813 1904.2h6M291.5 1905.9h4M363.3 1905.9h3.5M388.9 1905.9h7" stroke="#b21e25" stroke-width="1.8" fill="none"/>
<path d="M192.6 1620.6h3.1M187 1624h9M189.3 1639h4.5M188.7 1685.7h3.5M187.6 1692.3h1.8M187.4 1722.4h4.6M192.5 1729h1.7M187 1772.4h9M189.9 1812.5h5M187 1814.1h9M191.9 1834.1h2M189.9 1847.5h2.4M187 1850.8h9M803.6 1659h1.9M803.5 1660.7h1.6M804.1 1714h1.6M803.7 1757.4h1.7M802.9 1780.8h3.1M802.9 1812.5h3.1M802.9 1829.1h3.1M803.9 1834.1h1.8M803.6 1840.8h1.8M820.4 1548.9h2.5M819 1602.3h8.9M819 1615.6h8.9M819.9 1622.3h5.3M819.7 1629h4.4M823.4 1650.6h2.5M819.2 1745.7h3.7M820.8 1749.1h4.4M819 1752.4h8.9M819 1772.4h8.9M819 1774.1h8.9M819 1780.8h8.9M821.1 1794.1h4.6M819 1829.1h8.9M820.1 1844.1h2.9M819 1847.5h8.9M361.6 1854.2h2.4M520.5 1854.2h6M595.1 1854.2h2.8M294.6 1855.8h4.2M502.1 1855.8h6.5M674.6 1855.8h4.3M813.8 1855.8h2.5M166.2 1857.5h4.5M280.9 1857.5h8M289 1857.5h13M499.1 1857.5h15.7M514.8 1857.5h12.1M559.9 1857.5h9.3M624.1 1857.5h2.3M813 1857.5h6M280.9 1859.2h8M289 1859.2h13M514.8 1859.2h12.1M534.7 1859.2h22.4M559.9 1859.2h9.3M569.2 1859.2h23.1M666.5 1859.2h2.5M803 1859.2h2.8M813 1859.2h6M831.5 1859.2h2.8M152.7 1860.8h4M182.9 1860.8h2.5M280.9 1860.8h8M514.8 1860.8h12.1M534.7 1860.8h22.4M561.3 1860.8h4M569.2 1860.8h23.1M610.2 1860.8h6.1M622.9 1860.8h2.9M797.9 1860.8h2.7M813 1860.8h6M211.5 1862.5h13.9M283.7 1862.5h2.3M289 1862.5h13M514.8 1862.5h12.1M530.9 1862.5h2.4M559.9 1862.5h9.3M813 1862.5h6M280.9 1864.2h8M499.1 1864.2h15.7M514.8 1864.2h12.1M534.7 1864.2h22.4M569.2 1864.2h23.1M665.3 1864.2h2.7M813 1864.2h6M840.8 1864.2h1.5M181.9 1865.8h5.1M540.7 1865.8h8.4M608.9 1865.8h14M622.9 1865.8h3.6M145.6 1867.5h14.7M280.9 1867.5h8M289 1867.5h13M391.8 1867.5h3.4M514.8 1867.5h12.1M534.7 1867.5h22.4M559.9 1867.5h9.3M813 1867.5h6M302 1869.2h7.9M295.2 1870.8h2.6M302 1870.8h7.9M284.1 1874.2h3.5M289 1874.2h13M390 1874.2h2.9M514.8 1874.2h12.1M302 1875.8h7.9M289 1877.5h13M514.8 1877.5h12.1M803.7 1877.5h2M825.2 1877.5h2.1M289 1879.2h13M514.8 1879.2h12.1M182 1880.8h2.6M210.1 1880.8h6.8M562.9 1880.8h4.1M216.8 1882.5h13.9M451.9 1882.5h15.2M531.3 1882.5h2.6M540.4 1882.5h9.8M507.4 1884.2h5.8M562.9 1884.2h2.5M595.4 1884.2h2.5M633 1884.2h2.2M166.6 1885.8h2.2M239.3 1885.8h9.8M595.2 1885.8h2.6M204.2 1887.5h17.6M451.9 1887.5h10.8M664.5 1887.5h2M799.4 1887.5h2.1M282.4 1889.2h2.7M181.9 1890.9h5.1M280.9 1890.9h8M295.7 1890.9h4.7M360 1890.9h10.1M450.7 1890.9h38.3M499.1 1890.9h15.7M559.9 1890.9h9.3M664.1 1890.9h5.1M189 1892.5h4.3M664.6 1892.5h2.6M284.4 1894.2h2.4M289 1894.2h13M392.1 1894.2h2.9M514.8 1894.2h12.1M822.4 1894.2h4.3M182.4 1895.9h3M284.2 1895.9h2.6M289 1895.9h13M391.3 1895.9h2.7M505.7 1895.9h3.9M514.8 1895.9h12.1M302 1899.2h7.9M515.5 1899.2h5.6M289 1900.9h13M821.3 1900.9h4.3M284.2 1902.5h3.2M289 1902.5h13M392.9 1902.5h2.3M514.8 1902.5h12.1M814.1 1902.5h2.2M819.6 1902.5h2.6M181.9 1904.2h5.1M254.1 1904.2h3.2M280.9 1904.2h8M360 1904.2h10.1M388.9 1904.2h7M499.1 1904.2h15.7M559.9 1904.2h9.3M664.1 1904.2h5.1M813.2 1904.2h2.5M182.4 1905.9h2M187.8 1905.9h4.2M289 1905.9h13M501.1 1905.9h4.2M514.8 1905.9h12.1" stroke="#981a47" stroke-width="1.8" fill="none"/>
<path d="M184.4 1639h2.1M184.3 1640.6h2.5M184.1 1644h2.2M181.9 1752.4h5.1M187 1755.7h9M187 1762.4h9M181.9 1774.1h5.1M187 1782.4h9M193.3 1790.8h2M182.6 1815.8h2.3M181.9 1820.8h5.1M303.6 1548.9h3.6M302 1557.2h7.9M281.6 1588.9h4.7M302 1694h7.9M302 1710.7h7.9M303.4 1747.4h3.8M302 1769.1h7.9M283.5 1780.8h3.1M302 1814.1h7.9M283.7 1819.1h3.6M286.1 1824.1h1.7M280.9 1825.8h8M363.4 1642.3h1.6M363.3 1657.3h4.8M391.6 1660.7h3.5M368.3 1665.7h1.5M361.3 1694h3.7M362.8 1695.7h1.7M391 1710.7h4M388.9 1737.4h7M360 1764.1h10.1M363 1767.4h2.2M365.7 1769.1h2.8M364.4 1802.4h3.5M362.7 1809.1h5.7M393.2 1809.1h2.4M390 1810.8h2M361.4 1820.8h4.7M389.9 1820.8h1.5M362.9 1837.5h5.4M450.7 1700.7h38.3M460.7 1709h16.7M450.7 1732.4h38.3M458.1 1739.1h2.5M450.7 1750.7h38.3M450.7 1754.1h38.3M473.3 1757.4h12.4M461 1787.4h16.3M456 1815.8h5M469.5 1824.1h2.2M458 1830.8h9.5M466.9 1847.5h18.8M450.7 1849.1h38.3M523.1 1572.2h3.4M505.1 1602.3h3.9M508.3 1705.7h4.5M499.1 1720.7h15.7M499.3 1745.7h7.3M499.1 1747.4h15.7M503.3 1770.7h4.8M502.3 1790.8h2.8M499.1 1795.8h15.7M499.1 1824.1h15.7M576.1 1563.9h8.3M563.6 1588.9h4.8M559.9 1655.6h9.3M562.9 1667.3h3.4M561.6 1757.4h4.9M561.8 1770.7h3.7M564.8 1774.1h3.3M565.1 1785.8h3.5M561.7 1792.4h4.8M559.9 1794.1h9.3M560.6 1822.5h4.6M561.7 1824.1h5.5M665.5 1644h2.1M664.1 1684h5.1M664.7 1717.4h2.1M664.1 1827.5h5.1M803.6 1699h2.2M803.6 1740.7h2.1M803.4 1789.1h2.4M803.5 1827.5h1.7M802.9 1830.8h3.1M803.1 1837.5h1.9M813 1535.5h6M813 1618.9h6M813.5 1622.3h1.7M825.2 1655.6h2.1M819 1677.3h8.9M823.1 1690.7h4.7M813 1724h6M823.3 1762.4h3.1M819 1765.7h8.9M813 1775.8h6M819 1779.1h8.9M813.9 1784.1h2.6M813 1800.8h6M813 1804.1h6M225.8 1854.2h3.7M389.4 1854.2h2.2M686.3 1854.2h2.6M696.7 1854.2h10.8M746.9 1854.2h4.1M803 1854.2h2.6M807.8 1854.2h2.2M844.1 1854.2h2.2M150.2 1855.8h7.2M245.4 1855.8h7.5M266.3 1855.8h5.6M363.9 1855.8h3.7M665 1855.8h2.3M686.5 1855.8h2.8M787.7 1855.8h3.3M831.4 1855.8h3.6M138 1857.5h38.9M176.9 1857.5h5M198.8 1857.5h38.2M237 1857.5h20.6M360 1857.5h10.1M388.9 1857.5h7M450.7 1857.5h38.3M492.1 1857.5h2.1M595.1 1857.5h2.8M597.9 1857.5h11M664.1 1857.5h5.1M669.2 1857.5h17M760.9 1857.5h7.8M797.5 1857.5h5.4M802.9 1857.5h3.1M806 1857.5h4.4M830.5 1857.5h7.7M840.8 1857.5h1.5M842.6 1857.5h2.1M138 1859.2h38.9M176.9 1859.2h5M198.8 1859.2h38.2M237 1859.2h20.6M360 1859.2h10.1M388.9 1859.2h7M450.7 1859.2h38.3M595.1 1859.2h2.8M597.9 1859.2h11M664.1 1859.2h5.1M669.2 1859.2h17M686.6 1859.2h2.1M797.5 1859.2h5.4M802.9 1859.2h3.1M806 1859.2h4.4M830.5 1859.2h7.7M840.8 1859.2h1.5M138 1860.8h38.9M176.9 1860.8h5M198.8 1860.8h38.2M237 1860.8h20.6M360 1860.8h10.1M388.9 1860.8h7M400.3 1860.8h2.7M450.7 1860.8h38.3M595.1 1860.8h2.8M597.9 1860.8h11M638.7 1860.8h4.1M664.1 1860.8h5.1M669.2 1860.8h17M797.5 1860.8h5.4M802.9 1860.8h3.1M806 1860.8h4.4M830.5 1860.8h7.7M840.8 1860.8h1.5M138 1862.5h38.9M176.9 1862.5h5M198.8 1862.5h38.2M237 1862.5h20.6M261.5 1862.5h6.3M360 1862.5h10.1M388.9 1862.5h7M450.7 1862.5h38.3M595.1 1862.5h2.8M597.9 1862.5h11M664.1 1862.5h5.1M669.2 1862.5h17M797.5 1862.5h5.4M802.9 1862.5h3.1M806 1862.5h4.4M830.5 1862.5h7.7M840.8 1862.5h1.5M138 1864.2h38.9M176.9 1864.2h5M198.8 1864.2h38.2M237 1864.2h20.6M360 1864.2h10.1M388.9 1864.2h7M411.5 1864.2h20.9M450.7 1864.2h38.3M595.1 1864.2h2.8M597.9 1864.2h11M664.1 1864.2h5.1M669.2 1864.2h17M686.8 1864.2h2.1M797.5 1864.2h5.4M802.9 1864.2h3.1M806 1864.2h4.4M830.5 1864.2h7.7M840.8 1864.2h1.5M855.9 1864.2h3.5M177.5 1865.8h2.4M326.3 1865.8h19.5M396.9 1865.8h2.2M499.1 1865.8h15.7M559.9 1865.8h9.3M569.2 1865.8h23.1M806.8 1865.8h3M813 1865.8h6M138 1867.5h38.9M176.9 1867.5h5M198.8 1867.5h38.2M237 1867.5h20.6M319.5 1867.5h19.2M360 1867.5h10.1M388.9 1867.5h7M450.7 1867.5h38.3M578.4 1867.5h5M595.1 1867.5h2.8M597.9 1867.5h11M664.1 1867.5h5.1M669.2 1867.5h17M686.6 1867.5h2.7M736.9 1867.5h2.4M797.5 1867.5h5.4M802.9 1867.5h3.1M806 1867.5h4.4M830.5 1867.5h7.7M840.8 1867.5h1.5M192.7 1869.2h2.5M289 1869.2h13M514.8 1869.2h12.1M665.3 1869.2h2.1M202.2 1870.8h7.6M289 1870.8h13M514.8 1870.8h12.1M530.2 1870.8h2.5M246 1874.2h10.1M271.5 1874.2h6.7M388.9 1874.2h7M413.2 1874.2h15.4M499.1 1874.2h15.7M562.5 1874.2h4.3M664.1 1874.2h5.1M686.4 1874.2h2.4M786.2 1874.2h4.4M813 1874.2h6M208.1 1875.8h17.4M289 1875.8h13M514.8 1875.8h12.1M530.1 1875.8h2.2M564 1875.8h3M686.6 1875.8h2.9M800.1 1875.8h2M181.9 1877.5h5.1M199.5 1877.5h7.5M280.9 1877.5h8M360 1877.5h10.1M450.7 1877.5h38.3M499.1 1877.5h15.7M544.3 1877.5h8.5M595.2 1877.5h2.5M664.1 1877.5h5.1M863.5 1877.5h5.2M181.9 1879.2h5.1M280.9 1879.2h8M361.1 1879.2h4.2M450.7 1879.2h38.3M499.1 1879.2h15.7M595.4 1879.2h2.5M664.1 1879.2h5.1M671.6 1879.2h8.3M813 1879.2h6M144.3 1880.8h5.5M263.7 1880.8h8.6M323.4 1880.8h22.3M630.5 1880.8h2M162.3 1882.5h5.2M611.7 1882.5h6.9M623.8 1882.5h2.4M670.5 1882.5h4.6M602 1884.2h4.1M623.7 1885.8h2.7M740.6 1885.8h5.2M799.8 1885.8h2.5M325.8 1887.5h11.8M529.7 1887.5h2.1M615.3 1887.5h5.2M630.9 1887.5h2.4M757.7 1887.5h4.7M266.6 1889.2h3.3M338.5 1889.2h18.7M595.5 1889.2h2.5M623.5 1889.2h2.4M138 1890.9h38.9M198.8 1890.9h38.2M237 1890.9h20.6M529.5 1890.9h5.2M534.7 1890.9h22.4M595.1 1890.9h2.8M597.9 1890.9h11M608.9 1890.9h14M622.9 1890.9h3.6M629.3 1890.9h6.8M669.2 1890.9h17M686.2 1890.9h3.3M797.5 1890.9h5.4M181.9 1892.5h5.1M265.6 1892.5h8.9M280.9 1892.5h8M360 1892.5h10.1M388.9 1892.5h7M450.7 1892.5h38.3M499.1 1892.5h15.7M563.4 1892.5h3.1M600 1892.5h5M813 1892.5h6M280.9 1894.2h8M360 1894.2h10.1M388.9 1894.2h7M450.7 1894.2h38.3M529.6 1894.2h2M559.9 1894.2h9.3M595.2 1894.2h2.7M632.9 1894.2h2.5M664.1 1894.2h5.1M813 1894.2h6M177.7 1895.9h2.1M280.9 1895.9h8M360 1895.9h10.1M375.3 1895.9h3.6M388.9 1895.9h7M499.1 1895.9h15.7M559.9 1895.9h9.3M664.1 1895.9h5.1M289 1899.2h13M514.8 1899.2h12.1M566.6 1899.2h2.2M181.9 1900.9h5.1M280.9 1900.9h8M388.9 1900.9h7M417.9 1900.9h20.2M450.7 1900.9h38.3M499.1 1900.9h15.7M530.6 1900.9h2M559.9 1900.9h9.3M722.1 1900.9h6M780.1 1900.9h8.8M813 1900.9h6M181.9 1902.5h5.1M280.9 1902.5h8M360 1902.5h10.1M450.7 1902.5h38.3M531.6 1902.5h2.5M559.9 1902.5h9.3M642.4 1902.5h6.5M664.1 1902.5h5.1M686.4 1902.5h2.7M799.4 1902.5h2.2M813 1902.5h6M138 1904.2h38.9M198.8 1904.2h38.2M237 1904.2h20.6M529.5 1904.2h5.2M534.7 1904.2h22.4M595.1 1904.2h2.8M597.9 1904.2h11M608.9 1904.2h14M622.9 1904.2h3.6M629.3 1904.2h6.8M669.2 1904.2h17M686.2 1904.2h3.3M797.5 1904.2h5.4M139.6 1905.9h4.3M181.9 1905.9h5.1M215.5 1905.9h6.8M280.9 1905.9h8M360 1905.9h10.1M450.7 1905.9h38.3M499.1 1905.9h15.7M559.9 1905.9h9.3M623.6 1905.9h2.3M664.1 1905.9h5.1M719.2 1905.9h2.4M782.8 1905.9h9.2M813 1905.9h6M831.2 1905.9h2.9" stroke="#e04a31" stroke-width="1.8" fill="none"/>
<path d="M302.5 1575.6h4.6M302 1622.3h7.9M302 1670.7h7.9M304.2 1704h3.2M302 1715.7h7.9M302 1744.1h7.9M302 1755.7h7.9M302 1759.1h7.9M304.3 1765.7h2.6M302 1767.4h7.9M302 1770.7h7.9M302 1779.1h7.9M302 1799.1h7.9M304 1800.8h4.5M306.5 1802.4h2.4M304.3 1819.1h4.2M302 1832.5h7.9M305.9 1839.1h1.7M304.4 1840.8h3.5M240.1 1854.2h3.5M280.9 1854.2h8M289 1854.2h13M499.1 1854.2h15.7M514.8 1854.2h12.1M534.7 1854.2h22.4M559.9 1854.2h9.3M569.2 1854.2h23.1M813 1854.2h6M840.8 1854.2h1.5M280.9 1855.8h8M289 1855.8h13M499.1 1855.8h15.7M514.8 1855.8h12.1M534.7 1855.8h22.4M559.9 1855.8h9.3M569.2 1855.8h23.1M800 1855.8h2.6M806.6 1855.8h2.4M813 1855.8h6M516.2 1857.5h5.9M622.9 1857.5h3.6M182.3 1859.2h2.6M521.4 1859.2h4.8M529.5 1859.2h5.2M608.9 1859.2h14M622.9 1859.2h3.6M181.9 1860.8h5.1M529.5 1860.8h5.2M608.9 1860.8h14M622.9 1860.8h3.6M529.5 1862.5h5.2M608.9 1862.5h14M521.8 1864.2h5M529.5 1864.2h5.2M608.9 1864.2h14M622.9 1864.2h3.6M183.7 1865.8h2.7M192.9 1865.8h2.3M819 1865.8h8.9M181.9 1867.5h5.1M529.5 1867.5h5.2M608.9 1867.5h14M622.9 1867.5h3.6M824.5 1869.2h3.2M819.3 1870.8h2.6M183 1874.2h2.9M187 1874.2h9M292.1 1874.2h5.8M304.1 1874.2h2.4M802.9 1874.2h3.1M819 1874.2h8.9M821.1 1875.8h3.3M187 1877.5h9M802.9 1877.5h3.1M819 1877.5h8.9M187 1879.2h9M802.9 1879.2h3.1M819 1879.2h8.9M181.9 1880.8h5.1M280.9 1880.8h8M360 1880.8h10.1M388.9 1880.8h7M450.7 1880.8h38.3M499.1 1880.8h15.7M531.7 1880.8h2.1M559.9 1880.8h9.3M664.1 1880.8h5.1M686.5 1880.8h2.6M799.1 1880.8h2.8M813 1880.8h6M181.9 1882.5h5.1M280.9 1882.5h8M360 1882.5h10.1M388.9 1882.5h7M450.7 1882.5h38.3M499.1 1882.5h15.7M559.9 1882.5h9.3M631.3 1882.5h3M664.1 1882.5h5.1M813 1882.5h6M181.9 1884.2h5.1M280.9 1884.2h8M360 1884.2h10.1M388.9 1884.2h7M450.7 1884.2h38.3M499.1 1884.2h15.7M529.5 1884.2h2.7M559.9 1884.2h9.3M622.9 1884.2h2.1M664.1 1884.2h5.1M813 1884.2h6M181.9 1885.8h5.1M215.7 1885.8h3.8M280.9 1885.8h8M360 1885.8h10.1M388.9 1885.8h7M450.7 1885.8h38.3M499.1 1885.8h15.7M559.9 1885.8h9.3M629.5 1885.8h3.3M664.1 1885.8h5.1M813 1885.8h6M181.9 1887.5h5.1M280.9 1887.5h8M360 1887.5h10.1M388.9 1887.5h7M450.7 1887.5h38.3M499.1 1887.5h15.7M548.6 1887.5h4.8M559.9 1887.5h9.3M664.1 1887.5h5.1M675.9 1887.5h3.4M686.8 1887.5h2.5M813 1887.5h6M181.9 1889.2h5.1M280.9 1889.2h8M360 1889.2h10.1M388.9 1889.2h7M450.7 1889.2h38.3M499.1 1889.2h15.7M559.9 1889.2h9.3M664.1 1889.2h5.1M813 1889.2h6M289 1890.9h13M514.8 1890.9h12.1M187 1892.5h9M802.9 1892.5h3.1M819 1892.5h8.9M184.3 1894.2h2.1M187 1894.2h9M802.9 1894.2h3.1M819 1894.2h8.9M187 1895.9h9M802.9 1895.9h3.1M819 1895.9h8.9M187 1900.9h9M365.1 1900.9h4.1M666.6 1900.9h2.3M802.9 1900.9h3.1M819 1900.9h8.9M187 1902.5h9M518.4 1902.5h5.8M802.9 1902.5h3.1M819 1902.5h8.9M289 1904.2h13M365.3 1904.2h3.3M462.3 1904.2h3.3M514.8 1904.2h12.1M187 1905.9h9M802.9 1905.9h3.1M819 1905.9h8.9" stroke="#db1a78" stroke-width="1.8" fill="none"/>
<path d="M177 1488.8h10M595.1 1488.8h4M138 1872.5h38.9M176.9 1872.5h5M181.9 1872.5h5.1M187 1872.5h9M198.8 1872.5h38.2M237 1872.5h20.6M260.4 1872.5h20.5M280.9 1872.5h8M289 1872.5h13M302 1872.5h7.9M360 1872.5h10.1M370.1 1872.5h18.9M396 1872.5h7.2M405.9 1872.5h42.4M499.1 1872.5h15.7M514.8 1872.5h12.1M608.9 1872.5h14M629.3 1872.5h6.8M664.1 1872.5h5.1M776.4 1872.5h18.5M797.5 1872.5h5.4M806 1872.5h4.4M842.2 1872.5h4.4M176.9 1897.5h5M312.3 1897.5h45.1M360 1897.5h10.1M405.9 1897.5h42.4M491.3 1897.5h7.8M499.1 1897.5h15.7M514.8 1897.5h12.1M529.5 1897.5h5.2M629.3 1897.5h6.8M636.1 1897.5h25.4M692.1 1897.5h21.7M716.4 1897.5h17.5M755.9 1897.5h17.9M776.4 1897.5h18.5M802.9 1897.5h3.1" stroke="#3180bb" stroke-width="1.8" fill="none"/>
<path d="M181.9 1854.2h5.1M304.2 1854.2h3.8M529.5 1854.2h5.2M572.2 1854.2h6.8M608.9 1854.2h14M622.9 1854.2h3.6M181.9 1855.8h5.1M304.7 1855.8h3.8M529.5 1855.8h5.2M608.9 1855.8h14M622.9 1855.8h3.6M304.3 1857.5h3.1M612 1857.5h6.2M819 1857.5h8.9M188.2 1859.2h2.8M819 1859.2h8.9M187.4 1860.8h3.2M819 1860.8h8.9M623.5 1862.5h2.6M819 1862.5h8.9M819 1864.2h8.9M819 1867.5h8.9M190.8 1877.5h4M303 1877.5h3M284.1 1880.8h2.8M289 1880.8h13M391.6 1880.8h2.2M473.3 1880.8h14.3M514.8 1880.8h12.1M814.1 1880.8h2.5M289 1882.5h13M514.8 1882.5h12.1M803.7 1882.5h2.1M289 1884.2h13M514.8 1884.2h12.1M289 1885.8h13M303.7 1885.8h3.2M514.8 1885.8h12.1M664.6 1885.8h2.5M803.2 1885.8h2.6M289 1887.5h13M514.8 1887.5h12.1M803 1887.5h2.9M814.2 1887.5h2.8M289 1889.2h13M508.6 1889.2h3.9M514.8 1889.2h12.1M664.6 1889.2h2.2M187 1890.9h9M802.9 1890.9h3.1M819 1890.9h8.9M803.1 1892.5h2.8M302.9 1894.2h3.2M192.3 1900.9h2.1M187 1904.2h9M302.6 1904.2h3.3M802.9 1904.2h3.1M819 1904.2h8.9" stroke="#c78fc2" stroke-width="1.8" fill="none"/>
<path d="M187 1854.2h9M302 1854.2h7.9M623.4 1854.2h2.6M819 1854.2h8.9M187 1855.8h9M302 1855.8h7.9M819 1855.8h8.9M823.6 1855.8h2.3M183.4 1857.5h2.6M187 1857.5h9M302 1857.5h7.9M187 1859.2h9M302 1859.2h7.9M822.6 1859.2h2.4M187 1860.8h9M302 1860.8h7.9M820.5 1860.8h4.1M187 1862.5h9M302 1862.5h7.9M187 1864.2h9M189 1864.2h3.4M302 1864.2h7.9M303.1 1865.8h3.1M187 1867.5h9M190.7 1867.5h4.1M302 1867.5h7.9M306.9 1867.5h2.4M187 1880.8h9M302 1880.8h7.9M802.9 1880.8h3.1M803 1880.8h2.9M819 1880.8h8.9M187 1882.5h9M302 1882.5h7.9M802.9 1882.5h3.1M819 1882.5h8.9M187 1884.2h9M302 1884.2h7.9M802.9 1884.2h3.1M819 1884.2h8.9M187 1885.8h9M289.2 1885.8h2.4M302 1885.8h7.9M802.9 1885.8h3.1M819 1885.8h8.9M819.7 1885.8h3M187 1887.5h9M302 1887.5h7.9M305.8 1887.5h2.1M802.9 1887.5h3.1M819 1887.5h8.9M822.7 1887.5h3.9M187 1889.2h9M295.4 1889.2h3.5M302 1889.2h7.9M304.9 1889.2h2.9M802.9 1889.2h3.1M803.1 1889.2h2.8M819 1889.2h8.9M823 1889.2h4.1M192 1890.9h2.2M302 1890.9h7.9M188.1 1904.2h3.2M302 1904.2h7.9M302.4 1905.9h2.6" stroke="#d4b9da" stroke-width="1.8" fill="none"/>
<path d="M183 1855.8h2.1M181.9 1857.5h5.1M283.2 1857.5h2.6M529.5 1857.5h5.2M608.9 1857.5h14M181.9 1859.2h5.1M292.1 1859.2h5.2M529.6 1859.2h2.6M517 1860.8h5.3M531.9 1860.8h2M572.9 1860.8h8.2M181.9 1862.5h5.1M622.9 1862.5h3.6M815.7 1862.5h2.4M821.9 1862.5h3.9M181.9 1864.2h5.1M816.3 1864.2h2.5M187 1865.8h9M302 1865.8h7.9M814.2 1867.5h2.5M193.3 1874.2h2.5M302 1874.2h7.9M302 1877.5h7.9M302 1879.2h7.9M823.3 1879.2h3.1M665.3 1880.8h2.8M184.4 1882.5h2.4M283.2 1884.2h3.9M393 1884.2h2M814.4 1884.2h2.1M181.9 1885.8h2.8M467.5 1885.8h11.3M281.1 1887.5h3.2M521.3 1887.5h4.4M562.7 1887.5h2.6M364.7 1889.2h4.3M472.9 1889.2h9.9M505.5 1890.9h3.3M302 1892.5h7.9M819.6 1892.5h2.3M302 1894.2h7.9M302 1895.9h7.9M302 1900.9h7.9M302 1902.5h7.9M393.3 1904.2h2.4M302 1905.9h7.9M823.8 1905.9h3.7" stroke="#d766a7" stroke-width="1.8" fill="none"/>
<g transform="translate(0,-0.9)">
<rect x="895" y="1488" width="38.4" height="30.6" fill="#d6d6d5"/>
<rect x="932.8" y="1488" width="3.7" height="30.6" fill="#d6d6d5"/>
<rect x="935.9" y="1488" width="6.6" height="30.6" fill="#d6d6d5"/>
<rect x="941.9" y="1488" width="6.1" height="30.6" fill="#d6d6d5"/>
<rect x="947.4" y="1488" width="9.6" height="30.6" fill="#94c773"/>
<rect x="895" y="1518" width="38.4" height="94" fill="#7b55a3"/>
<rect x="932.8" y="1518" width="3.7" height="94" fill="#94c773"/>
<rect x="935.9" y="1518" width="6.6" height="94" fill="#94c773"/>
<rect x="941.9" y="1518" width="6.1" height="94" fill="#94c773"/>
<rect x="947.4" y="1518" width="9.6" height="94" fill="#7b55a3"/>
<rect x="895" y="1611.4" width="38.4" height="295.3" fill="#94c773"/>
<rect x="932.8" y="1611.4" width="3.7" height="295.3" fill="#7b55a3"/>
<rect x="935.9" y="1611.4" width="6.6" height="295.3" fill="#d6d6d5"/>
<rect x="941.9" y="1611.4" width="6.1" height="295.3" fill="#94c773"/>
<rect x="947.4" y="1611.4" width="9.6" height="295.3" fill="#d6d6d5"/>
<rect x="959.4" y="1488" width="41.9" height="30.6" fill="#d6d6d5"/>
<rect x="1000.7" y="1488" width="22.3" height="30.6" fill="#d6d6d5"/>
<rect x="959.4" y="1518" width="41.9" height="94" fill="#7b55a3"/>
<rect x="1000.7" y="1518" width="22.3" height="94" fill="#7b55a3"/>
<rect x="959.4" y="1611.4" width="41.9" height="295.3" fill="#94c773"/>
<rect x="1000.7" y="1611.4" width="22.3" height="295.3" fill="#94c773"/>
<rect x="1025.4" y="1488" width="23.1" height="30.6" fill="#d6d6d5"/>
<rect x="1047.9" y="1488" width="9.7" height="30.6" fill="#d6d6d5"/>
<rect x="1057" y="1488" width="14.7" height="30.6" fill="#d6d6d5"/>
<rect x="1071.1" y="1488" width="8.2" height="30.6" fill="#94c773"/>
<rect x="1025.4" y="1518" width="23.1" height="94" fill="#559540"/>
<rect x="1047.9" y="1518" width="9.7" height="94" fill="#d6d6d5"/>
<rect x="1057" y="1518" width="14.7" height="94" fill="#d6d6d5"/>
<rect x="1071.1" y="1518" width="8.2" height="94" fill="#94c773"/>
<rect x="1025.4" y="1611.4" width="23.1" height="295.3" fill="#559540"/>
<rect x="1047.9" y="1611.4" width="9.7" height="295.3" fill="#d6d6d5"/>
<rect x="1057" y="1611.4" width="14.7" height="295.3" fill="#94c773"/>
<rect x="1071.1" y="1611.4" width="8.2" height="295.3" fill="#94c773"/>
<rect x="1081.7" y="1488" width="48.7" height="30.6" fill="#559540"/>
<rect x="1081.7" y="1518" width="48.7" height="94" fill="#559540"/>
<rect x="1081.7" y="1611.4" width="48.7" height="295.3" fill="#559540"/>
<rect x="1132.9" y="1488" width="11.6" height="30.6" fill="#d6d6d5"/>
<rect x="1143.9" y="1488" width="35.6" height="30.6" fill="#559540"/>
<rect x="1132.9" y="1518" width="11.6" height="94" fill="#7b55a3"/>
<rect x="1143.9" y="1518" width="35.6" height="94" fill="#559540"/>
<rect x="1132.9" y="1611.4" width="11.6" height="295.3" fill="#d6d6d5"/>
<rect x="1143.9" y="1611.4" width="35.6" height="295.3" fill="#559540"/>
<rect x="1181.9" y="1488" width="46.1" height="30.6" fill="#559540"/>
<rect x="1181.9" y="1518" width="46.1" height="94" fill="#559540"/>
<rect x="1181.9" y="1611.4" width="46.1" height="295.3" fill="#559540"/>
<rect x="1230.4" y="1488" width="41.1" height="30.6" fill="#d6d6d5"/>
<rect x="1230.4" y="1518" width="41.1" height="94" fill="#94c773"/>
<rect x="1230.4" y="1611.4" width="41.1" height="295.3" fill="#d6d6d5"/>
<rect x="1273.9" y="1488" width="8.8" height="30.6" fill="#559540"/>
<rect x="1282.1" y="1488" width="18.8" height="30.6" fill="#d6d6d5"/>
<rect x="1300.3" y="1488" width="11.9" height="30.6" fill="#d6d6d5"/>
<rect x="1273.9" y="1518" width="8.8" height="94" fill="#559540"/>
<rect x="1282.1" y="1518" width="18.8" height="94" fill="#d6d6d5"/>
<rect x="1300.3" y="1518" width="11.9" height="94" fill="#d6d6d5"/>
<rect x="1273.9" y="1611.4" width="8.8" height="295.3" fill="#559540"/>
<rect x="1282.1" y="1611.4" width="18.8" height="295.3" fill="#d6d6d5"/>
<rect x="1300.3" y="1611.4" width="11.9" height="295.3" fill="#7b55a3"/>
<rect x="1314.7" y="1488" width="6.8" height="30.6" fill="#d6d6d5"/>
<rect x="1320.9" y="1488" width="23.7" height="30.6" fill="#d6d6d5"/>
<rect x="1314.7" y="1518" width="6.8" height="94" fill="#7b55a3"/>
<rect x="1320.9" y="1518" width="23.7" height="94" fill="#d6d6d5"/>
<rect x="1314.7" y="1611.4" width="6.8" height="295.3" fill="#94c773"/>
<rect x="1320.9" y="1611.4" width="23.7" height="295.3" fill="#94c773"/>
<rect x="1347.2" y="1488" width="10.4" height="30.6" fill="#d6d6d5"/>
<rect x="1357" y="1488" width="25.4" height="30.6" fill="#d6d6d5"/>
<rect x="1347.2" y="1518" width="10.4" height="94" fill="#d6d6d5"/>
<rect x="1357" y="1518" width="25.4" height="94" fill="#d6d6d5"/>
<rect x="1347.2" y="1611.4" width="10.4" height="295.3" fill="#d6d6d5"/>
<rect x="1357" y="1611.4" width="25.4" height="295.3" fill="#47286f"/>
<rect x="1385.1" y="1488" width="5.4" height="30.6" fill="#559540"/>
<rect x="1389.9" y="1488" width="11.5" height="30.6" fill="#d6d6d5"/>
<rect x="1400.8" y="1488" width="15.8" height="30.6" fill="#d6d6d5"/>
<rect x="1416" y="1488" width="3.4" height="30.6" fill="#7b55a3"/>
<rect x="1385.1" y="1518" width="5.4" height="94" fill="#94c773"/>
<rect x="1389.9" y="1518" width="11.5" height="94" fill="#94c773"/>
<rect x="1400.8" y="1518" width="15.8" height="94" fill="#7b55a3"/>
<rect x="1416" y="1518" width="3.4" height="94" fill="#7b55a3"/>
<rect x="1385.1" y="1611.4" width="5.4" height="295.3" fill="#94c773"/>
<rect x="1389.9" y="1611.4" width="11.5" height="295.3" fill="#94c773"/>
<rect x="1400.8" y="1611.4" width="15.8" height="295.3" fill="#94c773"/>
<rect x="1416" y="1611.4" width="3.4" height="295.3" fill="#94c773"/>
<rect x="1422.2" y="1488" width="34.3" height="30.6" fill="#559540"/>
<rect x="1422.2" y="1518" width="34.3" height="94" fill="#559540"/>
<rect x="1422.2" y="1611.4" width="34.3" height="295.3" fill="#559540"/>
<rect x="1459.2" y="1488" width="7.3" height="30.6" fill="#d6d6d5"/>
<rect x="1465.9" y="1488" width="18.2" height="30.6" fill="#d6d6d5"/>
<rect x="1483.5" y="1488" width="3.6" height="30.6" fill="#d6d6d5"/>
<rect x="1459.2" y="1518" width="7.3" height="94" fill="#7b55a3"/>
<rect x="1465.9" y="1518" width="18.2" height="94" fill="#7b55a3"/>
<rect x="1483.5" y="1518" width="3.6" height="94" fill="#47286f"/>
<rect x="1459.2" y="1611.4" width="7.3" height="295.3" fill="#d6d6d5"/>
<rect x="1465.9" y="1611.4" width="18.2" height="295.3" fill="#94c773"/>
<rect x="1483.5" y="1611.4" width="3.6" height="295.3" fill="#94c773"/>
<rect x="1489.7" y="1488" width="23.5" height="30.6" fill="#559540"/>
<rect x="1489.7" y="1518" width="23.5" height="94" fill="#559540"/>
<rect x="1489.7" y="1611.4" width="23.5" height="295.3" fill="#559540"/>
<rect x="1515.9" y="1488" width="18.6" height="30.6" fill="#559540"/>
<rect x="1515.9" y="1518" width="18.6" height="94" fill="#559540"/>
<rect x="1515.9" y="1611.4" width="18.6" height="295.3" fill="#559540"/>
<rect x="1537.1" y="1488" width="18.6" height="30.6" fill="#559540"/>
<rect x="1537.1" y="1518" width="18.6" height="94" fill="#559540"/>
<rect x="1537.1" y="1611.4" width="18.6" height="295.3" fill="#559540"/>
<rect x="1558.4" y="1488" width="19.7" height="30.6" fill="#559540"/>
<rect x="1558.4" y="1518" width="19.7" height="94" fill="#559540"/>
<rect x="1558.4" y="1611.4" width="19.7" height="295.3" fill="#559540"/>
<rect x="1580.5" y="1488" width="20.1" height="30.6" fill="#559540"/>
<rect x="1580.5" y="1518" width="20.1" height="94" fill="#559540"/>
<rect x="1580.5" y="1611.4" width="20.1" height="295.3" fill="#559540"/>
<rect x="1603.3" y="1488" width="7" height="30.6" fill="#d6d6d5"/>
<rect x="1609.7" y="1488" width="7.1" height="30.6" fill="#559540"/>
<rect x="1603.3" y="1518" width="7" height="94" fill="#94c773"/>
<rect x="1609.7" y="1518" width="7.1" height="94" fill="#559540"/>
<rect x="1603.3" y="1611.4" width="7" height="295.3" fill="#94c773"/>
<rect x="1609.7" y="1611.4" width="7.1" height="295.3" fill="#559540"/>
<rect x="1619.2" y="1488" width="8.4" height="30.6" fill="#d6d6d5"/>
<rect x="1627" y="1488" width="8.8" height="30.6" fill="#94c773"/>
<rect x="1619.2" y="1518" width="8.4" height="94" fill="#d6d6d5"/>
<rect x="1627" y="1518" width="8.8" height="94" fill="#94c773"/>
<rect x="1619.2" y="1611.4" width="8.4" height="295.3" fill="#d6d6d5"/>
<rect x="1627" y="1611.4" width="8.8" height="295.3" fill="#94c773"/>
<rect x="1638.5" y="1488" width="8.2" height="30.6" fill="#559540"/>
<rect x="1638.5" y="1518" width="8.2" height="94" fill="#559540"/>
<rect x="1638.5" y="1611.4" width="8.2" height="295.3" fill="#559540"/>
<rect x="1649.3" y="1488" width="6.4" height="30.6" fill="#559540"/>
<rect x="1649.3" y="1518" width="6.4" height="94" fill="#559540"/>
<rect x="1649.3" y="1611.4" width="6.4" height="295.3" fill="#559540"/>
<rect x="1658.2" y="1488" width="28.5" height="30.6" fill="#559540"/>
<rect x="1658.2" y="1518" width="28.5" height="94" fill="#559540"/>
<rect x="1658.2" y="1611.4" width="28.5" height="295.3" fill="#559540"/>
<path d="M913.3 1522.2h1.6M947.4 1525.5h9.6M926.8 1530.5h1.6M935.9 1538.9h6M947.8 1538.9h1.6M908.6 1545.6h1.6M941.9 1545.6h5.5M929.2 1548.9h1.6M904.2 1550.6h1.6M913.9 1550.6h1.6M934.2 1550.6h1.6M943.4 1550.6h1.6M908.6 1560.6h1.6M949.1 1562.2h1.6M955.2 1562.2h1.6M934.2 1563.9h1.6M949.1 1563.9h1.6M919.8 1565.6h1.6M953.6 1565.6h1.6M901.7 1567.2h1.6M899.5 1568.9h1.6M934.1 1575.6h1.6M925.4 1577.2h1.6M921 1577.2h1.6M937.9 1577.2h1.6M917.7 1587.3h1.6M954 1590.6h1.6M954.2 1592.3h1.6M924.9 1593.9h1.6M906.9 1595.6h1.6M898.7 1595.6h1.6M919 1597.3h1.6M950.8 1597.3h4M915.9 1598.9h1.6M941.9 1598.9h5.5M941.9 1603.9h5.5M907.4 1607.3h1.6M945.1 1607.3h1.6M938.4 1608.9h1.6M944.2 1612.3h2.3M941.9 1613.9h5.5M914.9 1617.3h13.5M897.2 1629h1.6M933 1647.3h1.6M917.1 1649h1.6M923.7 1652.3h1.6M909.1 1655.6h1.6M906.3 1659h1.6M933.1 1665.7h1.7M932.8 1674h3.1M901.8 1685.7h1.6M896.2 1692.3h2.1M915.4 1697.3h1.6M900.2 1709h15.4M920.9 1714h1.6M895 1724h37.8M919.5 1729h1.6M933.4 1742.4h2.3M941.9 1744.1h5.5M933.2 1747.4h1.9M895 1755.7h37.8M923.6 1759.1h6.3M926.1 1764.1h1.6M943.8 1764.1h2.2M918.5 1765.7h1.6M925.5 1772.4h1.6M944.5 1779.1h2.7M927.5 1782.4h1.6M941.9 1782.4h5.5M906.4 1785.8h1.6M932.8 1785.8h2.3M910.6 1799.1h7.7M941.9 1805.8h5.5M932.8 1814.1h3.1M916 1815.8h11.3M918.7 1817.5h1.6M941.9 1819.1h5.5M920.8 1822.5h1.6M945.7 1822.5h1.6M905.7 1827.5h1.6M895 1832.5h37.8M897.4 1837.5h1.6M895 1840.8h37.8M933.8 1842.5h2M941.9 1842.5h5.5M942.4 1844.1h2M959.7 1522.2h1.6M1018.8 1525.5h2.4M966.8 1528.9h1.6M1010.6 1532.2h1.6M961 1537.2h1.6M978.4 1540.5h1.6M960.8 1548.9h1.6M961.7 1552.2h1.6M974.5 1555.6h1.6M986.3 1558.9h1.6M959.4 1562.2h41.3M968.2 1565.6h1.6M997 1567.2h1.6M972.4 1577.2h1.6M997.8 1577.2h1.6M1004.1 1580.6h12.3M993.3 1582.2h1.6M999.1 1590.6h1.6M1007.2 1590.6h1.6M1016.2 1595.6h1.6M969.8 1597.3h19M971.2 1597.3h1.6M984.8 1600.6h1.6M979.3 1603.9h1.6M992.1 1605.6h8M1000.9 1605.6h1.6M977.9 1613.9h1.6M971.5 1615.6h1.6M1000.7 1622.3h22.3M964.7 1630.6h1.6M959.4 1634h41.3M1010.8 1634h1.6M977.3 1637.3h1.6M979.6 1639h1.6M973.5 1647.3h1.6M984.9 1649h1.6M1021 1650.6h1.6M1009.3 1654h1.6M976.2 1659h5M1007 1669h1.6M1006.6 1682.3h1.6M993.3 1690.7h1.6M1000.7 1690.7h22.3M979 1694h1.6M997.5 1695.7h1.6M961.6 1700.7h24.8M1017 1700.7h1.6M1020.8 1709h1.6M983.7 1715.7h1.6M1003.4 1715.7h1.6M978.1 1724h19.6M1002.6 1725.7h1.6M972.1 1727.4h1.6M1010.3 1727.4h8.7M1000.7 1732.4h22.3M993.6 1739.1h1.6M990.2 1749.1h6.1M1006.7 1750.7h1.6M965.4 1752.4h1.6M1000.7 1754.1h22.3M1010.2 1760.7h3.3M1005.8 1760.7h1.6M1000.9 1762.4h1.6M996.5 1765.7h1.6M969.9 1767.4h1.6M1006.9 1770.7h12.1M988.2 1772.4h1.6M975.4 1774.1h10M1009.9 1777.4h1.6M988.3 1784.1h1.6M988.7 1790.8h1.6M1007.2 1794.1h7.1M1010.7 1800.8h5.9M986.6 1810.8h6.4M1011.4 1812.5h1.6M1005.1 1814.1h12.9M1007.1 1820.8h7.6M1009.1 1825.8h1.6M975.2 1839.1h18.2M969.5 1840.8h14.5M1003.8 1840.8h1.6M1007.6 1847.5h9.4M974.2 1852.5h21.3M1074.4 1520.5h4.8M1073.5 1533.9h1.6M1074.8 1552.2h1.6M1073.3 1570.6h1.6M1071.5 1585.6h4M1057 1615.6h14.1M1060.9 1629h7.3M1059.3 1634h1.6M1062.6 1639h1.6M1064.9 1644h1.8M1057 1649h14.1M1057 1650.6h14.1M1062.5 1662.3h1.6M1065.5 1664h1.6M1077.6 1679h1.6M1071.5 1682.3h1.8M1076.7 1695.7h1.6M1061.8 1710.7h7.5M1064.8 1720.7h3.7M1071.2 1734h2.8M1064.3 1740.7h3.8M1057 1747.4h14.1M1057.9 1754.1h3.3M1059.1 1759.1h5.6M1071.8 1774.1h3.9M1072.2 1775.8h3.3M1071.1 1777.4h8.2M1071.1 1780.8h8.2M1072.8 1782.4h3M1071.1 1784.1h8.2M1074.4 1789.1h1.6M1071.1 1790.8h8.2M1071.1 1792.4h8.2M1073.3 1810.8h2.2M1057 1829.1h14.1M1062.2 1832.5h4.8M1065.6 1842.5h1.6M1063.6 1844.1h4.7M1074.6 1849.1h1.6M1098.1 1832.5h3.2M1132.9 1522.2h11M1132.9 1545.6h11M1140.9 1550.6h1.6M1133.6 1552.2h1.6M1139.6 1555.6h1.6M1140.7 1582.2h1.6M1136.4 1582.2h1.6M1135 1595.6h1.6M1245.4 1527.2h1.6M1259.2 1533.9h1.6M1269.3 1535.5h1.6M1231.7 1535.5h1.6M1243.1 1537.2h1.6M1265.8 1537.2h1.6M1251.8 1540.5h1.6M1251 1540.5h1.6M1258.6 1542.2h1.6M1258.8 1543.9h1.6M1268.1 1545.6h1.6M1259.8 1545.6h1.6M1242.1 1562.2h1.6M1244.3 1562.2h1.6M1244.5 1563.9h1.6M1244.5 1567.2h1.6M1233.1 1572.2h1.6M1265.5 1573.9h1.6M1269.3 1573.9h1.6M1243.3 1575.6h1.6M1252.5 1577.2h1.6M1231.6 1580.6h9.6M1255.9 1580.6h1.6M1269.3 1582.2h1.6M1259.1 1583.9h1.6M1263.8 1593.9h1.6M1252.5 1597.3h1.6M1241.5 1598.9h1.6M1262.2 1600.6h1.6M1262.7 1602.3h1.6M1268.4 1607.3h1.6M1309.8 1624h1.7M1301.7 1667.3h1.6M1305.7 1672.3h4.3M1301.7 1712.4h5.2M1307.7 1719h1.6M1308 1739.1h1.6M1310.6 1745.7h1.6M1301.8 1750.7h1.6M1303.4 1760.7h1.6M1302.4 1782.4h3.5M1308.7 1794.1h1.6M1309.3 1817.5h1.6M1307.2 1849.1h1.9M1305.3 1850.8h4.4M1317.6 1552.2h1.6M1316.3 1562.2h1.6M1315.6 1573.9h3.4M1316.2 1610.6h3.7M1317.4 1613.9h1.6M1331.2 1620.6h1.6M1317.5 1627.3h1.6M1320.9 1635.6h23.7M1331.9 1652.3h11.1M1320.9 1657.3h23.7M1325.5 1662.3h1.6M1319.2 1677.3h1.6M1315.6 1682.3h2.2M1336 1687.3h1.6M1314.7 1694h6.2M1329.5 1704h9.7M1328.3 1705.7h7.4M1316.5 1717.4h1.6M1329.4 1729h11.7M1318.1 1730.7h2M1320.9 1750.7h23.7M1330 1754.1h13.9M1314.7 1755.7h6.2M1325.5 1760.7h1.6M1329.3 1765.7h13.7M1328 1784.1h11.3M1318.4 1787.4h1.6M1314.9 1792.4h3.4M1320.9 1792.4h23.7M1336 1799.1h1.6M1338.6 1800.8h1.6M1331.7 1802.4h1.6M1328.6 1807.4h7.5M1314.7 1810.8h6.2M1332.6 1814.1h6.7M1314.9 1817.5h2.9M1321.6 1824.1h12.7M1323.4 1827.5h3.9M1339.9 1832.5h1.6M1326 1835.8h9.3M1340 1837.5h2.6M1317.2 1847.5h3.2M1320.9 1852.5h23.7M1361.3 1719h15.1M1401.9 1520.5h1.6M1409.8 1532.2h3.7M1410.1 1532.2h1.6M1396 1533.9h1.6M1412.1 1537.2h1.6M1405.7 1538.9h1.6M1407.2 1540.5h1.6M1396.4 1542.2h1.6M1395.3 1543.9h1.6M1386.5 1545.6h1.6M1417.8 1545.6h1.6M1408 1550.6h7.6M1411.2 1562.2h1.6M1389.9 1565.6h10.9M1403 1572.2h1.6M1410.8 1575.6h1.6M1401.7 1582.2h1.6M1390.7 1585.6h1.6M1389.9 1590.6h10.9M1409 1593.9h1.6M1413.9 1595.6h1.6M1389.9 1600.6h10.9M1417.7 1605.6h1.6M1387.6 1612.3h1.6M1413.8 1618.9h1.6M1392.5 1632.3h1.9M1386.2 1639h1.9M1394.5 1642.3h1.6M1400.8 1644h15.2M1410.1 1645.6h1.6M1410.1 1654h1.6M1394.8 1660.7h4.9M1387.3 1667.3h2.3M1389.9 1672.3h10.9M1389.9 1677.3h10.9M1411.5 1682.3h3.2M1385.1 1690.7h4.8M1391.1 1692.3h6.2M1411.4 1694h2.8M1385.1 1702.4h4.8M1386.2 1705.7h1.6M1416.8 1705.7h2.1M1417.1 1710.7h2.1M1386.9 1714h2M1416.2 1717.4h1.8M1407.5 1720.7h1.6M1389.9 1724h10.9M1403.6 1724h8.8M1387.2 1729h2.2M1409.4 1735.7h1.6M1385.1 1739.1h4.8M1409.7 1740.7h4.7M1416.1 1742.4h2M1387.7 1745.7h1.8M1387.5 1754.1h1.8M1401.7 1754.1h1.6M1390.9 1757.4h2.3M1402.9 1757.4h7.9M1396.6 1765.7h4.2M1395.2 1769.1h4.7M1406.9 1770.7h1.6M1389.9 1782.4h10.9M1389.9 1785.8h10.9M1398.5 1790.8h1.6M1386.7 1799.1h2.7M1400.8 1799.1h15.2M1386 1807.4h1.8M1416 1810.8h3.4M1405.6 1814.1h7.5M1397 1815.8h1.7M1410.9 1832.5h1.6M1401.8 1840.8h3.5M1400.8 1844.1h15.2M1416.2 1844.1h2.4M1397.3 1847.5h1.6M1412.7 1849.1h1.6M1385.1 1850.8h4.8M1403.4 1852.5h1.6M1416 1852.5h3.4M1480 1538.9h1.6M1459.2 1545.6h6.7M1470.3 1553.9h1.6M1477.4 1555.6h1.6M1477.5 1558.9h1.6M1464.1 1562.2h1.6M1460.9 1563.9h1.6M1475.9 1567.2h1.6M1481.8 1568.9h1.6M1479.2 1568.9h1.6M1461.7 1583.9h3.7M1459.2 1585.6h6.7M1478.7 1585.6h1.6M1464.4 1588.9h1.6M1478.8 1588.9h1.6M1478.6 1592.3h1.6M1476.9 1597.3h1.6M1466.4 1600.6h1.6M1478.2 1608.9h1.6M1484.2 1612.3h1.9M1484.1 1632.3h2M1465.9 1637.3h17.6M1478.1 1637.3h1.6M1465.9 1640.6h17.6M1478.2 1642.3h1.6M1483.5 1649h3.6M1465.9 1654h17.6M1472.7 1657.3h10.3M1470.1 1660.7h1.6M1483.9 1672.3h2.3M1468.6 1680.7h1.6M1472.7 1682.3h10.4M1483.5 1692.3h3.6M1465.9 1702.4h17.6M1473 1702.4h1.6M1476.3 1740.7h1.6M1483.5 1745.7h3.6M1483.5 1762.4h3.6M1467.7 1765.7h8.7M1483.5 1767.4h3.6M1484.7 1774.1h1.6M1483.5 1789.1h3.6M1466.5 1795.8h8.9M1484.2 1800.8h1.5M1471.6 1802.4h1.6M1483.5 1802.4h1.8M1474.4 1809.1h7.9M1465.9 1819.1h17.6M1465.9 1839.1h17.6M1466 1840.8h1.6M1485.5 1840.8h1.6M1485 1842.5h1.8M1499.5 1735.7h3.7M1604.8 1547.2h2.3M1604.1 1552.2h1.6M1605.8 1557.2h1.6M1603.9 1567.2h1.6M1606.8 1590.6h1.6M1604.7 1694h1.6M1605 1709h1.5M1603.3 1719h6.4M1604 1729h1.6M1604.8 1757.4h2M1604 1757.4h1.6M1604.6 1759.1h1.6M1603.3 1767.4h6.4M1603.3 1774.1h6.4M1606.1 1787.4h1.7M1603.3 1800.8h6.4M1606 1804.1h2.6M1607 1807.4h1.7M1607.8 1824.1h1.6M1605.7 1845.8h3.5M1605.6 1847.5h2.8M1632.6 1558.9h1.6M1629.1 1563.9h1.6M1632.4 1603.9h1.6M1627 1627.3h8.8M1627.9 1667.3h1.6M1627 1679h8.8M1629.6 1684h3.5M1629.1 1705.7h4M1630.6 1714h1.6M1632.3 1715.7h1.6M1632.1 1722.4h1.6M1627.7 1725.7h3.3M1628.2 1770.7h3.4M1630.3 1795.8h2.5M1627 1817.5h8.8M1630.3 1830.8h4.2M1273.9 1488.8h38.3M1006.2 1854.2h3.7M1047.9 1854.2h9.1M1064.4 1854.2h4.1M1071.1 1854.2h8.2M1230.4 1854.2h41.1M1282.1 1854.2h18.2M1308.8 1854.2h3.2M1333.5 1854.2h7.8M1396.2 1854.2h3.7M1459.2 1854.2h6.7M1471.2 1854.2h7.3M1483.5 1854.2h3.6M1484 1854.2h2.8M1619.2 1854.2h7.8M895 1855.8h37.8M905.2 1855.8h4.2M933.2 1855.8h2M1047.9 1855.8h9.1M1057 1855.8h14.1M1136 1855.8h3.4M1394.9 1855.8h4.8M1403.4 1855.8h6.3M1416.2 1855.8h2.1M1607.4 1855.8h2M1619.2 1855.8h7.8M1627 1855.8h8.8M943 1857.5h2.8M950.2 1857.5h4.5M1009.3 1857.5h4.8M1057 1857.5h14.1M1282.1 1857.5h18.2M1300.3 1857.5h11.9M1320.9 1857.5h23.7M1347.2 1857.5h9.8M1385.9 1857.5h2.5M1619.2 1857.5h7.8M907.5 1859.2h2.3M943.3 1859.2h3M1074.3 1859.2h3.9M1136 1859.2h2.6M1230.4 1859.2h41.1M1282.1 1859.2h18.2M1357 1859.2h25.4M1404 1859.2h2.6M1416.2 1859.2h2.4M1627 1859.2h8.8M932.8 1860.8h3.1M944.3 1860.8h3M1001.6 1860.8h4.9M1047.9 1860.8h9.1M1057 1860.8h14.1M1136.8 1860.8h4.3M1300.3 1860.8h11.9M1318 1860.8h2.2M1320.9 1860.8h23.7M1347.2 1860.8h9.8M1357 1860.8h25.4M1404.6 1860.8h3.9M1461.6 1860.8h2.6M1473 1860.8h5.8M1619.2 1860.8h7.8M937.2 1862.5h2.6M942.3 1862.5h2.4M947.4 1862.5h9.6M954.1 1862.5h2.4M960.2 1862.5h15.7M1047.9 1862.5h9.1M1057 1862.5h14.1M1282.1 1862.5h18.2M1300.3 1862.5h11.9M1316.2 1862.5h2.4M1320.9 1862.5h23.7M1347.2 1862.5h9.8M1357 1862.5h25.4M1392.8 1862.5h2.2M1477.6 1862.5h5.8M1619.2 1862.5h7.8M1627.1 1862.5h2.9M938.6 1864.2h2.1M1047.9 1864.2h9.1M1134.9 1864.2h4.1M1230.4 1864.2h41.1M1282.1 1864.2h18.2M1300.3 1864.2h11.9M1320.9 1864.2h23.7M1390.1 1864.2h4.7M1416 1864.2h3.4M1416.3 1864.2h2.7M1470.2 1864.2h3.8M1619.2 1864.2h7.8M895 1865.8h37.8M932.9 1865.8h3M938 1865.8h2.2M941.9 1865.8h5.5M959.4 1865.8h41.3M1047.9 1865.8h9.1M1057 1865.8h14.1M1282.1 1865.8h18.2M1300.3 1865.8h11.9M1315.8 1865.8h2.1M1320.9 1865.8h23.7M1347.2 1865.8h9.8M1385.1 1865.8h4.8M1459.5 1865.8h3.3M895 1867.5h37.8M939 1867.5h2.6M1015.3 1867.5h7.3M1047.9 1867.5h9.1M1057 1867.5h14.1M1282.1 1867.5h18.2M1300.3 1867.5h11.9M1320.9 1867.5h23.7M1347.2 1867.5h9.8M1385.1 1867.5h4.8M1385.9 1867.5h2.7M1604.8 1867.5h2.5M1619.2 1867.5h7.8M953.9 1869.2h2.1M960 1869.2h17.7M1047.9 1869.2h9.1M1057 1869.2h14.1M1135.4 1869.2h2.8M1282.1 1869.2h18.2M1300.3 1869.2h11.9M1314.7 1869.2h6.2M1320.9 1869.2h23.7M1357 1869.2h25.4M1416 1869.2h3.4M1459.2 1869.2h6.7M1462 1869.2h2.9M1619.2 1869.2h7.8M1632.9 1869.2h2.4M922.6 1870.8h8.8M935.9 1870.8h6M947.4 1870.8h9.6M959.4 1870.8h41.3M1000.7 1870.8h22.3M1071.3 1870.8h2.2M1132.9 1870.8h11M1230.4 1870.8h41.1M1282.1 1870.8h18.2M1416 1870.8h3.4M1416.3 1870.8h3M1459.2 1870.8h6.7M1604.3 1870.8h2.5M1619.2 1870.8h7.8M1630 1870.8h4.3M895 1872.5h37.8M935.9 1872.5h6M947.4 1872.5h9.6M1015.9 1872.5h4.3M1047.9 1872.5h9.1M1230.4 1872.5h41.1M1282.1 1872.5h18.2M1316 1872.5h2.6M1334.6 1872.5h6.6M1347.2 1872.5h9.8M1385.6 1872.5h2.3M1393.4 1872.5h2.3M1459.2 1872.5h6.7M1603.3 1872.5h6.4M1603.8 1872.5h2.1M935.9 1874.2h6M942.5 1874.2h2.5M947.4 1874.2h9.6M1065 1874.2h3.6M1075.8 1874.2h2.5M1307.7 1874.2h4.1M1416.7 1874.2h2.5M1606 1874.2h3.2M895 1875.8h37.8M905.2 1875.8h12.2M959.4 1875.8h41.3M988.5 1875.8h2.9M1047.9 1875.8h9.1M1230.4 1875.8h41.1M1282.1 1875.8h18.2M1347.2 1875.8h9.8M1459.2 1875.8h6.7M1619.2 1875.8h7.8M941.9 1877.5h5.5M947.4 1877.5h9.6M959.4 1877.5h41.3M1000.7 1877.5h22.3M1047.9 1877.5h9.1M1132.9 1877.5h11M1282.1 1877.5h18.2M1314.7 1877.5h6.2M1459.2 1877.5h6.7M1604 1877.5h2.1M1619.2 1877.5h7.8M935.9 1879.2h6M947.4 1879.2h9.6M1007.6 1879.2h7.6M1047.9 1879.2h9.1M1073.4 1879.2h4M1132.9 1879.2h11M1230.4 1879.2h41.1M1282.1 1879.2h18.2M1333.1 1879.2h4.3M1395.3 1879.2h5.4M1416 1879.2h3.4M1459.2 1879.2h6.7M1619.2 1879.2h7.8M906.4 1880.8h9.3M933.4 1880.8h2.5M935.9 1880.8h6M947.4 1880.8h9.6M980.3 1880.8h19.1M1000.7 1880.8h22.3M1047.9 1880.8h9.1M1057.4 1880.8h6.1M1132.9 1880.8h11M1282.1 1880.8h18.2M1347.2 1880.8h9.8M1465.9 1880.8h17.6M1474.7 1880.8h5.1M1619.2 1880.8h7.8M935.9 1882.5h6M947.4 1882.5h9.6M959.4 1882.5h41.3M1047.9 1882.5h9.1M1072.4 1882.5h2.4M1230.4 1882.5h41.1M1282.1 1882.5h18.2M1347.2 1882.5h9.8M1416.6 1882.5h2.4M1459.2 1882.5h6.7M1465.9 1882.5h17.6M1483.9 1882.5h2.9M1619.2 1882.5h7.8M1629.3 1882.5h4M919.9 1884.2h5.9M941.9 1884.2h5.5M947.4 1884.2h9.6M962.3 1884.2h7.4M1047.9 1884.2h9.1M1230.4 1884.2h41.1M1300.3 1884.2h11.9M1385.1 1884.2h4.8M1469.9 1884.2h3.3M1483.5 1884.2h3.6M1483.6 1884.2h2.9M1619.2 1884.2h7.8M932.8 1885.8h3.1M933.1 1885.8h2.8M935.9 1885.8h6M1010.7 1885.8h10.9M1047.9 1885.8h9.1M1071.1 1885.8h8.2M1132.9 1885.8h11M1230.4 1885.8h41.1M1282.1 1885.8h18.2M1347.2 1885.8h9.8M1459.2 1885.8h6.7M1484.5 1885.8h2.5M1603.3 1885.8h2.7M1631.4 1885.8h4.4M902.4 1887.5h17.6M947.4 1887.5h9.6M1385.5 1887.5h2.7M1603.3 1887.5h6.4M896.1 1889.2h8.5M935.9 1889.2h6M941.9 1889.2h5.5M947.4 1889.2h9.6M1000.7 1889.2h22.3M1047.9 1889.2h9.1M1071.1 1889.2h8.2M1132.9 1889.2h11M1282.1 1889.2h18.2M1318.2 1889.2h2.2M1347.2 1889.2h9.8M1385.4 1889.2h2.2M1404.4 1889.2h3.9M1484.1 1889.2h3M1619.2 1889.2h7.8M935.9 1890.9h6M941.9 1890.9h5.5M947.4 1890.9h9.6M964.8 1890.9h12.6M1059 1890.9h4.2M1132.9 1890.9h11M1282.1 1890.9h18.2M1333.9 1890.9h10.2M1347.2 1890.9h9.8M1391.2 1890.9h5.4M1416 1890.9h3.4M1416.1 1890.9h3M1459.2 1890.9h6.7M1473 1890.9h2.3M895 1892.5h37.8M933.1 1892.5h2.6M935.9 1892.5h6M942.1 1892.5h3M947.4 1892.5h9.6M978.2 1892.5h14.9M1005.2 1892.5h4.6M1047.9 1892.5h9.1M1282.1 1892.5h18.2M1347.2 1892.5h9.8M1395 1892.5h5.1M1416 1892.5h3.4M1459.2 1892.5h6.7M1484.3 1892.5h2.5M932.8 1894.2h3.1M933 1894.2h2.9M935.9 1894.2h6M947.4 1894.2h9.6M1010.4 1894.2h8.8M1047.9 1894.2h9.1M1230.4 1894.2h41.1M1315.1 1894.2h2.1M1347.2 1894.2h9.8M1459.2 1894.2h6.7M1470.2 1894.2h6.7M1603.3 1894.2h6.4M1619.2 1894.2h7.8M1627 1894.2h8.8M947.4 1895.9h9.6M1047.9 1895.9h9.1M1071.1 1895.9h8.2M1282.1 1895.9h18.2M1314.7 1895.9h6.2M1385.9 1895.9h2.1M1390.9 1895.9h5.1M1465.9 1895.9h17.6M1619.2 1895.9h7.8M1627.1 1895.9h2.8M897.1 1897.5h11M933 1897.5h2.3M947.4 1897.5h9.6M1062.9 1897.5h6.8M1075.1 1897.5h2.8M1347.2 1897.5h9.8M1385.1 1897.5h2.4M1389.9 1897.5h10.9M1475.8 1897.5h5.5M1605 1897.5h2.4M932.8 1899.2h3.1M947.4 1899.2h9.6M1000.7 1899.2h22.3M1047.9 1899.2h9.1M1064.1 1899.2h3.3M1230.4 1899.2h41.1M1347.2 1899.2h9.8M1386.1 1899.2h2.8M1404.6 1899.2h6.5M1416 1899.2h2.9M1459.2 1899.2h6.7M1603.3 1899.2h6.4M1627 1899.2h8.8M935.9 1900.9h6M947.4 1900.9h9.6M1007.8 1900.9h10.7M1047.9 1900.9h9.1M1057.3 1900.9h3.6M1132.9 1900.9h11M1282.1 1900.9h18.2M1347.2 1900.9h9.8M1391.9 1900.9h2.2M1459.2 1900.9h6.7M1471.2 1900.9h8.2M1603.3 1900.9h6.4M1627 1900.9h8.8M895 1902.5h37.8M933.2 1902.5h2.7M947.4 1902.5h9.6M1000.7 1902.5h22.3M1062.7 1902.5h4.7M1071.1 1902.5h8.2M1072.7 1902.5h3.7M1230.4 1902.5h41.1M1282.1 1902.5h18.2M1301.7 1902.5h2.8M1320.9 1902.5h23.7M1347.2 1902.5h9.8M1385.1 1902.5h4.8M1416 1902.5h3.4M1416.2 1902.5h2.8M1459.2 1902.5h6.7M1477 1902.5h2.5M1619.2 1902.5h7.8M941.9 1904.2h5.5M1000.7 1904.2h22.3M1047.9 1904.2h9.1M1132.9 1904.2h11M1230.4 1904.2h41.1M1305.5 1904.2h4.6M1347.2 1904.2h9.8M1389.9 1904.2h10.9M1603.3 1904.2h6.4M1619.2 1904.2h7.8M895 1905.9h37.8M935.9 1905.9h6M941.9 1905.9h5.5M947.4 1905.9h9.6M1016 1905.9h6.9M1071.1 1905.9h8.2M1072.2 1905.9h2.6M1132.9 1905.9h11M1230.4 1905.9h41.1M1282.1 1905.9h18.2M1416.5 1905.9h2.3M1459.2 1905.9h6.7M1619.2 1905.9h7.8M1629.7 1905.9h2.6" stroke="#d6d6d5" stroke-width="1.8" fill="none"/>
<path d="M909.2 1523.9h1.6M948.5 1530.5h2.8M911.2 1552.2h17.3M899.3 1563.9h1.6M904.8 1567.2h1.6M898.7 1570.6h1.6M926.5 1575.6h1.6M930.7 1590.6h1.6M908.7 1592.3h1.6M932.8 1714h3.1M932.8 1782.4h3.1M933.1 1802.4h2.2M984.5 1522.2h1.6M977.7 1525.5h1.6M1018.4 1530.5h1.6M1008.9 1533.9h1.6M1011.4 1538.9h2.9M1017.6 1538.9h1.6M992 1545.6h1.6M988.2 1558.9h1.6M1015.8 1558.9h1.6M1001.3 1562.2h1.6M959.4 1575.6h41.3M968.7 1575.6h1.6M994.4 1583.9h1.6M1015.3 1585.6h4.2M1010.9 1587.3h1.6M996.8 1593.9h1.6M961.4 1597.3h1.6M992.8 1607.3h1.6M1041.3 1582.2h2.7M1126.8 1789.1h2.5M1136.8 1520.5h1.6M1134.6 1543.9h2.2M1133.2 1545.6h1.6M1139.9 1575.6h1.6M1139.1 1597.3h1.6M1192.2 1647.3h2.5M1303.4 1618.9h3.7M1308.2 1618.9h1.6M1306.8 1687.3h2M1276.9 1699h3.7M1302.9 1702.4h1.6M1308.7 1724h1.6M1300.3 1735.7h11.9M1301.2 1749.1h5.4M1301.4 1759.1h1.6M1301.7 1760.7h2.7M1301.9 1770.7h6.3M1306.2 1839.1h1.6M1316.4 1572.2h1.6M1406.5 1522.2h1.6M1417 1522.2h1.6M1406.2 1530.5h1.6M1408.2 1567.2h1.6M1416 1570.6h1.6M1404.3 1595.6h8.2M1407.5 1602.3h1.6M1404 1607.3h1.6M1404.1 1610.6h1.6M1469 1525.5h1.6M1469.9 1547.2h1.6M1464 1548.9h1.6M1478 1603.9h5.1M1468.1 1605.6h1.6M1570.5 1655.6h3.5M1643.4 1562.2h2.1M1652 1635.6h3.6M932.8 1488.8h14.3M1347.2 1488.8h35.2M1459.2 1488.8h27.9M1619.2 1488.8h16.6M1357 1854.2h25.4M951.2 1855.8h4M968.9 1855.8h7.1M1416 1855.8h3.4M1483.5 1855.8h3.6M906.8 1857.5h3.4M1483.5 1857.5h3.6M1459.2 1859.2h6.7M1483.5 1859.2h3.6M947.4 1860.8h9.6M1483.5 1860.8h3.6M1408.7 1862.5h5.2M1483.5 1862.5h3.6M895 1864.2h37.8M906.6 1864.2h18.4M950.1 1864.2h3M1010.5 1864.2h2.6M1459.4 1864.2h3.3M1465.9 1864.2h17.6M1483.5 1864.2h3.6M953.7 1865.8h2.5M1416 1865.8h3.4M1416.3 1865.8h2.7M1459.2 1865.8h6.7M1483.5 1865.8h3.6M968.7 1867.5h11.5M1135.2 1867.5h3M1400.8 1867.5h15.2M1483.5 1867.5h3.6M895 1869.2h37.8M1315.4 1869.2h2.3M1400.8 1869.2h15.2M1483.5 1869.2h3.6M932.8 1870.8h3.1M1357 1870.8h25.4M1357 1872.5h25.4M895 1874.2h37.8M932.8 1874.2h3.1M941.9 1874.2h5.5M959.4 1874.2h41.3M1000.7 1874.2h22.3M1025.4 1874.2h22.5M1047.9 1874.2h9.1M1057 1874.2h14.1M1132.9 1874.2h11M1143.9 1874.2h35.6M1230.4 1874.2h41.1M1282.1 1874.2h18.2M1300.3 1874.2h11.9M1314.7 1874.2h6.2M1320.9 1874.2h23.7M1347.2 1874.2h9.8M1357 1874.2h25.4M1389.9 1874.2h10.9M1400.8 1874.2h15.2M1416 1874.2h3.4M1459.2 1874.2h6.7M1465.9 1874.2h17.6M1483.5 1874.2h3.6M1489.7 1874.2h23.5M1558.4 1874.2h19.7M1580.5 1874.2h20.1M1603.3 1874.2h6.4M1609.7 1874.2h7.1M1619.2 1874.2h7.8M1627 1874.2h8.8M1638.5 1874.2h8.2M1649.3 1874.2h6.4M1658.2 1874.2h28.5M1357 1875.8h25.4M1357 1877.5h25.4M1357 1879.2h25.4M1357 1880.8h25.4M1357 1882.5h25.4M1357 1884.2h25.4M1357 1885.8h25.4M895 1887.5h37.8M935.9 1887.5h6M941.9 1887.5h5.5M959.4 1887.5h41.3M1000.7 1887.5h22.3M1047.9 1887.5h9.1M1057 1887.5h14.1M1071.1 1887.5h8.2M1081.7 1887.5h48.7M1132.9 1887.5h11M1143.9 1887.5h35.6M1181.9 1887.5h46.1M1230.4 1887.5h41.1M1273.9 1887.5h8.2M1282.1 1887.5h18.2M1300.3 1887.5h11.9M1314.7 1887.5h6.2M1347.2 1887.5h9.8M1357 1887.5h25.4M1385.1 1887.5h4.8M1389.9 1887.5h10.9M1400.8 1887.5h15.2M1422.2 1887.5h34.3M1459.2 1887.5h6.7M1465.9 1887.5h17.6M1483.5 1887.5h3.6M1489.7 1887.5h23.5M1515.9 1887.5h18.6M1558.4 1887.5h19.7M1580.5 1887.5h20.1M1609.7 1887.5h7.1M1619.2 1887.5h7.8M1649.3 1887.5h6.4M1658.2 1887.5h28.5M1357 1889.2h25.4M1357 1890.9h25.4M1357 1892.5h25.4M1357 1894.2h25.4M1357 1895.9h25.4M895 1897.5h37.8M941.9 1897.5h5.5M1000.7 1897.5h22.3M1025.4 1897.5h22.5M1047.9 1897.5h9.1M1132.9 1897.5h11M1143.9 1897.5h35.6M1230.4 1897.5h41.1M1282.1 1897.5h18.2M1300.3 1897.5h11.9M1314.7 1897.5h6.2M1320.9 1897.5h23.7M1357 1897.5h25.4M1385.1 1897.5h4.8M1400.8 1897.5h15.2M1459.2 1897.5h6.7M1465.9 1897.5h17.6M1483.5 1897.5h3.6M1537.1 1897.5h18.6M1603.3 1897.5h6.4M1609.7 1897.5h7.1M1619.2 1897.5h7.8M1627 1897.5h8.8M1638.5 1897.5h8.2M1357 1899.2h25.4M1357 1900.9h25.4M1357 1902.5h25.4M1357 1904.2h25.4M933.4 1905.9h2.5M1357 1905.9h25.4" stroke="#47286f" stroke-width="1.8" fill="none"/>
<path d="M947.4 1523.9h1.6M922 1530.5h1.6M911.9 1530.5h1.6M906.5 1532.2h1.6M930.9 1535.5h1.6M919.4 1537.2h1.6M920.3 1547.2h1.6M925.1 1547.2h1.6M898.9 1552.2h1.6M911.3 1565.6h1.6M901.7 1575.6h1.6M912.1 1578.9h1.6M948.8 1585.6h1.6M920.9 1592.3h1.6M925.2 1602.3h1.6M919.5 1607.3h1.6M930.8 1608.9h1.6M917.5 1610.6h1.6M937 1622.3h1.6M947.7 1624h3.8M949.3 1625.6h1.6M954.4 1629h1.6M947.4 1632.3h9.6M938.8 1645.6h1.7M947.4 1650.6h9.6M947.4 1657.3h9.6M935.9 1665.7h6M948.3 1667.3h1.6M935.9 1674h6M938.2 1677.3h2.8M932.8 1689h3.1M933.2 1690.7h1.8M938 1705.7h2.3M949.3 1715.7h1.6M947.4 1730.7h9.6M934.3 1732.4h1.6M938.4 1739.1h1.6M949.8 1739.1h5.3M935.9 1747.4h6M953.3 1749.1h1.6M933.3 1754.1h1.8M936.4 1754.1h2.5M938.7 1757.4h1.5M935.9 1759.1h6M932.8 1765.7h3.1M947.4 1767.4h9.6M932.8 1769.1h3.1M947.4 1777.4h9.6M947.4 1779.1h9.6M935.9 1784.1h6M947.4 1784.1h9.6M937.3 1789.1h2.4M935.9 1797.4h6M953.4 1815.8h1.6M935.9 1822.5h6M950.2 1824.1h3.9M950.7 1830.8h2.4M947.4 1835.8h9.6M933.2 1839.1h1.5M933.5 1849.1h2.3M932.8 1850.8h3.1M998.5 1520.5h1.6M981.1 1528.9h1.6M977.2 1547.2h1.6M977.7 1550.6h1.6M1006.9 1550.6h1.6M1021 1552.2h1.6M1004.4 1552.2h1.6M1010.2 1560.6h9.1M1001.6 1562.2h1.6M969.6 1570.6h18.9M1000.7 1572.2h22.3M992.3 1573.9h1.6M996.6 1587.3h1.6M1010.9 1603.9h7.3M977 1608.9h1.6M1049.7 1498.8h2.7M1050.4 1522.2h3.4M1057 1538.9h14.1M1066.2 1545.6h1.6M1050.7 1547.2h1.6M1048.4 1548.9h3.8M1059.2 1548.9h1.6M1048.2 1558.9h1.6M1066 1577.2h1.6M1048.3 1580.6h1.6M1053.9 1588.9h1.6M1047.9 1592.3h9.1M1059.6 1592.3h1.6M1057.6 1605.6h1.6M1047.9 1618.9h9.1M1052.2 1624h1.6M1041.9 1667.3h2.5M1047.9 1669h9.1M1051.3 1679h1.6M1050.1 1684h1.6M1047.9 1685.7h9.1M1048.5 1692.3h3.3M1052.3 1715.7h1.6M1052.5 1734h2.8M1048.5 1740.7h2.4M1050.9 1747.4h1.6M1050.8 1764.1h2.8M1051.2 1765.7h1.6M1048.8 1769.1h2.2M1047.9 1789.1h9.1M1037.6 1790.8h3.3M1050.4 1792.4h2.5M1051.3 1805.8h4.8M1050.8 1815.8h2.8M1048.3 1832.5h2.6M1054.3 1842.5h1.6M1054.8 1845.8h2.1M1111.7 1570.6h3.7M1138.9 1532.2h1.6M1132.9 1597.3h11M1140.8 1605.6h1.6M1138.4 1608.9h1.6M1136.7 1617.3h4.8M1135.7 1630.6h6.6M1137.5 1692.3h1.6M1136 1712.4h1.6M1137.3 1717.4h1.6M1132.9 1740.7h11M1134.3 1745.7h3.4M1133.6 1749.1h6M1133.7 1754.1h6.1M1137.3 1790.8h6.6M1141.2 1807.4h1.6M1132.9 1812.5h11M1135.4 1832.5h5.3M1132.9 1840.8h11M1215.3 1820.8h2.5M1243.3 1618.9h1.6M1245.9 1625.6h1.6M1239.7 1645.6h1.6M1241.2 1649h18.4M1262.8 1654h1.6M1236.2 1655.6h1.6M1251 1669h6.7M1248.7 1692.3h1.6M1248.1 1695.7h1.6M1234.6 1704h9.3M1231.5 1709h1.6M1241.8 1714h1.6M1236.6 1715.7h1.6M1265 1720.7h1.6M1230.4 1722.4h41.1M1238.3 1742.4h1.6M1234.2 1755.7h1.6M1231.2 1767.4h21.5M1247.5 1770.7h1.6M1265.3 1782.4h1.6M1267 1785.8h1.6M1232.9 1790.8h1.6M1269.8 1810.8h1.6M1245.6 1819.1h1.6M1258.2 1834.1h1.6M1233.1 1840.8h10M1307.3 1518.9h2.7M1304.3 1545.6h3.6M1306.4 1548.9h1.6M1287.4 1550.6h6.5M1308.9 1552.2h1.6M1292.4 1555.6h7.1M1285.2 1557.2h1.6M1306.5 1568.9h1.6M1290.5 1573.9h1.6M1308.6 1582.2h1.6M1284.7 1583.9h1.6M1284 1585.6h1.6M1294.8 1587.3h1.6M1310.1 1588.9h1.6M1302 1592.3h1.6M1288.5 1595.6h1.6M1303.1 1595.6h1.6M1308.1 1597.3h1.6M1294.5 1600.6h1.6M1283.3 1622.3h8.2M1304.3 1634h6M1292.4 1635.6h7.2M1282.1 1639h18.2M1307.8 1644h1.6M1303 1645.6h5.6M1306.9 1650.6h1.6M1300.3 1654h11.9M1288.9 1660.7h6M1293.8 1687.3h2.5M1286.3 1689h7.8M1302.7 1689h5M1297.5 1690.7h1.6M1284.4 1700.7h1.6M1283.3 1720.7h3.2M1282.1 1735.7h18.2M1282.1 1737.4h18.2M1282.4 1742.4h10.3M1306.1 1747.4h1.6M1282.1 1767.4h18.2M1282.1 1792.4h18.2M1306.3 1797.4h4.4M1297.1 1804.1h1.6M1300.3 1804.1h11.9M1292.6 1815.8h1.6M1282.1 1819.1h18.2M1300.3 1847.5h11.9M1323.5 1520.5h8.5M1330.5 1528.9h1.6M1334.3 1532.2h1.6M1334.2 1540.5h1.6M1334.7 1542.2h1.6M1319.3 1550.6h1.6M1321.9 1552.2h1.6M1323 1553.9h1.6M1321.3 1557.2h1.6M1324.2 1557.2h1.6M1333.3 1558.9h1.6M1340 1562.2h1.6M1341.4 1567.2h1.6M1337.2 1568.9h1.6M1332.3 1570.6h1.6M1336.7 1573.9h1.6M1327.8 1578.9h1.6M1328.6 1595.6h1.6M1341.6 1605.6h1.6M1334.8 1607.3h1.6M1335.4 1610.6h1.6M1365.3 1518.9h1.6M1369 1522.2h1.6M1370.4 1527.2h1.6M1364.5 1530.5h1.6M1379.7 1532.2h1.6M1347.2 1548.9h4.6M1351 1552.2h1.6M1378.8 1553.9h1.6M1380.9 1555.6h1.6M1349.6 1560.6h1.6M1371.7 1563.9h1.6M1361.2 1565.6h1.6M1369.2 1567.2h1.6M1370 1570.6h1.6M1359.8 1575.6h1.6M1370.1 1577.2h1.6M1376.2 1578.9h1.6M1366.4 1583.9h1.6M1371.2 1588.9h1.6M1364.5 1593.9h1.6M1352.1 1595.6h2.8M1361.5 1595.6h1.6M1359.5 1597.3h1.6M1351.6 1608.9h3.9M1353.3 1637.3h1.8M1347.2 1665.7h9.8M1347.2 1674h9.8M1347.8 1677.3h3M1347.2 1684h9.8M1350.8 1685.7h5.6M1353.3 1690.7h3.1M1347.2 1695.7h9.8M1347.2 1702.4h9.8M1353.4 1719h3.3M1350.5 1742.4h4.1M1355.2 1775.8h1.6M1347.2 1782.4h9.8M1352.7 1794.1h3.3M1347.5 1795.8h4.6M1353 1799.1h2.9M1347.2 1802.4h9.8M1347.2 1824.1h9.8M1402.6 1533.9h5.7M1407.5 1560.6h1.6M1410.6 1563.9h1.6M1408.2 1563.9h1.6M1412.3 1592.3h1.6M1466.6 1527.2h1.6M1468.9 1530.5h1.6M1479.3 1535.5h1.6M1473.8 1540.5h1.6M1468.2 1562.2h1.6M1465.9 1575.6h17.6M1471.5 1582.2h1.6M1464.3 1595.6h1.6M1462.8 1602.3h1.6M1459.3 1615.6h1.6M1459.5 1617.3h2.5M1460.5 1620.6h3.8M1459.4 1650.6h2M1459.2 1735.7h6.7M1462.4 1750.7h1.6M1459.8 1779.1h1.6M1459.2 1780.8h6.7M1460.7 1787.4h3M1459.2 1794.1h6.7M1459.5 1805.8h1.6M1459.2 1807.4h6.7M1459.8 1812.5h3.9M1459.3 1829.1h1.6M1621.1 1520.5h1.6M1619.8 1555.6h2.2M1619.7 1563.9h1.6M1619.5 1590.6h1.6M1620.3 1597.3h1.6M1620.7 1613.9h3.5M1619.2 1618.9h7.8M1623.2 1672.3h1.6M1621.2 1690.7h2.1M1624.4 1700.7h1.6M1623.2 1742.4h1.6M1621.6 1745.7h4.3M1619.4 1757.4h4.6M1619.8 1804.1h2.7M1619.6 1807.4h1.6M1620.6 1822.5h2.4M1620.4 1825.8h2.2M1619.2 1835.8h7.8M1624.3 1835.8h1.6M1619.2 1852.5h7.8M947.1 1488.8h9.9M1230.4 1488.8h41.1M895 1854.2h37.8M933 1854.2h2.9M935.9 1854.2h6M941.9 1854.2h5.5M959.4 1854.2h41.3M1000.7 1854.2h22.3M1057 1854.2h14.1M1132.9 1854.2h11M1249.1 1854.2h19.2M1300.3 1854.2h11.9M1314.7 1854.2h6.2M1320.9 1854.2h23.7M1385.1 1854.2h4.8M1400.8 1854.2h15.2M1416 1854.2h3.4M1465.9 1854.2h17.6M1603.3 1854.2h6.4M1627 1854.2h8.8M932.8 1855.8h3.1M935.9 1855.8h6M941.9 1855.8h5.5M1071.1 1855.8h8.2M1230.4 1855.8h41.1M1282.1 1855.8h18.2M1307 1855.8h4.1M1320.9 1855.8h23.7M1389.9 1855.8h10.9M1462.4 1855.8h2M1623.5 1855.8h2.2M932.8 1857.5h3.1M935.9 1857.5h6M941.9 1857.5h5.5M959.4 1857.5h41.3M1047.9 1857.5h9.1M1071.1 1857.5h8.2M1230.4 1857.5h41.1M1347.4 1857.5h2.8M1360.7 1857.5h9.5M1389.9 1857.5h10.9M1459.7 1857.5h2.2M1603.3 1857.5h6.4M1627 1857.5h8.8M932.8 1859.2h3.1M935.9 1859.2h6M951 1859.2h3.1M981.3 1859.2h8.5M1071.1 1859.2h8.2M1283.6 1859.2h5.1M1300.3 1859.2h11.9M1347.2 1859.2h9.8M1385.1 1859.2h4.8M1389.9 1859.2h10.9M1603.3 1859.2h6.4M935.9 1860.8h6M989.1 1860.8h9.1M1049.8 1860.8h3.1M1071.1 1860.8h8.2M1230.4 1860.8h41.1M1370 1860.8h8.8M1385.1 1860.8h4.8M1603.3 1860.8h6.4M1627 1860.8h8.8M932.8 1862.5h3.1M935.9 1862.5h6M941.9 1862.5h5.5M1050 1862.5h2.1M1061.7 1862.5h4.1M1071.1 1862.5h8.2M1132.9 1862.5h11M1230.4 1862.5h41.1M1385.1 1862.5h4.8M1462.4 1862.5h3.1M1603.3 1862.5h6.4M1627 1862.5h8.8M932.8 1864.2h3.1M935.9 1864.2h6M941.9 1864.2h5.5M947.4 1864.2h9.6M1057 1864.2h14.1M1071.1 1864.2h8.2M1283.5 1864.2h5.3M1301.6 1864.2h4.7M1347.2 1864.2h9.8M1385.1 1864.2h4.8M1389.9 1864.2h10.9M1400.8 1864.2h15.2M1408.2 1864.2h4M1603.3 1864.2h6.4M1627 1864.2h8.8M932.8 1865.8h3.1M935.9 1865.8h6M1000.7 1865.8h22.3M1071.1 1865.8h8.2M1230.4 1865.8h41.1M1285.6 1865.8h3.6M1389.9 1865.8h10.9M1475.3 1865.8h8M1603.3 1865.8h6.4M1627 1865.8h8.8M923.9 1867.5h6M932.8 1867.5h3.1M941.9 1867.5h5.5M947.4 1867.5h9.6M1071.1 1867.5h8.2M1230.4 1867.5h41.1M1304.7 1867.5h3.4M1315.3 1867.5h2.9M1325.9 1867.5h6.9M1389.9 1867.5h10.9M1603.3 1867.5h6.4M1627 1867.5h8.8M932.8 1869.2h3.1M935.9 1869.2h6M941.9 1869.2h5.5M1004.2 1869.2h8.1M1050.5 1869.2h4.3M1230.4 1869.2h41.1M1352.2 1869.2h4.6M1389.9 1869.2h10.9M1467.4 1869.2h6.8M1603.3 1869.2h6.4M895 1870.8h37.8M941.9 1870.8h5.5M952.1 1870.8h3.7M1047.9 1870.8h9.1M1057 1870.8h14.1M1254.3 1870.8h15.1M1314.7 1870.8h6.2M1347.2 1870.8h9.8M1385.1 1870.8h4.8M1389.9 1870.8h10.9M1400.8 1870.8h15.2M1461.8 1870.8h3.3M1483.5 1870.8h3.6M1603.3 1870.8h6.4M1620.8 1870.8h2.8M1627 1870.8h8.8M941.9 1872.5h5.5M952.4 1872.5h2.4M1000.7 1872.5h22.3M1057 1872.5h14.1M1071.1 1872.5h8.2M1136.5 1872.5h5.5M1320.9 1872.5h23.7M1389.9 1872.5h10.9M1400.8 1872.5h15.2M1416 1872.5h3.4M1465.9 1872.5h17.6M1483.5 1872.5h3.6M1627 1872.5h8.8M1071.1 1874.2h8.2M1385.1 1874.2h4.8M935.9 1875.8h6M1000.7 1875.8h22.3M1050.6 1875.8h2.1M1057 1875.8h14.1M1071.1 1875.8h8.2M1314.7 1875.8h6.2M1350.4 1875.8h3M1385.1 1875.8h4.8M1389.9 1875.8h10.9M1400.8 1875.8h15.2M1416 1875.8h3.4M1465.9 1875.8h17.6M1483.5 1875.8h3.6M1627 1875.8h8.8M935.9 1877.5h6M1049.9 1877.5h2.4M1071.1 1877.5h8.2M1230.4 1877.5h41.1M1302.5 1877.5h2.6M1320.9 1877.5h23.7M1347.2 1877.5h9.8M1385.1 1877.5h4.8M1389.9 1877.5h10.9M1400.8 1877.5h15.2M1465.9 1877.5h17.6M1483.5 1877.5h3.6M1603.3 1877.5h6.4M1627 1877.5h8.8M895 1879.2h37.8M932.9 1879.2h2.1M941.9 1879.2h5.5M959.4 1879.2h41.3M1000.7 1879.2h22.3M1057 1879.2h14.1M1285.1 1879.2h5.7M1314.7 1879.2h6.2M1320.9 1879.2h23.7M1385.1 1879.2h4.8M1389.9 1879.2h10.9M1400.8 1879.2h15.2M1465.9 1879.2h17.6M1603.3 1879.2h6.4M1627 1879.2h8.8M895 1880.8h37.8M959.4 1880.8h41.3M1057 1880.8h14.1M1071.1 1880.8h8.2M1230.4 1880.8h41.1M1289.5 1880.8h4.1M1314.7 1880.8h6.2M1320.9 1880.8h23.7M1350.9 1880.8h4M1389.9 1880.8h10.9M1400.8 1880.8h15.2M1416 1880.8h3.4M1459.2 1880.8h6.7M1483.5 1880.8h3.6M1603.3 1880.8h6.4M1627 1880.8h8.8M895 1882.5h37.8M941.9 1882.5h5.5M950.9 1882.5h3.3M1000.7 1882.5h22.3M1050.1 1882.5h4.1M1057 1882.5h14.1M1132.9 1882.5h11M1289.7 1882.5h7M1314.7 1882.5h6.2M1320.9 1882.5h23.7M1385.1 1882.5h4.8M1389.9 1882.5h10.9M1400.8 1882.5h15.2M1416 1882.5h3.4M1483.5 1882.5h3.6M1603.3 1882.5h6.4M1622.1 1882.5h2.2M1627 1882.5h8.8M895 1884.2h37.8M935.9 1884.2h6M937.2 1884.2h2.3M959.4 1884.2h41.3M1000.7 1884.2h22.3M1057 1884.2h14.1M1071.1 1884.2h8.2M1132.9 1884.2h11M1257 1884.2h7.8M1282.1 1884.2h18.2M1306.6 1884.2h3.9M1320.9 1884.2h23.7M1347.2 1884.2h9.8M1347.6 1884.2h3.7M1389.9 1884.2h10.9M1416 1884.2h3.4M1465.9 1884.2h17.6M1603.3 1884.2h6.4M1620.5 1884.2h2.6M1627 1884.2h8.8M895 1885.8h37.8M941.9 1885.8h5.5M1000.7 1885.8h22.3M1057 1885.8h14.1M1135.7 1885.8h2.9M1314.7 1885.8h6.2M1320.9 1885.8h23.7M1385.1 1885.8h4.8M1389.9 1885.8h10.9M1400.8 1885.8h15.2M1416 1885.8h3.4M1460.6 1885.8h2.1M1483.5 1885.8h3.6M1603.3 1885.8h6.4M1619.2 1885.8h7.8M1621.3 1885.8h2M1138.2 1887.5h4.1M1320.9 1887.5h23.7M1416 1887.5h3.4M1622.7 1887.5h3.3M1627 1887.5h8.8M895 1889.2h37.8M932.8 1889.2h3.1M933 1889.2h2.9M952.5 1889.2h3.4M959.4 1889.2h41.3M1057 1889.2h14.1M1230.4 1889.2h41.1M1290.9 1889.2h8.7M1314.7 1889.2h6.2M1320.9 1889.2h23.7M1385.1 1889.2h4.8M1389.9 1889.2h10.9M1400.8 1889.2h15.2M1416 1889.2h3.4M1462.8 1889.2h2.1M1483.5 1889.2h3.6M1603.3 1889.2h6.4M1627 1889.2h8.8M895 1890.9h37.8M933.3 1890.9h2.2M951 1890.9h3M959.4 1890.9h41.3M1000.7 1890.9h22.3M1047.9 1890.9h9.1M1057 1890.9h14.1M1230.4 1890.9h41.1M1293.8 1890.9h2.4M1300.3 1890.9h11.9M1314.7 1890.9h6.2M1320.9 1890.9h23.7M1385.1 1890.9h4.8M1400.8 1890.9h15.2M1465.9 1890.9h17.6M1483.5 1890.9h3.6M1603.3 1890.9h6.4M1619.2 1890.9h7.8M1627 1890.9h8.8M941.9 1892.5h5.5M959.4 1892.5h41.3M1000.7 1892.5h22.3M1050.2 1892.5h2.9M1057 1892.5h14.1M1071.1 1892.5h8.2M1132.9 1892.5h11M1230.4 1892.5h41.1M1314.7 1892.5h6.2M1320.9 1892.5h23.7M1350.4 1892.5h4.6M1385.1 1892.5h4.8M1389.9 1892.5h10.9M1400.8 1892.5h15.2M1465.9 1892.5h17.6M1483.5 1892.5h3.6M1603.3 1892.5h6.4M895 1894.2h37.8M938.1 1894.2h2.1M941.9 1894.2h5.5M959.4 1894.2h41.3M1000.7 1894.2h22.3M1057 1894.2h14.1M1071.1 1894.2h8.2M1132.9 1894.2h11M1246.3 1894.2h8.1M1320.9 1894.2h23.7M1385.1 1894.2h4.8M1389.9 1894.2h10.9M1400.8 1894.2h15.2M1416 1894.2h3.4M1459.9 1894.2h3M1623.6 1894.2h3.2M895 1895.9h37.8M933 1895.9h2.5M935.9 1895.9h6M937.3 1895.9h2.1M941.9 1895.9h5.5M1000.7 1895.9h22.3M1053.7 1895.9h2.3M1057 1895.9h14.1M1243.8 1895.9h13.7M1347.2 1895.9h9.8M1385.1 1895.9h4.8M1400.8 1895.9h15.2M1416 1895.9h3.4M1483.5 1895.9h3.6M1603.3 1895.9h6.4M1623.1 1895.9h2.2M1627 1895.9h8.8M959.4 1897.5h41.3M1057 1897.5h14.1M1071.1 1897.5h8.2M1293.4 1897.5h2.1M895 1899.2h37.8M933.2 1899.2h2.7M938.8 1899.2h2.9M941.9 1899.2h5.5M949.6 1899.2h3.9M959.4 1899.2h41.3M1057 1899.2h14.1M1071.1 1899.2h8.2M1133.1 1899.2h4.2M1314.7 1899.2h6.2M1320.9 1899.2h23.7M1385.1 1899.2h4.8M1389.9 1899.2h10.9M1400.8 1899.2h15.2M1416 1899.2h3.4M1465.9 1899.2h17.6M1483.5 1899.2h3.6M1619.2 1899.2h7.8M895 1900.9h37.8M941.9 1900.9h5.5M959.4 1900.9h41.3M1000.7 1900.9h22.3M1057 1900.9h14.1M1071.1 1900.9h8.2M1314.7 1900.9h6.2M1320.9 1900.9h23.7M1351.9 1900.9h3.5M1385.1 1900.9h4.8M1389.9 1900.9h10.9M1400.8 1900.9h15.2M1416 1900.9h3.4M1462.8 1900.9h2.1M1465.9 1900.9h17.6M1483.5 1900.9h3.6M1619.2 1900.9h7.8M1620.4 1900.9h2.2M941.9 1902.5h5.5M959.4 1902.5h41.3M1047.9 1902.5h9.1M1057 1902.5h14.1M1246.5 1902.5h7.4M1300.3 1902.5h11.9M1314.7 1902.5h6.2M1349.9 1902.5h4.6M1389.9 1902.5h10.9M1400.8 1902.5h15.2M1465.9 1902.5h17.6M1483.5 1902.5h3.6M1603.3 1902.5h6.4M1622.3 1902.5h3.2M1627 1902.5h8.8M895 1904.2h37.8M935.9 1904.2h6M947.4 1904.2h9.6M959.4 1904.2h41.3M1052 1904.2h3.1M1057 1904.2h14.1M1071.1 1904.2h8.2M1314.7 1904.2h6.2M1349.9 1904.2h3.6M1385.1 1904.2h4.8M1400.8 1904.2h15.2M1416 1904.2h3.4M1483.5 1904.2h3.6M1620.2 1904.2h3M1627 1904.2h8.8M932.8 1905.9h3.1M950.7 1905.9h4.1M959.4 1905.9h41.3M1057 1905.9h14.1M1136.6 1905.9h2.9M1314.7 1905.9h6.2M1347.2 1905.9h9.8M1385.1 1905.9h4.8M1389.9 1905.9h10.9M1400.8 1905.9h15.2M1416 1905.9h3.4M1459.7 1905.9h2.1M1465.9 1905.9h17.6M1483.5 1905.9h3.6M1627 1905.9h8.8" stroke="#94c773" stroke-width="1.8" fill="none"/>
<path d="M937.3 1533.9h3.1M944.1 1537.2h1.6M936.3 1540.5h1.6M944.1 1542.2h1.6M945.1 1567.2h1.6M938.6 1570.6h1.6M943.6 1570.6h1.6M934.1 1577.2h1.6M933.8 1583.9h1.6M933 1602.3h1.6M939.7 1603.9h1.6M951.3 1612.3h5.5M895 1613.9h37.8M898.2 1620.6h1.6M903 1634h1.6M936.3 1650.6h1.6M935.9 1662.3h6M914.3 1664h1.6M896.3 1667.3h17.9M902.4 1667.3h1.6M928.6 1672.3h1.6M896.6 1675.7h20.3M938.1 1675.7h3.5M951.6 1677.3h1.9M947.9 1690.7h5.1M899.4 1694h1.6M909.3 1719h1.6M928.9 1727.4h1.6M898.5 1732.4h1.6M951.6 1740.7h2.7M941.9 1749.1h5.5M942 1752.4h1.6M947.4 1752.4h9.6M950.1 1757.4h5.6M949.8 1762.4h2.6M908.7 1765.7h17M952.3 1767.4h1.6M941.9 1770.7h5.5M895 1785.8h37.8M950.9 1785.8h1.6M952 1785.8h1.6M941.9 1790.8h5.5M949 1805.8h5.2M895.3 1807.4h1.6M951.3 1807.4h5.6M936.1 1809.1h1.6M947.4 1812.5h9.6M935.9 1814.1h6M950.2 1822.5h4.5M895 1825.8h37.8M942.9 1829.1h3.1M951.4 1829.1h3.4M935.9 1837.5h6M949.7 1837.5h3.3M917.6 1839.1h1.6M900 1844.1h1.6M938.3 1849.1h2.5M951.5 1849.1h1.6M1014.1 1617.3h1.6M1005 1627.3h11.9M992.9 1644h1.6M988.2 1645.6h1.6M959.4 1655.6h41.3M1000.7 1672.3h22.3M993.3 1697.3h1.6M994.5 1699h1.6M967 1707.4h18.3M1014.4 1710.7h1.6M992.3 1714h1.6M972.4 1722.4h14M1000.7 1722.4h22.3M987.2 1725.7h1.6M975.9 1737.4h1.6M959.5 1745.7h16.5M976.2 1745.7h1.6M994.5 1757.4h1.6M1003 1759.1h9.5M1018.8 1765.7h1.6M1014.6 1772.4h1.6M983 1789.1h1.6M984.6 1795.8h13.5M959.4 1805.8h41.3M996.8 1809.1h1.6M961.1 1815.8h10.1M959.5 1817.5h1.6M968.6 1824.1h1.6M1006.3 1824.1h2.3M1001.9 1824.1h1.6M992.4 1825.8h1.6M1014.9 1852.5h1.6M1065 1520.5h1.6M1048.1 1532.2h1.6M1047.9 1533.9h9.1M1075.5 1533.9h1.6M1058.1 1537.2h1.6M1052.4 1540.5h2.6M1048.6 1567.2h1.6M1047.9 1573.9h9.1M1072.9 1585.6h1.6M1077.7 1585.6h1.6M1064.7 1593.9h1.6M1047.9 1598.9h9.1M1053.2 1598.9h1.6M1066.6 1600.6h1.6M1068.3 1600.6h1.6M1073.8 1602.3h1.6M1058.4 1605.6h1.6M1059.3 1607.3h1.6M1068.6 1610.6h1.6M1074.7 1610.6h1.6M1050.1 1613.9h2.9M1052.3 1618.9h1.6M1047.9 1629h9.1M1071.1 1629h8.2M1047.9 1650.6h9.1M1076.9 1652.3h1.6M1074.7 1657.3h2.3M1057 1662.3h14.1M1063.7 1670.7h1.6M1052.3 1685.7h1.6M1055.1 1692.3h1.6M1062.4 1694h1.6M1047.9 1724h9.1M1057.3 1727.4h1.6M1057 1750.7h14.1M1058.7 1752.4h7.8M1048.5 1760.7h1.6M1071.1 1764.1h1.6M1071.1 1767.4h8.2M1047.9 1772.4h9.1M1075.6 1780.8h1.6M1047.9 1797.4h9.1M1057.1 1797.4h3.2M1072.1 1797.4h4.5M1047.9 1802.4h9.1M1051 1815.8h1.6M1053.7 1822.5h1.6M1057 1822.5h14.1M1071.1 1845.8h8.2M1066.5 1849.1h1.6M1139.7 1617.3h1.6M1139.5 1624h2.7M1134.7 1642.3h1.6M1132.9 1657.3h11M1132.9 1660.7h11M1132.9 1674h11M1132.9 1675.7h11M1132.9 1714h11M1134.2 1732.4h1.6M1134.2 1739.1h3.2M1132.9 1750.7h11M1135.2 1750.7h1.6M1142.3 1780.8h1.6M1134 1785.8h6.2M1134.7 1787.4h2.3M1136.9 1792.4h4.3M1132.9 1814.1h11M1249.8 1525.5h1.6M1231.5 1547.2h1.6M1252.8 1548.9h1.6M1241.5 1548.9h1.6M1230.4 1550.6h41.1M1244.1 1550.6h1.6M1269.8 1553.9h1.6M1263.3 1557.2h1.6M1239.6 1560.6h1.6M1252.6 1567.2h1.6M1256.5 1587.3h1.6M1253 1595.6h1.6M1263.2 1597.3h1.6M1239.1 1598.9h1.6M1246.2 1600.6h19.1M1234 1600.6h1.6M1251 1608.9h1.6M1230.4 1612.3h41.1M1230.4 1613.9h41.1M1230.4 1618.9h41.1M1230.4 1635.6h41.1M1238.6 1635.6h1.6M1230.4 1657.3h41.1M1235.1 1664h9.9M1251.4 1685.7h1.6M1246.3 1687.3h1.6M1230.4 1699h41.1M1247.1 1722.4h1.6M1259.4 1725.7h1.6M1247.6 1727.4h1.6M1263 1729h1.6M1246.1 1732.4h1.6M1251 1752.4h16.7M1246.6 1754.1h2M1235.2 1759.1h1.6M1230.4 1779.1h41.1M1247.5 1780.8h1.6M1230.4 1790.8h41.1M1258.9 1792.4h1.6M1258.7 1794.1h8.6M1261.3 1802.4h9.9M1254.4 1807.4h1.6M1230.4 1827.5h41.1M1286.6 1518.9h4.1M1286.6 1523.9h1.6M1291.3 1528.9h1.6M1285.8 1537.2h2.4M1301.4 1537.2h1.6M1294.3 1538.9h1.6M1289.3 1552.2h1.6M1301.4 1558.9h1.6M1283.2 1570.6h1.6M1294.7 1573.9h1.6M1294.9 1578.9h1.6M1300.5 1580.6h1.6M1292.8 1583.9h1.6M1302.3 1585.6h1.6M1283.1 1588.9h1.6M1288.7 1592.3h1.6M1293.6 1592.3h1.6M1294.7 1593.9h1.6M1282.2 1595.6h1.6M1305.6 1600.6h1.6M1282.1 1603.9h18.2M1305.6 1605.6h1.6M1291.9 1608.9h1.6M1284.1 1608.9h1.6M1291.1 1660.7h1.6M1282.1 1679h18.2M1284.6 1679h1.6M1283.3 1722.4h7.7M1288.5 1729h1.6M1290.2 1745.7h9.3M1287.2 1809.1h3.3M1288.1 1822.5h10.2M1282.1 1835.8h18.2M1287.7 1837.5h5.2M1291.4 1845.8h1.6M1282.1 1847.5h18.2M1320.9 1505.5h23.7M1322.8 1520.5h1.6M1338.8 1523.9h1.6M1329.5 1530.5h12.7M1339.7 1542.2h1.6M1334.3 1542.2h1.6M1326.1 1545.6h1.6M1321 1562.2h1.6M1333.6 1573.9h1.6M1337.1 1583.9h1.6M1323.9 1585.6h1.6M1328.7 1597.3h1.6M1336.5 1652.3h1.6M1319.1 1660.7h1.6M1318.2 1672.3h1.9M1320.9 1712.4h23.7M1320.9 1742.4h23.7M1325 1749.1h5.8M1317.3 1764.1h2.2M1320.9 1764.1h23.7M1314.7 1767.4h6.2M1332.7 1785.8h1.6M1330.6 1789.1h9.8M1323.9 1794.1h1.7M1328.5 1802.4h10M1314.9 1845.8h3.3M1350.6 1523.9h4M1378.9 1528.9h1.6M1347.5 1533.9h5.7M1352.4 1535.5h1.6M1352.6 1538.9h1.6M1353.5 1545.6h1.6M1366.3 1547.2h1.6M1369.9 1552.2h1.6M1368.9 1553.9h1.6M1368 1557.2h1.6M1371.4 1560.6h1.6M1374.7 1583.9h1.6M1359.1 1592.3h1.6M1358.1 1595.6h1.6M1380.7 1605.6h1.6M1354.6 1608.9h1.6M1347.2 1610.6h9.8M1350.7 1624h4.7M1354 1630.6h1.6M1349 1670.7h4.4M1347.2 1707.4h9.8M1354.4 1717.4h1.8M1352.3 1717.4h1.6M1347.2 1727.4h9.8M1349.9 1730.7h4.5M1350.3 1749.1h2.8M1350 1769.1h1.6M1348.6 1770.7h1.6M1350.2 1805.8h3.4M1385.6 1533.9h2.2M1385.1 1537.2h4.8M1395.7 1562.2h3M1387.6 1583.9h1.6M1416.9 1613.9h2.2M1390.2 1620.6h2.5M1416.6 1629h2.3M1403.5 1634h5M1407.3 1637.3h6.7M1408.5 1649h6.9M1391.9 1669h3.7M1400.8 1680.7h15.2M1413.5 1682.3h1.6M1416 1682.3h1.6M1387.1 1689h2.3M1416 1704h3.4M1408.9 1710.7h1.6M1392.3 1715.7h4.1M1391.3 1734h1.6M1417 1734h2.4M1385.1 1737.4h4.8M1385.1 1760.7h4.8M1385.1 1762.4h4.8M1417.1 1767.4h2M1387.5 1782.4h1.5M1396.9 1792.4h1.6M1416.9 1794.1h1.6M1407.2 1795.8h1.6M1407.1 1809.1h7.9M1385.1 1810.8h4.8M1394.5 1810.8h1.6M1409.4 1814.1h1.6M1387.1 1815.8h1.9M1416.2 1820.8h1.6M1385.1 1825.8h4.8M1385.1 1845.8h4.8M1478.3 1612.3h1.6M1469.7 1615.6h7.2M1465.9 1617.3h17.6M1483.5 1659h3.6M1459.2 1662.3h6.7M1476.1 1674h1.6M1461.6 1675.7h1.6M1459.2 1690.7h6.7M1475.7 1697.3h1.6M1465.9 1722.4h17.6M1461.9 1730.7h1.6M1472.5 1752.4h1.6M1485.4 1754.1h1.6M1460.7 1772.4h3.5M1459.2 1784.1h6.7M1463.9 1785.8h1.6M1463.6 1792.4h2.1M1462.1 1794.1h1.6M1460.3 1802.4h3.9M1479.6 1804.1h1.6M1472.9 1812.5h5.7M1463.9 1814.1h1.5M1484.8 1820.8h1.7M1471.2 1827.5h1.6M1483.8 1837.5h2.4M1459.2 1839.1h6.7M1459.2 1847.5h6.7M1605.4 1532.2h2M1604.3 1532.2h1.6M1605.2 1533.9h3.5M1603.3 1639h6.4M1608.2 1705.7h1.6M1606.3 1755.7h3.1M1603.3 1784.1h6.4M1605.5 1819.1h3.5M1620.6 1493.8h3.2M1628.8 1522.2h4.8M1621.8 1532.2h1.6M1623.6 1568.9h1.6M1624 1578.9h1.6M1622.7 1585.6h1.6M1624.8 1588.9h1.6M1620.5 1598.9h1.6M1621.3 1600.6h4.5M1621.4 1617.3h4.4M1620.5 1630.6h1.6M1620.5 1635.6h4.6M1619.2 1637.3h7.8M1619.2 1642.3h7.8M1620.5 1657.3h3.7M1619.2 1672.3h7.8M1619.2 1684h7.8M1623.2 1709h1.6M1619.5 1754.1h4.6M1619.2 1764.1h7.8M1619.2 1765.7h7.8M1627 1775.8h8.8M1620.6 1780.8h1.5M1633.6 1782.4h1.7M1622.8 1784.1h4.1M1620.3 1790.8h1.6M1620.8 1804.1h1.6M1619.2 1819.1h7.8M1619.9 1824.1h1.6M1630 1832.5h1.6M1623.3 1840.8h1.6M932.8 1854.2h3.1M939.6 1854.2h2.3M943.2 1854.2h2.8M947.4 1854.2h9.6M1071.8 1854.2h3.6M1347.2 1854.2h9.8M1348.9 1854.2h2.7M1416 1854.2h2.9M1461.2 1854.2h3.3M947.4 1855.8h9.6M959.4 1855.8h41.3M1000.7 1855.8h22.3M1132.9 1855.8h11M1292.3 1855.8h6.8M1300.3 1855.8h11.9M1314.7 1855.8h6.2M1327.1 1855.8h4.4M1347.2 1855.8h9.8M1357 1855.8h25.4M1385.1 1855.8h4.8M1400.8 1855.8h15.2M1459.2 1855.8h6.7M1465.9 1855.8h17.6M1603.3 1855.8h6.4M1632.3 1855.8h2.2M895 1857.5h37.8M947.4 1857.5h9.6M1000.7 1857.5h22.3M1050.7 1857.5h3.6M1061.6 1857.5h7M1132.9 1857.5h11M1232.2 1857.5h10.9M1314.7 1857.5h6.2M1327.3 1857.5h6.3M1357 1857.5h25.4M1385.1 1857.5h4.8M1400.8 1857.5h15.2M1416 1857.5h3.4M1459.2 1857.5h6.7M1465.9 1857.5h17.6M1622.8 1857.5h2.6M895 1859.2h37.8M947.4 1859.2h9.6M959.4 1859.2h41.3M1000.7 1859.2h22.3M1047.9 1859.2h9.1M1057 1859.2h14.1M1060.4 1859.2h5.3M1132.9 1859.2h11M1314.7 1859.2h6.2M1320.9 1859.2h23.7M1323.7 1859.2h9.4M1349.4 1859.2h4.6M1400.8 1859.2h15.2M1416 1859.2h3.4M1465.9 1859.2h17.6M1619.2 1859.2h7.8M1621.4 1859.2h3.5M1628.3 1859.2h3.4M895 1860.8h37.8M959.4 1860.8h41.3M1000.7 1860.8h22.3M1132.9 1860.8h11M1243.5 1860.8h6.8M1282.1 1860.8h18.2M1314.7 1860.8h6.2M1353.2 1860.8h3.3M1389.9 1860.8h10.9M1400.8 1860.8h15.2M1416 1860.8h3.4M1459.2 1860.8h6.7M1465.9 1860.8h17.6M895 1862.5h37.8M932.9 1862.5h2.3M959.4 1862.5h41.3M1000.7 1862.5h22.3M1293.3 1862.5h6.4M1302.7 1862.5h2.8M1314.7 1862.5h6.2M1332.2 1862.5h2.4M1347.3 1862.5h2.7M1364.9 1862.5h8.4M1389.9 1862.5h10.9M1400.8 1862.5h15.2M1416 1862.5h3.4M1459.2 1862.5h6.7M1465.9 1862.5h17.6M932.9 1864.2h2.9M959.4 1864.2h41.3M1000.7 1864.2h22.3M1048.1 1864.2h3.6M1058.7 1864.2h4.4M1132.9 1864.2h11M1314.7 1864.2h6.2M1352.5 1864.2h3.8M1357 1864.2h25.4M1364.5 1864.2h6M1459.2 1864.2h6.7M1627.3 1864.2h2.6M947.4 1865.8h9.6M1132.9 1865.8h11M1314.7 1865.8h6.2M1357 1865.8h25.4M1365.7 1865.8h9.5M1398.1 1865.8h2.1M1400.8 1865.8h15.2M1465.9 1865.8h17.6M1619.2 1865.8h7.8M935.9 1867.5h6M959.4 1867.5h41.3M1000.7 1867.5h22.3M1132.9 1867.5h11M1248.6 1867.5h14.1M1314.7 1867.5h6.2M1351.8 1867.5h2.2M1357 1867.5h25.4M1416 1867.5h3.4M1459.2 1867.5h6.7M1465.9 1867.5h17.6M1629.4 1867.5h2.7M947.4 1869.2h9.6M959.4 1869.2h41.3M1000.7 1869.2h22.3M1057.5 1869.2h5.3M1132.9 1869.2h11M1324.8 1869.2h3.9M1347.2 1869.2h9.8M1368.6 1869.2h11.5M1385.1 1869.2h4.8M1387.2 1869.2h2.6M1465.9 1869.2h17.6M1621.8 1869.2h3.5M1627 1869.2h8.8M938.7 1870.8h2.6M1071.1 1870.8h8.2M1136.6 1870.8h2.7M1300.3 1870.8h11.9M1317.8 1870.8h2.5M1320.9 1870.8h23.7M1324.2 1870.8h5.1M1350.5 1870.8h3.8M1484.3 1870.8h2.6M932.8 1872.5h3.1M936.4 1872.5h2.4M959.4 1872.5h41.3M1132.9 1872.5h11M1284 1872.5h2M1300.3 1872.5h11.9M1314.7 1872.5h6.2M1462.3 1872.5h2.7M1470.4 1872.5h6.4M1619.2 1872.5h7.8M1622.5 1872.5h3.3M952.1 1874.2h4.6M959.8 1874.2h13.7M1293.2 1874.2h6.6M1317.6 1874.2h2.6M1459.7 1874.2h2.8M932.8 1875.8h3.1M937.2 1875.8h2.5M947.4 1875.8h9.6M1007.6 1875.8h7.9M1074.5 1875.8h3.8M1132.9 1875.8h11M1300.3 1875.8h11.9M1459.7 1875.8h2.7M932.8 1877.5h3.1M937.3 1877.5h2.2M1014.5 1877.5h8.3M1057 1877.5h14.1M1300.3 1877.5h11.9M1324.1 1877.5h6.3M1349.4 1877.5h4.4M1385.1 1877.5h2.5M1404.7 1877.5h7.5M1416 1877.5h3.4M1483.8 1877.5h2.5M932.8 1879.2h3.1M1071.1 1879.2h8.2M1300.3 1879.2h11.9M1347.2 1879.2h9.8M1352.4 1879.2h3.1M1459.7 1879.2h3.3M1483.5 1879.2h3.6M1484.2 1879.2h2.3M932.8 1880.8h3.1M937.3 1880.8h2.7M941.9 1880.8h5.5M1052 1880.8h2.1M1138.4 1880.8h4.8M1240.7 1880.8h2.5M1300.3 1880.8h11.9M1385.1 1880.8h4.8M1460.2 1880.8h2.9M1604.3 1880.8h3.1M932.8 1882.5h3.1M937.7 1882.5h2.5M942.5 1882.5h2.8M996.9 1882.5h2.2M1071.1 1882.5h8.2M1300.3 1882.5h11.9M1403.3 1882.5h4.3M932.8 1884.2h3.1M1068.3 1884.2h2.6M1075.8 1884.2h2.2M1292.3 1884.2h5.7M1401.4 1884.2h4.1M1459.2 1884.2h6.7M1460.7 1884.2h2.6M947.4 1885.8h9.6M947.4 1885.8h3.6M959.4 1885.8h41.3M980.1 1885.8h17.6M1048 1885.8h3.2M1300.3 1885.8h11.9M1327.6 1885.8h9.7M1393.5 1885.8h4.4M1627 1885.8h8.8M932.8 1887.5h3.1M1049.5 1887.5h3.2M1348 1887.5h2.2M1603.7 1887.5h2.9M1249 1889.2h15.8M1300.3 1889.2h11.9M1353.2 1889.2h2.5M1459.2 1889.2h6.7M1465.9 1889.2h17.6M1605 1889.2h2.7M1619.4 1889.2h2.5M1632.5 1889.2h2.6M932.8 1890.9h3.1M938.8 1890.9h2.4M944.6 1890.9h2M1050.9 1890.9h3.7M1071.1 1890.9h8.2M1244.6 1890.9h11.1M1315.8 1890.9h2.3M1606.9 1890.9h2.2M932.8 1892.5h3.1M1248.9 1892.5h16.8M1290.5 1892.5h5.9M1300.3 1892.5h11.9M1619.2 1892.5h7.8M1627 1892.5h8.8M1137.1 1894.2h4.8M1282.1 1894.2h18.2M1300.3 1894.2h11.9M1314.7 1894.2h6.2M932.8 1895.9h3.1M943.8 1895.9h2.9M959.4 1895.9h41.3M1075.6 1895.9h2.3M1132.9 1895.9h11M1230.4 1895.9h41.1M1300.3 1895.9h11.9M1334.8 1895.9h7.2M1349.4 1895.9h4.7M1412.5 1895.9h2.3M1416.4 1895.9h3M1459.2 1895.9h6.7M932.8 1897.5h3.1M935.9 1897.5h6M1316.4 1897.5h2.5M1351 1897.5h3.3M1411.7 1897.5h2.4M1462.6 1897.5h2.6M935.9 1899.2h6M943.8 1899.2h2.1M969.2 1899.2h18.3M1049.1 1899.2h2.9M1132.9 1899.2h11M1282.1 1899.2h18.2M1285 1899.2h5.3M1300.3 1899.2h11.9M1353.4 1899.2h2.6M1631 1899.2h4.1M932.8 1900.9h3.1M949.5 1900.9h2.8M960.1 1900.9h2M1139.1 1900.9h3.6M1230.4 1900.9h41.1M1300.3 1900.9h11.9M932.8 1902.5h3.1M935.9 1902.5h6M973.7 1902.5h15M1052.3 1902.5h2.2M1132.9 1902.5h11M1289.8 1902.5h7.2M1316.5 1902.5h2.4M1393.6 1902.5h5.4M932.8 1904.2h3.1M936.1 1904.2h2M1135.7 1904.2h4.9M1282.1 1904.2h18.2M1300.3 1904.2h11.9M1320.9 1904.2h23.7M1416.2 1904.2h2.4M1459.2 1904.2h6.7M1465.9 1904.2h17.6M1477.2 1904.2h5.1M1604.4 1904.2h2.4M939.4 1905.9h2.1M1000.7 1905.9h22.3M1047.9 1905.9h9.1M1261.7 1905.9h9.6M1300.3 1905.9h11.9M1320.9 1905.9h23.7M1352.4 1905.9h2.9M1393 1905.9h2.3M1484.3 1905.9h2" stroke="#7b55a3" stroke-width="1.8" fill="none"/>
<path d="M943.1 1578.9h1.6M933.6 1590.6h1.9M935.9 1595.6h6M938 1595.6h1.6M944.5 1603.9h1.6M900.2 1618.9h1.6M945.1 1625.6h2.1M895 1647.3h37.8M901.8 1650.6h21.1M926.8 1654h1.6M923.7 1660.7h1.6M918 1670.7h1.6M941.9 1682.3h5.5M913.4 1707.4h1.6M911.5 1754.1h15.2M901.4 1762.4h14M897.6 1777.4h1.6M902.7 1787.4h11.3M895 1797.4h37.8M941.9 1799.1h5.5M944.2 1800.8h1.6M941.9 1814.1h5.5M944.7 1819.1h1.6M999.2 1625.6h1.6M962.8 1655.6h1.6M1000.7 1665.7h22.3M1013.6 1667.3h1.6M998 1674h1.6M997.7 1692.3h1.6M991.3 1705.7h1.6M972.3 1717.4h1.6M1019.9 1735.7h1.6M1008.3 1744.1h1.6M992 1747.4h1.6M1005.7 1769.1h8M1003.3 1775.8h1.6M1001.8 1789.1h1.6M975.9 1790.8h20.6M1007.5 1805.8h7.7M1003.8 1807.4h1.6M971.3 1834.1h20.9M1000.7 1839.1h22.3M987.1 1847.5h1.6M1072.9 1525.5h4M1066.8 1612.3h1.6M1076.8 1620.6h1.6M1058.7 1637.3h5.5M1074.4 1642.3h3.5M1065.6 1695.7h1.6M1057 1732.4h14.1M1057 1764.1h14.1M1071.1 1764.1h8.2M1058.8 1772.4h5.2M1058.2 1784.1h1.6M1073.4 1805.8h1.8M1058.8 1825.8h3.1M1071.1 1832.5h8.2M1059.7 1837.5h6.5M1073 1845.8h1.6M1071.1 1849.1h8.2M1266.3 1520.5h1.6M1238.6 1522.2h1.6M1265.2 1528.9h1.6M1264.1 1530.5h1.6M1255.7 1533.9h1.6M1269.2 1543.9h1.6M1236.7 1547.2h1.6M1244.1 1562.2h1.6M1256.9 1583.9h1.6M1262.2 1593.9h1.6M1330.9 1622.3h7.4M1314.7 1649h6.2M1333.8 1685.7h1.6M1315.5 1687.3h1.6M1317.8 1692.3h2.9M1320.9 1710.7h23.7M1314.7 1727.4h6.2M1326.4 1729h1.6M1317.3 1774.1h2.9M1317.9 1784.1h2.3M1332.5 1795.8h1.6M1314.7 1799.1h6.2M1318.5 1809.1h1.7M1322.7 1814.1h1.6M1340.8 1815.8h1.6M1317.4 1824.1h1.6M1315.6 1829.1h1.6M1335.5 1829.1h5.1M1315.8 1832.5h2.8M1329.5 1847.5h1.6M1385.5 1525.5h1.6M1395.1 1542.2h1.6M1397.3 1547.2h1.6M1393.1 1550.6h1.6M1393.2 1572.2h1.6M1396.6 1583.9h1.6M1389.9 1612.3h10.9M1416.3 1615.6h1.8M1416 1625.6h3.4M1408.5 1630.6h1.5M1416 1635.6h3.4M1385.8 1639h1.6M1386.6 1642.3h2.1M1389.9 1662.3h10.9M1389.9 1670.7h10.9M1397.4 1672.3h1.6M1401.1 1679h1.6M1406.3 1680.7h1.6M1405.2 1684h1.6M1400.8 1685.7h15.2M1416 1687.3h3.4M1389.9 1695.7h10.9M1409.6 1709h1.6M1391.9 1710.7h5.6M1397.6 1722.4h1.6M1416.3 1722.4h2.1M1417.3 1727.4h1.8M1387.8 1734h2.1M1392 1745.7h2M1394.3 1750.7h2.6M1387.7 1752.4h2M1389.9 1755.7h10.9M1405.9 1764.1h7.3M1397.6 1767.4h2.2M1400.8 1779.1h15.2M1385.1 1787.4h1.8M1397.5 1802.4h2.1M1406.4 1804.1h1.6M1401.1 1807.4h8.7M1393.9 1810.8h1.7M1389.9 1812.5h10.9M1416 1812.5h3.4M1398.2 1815.8h1.6M1411.1 1817.5h1.6M1400.8 1839.1h15.2M1394 1844.1h1.6M1416.9 1849.1h2.5M1472.1 1615.6h1.6M1472.3 1629h1.6M1465.9 1632.3h17.6M1472.3 1634h2.4M1484.3 1657.3h1.7M1483.6 1690.7h2M1468.2 1712.4h2.4M1465.9 1724h17.6M1477 1732.4h1.6M1465.9 1745.7h17.6M1469.2 1749.1h6.5M1479.1 1777.4h2.6M1478.2 1822.5h1.6M1480.2 1825.8h1.6M1485.3 1825.8h1.7M1607.6 1540.5h1.6M1608 1585.6h1.6M1607 1710.7h1.5M1604.9 1742.4h2M1603.3 1850.8h6.4M1631.2 1545.6h1.6M1629.8 1620.6h1.6M1627 1654h8.8M1630.6 1717.4h2.3M1627 1800.8h8.8M1628 1805.8h4.9M1630.6 1827.5h3.4M895 1488.8h37.8M959.4 1488.8h63.6M1025.4 1488.8h53.9M1081.7 1488.8h48.7M1132.9 1488.8h46.6M1181.9 1488.8h46.1M1314.7 1488.8h29.9M1385.1 1488.8h34.3M1422.2 1488.8h34.3M1489.7 1488.8h23.5M1515.9 1488.8h18.6M1537.1 1488.8h18.6M1558.4 1488.8h19.7M1580.5 1488.8h20.1M1603.3 1488.8h13.5M1638.5 1488.8h8.2M1649.3 1488.8h6.4M1658.2 1488.8h28.5M1025.4 1854.2h22.5M1081.7 1854.2h48.7M1143.9 1854.2h35.6M1181.9 1854.2h46.1M1273.9 1854.2h8.2M1389.9 1854.2h10.9M1422.2 1854.2h34.3M1489.7 1854.2h23.5M1515.9 1854.2h18.6M1537.1 1854.2h18.6M1558.4 1854.2h19.7M1580.5 1854.2h20.1M1603.8 1854.2h2.7M1609.7 1854.2h7.1M1638.5 1854.2h8.2M1649.3 1854.2h6.4M1658.2 1854.2h28.5M1025.4 1855.8h22.5M1081.7 1855.8h48.7M1143.9 1855.8h35.6M1181.9 1855.8h46.1M1273.9 1855.8h8.2M1422.2 1855.8h34.3M1489.7 1855.8h23.5M1515.9 1855.8h18.6M1537.1 1855.8h18.6M1558.4 1855.8h19.7M1580.5 1855.8h20.1M1609.7 1855.8h7.1M1638.5 1855.8h8.2M1649.3 1855.8h6.4M1658.2 1855.8h28.5M933 1857.5h2.9M936.4 1857.5h2.4M1025.4 1857.5h22.5M1081.7 1857.5h48.7M1143.9 1857.5h35.6M1181.9 1857.5h46.1M1273.9 1857.5h8.2M1422.2 1857.5h34.3M1489.7 1857.5h23.5M1515.9 1857.5h18.6M1537.1 1857.5h18.6M1558.4 1857.5h19.7M1580.5 1857.5h20.1M1609.7 1857.5h7.1M1638.5 1857.5h8.2M1649.3 1857.5h6.4M1658.2 1857.5h28.5M938.7 1859.2h2.1M941.9 1859.2h5.5M1025.4 1859.2h22.5M1081.7 1859.2h48.7M1143.9 1859.2h35.6M1181.9 1859.2h46.1M1273.9 1859.2h8.2M1422.2 1859.2h34.3M1489.7 1859.2h23.5M1515.9 1859.2h18.6M1537.1 1859.2h18.6M1558.4 1859.2h19.7M1580.5 1859.2h20.1M1609.7 1859.2h7.1M1638.5 1859.2h8.2M1649.3 1859.2h6.4M1658.2 1859.2h28.5M941.9 1860.8h5.5M1025.4 1860.8h22.5M1072.4 1860.8h3.4M1081.7 1860.8h48.7M1143.9 1860.8h35.6M1181.9 1860.8h46.1M1273.9 1860.8h8.2M1386.9 1860.8h2.6M1422.2 1860.8h34.3M1489.7 1860.8h23.5M1515.9 1860.8h18.6M1537.1 1860.8h18.6M1558.4 1860.8h19.7M1580.5 1860.8h20.1M1609.7 1860.8h7.1M1633 1860.8h2.6M1638.5 1860.8h8.2M1649.3 1860.8h6.4M1658.2 1860.8h28.5M1025.4 1862.5h22.5M1081.7 1862.5h48.7M1143.9 1862.5h35.6M1181.9 1862.5h46.1M1273.9 1862.5h8.2M1386.6 1862.5h2M1422.2 1862.5h34.3M1489.7 1862.5h23.5M1515.9 1862.5h18.6M1537.1 1862.5h18.6M1558.4 1862.5h19.7M1580.5 1862.5h20.1M1609.7 1862.5h7.1M1638.5 1862.5h8.2M1649.3 1862.5h6.4M1658.2 1862.5h28.5M1025.4 1864.2h22.5M1081.7 1864.2h48.7M1143.9 1864.2h35.6M1181.9 1864.2h46.1M1256.4 1864.2h13.1M1273.9 1864.2h8.2M1422.2 1864.2h34.3M1489.7 1864.2h23.5M1515.9 1864.2h18.6M1537.1 1864.2h18.6M1558.4 1864.2h19.7M1580.5 1864.2h20.1M1609.7 1864.2h7.1M1638.5 1864.2h8.2M1649.3 1864.2h6.4M1658.2 1864.2h28.5M1025.4 1865.8h22.5M1081.7 1865.8h48.7M1143.9 1865.8h35.6M1181.9 1865.8h46.1M1273.9 1865.8h8.2M1386 1865.8h2.4M1422.2 1865.8h34.3M1489.7 1865.8h23.5M1515.9 1865.8h18.6M1537.1 1865.8h18.6M1558.4 1865.8h19.7M1580.5 1865.8h20.1M1609.7 1865.8h7.1M1638.5 1865.8h8.2M1649.3 1865.8h6.4M1658.2 1865.8h28.5M1025.4 1867.5h22.5M1081.7 1867.5h48.7M1143.9 1867.5h35.6M1181.9 1867.5h46.1M1273.9 1867.5h8.2M1422.2 1867.5h34.3M1489.7 1867.5h23.5M1515.9 1867.5h18.6M1537.1 1867.5h18.6M1558.4 1867.5h19.7M1580.5 1867.5h20.1M1609.7 1867.5h7.1M1638.5 1867.5h8.2M1649.3 1867.5h6.4M1658.2 1867.5h28.5M1025.4 1869.2h22.5M1071.1 1869.2h8.2M1081.7 1869.2h48.7M1143.9 1869.2h35.6M1181.9 1869.2h46.1M1273.9 1869.2h8.2M1393.3 1869.2h5M1422.2 1869.2h34.3M1489.7 1869.2h23.5M1515.9 1869.2h18.6M1537.1 1869.2h18.6M1558.4 1869.2h19.7M1580.5 1869.2h20.1M1609.7 1869.2h7.1M1638.5 1869.2h8.2M1649.3 1869.2h6.4M1658.2 1869.2h28.5M943.7 1870.8h2.1M1025.4 1870.8h22.5M1061.3 1870.8h3.4M1081.7 1870.8h48.7M1143.9 1870.8h35.6M1181.9 1870.8h46.1M1273.9 1870.8h8.2M1404.5 1870.8h3.7M1422.2 1870.8h34.3M1465.9 1870.8h17.6M1489.7 1870.8h23.5M1515.9 1870.8h18.6M1537.1 1870.8h18.6M1558.4 1870.8h19.7M1580.5 1870.8h20.1M1609.7 1870.8h7.1M1638.5 1870.8h8.2M1649.3 1870.8h6.4M1658.2 1870.8h28.5M1025.4 1872.5h22.5M1057.9 1872.5h5M1081.7 1872.5h48.7M1143.9 1872.5h35.6M1181.9 1872.5h46.1M1273.9 1872.5h8.2M1385.1 1872.5h4.8M1422.2 1872.5h34.3M1489.7 1872.5h23.5M1515.9 1872.5h18.6M1537.1 1872.5h18.6M1558.4 1872.5h19.7M1580.5 1872.5h20.1M1609.7 1872.5h7.1M1638.5 1872.5h8.2M1649.3 1872.5h6.4M1658.2 1872.5h28.5M1015.6 1874.2h7.1M1081.7 1874.2h48.7M1181.9 1874.2h46.1M1273.9 1874.2h8.2M1391.7 1874.2h3.3M1422.2 1874.2h34.3M1515.9 1874.2h18.6M1537.1 1874.2h18.6M941.9 1875.8h5.5M1025.4 1875.8h22.5M1081.7 1875.8h48.7M1143.9 1875.8h35.6M1181.9 1875.8h46.1M1273.9 1875.8h8.2M1320.9 1875.8h23.7M1392.1 1875.8h5.2M1422.2 1875.8h34.3M1474.4 1875.8h3.6M1489.7 1875.8h23.5M1515.9 1875.8h18.6M1537.1 1875.8h18.6M1558.4 1875.8h19.7M1580.5 1875.8h20.1M1603.3 1875.8h6.4M1609.7 1875.8h7.1M1638.5 1875.8h8.2M1649.3 1875.8h6.4M1658.2 1875.8h28.5M895 1877.5h37.8M900.2 1877.5h6.1M983.3 1877.5h6.6M1025.4 1877.5h22.5M1081.7 1877.5h48.7M1143.9 1877.5h35.6M1181.9 1877.5h46.1M1273.9 1877.5h8.2M1315.7 1877.5h2.7M1422.2 1877.5h34.3M1489.7 1877.5h23.5M1515.9 1877.5h18.6M1537.1 1877.5h18.6M1558.4 1877.5h19.7M1580.5 1877.5h20.1M1609.7 1877.5h7.1M1638.5 1877.5h8.2M1649.3 1877.5h6.4M1658.2 1877.5h28.5M1025.4 1879.2h22.5M1081.7 1879.2h48.7M1143.9 1879.2h35.6M1181.9 1879.2h46.1M1273.9 1879.2h8.2M1416.3 1879.2h3M1422.2 1879.2h34.3M1468.4 1879.2h5.4M1489.7 1879.2h23.5M1515.9 1879.2h18.6M1537.1 1879.2h18.6M1558.4 1879.2h19.7M1580.5 1879.2h20.1M1609.7 1879.2h7.1M1638.5 1879.2h8.2M1649.3 1879.2h6.4M1658.2 1879.2h28.5M1025.4 1880.8h22.5M1081.7 1880.8h48.7M1143.9 1880.8h35.6M1181.9 1880.8h46.1M1273.9 1880.8h8.2M1422.2 1880.8h34.3M1489.7 1880.8h23.5M1515.9 1880.8h18.6M1537.1 1880.8h18.6M1558.4 1880.8h19.7M1580.5 1880.8h20.1M1609.7 1880.8h7.1M1631.7 1880.8h3M1638.5 1880.8h8.2M1649.3 1880.8h6.4M1658.2 1880.8h28.5M924.2 1882.5h8.5M1025.4 1882.5h22.5M1081.7 1882.5h48.7M1143.9 1882.5h35.6M1181.9 1882.5h46.1M1273.9 1882.5h8.2M1326.7 1882.5h9.9M1422.2 1882.5h34.3M1473.7 1882.5h6.7M1489.7 1882.5h23.5M1515.9 1882.5h18.6M1537.1 1882.5h18.6M1558.4 1882.5h19.7M1580.5 1882.5h20.1M1609.7 1882.5h7.1M1638.5 1882.5h8.2M1649.3 1882.5h6.4M1658.2 1882.5h28.5M943.3 1884.2h2.8M1025.4 1884.2h22.5M1081.7 1884.2h48.7M1143.9 1884.2h35.6M1181.9 1884.2h46.1M1273.9 1884.2h8.2M1314.7 1884.2h6.2M1316.3 1884.2h2.7M1400.8 1884.2h15.2M1416.4 1884.2h2.9M1422.2 1884.2h34.3M1489.7 1884.2h23.5M1515.9 1884.2h18.6M1537.1 1884.2h18.6M1558.4 1884.2h19.7M1580.5 1884.2h20.1M1609.7 1884.2h7.1M1628 1884.2h3.3M1638.5 1884.2h8.2M1649.3 1884.2h6.4M1658.2 1884.2h28.5M1025.4 1885.8h22.5M1081.7 1885.8h48.7M1143.9 1885.8h35.6M1181.9 1885.8h46.1M1273.9 1885.8h8.2M1315.6 1885.8h3M1422.2 1885.8h34.3M1465.9 1885.8h17.6M1489.7 1885.8h23.5M1515.9 1885.8h18.6M1537.1 1885.8h18.6M1558.4 1885.8h19.7M1580.5 1885.8h20.1M1609.7 1885.8h7.1M1638.5 1885.8h8.2M1649.3 1885.8h6.4M1658.2 1885.8h28.5M978.6 1887.5h5M1025.4 1887.5h22.5M1537.1 1887.5h18.6M1638.5 1887.5h8.2M1025.4 1889.2h22.5M1081.7 1889.2h48.7M1143.9 1889.2h35.6M1181.9 1889.2h46.1M1273.9 1889.2h8.2M1416.2 1889.2h2.9M1422.2 1889.2h34.3M1489.7 1889.2h23.5M1515.9 1889.2h18.6M1537.1 1889.2h18.6M1558.4 1889.2h19.7M1580.5 1889.2h20.1M1609.7 1889.2h7.1M1638.5 1889.2h8.2M1649.3 1889.2h6.4M1658.2 1889.2h28.5M914.5 1890.9h10.8M1025.4 1890.9h22.5M1081.7 1890.9h48.7M1143.9 1890.9h35.6M1181.9 1890.9h46.1M1273.9 1890.9h8.2M1386.6 1890.9h2.8M1389.9 1890.9h10.9M1402.5 1890.9h2.6M1422.2 1890.9h34.3M1489.7 1890.9h23.5M1515.9 1890.9h18.6M1537.1 1890.9h18.6M1558.4 1890.9h19.7M1580.5 1890.9h20.1M1609.7 1890.9h7.1M1638.5 1890.9h8.2M1649.3 1890.9h6.4M1658.2 1890.9h28.5M1025.4 1892.5h22.5M1081.7 1892.5h48.7M1143.9 1892.5h35.6M1181.9 1892.5h46.1M1273.9 1892.5h8.2M1422.2 1892.5h34.3M1489.7 1892.5h23.5M1515.9 1892.5h18.6M1537.1 1892.5h18.6M1558.4 1892.5h19.7M1580.5 1892.5h20.1M1603.4 1892.5h3M1609.7 1892.5h7.1M1638.5 1892.5h8.2M1649.3 1892.5h6.4M1658.2 1892.5h28.5M944.7 1894.2h2.6M1025.4 1894.2h22.5M1081.7 1894.2h48.7M1143.9 1894.2h35.6M1181.9 1894.2h46.1M1273.9 1894.2h8.2M1416.2 1894.2h2.4M1422.2 1894.2h34.3M1465.9 1894.2h17.6M1483.5 1894.2h3.6M1489.7 1894.2h23.5M1515.9 1894.2h18.6M1537.1 1894.2h18.6M1558.4 1894.2h19.7M1580.5 1894.2h20.1M1609.7 1894.2h7.1M1638.5 1894.2h8.2M1649.3 1894.2h6.4M1658.2 1894.2h28.5M1025.4 1895.9h22.5M1081.7 1895.9h48.7M1143.9 1895.9h35.6M1181.9 1895.9h46.1M1273.9 1895.9h8.2M1320.9 1895.9h23.7M1389.9 1895.9h10.9M1422.2 1895.9h34.3M1489.7 1895.9h23.5M1515.9 1895.9h18.6M1537.1 1895.9h18.6M1558.4 1895.9h19.7M1580.5 1895.9h20.1M1604.8 1895.9h3M1609.7 1895.9h7.1M1638.5 1895.9h8.2M1649.3 1895.9h6.4M1658.2 1895.9h28.5M1081.7 1897.5h48.7M1181.9 1897.5h46.1M1273.9 1897.5h8.2M1416 1897.5h3.4M1416.1 1897.5h2.2M1422.2 1897.5h34.3M1489.7 1897.5h23.5M1515.9 1897.5h18.6M1558.4 1897.5h19.7M1580.5 1897.5h20.1M1649.3 1897.5h6.4M1658.2 1897.5h28.5M1025.4 1899.2h22.5M1081.7 1899.2h48.7M1143.9 1899.2h35.6M1181.9 1899.2h46.1M1273.9 1899.2h8.2M1333.9 1899.2h7.2M1422.2 1899.2h34.3M1489.7 1899.2h23.5M1515.9 1899.2h18.6M1537.1 1899.2h18.6M1558.4 1899.2h19.7M1580.5 1899.2h20.1M1609.7 1899.2h7.1M1638.5 1899.2h8.2M1649.3 1899.2h6.4M1658.2 1899.2h28.5M942 1900.9h2.1M1025.4 1900.9h22.5M1074.1 1900.9h3.4M1081.7 1900.9h48.7M1143.9 1900.9h35.6M1181.9 1900.9h46.1M1273.9 1900.9h8.2M1422.2 1900.9h34.3M1489.7 1900.9h23.5M1515.9 1900.9h18.6M1537.1 1900.9h18.6M1558.4 1900.9h19.7M1580.5 1900.9h20.1M1609.7 1900.9h7.1M1638.5 1900.9h8.2M1649.3 1900.9h6.4M1658.2 1900.9h28.5M903.7 1902.5h16.5M944.8 1902.5h2.4M1025.4 1902.5h22.5M1081.7 1902.5h48.7M1143.9 1902.5h35.6M1181.9 1902.5h46.1M1273.9 1902.5h8.2M1422.2 1902.5h34.3M1483.9 1902.5h2.4M1489.7 1902.5h23.5M1515.9 1902.5h18.6M1537.1 1902.5h18.6M1558.4 1902.5h19.7M1580.5 1902.5h20.1M1604.4 1902.5h2.7M1609.7 1902.5h7.1M1638.5 1902.5h8.2M1649.3 1902.5h6.4M1658.2 1902.5h28.5M1025.4 1904.2h22.5M1081.7 1904.2h48.7M1143.9 1904.2h35.6M1181.9 1904.2h46.1M1273.9 1904.2h8.2M1334.9 1904.2h9.1M1385.3 1904.2h2.2M1406 1904.2h3.6M1422.2 1904.2h34.3M1483.7 1904.2h2.5M1489.7 1904.2h23.5M1515.9 1904.2h18.6M1537.1 1904.2h18.6M1558.4 1904.2h19.7M1580.5 1904.2h20.1M1609.7 1904.2h7.1M1638.5 1904.2h8.2M1649.3 1904.2h6.4M1658.2 1904.2h28.5M943.4 1905.9h2.9M1025.4 1905.9h22.5M1065.2 1905.9h2.7M1081.7 1905.9h48.7M1143.9 1905.9h35.6M1181.9 1905.9h46.1M1273.9 1905.9h8.2M1329.3 1905.9h11.5M1422.2 1905.9h34.3M1489.7 1905.9h23.5M1515.9 1905.9h18.6M1537.1 1905.9h18.6M1558.4 1905.9h19.7M1580.5 1905.9h20.1M1603.3 1905.9h6.4M1609.7 1905.9h7.1M1638.5 1905.9h8.2M1649.3 1905.9h6.4M1658.2 1905.9h28.5" stroke="#559540" stroke-width="1.8" fill="none"/>
</g>
<line x1="167" y1="1907.2" x2="167" y2="1920.2" stroke="#2a2a2a" stroke-width="1.6"/>
<text x="167" y="1949.8" font-size="25" text-anchor="middle">1</text>
<line x1="228.2" y1="1907.2" x2="228.2" y2="1920.2" stroke="#2a2a2a" stroke-width="1.6"/>
<text x="228.2" y="1949.8" font-size="25" text-anchor="middle">2</text>
<line x1="285.1" y1="1907.2" x2="285.1" y2="1920.2" stroke="#2a2a2a" stroke-width="1.6"/>
<text x="285.1" y="1949.8" font-size="25" text-anchor="middle">3</text>
<line x1="334.9" y1="1907.2" x2="334.9" y2="1920.2" stroke="#2a2a2a" stroke-width="1.6"/>
<text x="334.9" y="1949.8" font-size="25" text-anchor="middle">4</text>
<line x1="381.6" y1="1907.2" x2="381.6" y2="1920.2" stroke="#2a2a2a" stroke-width="1.6"/>
<text x="381.6" y="1949.8" font-size="25" text-anchor="middle">5</text>
<line x1="427.1" y1="1907.2" x2="427.1" y2="1920.2" stroke="#2a2a2a" stroke-width="1.6"/>
<text x="427.1" y="1949.8" font-size="25" text-anchor="middle">6</text>
<line x1="469.9" y1="1907.2" x2="469.9" y2="1920.2" stroke="#2a2a2a" stroke-width="1.6"/>
<text x="469.9" y="1949.8" font-size="25" text-anchor="middle">7</text>
<line x1="509.1" y1="1907.2" x2="509.1" y2="1920.2" stroke="#2a2a2a" stroke-width="1.6"/>
<text x="509.1" y="1949.8" font-size="25" text-anchor="middle">8</text>
<line x1="543.3" y1="1907.2" x2="543.3" y2="1920.2" stroke="#2a2a2a" stroke-width="1.6"/>
<text x="543.3" y="1949.8" font-size="25" text-anchor="middle">9</text>
<line x1="576.1" y1="1907.2" x2="576.1" y2="1920.2" stroke="#2a2a2a" stroke-width="1.6"/>
<text x="576.1" y="1949.8" font-size="25" text-anchor="middle">10</text>
<line x1="610.8" y1="1907.2" x2="610.8" y2="1920.2" stroke="#2a2a2a" stroke-width="1.6"/>
<text x="610.8" y="1949.8" font-size="25" text-anchor="middle">11</text>
<line x1="645.4" y1="1907.2" x2="645.4" y2="1920.2" stroke="#2a2a2a" stroke-width="1.6"/>
<text x="645.4" y="1949.8" font-size="25" text-anchor="middle">12</text>
<line x1="676.8" y1="1907.2" x2="676.8" y2="1920.2" stroke="#2a2a2a" stroke-width="1.6"/>
<text x="676.8" y="1949.8" font-size="25" text-anchor="middle">13</text>
<line x1="703" y1="1907.2" x2="703" y2="1920.2" stroke="#2a2a2a" stroke-width="1.6"/>
<line x1="725.1" y1="1907.2" x2="725.1" y2="1920.2" stroke="#2a2a2a" stroke-width="1.6"/>
<text x="725.1" y="1949.8" font-size="25" text-anchor="middle">15</text>
<line x1="744.9" y1="1907.2" x2="744.9" y2="1920.2" stroke="#2a2a2a" stroke-width="1.6"/>
<line x1="764.8" y1="1907.2" x2="764.8" y2="1920.2" stroke="#2a2a2a" stroke-width="1.6"/>
<text x="764.8" y="1949.8" font-size="25" text-anchor="middle">17</text>
<line x1="785.6" y1="1907.2" x2="785.6" y2="1920.2" stroke="#2a2a2a" stroke-width="1.6"/>
<line x1="804" y1="1907.2" x2="804" y2="1920.2" stroke="#2a2a2a" stroke-width="1.6"/>
<text x="804" y="1949.8" font-size="25" text-anchor="middle">19</text>
<line x1="820.5" y1="1907.2" x2="820.5" y2="1920.2" stroke="#2a2a2a" stroke-width="1.6"/>
<line x1="834.4" y1="1907.2" x2="834.4" y2="1920.2" stroke="#2a2a2a" stroke-width="1.6"/>
<text x="834.4" y="1949.8" font-size="25" text-anchor="middle">21</text>
<line x1="843.7" y1="1907.2" x2="843.7" y2="1920.2" stroke="#2a2a2a" stroke-width="1.6"/>
<line x1="862.3" y1="1907.2" x2="862.3" y2="1920.2" stroke="#2a2a2a" stroke-width="1.6"/>
<text x="862.3" y="1949.8" font-size="25" text-anchor="middle">X</text>
<line x1="926" y1="1906.3" x2="926" y2="1919.3" stroke="#2a2a2a" stroke-width="1.6"/>
<text x="926" y="1949.8" font-size="25" text-anchor="middle">1</text>
<line x1="991.2" y1="1906.3" x2="991.2" y2="1919.3" stroke="#2a2a2a" stroke-width="1.6"/>
<text x="991.2" y="1949.8" font-size="25" text-anchor="middle">2</text>
<line x1="1052.3" y1="1906.3" x2="1052.3" y2="1919.3" stroke="#2a2a2a" stroke-width="1.6"/>
<text x="1052.3" y="1949.8" font-size="25" text-anchor="middle">3</text>
<line x1="1106.1" y1="1906.3" x2="1106.1" y2="1919.3" stroke="#2a2a2a" stroke-width="1.6"/>
<text x="1106.1" y="1949.8" font-size="25" text-anchor="middle">4</text>
<line x1="1156.2" y1="1906.3" x2="1156.2" y2="1919.3" stroke="#2a2a2a" stroke-width="1.6"/>
<text x="1156.2" y="1949.8" font-size="25" text-anchor="middle">5</text>
<line x1="1205" y1="1906.3" x2="1205" y2="1919.3" stroke="#2a2a2a" stroke-width="1.6"/>
<text x="1205" y="1949.8" font-size="25" text-anchor="middle">6</text>
<line x1="1251" y1="1906.3" x2="1251" y2="1919.3" stroke="#2a2a2a" stroke-width="1.6"/>
<text x="1251" y="1949.8" font-size="25" text-anchor="middle">7</text>
<line x1="1293.1" y1="1906.3" x2="1293.1" y2="1919.3" stroke="#2a2a2a" stroke-width="1.6"/>
<text x="1293.1" y="1949.8" font-size="25" text-anchor="middle">8</text>
<line x1="1329.7" y1="1906.3" x2="1329.7" y2="1919.3" stroke="#2a2a2a" stroke-width="1.6"/>
<text x="1329.7" y="1949.8" font-size="25" text-anchor="middle">9</text>
<line x1="1364.8" y1="1906.3" x2="1364.8" y2="1919.3" stroke="#2a2a2a" stroke-width="1.6"/>
<text x="1364.8" y="1949.8" font-size="25" text-anchor="middle">10</text>
<line x1="1402.2" y1="1906.3" x2="1402.2" y2="1919.3" stroke="#2a2a2a" stroke-width="1.6"/>
<text x="1402.2" y="1949.8" font-size="25" text-anchor="middle">11</text>
<line x1="1439.3" y1="1906.3" x2="1439.3" y2="1919.3" stroke="#2a2a2a" stroke-width="1.6"/>
<text x="1439.3" y="1949.8" font-size="25" text-anchor="middle">12</text>
<line x1="1473.2" y1="1906.3" x2="1473.2" y2="1919.3" stroke="#2a2a2a" stroke-width="1.6"/>
<text x="1473.2" y="1949.8" font-size="25" text-anchor="middle">13</text>
<line x1="1501.5" y1="1906.3" x2="1501.5" y2="1919.3" stroke="#2a2a2a" stroke-width="1.6"/>
<line x1="1525.2" y1="1906.3" x2="1525.2" y2="1919.3" stroke="#2a2a2a" stroke-width="1.6"/>
<text x="1525.2" y="1949.8" font-size="25" text-anchor="middle">15</text>
<line x1="1546.4" y1="1906.3" x2="1546.4" y2="1919.3" stroke="#2a2a2a" stroke-width="1.6"/>
<line x1="1568.2" y1="1906.3" x2="1568.2" y2="1919.3" stroke="#2a2a2a" stroke-width="1.6"/>
<text x="1568.2" y="1949.8" font-size="25" text-anchor="middle">17</text>
<line x1="1590.5" y1="1906.3" x2="1590.5" y2="1919.3" stroke="#2a2a2a" stroke-width="1.6"/>
<line x1="1610" y1="1906.3" x2="1610" y2="1919.3" stroke="#2a2a2a" stroke-width="1.6"/>
<text x="1610" y="1949.8" font-size="25" text-anchor="middle">19</text>
<line x1="1627.5" y1="1906.3" x2="1627.5" y2="1919.3" stroke="#2a2a2a" stroke-width="1.6"/>
<line x1="1642.6" y1="1906.3" x2="1642.6" y2="1919.3" stroke="#2a2a2a" stroke-width="1.6"/>
<text x="1642.6" y="1949.8" font-size="25" text-anchor="middle">21</text>
<line x1="1652.5" y1="1906.3" x2="1652.5" y2="1919.3" stroke="#2a2a2a" stroke-width="1.6"/>
<line x1="1672.5" y1="1906.3" x2="1672.5" y2="1919.3" stroke="#2a2a2a" stroke-width="1.6"/>
<text x="1672.5" y="1949.8" font-size="25" text-anchor="middle">X</text>
<text x="506.5" y="1993" font-size="25" text-anchor="middle">Chromosome</text>
<text x="1291" y="1993" font-size="25" text-anchor="middle">Chromosome</text>
<text x="698" y="1473" font-size="25">Patient OV-045 (<tspan font-style="italic">n</tspan> = 251 cells)</text>
<rect x="1706" y="1487.6" width="21" height="29.1" fill="#cccccb"/>
<rect x="1706" y="1516.7" width="21" height="336.1" fill="#f58d5c"/>
<rect x="1706" y="1852.8" width="21" height="52.9" fill="#b21e25"/>
<rect x="1746.1" y="1487.6" width="20.7" height="2.7" fill="#efe540"/>
<rect x="1746.1" y="1490.2" width="20.7" height="26.6" fill="#f0686a"/>
<rect x="1746.1" y="1516.7" width="20.7" height="94.1" fill="#ec2127"/>
<rect x="1746.1" y="1610.7" width="20.7" height="122.2" fill="#0973b2"/>
<rect x="1746.1" y="1732.8" width="20.7" height="86.6" fill="#efe540"/>
<rect x="1746.1" y="1819.3" width="20.7" height="33.6" fill="#f0686a"/>
<rect x="1746.1" y="1852.8" width="20.7" height="15.1" fill="#ec2127"/>
<rect x="1746.1" y="1867.8" width="20.7" height="10.1" fill="#0973b2"/>
<rect x="1746.1" y="1877.8" width="20.7" height="26.7" fill="#efe540"/>
<rect x="1746.1" y="1904.4" width="20.7" height="1.4" fill="#f0686a"/>
<line x1="1716.5" y1="1906" x2="1716.5" y2="1919" stroke="#2a2a2a" stroke-width="1.6"/>
<line x1="1756.5" y1="1906" x2="1756.5" y2="1919" stroke="#2a2a2a" stroke-width="1.6"/>
<text transform="translate(1725,2005) rotate(-90)" font-size="25">#WGD</text>
<text transform="translate(1765,2016) rotate(-90)" font-size="25">Sample</text>
</g>
<g id="leg">
<text x="1829.2" y="580.6" font-size="25">Age</text>
<defs><linearGradient id="ageg" x1="0" y1="0" x2="0" y2="1"><stop offset="0" stop-color="#07070d"/><stop offset="0.2" stop-color="#33334a"/><stop offset="0.4" stop-color="#57557a"/><stop offset="0.6" stop-color="#7f8a9e"/><stop offset="0.78" stop-color="#a3c1c1"/><stop offset="0.9" stop-color="#d5e6e3"/><stop offset="1" stop-color="#ffffff"/></linearGradient></defs>
<rect x="1832" y="603.1" width="32.8" height="58.8" fill="url(#ageg)"/>
<line x1="1864.8" y1="603.9" x2="1873.6" y2="603.9" stroke="#1a1a1a" stroke-width="1.6"/>
<line x1="1864.8" y1="645.2" x2="1873.6" y2="645.2" stroke="#1a1a1a" stroke-width="1.6"/>
<text x="1884.9" y="611.6" font-size="25">100</text>
<text x="1884.9" y="653.1" font-size="25">50</text>
<text x="1821.5" y="709.3" font-size="25">Signature</text>
<rect x="1817" y="721.8" width="33.6" height="11.9" fill="#753823"/>
<text x="1863" y="735" font-size="25">FBI</text>
<rect x="1817" y="749.5" width="33.6" height="11.9" fill="#678db3"/>
<text x="1863" y="763.3" font-size="25">HRD-Dup</text>
<rect x="1817" y="777.3" width="33.6" height="11.9" fill="#6d9f6f"/>
<text x="1863" y="791" font-size="25">HRD-Del</text>
<rect x="1817" y="805" width="33.6" height="11.9" fill="#be4945"/>
<text x="1863" y="818.4" font-size="25">Tandem</text>
<text x="1863" y="847.8" font-size="25">duplicator</text>
<text x="1984.4" y="580.6" font-size="25"><tspan font-style="italic">BRCA</tspan> status</text>
<rect x="1993.6" y="598.5" width="33.4" height="11.9" fill="#cbcbc9"/>
<text x="2039.6" y="611.8" font-size="25">Wild type</text>
<rect x="1993.6" y="626.3" width="33.4" height="11.9" fill="#385772"/>
<text x="2039.6" y="639" font-size="25">sBRCA1</text>
<rect x="1993.6" y="654.2" width="33.4" height="11.9" fill="#678db3"/>
<text x="2039.6" y="667" font-size="25">gBRCA1</text>
<rect x="1993.6" y="682.5" width="33.4" height="11.9" fill="#6d9f6f"/>
<text x="2039.6" y="695.3" font-size="25">gBRCA2</text>
<rect x="1993.6" y="710.8" width="33.4" height="11.9" fill="#446343"/>
<text x="2039.6" y="723.3" font-size="25">sBRCA2</text>
<text x="1984.8" y="768" font-size="25">WGD class</text>
<rect x="1993.6" y="781.1" width="33.4" height="11.9" fill="#c2934e"/>
<text x="2039.6" y="795.6" font-size="25">WGD-low</text>
<rect x="1993.6" y="808.9" width="33.4" height="11.9" fill="#154a4e"/>
<text x="2039.6" y="823.3" font-size="25">WGD-high</text>
<text x="1902.3" y="905" font-size="28" font-weight="bold" textLength="131.7" lengthAdjust="spacingAndGlyphs" stroke="#000" stroke-width="0.5">WGD-low</text>
<text x="1876.4" y="1224.8" font-size="28" font-weight="bold" textLength="142" lengthAdjust="spacingAndGlyphs" stroke="#000" stroke-width="0.5">WGD-high</text>
<text x="1909.6" y="1001.6" font-size="25" text-anchor="end">Majority</text>
<text x="1909.6" y="1031.5" font-size="25" text-anchor="end">WGD</text>
<text x="1909.6" y="1061.2" font-size="25" text-anchor="end">cells</text>
<text x="1909.6" y="1091.7" font-size="25" text-anchor="end">&gt;50%</text>
<text x="1909.6" y="1307.1" font-size="25" text-anchor="end">Residual</text>
<text x="1909.6" y="1336.7" font-size="25" text-anchor="end">0 × WGD</text>
<text x="1909.6" y="1366.4" font-size="25" text-anchor="end">cells</text>
<text x="1985.5" y="1111.5" font-size="25">Additional WGD</text>
<text x="1985.5" y="1141.4" font-size="25">cells</text>
<line x1="1919.8" y1="1039.3" x2="1950.6" y2="1027.7" stroke="#111" stroke-width="1.4"/>
<line x1="2055.2" y1="1023.3" x2="2077" y2="1082.9" stroke="#111" stroke-width="1.4"/>
<line x1="1908.4" y1="1096.9" x2="1948.8" y2="1198.6" stroke="#111" stroke-width="1.4"/>
<line x1="2095" y1="1129.7" x2="2062.4" y2="1227.7" stroke="#111" stroke-width="1.4"/>
<line x1="1962.8" y1="1237.2" x2="1968.6" y2="1250.3" stroke="#111" stroke-width="1.4"/>
<line x1="1915.4" y1="1328.5" x2="1941.8" y2="1327" stroke="#111" stroke-width="1.4"/>
<g transform="translate(1977.9,948.7) rotate(-32)"><ellipse rx="17" ry="14.2" fill="#ececec" stroke="#111" stroke-width="1.4"/><ellipse cx="1.5" cy="-1.5" rx="11" ry="9.6" fill="#c6c6c6" stroke="#111" stroke-width="1.4"/><path d="M-3 -4l1 4M-2 -4l-1 4M3 -1l1 4M4 -1l-1 4" stroke="#9a9a9a" stroke-width="0.9" fill="none"/></g>
<g transform="translate(2013.1,937) rotate(-32)"><ellipse rx="17" ry="14.2" fill="#ececec" stroke="#111" stroke-width="1.4"/><ellipse cx="1.5" cy="-1.5" rx="11" ry="9.6" fill="#c6c6c6" stroke="#111" stroke-width="1.4"/><path d="M-3 -4l1 4M-2 -4l-1 4M3 -1l1 4M4 -1l-1 4" stroke="#9a9a9a" stroke-width="0.9" fill="none"/></g>
<g transform="translate(2034,955.9) rotate(-32)"><ellipse rx="17" ry="14.2" fill="#ececec" stroke="#111" stroke-width="1.4"/><ellipse cx="1.5" cy="-1.5" rx="11" ry="9.6" fill="#c6c6c6" stroke="#111" stroke-width="1.4"/><path d="M-3 -4l1 4M-2 -4l-1 4M3 -1l1 4M4 -1l-1 4" stroke="#9a9a9a" stroke-width="0.9" fill="none"/></g>
<g transform="translate(2000.6,964.7) rotate(-32)"><ellipse rx="17" ry="14.2" fill="#ececec" stroke="#111" stroke-width="1.4"/><ellipse cx="1.5" cy="-1.5" rx="11" ry="9.6" fill="#c6c6c6" stroke="#111" stroke-width="1.4"/><path d="M-3 -4l1 4M-2 -4l-1 4M3 -1l1 4M4 -1l-1 4" stroke="#9a9a9a" stroke-width="0.9" fill="none"/></g>
<g transform="translate(2028.2,971.9) rotate(-32)"><ellipse rx="17" ry="14.2" fill="#ececec" stroke="#111" stroke-width="1.4"/><ellipse cx="1.5" cy="-1.5" rx="11" ry="9.6" fill="#c6c6c6" stroke="#111" stroke-width="1.4"/><path d="M-3 -4l1 4M-2 -4l-1 4M3 -1l1 4M4 -1l-1 4" stroke="#9a9a9a" stroke-width="0.9" fill="none"/></g>
<g transform="translate(1965.7,976.3) rotate(-32)"><ellipse rx="17" ry="14.2" fill="#ececec" stroke="#111" stroke-width="1.4"/><ellipse cx="1.5" cy="-1.5" rx="11" ry="9.6" fill="#c6c6c6" stroke="#111" stroke-width="1.4"/><path d="M-3 -4l1 4M-2 -4l-1 4M3 -1l1 4M4 -1l-1 4" stroke="#9a9a9a" stroke-width="0.9" fill="none"/></g>
<g transform="translate(2050,978.3) rotate(-32)"><ellipse rx="17" ry="14.2" fill="#ececec" stroke="#111" stroke-width="1.4"/><ellipse cx="1.5" cy="-1.5" rx="11" ry="9.6" fill="#c6c6c6" stroke="#111" stroke-width="1.4"/><path d="M-3 -4l1 4M-2 -4l-1 4M3 -1l1 4M4 -1l-1 4" stroke="#9a9a9a" stroke-width="0.9" fill="none"/></g>
<g transform="translate(1997.7,987.9) rotate(-32)"><ellipse rx="17" ry="14.2" fill="#ececec" stroke="#111" stroke-width="1.4"/><ellipse cx="1.5" cy="-1.5" rx="11" ry="9.6" fill="#c6c6c6" stroke="#111" stroke-width="1.4"/><path d="M-3 -4l1 4M-2 -4l-1 4M3 -1l1 4M4 -1l-1 4" stroke="#9a9a9a" stroke-width="0.9" fill="none"/></g>
<g transform="translate(1967.2,1002.4) rotate(-32)"><ellipse rx="17" ry="14.2" fill="#ececec" stroke="#111" stroke-width="1.4"/><ellipse cx="1.5" cy="-1.5" rx="11" ry="9.6" fill="#c6c6c6" stroke="#111" stroke-width="1.4"/><path d="M-3 -4l1 4M-2 -4l-1 4M3 -1l1 4M4 -1l-1 4" stroke="#9a9a9a" stroke-width="0.9" fill="none"/></g>
<g transform="translate(2023.8,1003.9) rotate(-32)"><ellipse rx="17" ry="14.2" fill="#f9d5c5" stroke="#111" stroke-width="1.4"/><ellipse cx="1.5" cy="-1.5" rx="11" ry="9.6" fill="#f4895a" stroke="#111" stroke-width="1.4"/><path d="M-3 -4l1 4M-2 -4l-1 4M3 -1l1 4M4 -1l-1 4" stroke="#b0826c" stroke-width="0.9" fill="none"/></g>
<g transform="translate(2050,998.1) rotate(-32)"><ellipse rx="17" ry="14.2" fill="#f9d5c5" stroke="#111" stroke-width="1.4"/><ellipse cx="1.5" cy="-1.5" rx="11" ry="9.6" fill="#f4895a" stroke="#111" stroke-width="1.4"/><path d="M-3 -4l1 4M-2 -4l-1 4M3 -1l1 4M4 -1l-1 4" stroke="#b0826c" stroke-width="0.9" fill="none"/></g>
<g transform="translate(1997.7,1014.1) rotate(-32)"><ellipse rx="17" ry="14.2" fill="#ececec" stroke="#111" stroke-width="1.4"/><ellipse cx="1.5" cy="-1.5" rx="11" ry="9.6" fill="#c6c6c6" stroke="#111" stroke-width="1.4"/><path d="M-3 -4l1 4M-2 -4l-1 4M3 -1l1 4M4 -1l-1 4" stroke="#9a9a9a" stroke-width="0.9" fill="none"/></g>
<g transform="translate(2025.3,1024.2) rotate(-32)"><ellipse rx="17" ry="14.2" fill="#f9d5c5" stroke="#111" stroke-width="1.4"/><ellipse cx="1.5" cy="-1.5" rx="11" ry="9.6" fill="#f4895a" stroke="#111" stroke-width="1.4"/><path d="M-3 -4l1 4M-2 -4l-1 4M3 -1l1 4M4 -1l-1 4" stroke="#b0826c" stroke-width="0.9" fill="none"/></g>
<g transform="translate(2039.8,1243.7) rotate(-32)"><ellipse rx="19" ry="15.9" fill="#ecaab0" stroke="#111" stroke-width="1.4"/><ellipse cx="1.5" cy="-1.5" rx="12.3" ry="10.8" fill="#b21e25" stroke="#111" stroke-width="1.4"/><path d="M-3 -4l1 4M-2 -4l-1 4M3 -1l1 4M4 -1l-1 4" stroke="#8a4a4a" stroke-width="0.9" fill="none"/></g>
<g transform="translate(2003.5,1253.9) rotate(-32)"><ellipse rx="17" ry="14.2" fill="#f9d5c5" stroke="#111" stroke-width="1.4"/><ellipse cx="1.5" cy="-1.5" rx="11" ry="9.6" fill="#f4895a" stroke="#111" stroke-width="1.4"/><path d="M-3 -4l1 4M-2 -4l-1 4M3 -1l1 4M4 -1l-1 4" stroke="#b0826c" stroke-width="0.9" fill="none"/></g>
<g transform="translate(2058.7,1265.5) rotate(-32)"><ellipse rx="19" ry="15.9" fill="#ecaab0" stroke="#111" stroke-width="1.4"/><ellipse cx="1.5" cy="-1.5" rx="12.3" ry="10.8" fill="#b21e25" stroke="#111" stroke-width="1.4"/><path d="M-3 -4l1 4M-2 -4l-1 4M3 -1l1 4M4 -1l-1 4" stroke="#8a4a4a" stroke-width="0.9" fill="none"/></g>
<g transform="translate(1975.9,1268.4) rotate(-32)"><ellipse rx="17" ry="14.2" fill="#f9d5c5" stroke="#111" stroke-width="1.4"/><ellipse cx="1.5" cy="-1.5" rx="11" ry="9.6" fill="#f4895a" stroke="#111" stroke-width="1.4"/><path d="M-3 -4l1 4M-2 -4l-1 4M3 -1l1 4M4 -1l-1 4" stroke="#b0826c" stroke-width="0.9" fill="none"/></g>
<g transform="translate(2020.9,1274.2) rotate(-32)"><ellipse rx="17" ry="14.2" fill="#f9d5c5" stroke="#111" stroke-width="1.4"/><ellipse cx="1.5" cy="-1.5" rx="11" ry="9.6" fill="#f4895a" stroke="#111" stroke-width="1.4"/><path d="M-3 -4l1 4M-2 -4l-1 4M3 -1l1 4M4 -1l-1 4" stroke="#b0826c" stroke-width="0.9" fill="none"/></g>
<g transform="translate(1997.7,1283) rotate(-32)"><ellipse rx="17" ry="14.2" fill="#f9d5c5" stroke="#111" stroke-width="1.4"/><ellipse cx="1.5" cy="-1.5" rx="11" ry="9.6" fill="#f4895a" stroke="#111" stroke-width="1.4"/><path d="M-3 -4l1 4M-2 -4l-1 4M3 -1l1 4M4 -1l-1 4" stroke="#b0826c" stroke-width="0.9" fill="none"/></g>
<g transform="translate(1968.6,1293.1) rotate(-32)"><ellipse rx="17" ry="14.2" fill="#f9d5c5" stroke="#111" stroke-width="1.4"/><ellipse cx="1.5" cy="-1.5" rx="11" ry="9.6" fill="#f4895a" stroke="#111" stroke-width="1.4"/><path d="M-3 -4l1 4M-2 -4l-1 4M3 -1l1 4M4 -1l-1 4" stroke="#b0826c" stroke-width="0.9" fill="none"/></g>
<g transform="translate(2048.5,1296) rotate(-32)"><ellipse rx="19" ry="15.9" fill="#ecaab0" stroke="#111" stroke-width="1.4"/><ellipse cx="1.5" cy="-1.5" rx="12.3" ry="10.8" fill="#b21e25" stroke="#111" stroke-width="1.4"/><path d="M-3 -4l1 4M-2 -4l-1 4M3 -1l1 4M4 -1l-1 4" stroke="#8a4a4a" stroke-width="0.9" fill="none"/></g>
<g transform="translate(2018,1301.9) rotate(-32)"><ellipse rx="17" ry="14.2" fill="#f9d5c5" stroke="#111" stroke-width="1.4"/><ellipse cx="1.5" cy="-1.5" rx="11" ry="9.6" fill="#f4895a" stroke="#111" stroke-width="1.4"/><path d="M-3 -4l1 4M-2 -4l-1 4M3 -1l1 4M4 -1l-1 4" stroke="#b0826c" stroke-width="0.9" fill="none"/></g>
<g transform="translate(1990.4,1307.7) rotate(-32)"><ellipse rx="17" ry="14.2" fill="#f9d5c5" stroke="#111" stroke-width="1.4"/><ellipse cx="1.5" cy="-1.5" rx="11" ry="9.6" fill="#f4895a" stroke="#111" stroke-width="1.4"/><path d="M-3 -4l1 4M-2 -4l-1 4M3 -1l1 4M4 -1l-1 4" stroke="#b0826c" stroke-width="0.9" fill="none"/></g>
<g transform="translate(1965.1,1322.2) rotate(-32)"><ellipse rx="17" ry="14.2" fill="#ececec" stroke="#111" stroke-width="1.4"/><ellipse cx="1.5" cy="-1.5" rx="11" ry="9.6" fill="#c6c6c6" stroke="#111" stroke-width="1.4"/><path d="M-3 -4l1 4M-2 -4l-1 4M3 -1l1 4M4 -1l-1 4" stroke="#9a9a9a" stroke-width="0.9" fill="none"/></g>
<g transform="translate(2046.5,1322.8) rotate(-32)"><ellipse rx="17" ry="14.2" fill="#f9d5c5" stroke="#111" stroke-width="1.4"/><ellipse cx="1.5" cy="-1.5" rx="11" ry="9.6" fill="#f4895a" stroke="#111" stroke-width="1.4"/><path d="M-3 -4l1 4M-2 -4l-1 4M3 -1l1 4M4 -1l-1 4" stroke="#b0826c" stroke-width="0.9" fill="none"/></g>
<g transform="translate(1993.3,1328) rotate(-32)"><ellipse rx="17" ry="14.2" fill="#f9d5c5" stroke="#111" stroke-width="1.4"/><ellipse cx="1.5" cy="-1.5" rx="11" ry="9.6" fill="#f4895a" stroke="#111" stroke-width="1.4"/><path d="M-3 -4l1 4M-2 -4l-1 4M3 -1l1 4M4 -1l-1 4" stroke="#b0826c" stroke-width="0.9" fill="none"/></g>
<g transform="translate(2019.5,1329.5) rotate(-32)"><ellipse rx="17" ry="14.2" fill="#f9d5c5" stroke="#111" stroke-width="1.4"/><ellipse cx="1.5" cy="-1.5" rx="11" ry="9.6" fill="#f4895a" stroke="#111" stroke-width="1.4"/><path d="M-3 -4l1 4M-2 -4l-1 4M3 -1l1 4M4 -1l-1 4" stroke="#b0826c" stroke-width="0.9" fill="none"/></g>
<text x="1815" y="1502.6" font-size="25">Total copy number</text>
<rect x="1800" y="1518.3" width="41" height="16.3" fill="#3180bb"/>
<text x="1852.6" y="1534" font-size="25">0</text>
<rect x="1800" y="1548.7" width="41" height="16.3" fill="#a0c9e1"/>
<text x="1852.6" y="1564.6" font-size="25">1</text>
<rect x="1800" y="1579.4" width="41" height="16.3" fill="#cccccb"/>
<text x="1852.6" y="1595" font-size="25">2</text>
<rect x="1800" y="1609.7" width="41" height="16.3" fill="#fdcc8a"/>
<text x="1852.6" y="1625.7" font-size="25">3</text>
<rect x="1898.6" y="1518.3" width="41" height="16.3" fill="#f58d5c"/>
<text x="1951.9" y="1534" font-size="25">4</text>
<rect x="1898.6" y="1548.7" width="41" height="16.3" fill="#e04a31"/>
<text x="1951.9" y="1564.6" font-size="25">5</text>
<rect x="1898.6" y="1579.4" width="41" height="16.3" fill="#b21e25"/>
<text x="1951.9" y="1595" font-size="25">6</text>
<rect x="1898.6" y="1609.7" width="41" height="16.3" fill="#981a47"/>
<text x="1951.9" y="1625.7" font-size="25">7</text>
<rect x="1997.3" y="1518.3" width="41" height="16.3" fill="#db1a78"/>
<text x="2050.9" y="1534" font-size="25">8</text>
<rect x="1997.3" y="1548.7" width="41" height="16.3" fill="#d766a7"/>
<text x="2050.9" y="1564.6" font-size="25">9</text>
<rect x="1997.3" y="1579.4" width="41" height="16.3" fill="#c78fc2"/>
<text x="2050.9" y="1595" font-size="25">10</text>
<rect x="1997.3" y="1609.7" width="41" height="16.3" fill="#d4b9da"/>
<text x="2050.9" y="1625.7" font-size="25">11</text>
<text x="1873" y="1665.5" font-size="25">Allele copy number</text>
<rect x="1872.3" y="1680.5" width="41.4" height="16.3" fill="#559540"/>
<text x="1925.6" y="1696.2" font-size="25">A-Hom</text>
<rect x="1872.3" y="1710.9" width="41.4" height="16.3" fill="#94c773"/>
<text x="1925.6" y="1726.6" font-size="25">A-Gained</text>
<rect x="1872.3" y="1741.6" width="41.4" height="16.3" fill="#d6d6d5"/>
<text x="1925.6" y="1757.3" font-size="25">Balanced</text>
<rect x="1872.3" y="1772" width="41.4" height="16.3" fill="#7b55a3"/>
<text x="1925.6" y="1787.6" font-size="25">B-Gained</text>
<rect x="1872.3" y="1802.4" width="41.4" height="16.3" fill="#47286f"/>
<text x="1925.6" y="1818" font-size="25">B-Hom</text>
<text x="1795.6" y="1863.4" font-size="25">Number</text>
<text x="1790.6" y="1892.6" font-size="25">of WGDs</text>
<rect x="1812.2" y="1913.5" width="41.3" height="16.3" fill="#b21e25"/>
<text x="1865.1" y="1928.6" font-size="25">2</text>
<rect x="1812.2" y="1943.6" width="41.3" height="16.3" fill="#f58d5c"/>
<text x="1865.1" y="1959" font-size="25">1</text>
<rect x="1812.2" y="1974" width="41.3" height="16.3" fill="#cccccb"/>
<text x="1865.1" y="1989.6" font-size="25">0</text>
<text x="1940.3" y="1862.8" font-size="25">Sample</text>
<rect x="1942.5" y="1880" width="41" height="16.3" fill="#ec2127"/>
<text x="1994.5" y="1895.1" font-size="25">Left adnexa</text>
<rect x="1942.5" y="1910.4" width="41" height="16.3" fill="#0973b2"/>
<text x="1994.5" y="1924.8" font-size="25">Omentum</text>
<rect x="1942.5" y="1940.5" width="41" height="16.3" fill="#efe540"/>
<text x="1994.5" y="1955.2" font-size="25">Peritoneum</text>
<rect x="1942.5" y="1970.9" width="41" height="16.3" fill="#f0686a"/>
<text x="1994.5" y="1985.9" font-size="25">Right adnexa</text>
<ellipse cx="83" cy="1446.9" rx="38.5" ry="32.5" fill="#f0f0f0" stroke="#111" stroke-width="1.7" transform="rotate(-25 83 1446.9)"/>
<ellipse cx="83.7" cy="1441.8" rx="24" ry="20.3" fill="#c8c8c8" stroke="#111" stroke-width="1.7" transform="rotate(-30 83.7 1441.8)"/>
<path d="M70.8 1434.8l1.6 5.1l-1.6 5.1M75.2 1434.8l-1.6 5.1l1.6 5.1M81.1 1428.3l1.6 5.1l-1.6 5.1M85.6 1428.3l-1.6 5.1l1.6 5.1M90.8 1439.3l1.6 5.1l-1.6 5.1M95.3 1439.3l-1.6 5.1l1.6 5.1" stroke="#a6a6a6" stroke-width="1.8" fill="none"/>
<ellipse cx="80.3" cy="1697.9" rx="43" ry="36.5" fill="#f9d8c9" stroke="#111" stroke-width="1.7" transform="rotate(-25 80.3 1697.9)"/>
<ellipse cx="82" cy="1691.2" rx="27" ry="22.5" fill="#f4895a" stroke="#111" stroke-width="1.7" transform="rotate(-30 82 1691.2)"/>
<path d="M63.2 1685.2l1.6 5.1l-1.6 5.1M67.7 1685.2l-1.6 5.1l1.6 5.1M73.5 1678.9l1.6 5.1l-1.6 5.1M78 1678.9l-1.6 5.1l1.6 5.1M85.4 1675.4l1.6 5.1l-1.6 5.1M89.9 1675.4l-1.6 5.1l1.6 5.1M93 1686.9l1.6 5.1l-1.6 5.1M97.5 1686.9l-1.6 5.1l1.6 5.1M79 1696.4l1.6 5.1l-1.6 5.1M83.5 1696.4l-1.6 5.1l1.6 5.1" stroke="#c08e78" stroke-width="1.8" fill="none"/>
<ellipse cx="75.3" cy="1972.4" rx="49.5" ry="41" fill="#ecaab0" stroke="#111" stroke-width="1.7" transform="rotate(-25 75.3 1972.4)"/>
<ellipse cx="77" cy="1967.4" rx="31" ry="25.5" fill="#b21e25" stroke="#111" stroke-width="1.7" transform="rotate(-30 77 1967.4)"/>
<path d="M55.8 1956.1l1.6 5.1l-1.6 5.1M60.3 1956.1l-1.6 5.1l1.6 5.1M66.2 1949.2l1.6 5.1l-1.6 5.1M70.7 1949.2l-1.6 5.1l1.6 5.1M78.2 1946.2l1.6 5.1l-1.6 5.1M82.7 1946.2l-1.6 5.1l1.6 5.1M89.2 1948.5l1.6 5.1l-1.6 5.1M93.7 1948.5l-1.6 5.1l1.6 5.1M71.3 1966.8l1.6 5.1l-1.6 5.1M75.8 1966.8l-1.6 5.1l1.6 5.1M82 1972.1l1.6 5.1l-1.6 5.1M86.5 1972.1l-1.6 5.1l1.6 5.1M92.8 1967.6l1.6 5.1l-1.6 5.1M97.3 1967.6l-1.6 5.1l1.6 5.1M62 1975.6l1.6 5.1l-1.6 5.1M66.5 1975.6l-1.6 5.1l1.6 5.1" stroke="#a35f5f" stroke-width="1.8" fill="none"/>
<text x="107.1" y="1508.8" font-size="25" text-anchor="end">0×WGD</text>
<text x="107.1" y="1538.2" font-size="25" text-anchor="end">cell</text>
<line x1="116.5" y1="1514.5" x2="127" y2="1514.5" stroke="#000" stroke-width="3.8"/>
<path d="M139.5 1514.5l-16 -7.6l4.4 7.6l-4.4 7.6z" fill="#000"/>
<text x="107.1" y="1763.2" font-size="25" text-anchor="end">1×WGD</text>
<text x="107.1" y="1792.3" font-size="25" text-anchor="end">cell</text>
<line x1="116.5" y1="1770.5" x2="127" y2="1770.5" stroke="#000" stroke-width="3.8"/>
<path d="M139.5 1770.5l-16 -7.6l4.4 7.6l-4.4 7.6z" fill="#000"/>
<text x="107.1" y="1894.7" font-size="25" text-anchor="end">2×WGD</text>
<text x="107.1" y="1923.8" font-size="25" text-anchor="end">cell</text>
<line x1="116.5" y1="1898.7" x2="127" y2="1898.7" stroke="#000" stroke-width="3.8"/>
<path d="M139.5 1898.7l-16 -7.6l4.4 7.6l-4.4 7.6z" fill="#000"/>
</g>
</svg>
</body></html>
